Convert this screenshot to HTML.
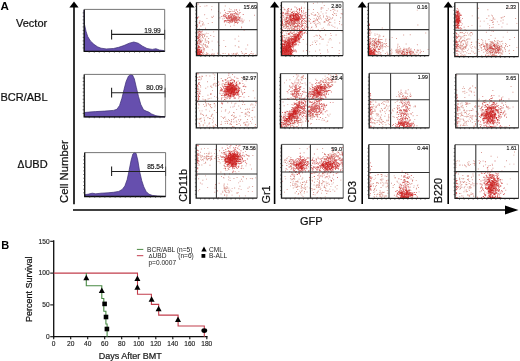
<!DOCTYPE html><html><head><meta charset="utf-8"><style>html,body{margin:0;padding:0;background:#fff;width:520px;height:361px;overflow:hidden;}body{font-family:"Liberation Sans", sans-serif;position:relative;}</style></head><body><svg width="520" height="361" viewBox="0 0 520 361" style="position:absolute;left:0;top:0" font-family="'Liberation Sans', sans-serif"><defs><filter id="bl" x="-5%" y="-5%" width="110%" height="110%"><feGaussianBlur stdDeviation="0.35"/></filter><filter id="gb" x="0" y="0" width="100%" height="100%"><feGaussianBlur stdDeviation="0.3"/></filter></defs><rect width="520" height="361" fill="#fff"/><g filter="url(#gb)"><text x="0.6" y="9.6" font-size="11.6" text-anchor="start" font-weight="bold" fill="#000" >A</text><text x="16" y="26.8" font-size="11" text-anchor="start" font-weight="normal" fill="#111" stroke="#111" stroke-width=".22">Vector</text><text x="0.5" y="101" font-size="11" text-anchor="start" font-weight="normal" fill="#111" stroke="#111" stroke-width=".22">BCR/ABL</text><text x="17.6" y="168" font-size="11" fill="#111" stroke="#111" stroke-width=".22"><tspan font-size="10.2">&#916;</tspan>UBD</text><path d="M84.2 51.4L84.2 10.3L84.5 24.5L85.1 27.1L86 31.2L87.7 36.5L90.4 40.9L93.9 44.3L97.5 46.8L101 48.2L106.3 48.9L113.4 48.5L118.7 47.3L124 45.5L129.3 43.2L133.8 42L138.2 43.2L142.6 46.2L147 48.5L152.3 49.4L155.9 48.7L159.4 50L164.7 50.7L164.7 51.4Z" fill="#6650ae" stroke="#3a2b72" stroke-width=".7"/><path d="M84.2 9.4H164.7V51.4" fill="none" stroke="#666" stroke-width=".9"/><path d="M84.2 9.4V51.4H164.7" fill="none" stroke="#111" stroke-width="1.3"/><path d="M82.7 47.9h1.5M82.7 44.4h1.5M82.7 40.9h1.5M82.7 37.4h1.5M82.7 33.9h1.5M82.7 30.4h1.5M82.7 26.9h1.5M82.7 23.4h1.5M82.7 19.9h1.5M82.7 16.4h1.5M82.7 12.9h1.5M89.2 51.4v1.3M94.3 51.4v1.3M99.3 51.4v1.3M104.3 51.4v1.3M109.4 51.4v1.3M114.4 51.4v1.3M119.4 51.4v1.3M124.5 51.4v1.3M129.5 51.4v1.3M134.5 51.4v1.3M139.6 51.4v1.3M144.6 51.4v1.3M149.6 51.4v1.3M154.7 51.4v1.3M159.7 51.4v1.3" stroke="#222" stroke-width=".6"/><line x1="111.6" y1="34.4" x2="164.7" y2="34.4" stroke="#222" stroke-width="1.1"/><line x1="111.6" y1="29.8" x2="111.6" y2="39.5" stroke="#222" stroke-width="1.1"/><line x1="164.7" y1="29.8" x2="164.7" y2="39.5" stroke="#444" stroke-width="0.9"/><text x="144.2" y="32.5" font-size="7.7" fill="#151515" stroke="#151515" stroke-width=".18" textLength="16.6" lengthAdjust="spacingAndGlyphs">19.99</text><path d="M84.4 116.9L84.4 112.5L88.6 112.1L95.7 111.6L104.5 111.1L113.4 110.4L116.9 109.3L119.6 105.4L121.9 98.3L124 89.5L126.1 81.5L128.4 76.2L130.6 74.4L132.5 75L134.3 78.8L136.4 87.7L138.5 96.5L140.8 104.5L143.5 109.8L146.1 111.1L148.8 112.1L151.5 113.9L155.9 115.7L161.2 116.5L165.1 116.9L165.1 116.9Z" fill="#6650ae" stroke="#3a2b72" stroke-width=".7"/><path d="M84.2 74.4H165.1V116.9" fill="none" stroke="#666" stroke-width=".9"/><path d="M84.2 74.4V116.9H165.1" fill="none" stroke="#111" stroke-width="1.3"/><path d="M82.7 113.4h1.5M82.7 109.8h1.5M82.7 106.3h1.5M82.7 102.7h1.5M82.7 99.2h1.5M82.7 95.7h1.5M82.7 92.1h1.5M82.7 88.6h1.5M82.7 85h1.5M82.7 81.5h1.5M82.7 78h1.5M89.2 116.9v1.3M94.3 116.9v1.3M99.4 116.9v1.3M104.4 116.9v1.3M109.5 116.9v1.3M114.5 116.9v1.3M119.6 116.9v1.3M124.6 116.9v1.3M129.7 116.9v1.3M134.7 116.9v1.3M139.8 116.9v1.3M144.9 116.9v1.3M149.9 116.9v1.3M155 116.9v1.3M160 116.9v1.3" stroke="#222" stroke-width=".6"/><line x1="111.6" y1="92.7" x2="165.1" y2="92.7" stroke="#222" stroke-width="1.1"/><line x1="111.6" y1="87.7" x2="111.6" y2="97.4" stroke="#222" stroke-width="1.1"/><line x1="165.1" y1="87.7" x2="165.1" y2="97.4" stroke="#444" stroke-width="0.9"/><text x="146.2" y="89.6" font-size="7" fill="#151515" stroke="#151515" stroke-width=".18" textLength="16.6" lengthAdjust="spacingAndGlyphs">80.09</text><path d="M84.9 196.5L84.9 194.7L88.6 194.1L92.2 193.2L95.7 193.8L101 193.2L108.1 192.8L113.4 192.3L118.7 191.4L122.2 189.5L124.9 185.9L127.2 179.5L129.3 169.4L131.1 160.3L132.9 153.9L134.3 152.6L136.1 153.3L137.8 160.3L139.6 171.3L141.7 180.4L143.8 186.8L146.1 191.4L148.8 194.1L152.3 195.4L157.6 196.1L165.6 196.5L165.6 196.5Z" fill="#6650ae" stroke="#3a2b72" stroke-width=".7"/><path d="M84.7 152.6H165.6V196.5" fill="none" stroke="#666" stroke-width=".9"/><path d="M84.7 152.6V196.5H165.6" fill="none" stroke="#111" stroke-width="1.3"/><path d="M83.2 192.8h1.5M83.2 189.2h1.5M83.2 185.5h1.5M83.2 181.9h1.5M83.2 178.2h1.5M83.2 174.5h1.5M83.2 170.9h1.5M83.2 167.2h1.5M83.2 163.6h1.5M83.2 159.9h1.5M83.2 156.3h1.5M89.8 196.5v1.3M94.8 196.5v1.3M99.9 196.5v1.3M104.9 196.5v1.3M110 196.5v1.3M115.1 196.5v1.3M120.1 196.5v1.3M125.2 196.5v1.3M130.2 196.5v1.3M135.3 196.5v1.3M140.3 196.5v1.3M145.4 196.5v1.3M150.4 196.5v1.3M155.5 196.5v1.3M160.6 196.5v1.3" stroke="#222" stroke-width=".6"/><line x1="111.6" y1="171.5" x2="165.6" y2="171.5" stroke="#222" stroke-width="1.1"/><line x1="111.6" y1="166.6" x2="111.6" y2="176" stroke="#222" stroke-width="1.1"/><line x1="165.6" y1="166.6" x2="165.6" y2="176" stroke="#444" stroke-width="0.9"/><text x="147.2" y="169.3" font-size="7" fill="#151515" stroke="#151515" stroke-width=".18" textLength="16.5" lengthAdjust="spacingAndGlyphs">85.54</text><line x1="74" y1="6.5" x2="74" y2="204.3" stroke="#000" stroke-width="1.6"/><path d="M69.4 7.5L74 1.5L78.6 7.5Z" fill="#000"/><line x1="190" y1="6.5" x2="190" y2="204" stroke="#000" stroke-width="1.6"/><path d="M185.4 7.5L190 1.5L194.6 7.5Z" fill="#000"/><line x1="274.6" y1="6.5" x2="274.6" y2="204" stroke="#000" stroke-width="1.6"/><path d="M270 7.5L274.6 1.5L279.2 7.5Z" fill="#000"/><line x1="362.2" y1="6.5" x2="362.2" y2="204" stroke="#000" stroke-width="1.6"/><path d="M357.6 7.5L362.2 1.5L366.8 7.5Z" fill="#000"/><line x1="448.2" y1="6.5" x2="448.2" y2="204" stroke="#000" stroke-width="1.6"/><path d="M443.6 7.5L448.2 1.5L452.8 7.5Z" fill="#000"/><line x1="73" y1="210" x2="507" y2="210" stroke="#000" stroke-width="1.6"/><path d="M505 205.6L518.5 210L505 214.4Z" fill="#000"/><text x="300" y="224.6" font-size="11" text-anchor="start" font-weight="normal" fill="#111" stroke="#111" stroke-width=".22">GFP</text><text transform="translate(67.8 203) rotate(-90)" font-size="11.3" fill="#111" stroke="#111" stroke-width=".22">Cell Number</text><text transform="translate(187 201.8) rotate(-90)" font-size="10.8" fill="#111" stroke="#111" stroke-width=".22">CD11b</text><text transform="translate(269.6 203.4) rotate(-90)" font-size="10.8" fill="#111" stroke="#111" stroke-width=".22">Gr1</text><text transform="translate(356.2 202.6) rotate(-90)" font-size="10.8" fill="#111" stroke="#111" stroke-width=".22">CD3</text><text transform="translate(441.6 203.2) rotate(-90)" font-size="10.8" fill="#111" stroke="#111" stroke-width=".22">B220</text><g filter="url(#bl)"><path d="M234.5 22.1h.9v.9h-.9zM234.6 16.5h.9v.9h-.9zM234.7 13.1h.9v.9h-.9zM219.5 17.7h.9v.9h-.9zM225.8 20.7h.9v.9h-.9zM224.8 5.6h.9v.9h-.9zM225 24.5h.9v.9h-.9zM229.3 11.2h.9v.9h-.9zM226.8 19.7h.9v.9h-.9zM235 18.2h.9v.9h-.9zM241.4 20.6h.9v.9h-.9zM231.7 20.1h.9v.9h-.9zM242.6 21.8h.9v.9h-.9zM238.5 12.5h.9v.9h-.9zM230.8 20.7h.9v.9h-.9zM229.9 22.2h.9v.9h-.9zM235.7 21.5h.9v.9h-.9zM230.4 28.9h.9v.9h-.9zM239.9 16.4h.9v.9h-.9zM232.4 29.1h.9v.9h-.9zM229.6 21.3h.9v.9h-.9zM238.2 17.4h.9v.9h-.9zM224.2 18.2h.9v.9h-.9zM234.1 22.5h.9v.9h-.9zM236.9 17.5h.9v.9h-.9zM237.3 19.8h.9v.9h-.9zM233.1 17.6h.9v.9h-.9zM230.2 20.5h.9v.9h-.9zM224.9 14.6h.9v.9h-.9zM231.8 10.8h.9v.9h-.9zM229 8.4h.9v.9h-.9zM227.4 20h.9v.9h-.9zM235.5 17.2h.9v.9h-.9zM230.3 11h.9v.9h-.9zM243.7 19.7h.9v.9h-.9zM238.9 13.4h.9v.9h-.9zM230.6 9.2h.9v.9h-.9zM236.9 21.6h.9v.9h-.9zM219.5 17.2h.9v.9h-.9zM235.9 9.5h.9v.9h-.9zM219.9 12.6h.9v.9h-.9zM227.7 11.1h.9v.9h-.9zM232 18.5h.9v.9h-.9zM235.9 20.6h.9v.9h-.9zM241.6 22.6h.9v.9h-.9zM203 43.3h.9v.9h-.9zM208 42.4h.9v.9h-.9zM197.9 54.4h.9v.9h-.9zM211.8 22.1h.9v.9h-.9zM202.8 43.8h.9v.9h-.9zM206.9 46h.9v.9h-.9zM201.9 30.5h.9v.9h-.9zM203.4 49.3h.9v.9h-.9zM198.6 30.8h.9v.9h-.9zM202.9 22.6h.9v.9h-.9zM202 36.1h.9v.9h-.9zM204.8 33.7h.9v.9h-.9zM199.5 36.5h.9v.9h-.9zM202.8 34h.9v.9h-.9zM203 46.8h.9v.9h-.9zM207.7 54.4h.9v.9h-.9zM199.9 36.2h.9v.9h-.9zM197 54.4h.9v.9h-.9zM200.1 39.7h.9v.9h-.9zM205.1 27.8h.9v.9h-.9zM204.9 39.8h.9v.9h-.9zM197 42.6h.9v.9h-.9zM207.8 23.2h.9v.9h-.9zM206.2 41.9h.9v.9h-.9zM204.9 44h.9v.9h-.9zM208.2 38h.9v.9h-.9zM206.5 36.3h.9v.9h-.9zM205.9 32.7h.9v.9h-.9zM202.6 54.4h.9v.9h-.9zM204.8 38.6h.9v.9h-.9zM198.4 32.9h.9v.9h-.9zM203.8 48.5h.9v.9h-.9zM204.7 44.7h.9v.9h-.9zM202.8 52.2h.9v.9h-.9zM201.4 35.1h.9v.9h-.9zM206.6 40.6h.9v.9h-.9zM201.9 34.8h.9v.9h-.9zM202 45.6h.9v.9h-.9zM204.4 29.1h.9v.9h-.9zM204.7 41.6h.9v.9h-.9zM199 47h.9v.9h-.9zM201.9 37h.9v.9h-.9zM206.2 51.9h.9v.9h-.9zM200.2 43.9h.9v.9h-.9zM199.5 54.4h.9v.9h-.9zM201 50.8h.9v.9h-.9zM200.4 47.3h.9v.9h-.9zM211.9 17.1h.9v.9h-.9zM201.3 44.5h.9v.9h-.9zM202.6 34h.9v.9h-.9zM211.6 40.7h.9v.9h-.9zM197 47.7h.9v.9h-.9zM197 50.4h.9v.9h-.9zM200.7 41.3h.9v.9h-.9zM208 41.1h.9v.9h-.9zM197.4 24.7h.9v.9h-.9zM207.7 46.7h.9v.9h-.9zM199.7 47.7h.9v.9h-.9zM205 45.8h.9v.9h-.9zM197 37.3h.9v.9h-.9zM206.6 46.6h.9v.9h-.9zM206.5 17.9h.9v.9h-.9zM203.7 44.4h.9v.9h-.9zM213.2 31.4h.9v.9h-.9zM201.7 40.3h.9v.9h-.9zM206.5 36h.9v.9h-.9zM207.6 32.9h.9v.9h-.9zM204.1 35.3h.9v.9h-.9zM203.6 33.8h.9v.9h-.9zM197 49.8h.9v.9h-.9zM204.2 35h.9v.9h-.9zM203.8 48.9h.9v.9h-.9zM199.1 39h.9v.9h-.9zM205.2 44.7h.9v.9h-.9zM201.7 21h.9v.9h-.9zM208 43h.9v.9h-.9zM203.1 37.5h.9v.9h-.9zM204.1 36.2h.9v.9h-.9zM198.9 33.3h.9v.9h-.9zM200.6 34.5h.9v.9h-.9zM198.4 45.7h.9v.9h-.9zM197.8 45.9h.9v.9h-.9zM198.9 43.2h.9v.9h-.9zM208.5 41.8h.9v.9h-.9zM200.1 40.4h.9v.9h-.9zM203.6 24.4h.9v.9h-.9zM200.6 41.5h.9v.9h-.9zM201.1 40.7h.9v.9h-.9zM205.9 46.9h.9v.9h-.9zM206.6 45.3h.9v.9h-.9zM201.8 39.8h.9v.9h-.9zM201.9 37.2h.9v.9h-.9zM202.3 24.5h.9v.9h-.9zM201.7 39.8h.9v.9h-.9zM199.1 39.8h.9v.9h-.9zM205.1 38.5h.9v.9h-.9zM211.3 16.5h.9v.9h-.9zM202.2 23.6h.9v.9h-.9zM206.9 54.4h.9v.9h-.9zM197 41.2h.9v.9h-.9zM251.3 52.9h.9v.9h-.9zM244.1 54.4h.9v.9h-.9zM203.7 53.4h.9v.9h-.9zM242.3 52.9h.9v.9h-.9zM250.2 53.2h.9v.9h-.9zM245.7 52.9h.9v.9h-.9zM228.1 54.4h.9v.9h-.9zM211.7 53.2h.9v.9h-.9zM228.3 53.3h.9v.9h-.9zM202.1 53h.9v.9h-.9zM209 54.4h.9v.9h-.9zM238.1 54.4h.9v.9h-.9zM209.4 54.5h.9v.9h-.9zM206.4 53.8h.9v.9h-.9zM235.6 53.4h.9v.9h-.9zM248.9 53.9h.9v.9h-.9zM232.5 54.4h.9v.9h-.9zM205.9 54.4h.9v.9h-.9zM235.3 53.5h.9v.9h-.9zM244.7 53.2h.9v.9h-.9zM255.5 53.9h.9v.9h-.9zM220.2 54.4h.9v.9h-.9zM224.8 52.9h.9v.9h-.9zM241.6 52.6h.9v.9h-.9zM245.9 53.1h.9v.9h-.9zM235.8 54.4h.9v.9h-.9zM232.8 54.2h.9v.9h-.9zM217.5 52.5h.9v.9h-.9zM201.9 52.9h.9v.9h-.9zM234.5 53.6h.9v.9h-.9zM228.7 54.4h.9v.9h-.9zM207.4 53.1h.9v.9h-.9zM236.6 52.6h.9v.9h-.9zM200.1 53.4h.9v.9h-.9zM206 53.4h.9v.9h-.9zM212.6 54h.9v.9h-.9zM233 53h.9v.9h-.9zM234.9 53.7h.9v.9h-.9zM207.5 54.4h.9v.9h-.9zM213.6 52.9h.9v.9h-.9zM205.4 54.1h.9v.9h-.9zM248.8 54.5h.9v.9h-.9zM222.5 53.2h.9v.9h-.9zM200.6 54.1h.9v.9h-.9zM231.5 53.4h.9v.9h-.9zM236.2 53.6h.9v.9h-.9zM252.5 54.3h.9v.9h-.9zM213.9 54.4h.9v.9h-.9zM202.5 53.8h.9v.9h-.9zM222.7 53.1h.9v.9h-.9zM203.3 54.4h.9v.9h-.9zM200.7 53.9h.9v.9h-.9zM252.7 52.9h.9v.9h-.9zM211.2 54h.9v.9h-.9zM228.4 54.1h.9v.9h-.9zM245.5 52.9h.9v.9h-.9zM217.3 53.3h.9v.9h-.9zM202.7 54.4h.9v.9h-.9zM243.8 54.3h.9v.9h-.9zM200.4 54.4h.9v.9h-.9zM241.2 27.3h.9v.9h-.9zM241 26.6h.9v.9h-.9zM211.1 9.3h.9v.9h-.9zM211.5 5.9h.9v.9h-.9zM217.5 41.5h.9v.9h-.9zM238.3 46.3h.9v.9h-.9zM239.3 17.3h.9v.9h-.9zM230.1 25.8h.9v.9h-.9zM243.7 30.2h.9v.9h-.9zM213.4 36.1h.9v.9h-.9zM254 14.8h.9v.9h-.9zM249 4.8h.9v.9h-.9zM213.1 15.8h.9v.9h-.9zM241.1 51.2h.9v.9h-.9zM241.3 20.3h.9v.9h-.9zM249 20.4h.9v.9h-.9zM211.9 49.4h.9v.9h-.9zM234.6 38.6h.9v.9h-.9zM236.6 53h.9v.9h-.9zM225.2 46h.9v.9h-.9zM238.5 46.9h.9v.9h-.9zM223.4 40.2h.9v.9h-.9zM231.1 19.4h.9v.9h-.9zM210.3 35.1h.9v.9h-.9zM202.5 49.5h.9v.9h-.9zM206.4 5.3h.9v.9h-.9zM204.2 50.4h.9v.9h-.9zM218 11.1h.9v.9h-.9zM199.7 6.1h.9v.9h-.9zM238.2 35.7h.9v.9h-.9zM238.4 40.8h.9v.9h-.9zM201.8 33.5h.9v.9h-.9zM219.1 44.9h.9v.9h-.9zM245.5 48.6h.9v.9h-.9zM201.8 47.4h.9v.9h-.9zM251 51.2h.9v.9h-.9zM204.2 14.3h.9v.9h-.9zM204.5 5.7h.9v.9h-.9zM247.2 44.6h.9v.9h-.9zM234.8 45.3h.9v.9h-.9z" fill="#b8382a" fill-opacity=".55"/><path d="M230.8 18.9h.9v.9h-.9zM230.9 16.5h.9v.9h-.9zM228.1 16.8h.9v.9h-.9zM236.2 18.7h.9v.9h-.9zM235.9 18.1h.9v.9h-.9zM233.4 18h.9v.9h-.9zM225.1 20h.9v.9h-.9zM233.8 18.9h.9v.9h-.9zM225 12.2h.9v.9h-.9zM228.2 16h.9v.9h-.9zM233 17.3h.9v.9h-.9zM233.9 15.5h.9v.9h-.9zM233 18.6h.9v.9h-.9zM229.2 22.6h.9v.9h-.9zM234 21h.9v.9h-.9zM229.3 15.2h.9v.9h-.9zM230.4 17.1h.9v.9h-.9zM234.3 18.1h.9v.9h-.9zM230 14.5h.9v.9h-.9zM229.7 21.1h.9v.9h-.9zM228.6 18.1h.9v.9h-.9zM233.5 12.9h.9v.9h-.9zM232 21.3h.9v.9h-.9zM223.7 16.4h.9v.9h-.9zM231.4 14.9h.9v.9h-.9zM233.8 17.2h.9v.9h-.9zM225.9 19.9h.9v.9h-.9zM234.5 20.2h.9v.9h-.9zM237.6 18.5h.9v.9h-.9zM232.3 13.5h.9v.9h-.9zM234.3 15.6h.9v.9h-.9zM230 13.6h.9v.9h-.9zM227.9 15.8h.9v.9h-.9zM237 11.3h.9v.9h-.9zM226 18.1h.9v.9h-.9zM237.6 19.1h.9v.9h-.9zM224.2 9.8h.9v.9h-.9zM233.2 15.2h.9v.9h-.9zM227.3 20.3h.9v.9h-.9zM236.2 17.9h.9v.9h-.9zM232.8 18.7h.9v.9h-.9zM238.2 19.3h.9v.9h-.9zM233.9 19h.9v.9h-.9zM225.5 21.2h.9v.9h-.9zM235.6 19h.9v.9h-.9zM223.9 15.5h.9v.9h-.9zM235.2 12h.9v.9h-.9zM231.1 20.5h.9v.9h-.9zM226.6 22.2h.9v.9h-.9zM234 16.9h.9v.9h-.9zM233.1 19.3h.9v.9h-.9zM232.3 20.8h.9v.9h-.9zM229.2 16.2h.9v.9h-.9zM236 17.5h.9v.9h-.9zM228.3 20.2h.9v.9h-.9zM237.7 16.1h.9v.9h-.9zM226.3 17h.9v.9h-.9zM231.2 16.5h.9v.9h-.9zM237.4 14.3h.9v.9h-.9zM236.8 13.6h.9v.9h-.9zM228.7 19.3h.9v.9h-.9zM236.3 20h.9v.9h-.9zM233.2 17.8h.9v.9h-.9zM232.4 19.1h.9v.9h-.9zM231.1 18.2h.9v.9h-.9zM234.1 17.4h.9v.9h-.9zM234.9 19.1h.9v.9h-.9zM239.8 18.4h.9v.9h-.9zM230.1 16.3h.9v.9h-.9zM231.7 20.2h.9v.9h-.9zM230.5 18.6h.9v.9h-.9zM239.1 9.7h.9v.9h-.9zM227.3 18.1h.9v.9h-.9zM233.4 18.1h.9v.9h-.9zM230.1 19.4h.9v.9h-.9zM232.9 15.8h.9v.9h-.9zM241.5 18.5h.9v.9h-.9zM229.6 17.1h.9v.9h-.9zM230.9 17.2h.9v.9h-.9zM220.9 15.9h.9v.9h-.9zM235.8 13.9h.9v.9h-.9zM231.5 20.3h.9v.9h-.9zM235.2 21.9h.9v.9h-.9zM225 16.3h.9v.9h-.9zM230.4 19.3h.9v.9h-.9zM236.2 9.4h.9v.9h-.9zM236.2 13.1h.9v.9h-.9zM234.5 12.9h.9v.9h-.9zM232.5 21h.9v.9h-.9zM231.2 18h.9v.9h-.9zM235 17.8h.9v.9h-.9zM231.4 22h.9v.9h-.9zM236 16.5h.9v.9h-.9zM242.8 14h.9v.9h-.9zM235.5 16.6h.9v.9h-.9zM232.3 19.5h.9v.9h-.9zM232.7 19.3h.9v.9h-.9zM225.7 12.9h.9v.9h-.9zM234.3 14.5h.9v.9h-.9zM227.7 13h.9v.9h-.9zM236.9 19.6h.9v.9h-.9zM237.7 14.6h.9v.9h-.9zM231.8 14h.9v.9h-.9zM234.9 22.2h.9v.9h-.9zM228.2 22.1h.9v.9h-.9zM235.8 16.9h.9v.9h-.9zM223.9 21.6h.9v.9h-.9zM231.4 15.6h.9v.9h-.9zM233.4 18.6h.9v.9h-.9zM237.8 14.3h.9v.9h-.9zM236.3 21.9h.9v.9h-.9zM237.6 16.9h.9v.9h-.9zM228.8 20.5h.9v.9h-.9zM232.3 17.8h.9v.9h-.9zM237.5 16.6h.9v.9h-.9zM222.6 16.2h.9v.9h-.9zM224.4 19.9h.9v.9h-.9zM233.1 15.6h.9v.9h-.9zM231.8 19.9h.9v.9h-.9zM232.1 21.4h.9v.9h-.9zM231.6 20.5h.9v.9h-.9zM237.8 22.2h.9v.9h-.9zM229.1 20h.9v.9h-.9zM224.3 14.1h.9v.9h-.9zM223.9 20.6h.9v.9h-.9zM226.9 17.4h.9v.9h-.9zM231 17.3h.9v.9h-.9zM229.4 18.1h.9v.9h-.9zM239 17.5h.9v.9h-.9zM233.9 20.4h.9v.9h-.9zM231 13.6h.9v.9h-.9zM229.6 20.6h.9v.9h-.9zM225.2 15.6h.9v.9h-.9zM235.8 19.8h.9v.9h-.9zM231.8 19.8h.9v.9h-.9zM232.5 13.9h.9v.9h-.9zM225.5 15.5h.9v.9h-.9zM235.5 15.7h.9v.9h-.9zM228.2 15.1h.9v.9h-.9zM225.7 17h.9v.9h-.9zM227.1 18.5h.9v.9h-.9zM222.4 18.4h.9v.9h-.9zM229.2 11.6h.9v.9h-.9zM234.7 16.6h.9v.9h-.9zM222.9 14.8h.9v.9h-.9zM233 16h.9v.9h-.9zM234.9 19.6h.9v.9h-.9zM234.5 18.4h.9v.9h-.9zM237.1 19.4h.9v.9h-.9zM233.6 11.1h.9v.9h-.9zM235.4 21.3h.9v.9h-.9zM230.6 16h.9v.9h-.9zM239.6 12.1h.9v.9h-.9zM233.7 24.7h.9v.9h-.9zM228.1 19.5h.9v.9h-.9zM239.3 17h.9v.9h-.9zM234 20.1h.9v.9h-.9zM228.2 17.1h.9v.9h-.9zM233 19.9h.9v.9h-.9zM231.7 16.8h.9v.9h-.9zM227.7 16.3h.9v.9h-.9zM235.4 17.7h.9v.9h-.9zM228.4 14.9h.9v.9h-.9zM242.5 20.8h.9v.9h-.9zM234.3 9.6h.9v.9h-.9zM234.3 18.8h.9v.9h-.9zM238.5 18.7h.9v.9h-.9zM231.5 19h.9v.9h-.9zM224 20.5h.9v.9h-.9zM233.1 15.3h.9v.9h-.9zM237.1 22.8h.9v.9h-.9zM226.2 15.4h.9v.9h-.9zM233 18h.9v.9h-.9zM230.2 14.5h.9v.9h-.9zM240.3 20.5h.9v.9h-.9zM227 13.4h.9v.9h-.9zM238.6 20.4h.9v.9h-.9zM239.1 19.8h.9v.9h-.9zM228.3 18.2h.9v.9h-.9zM223.2 15.2h.9v.9h-.9zM231.6 19h.9v.9h-.9zM228.9 17h.9v.9h-.9zM233.6 18.5h.9v.9h-.9zM234.4 18h.9v.9h-.9zM230.5 19.8h.9v.9h-.9zM232 14.9h.9v.9h-.9zM229.3 17.4h.9v.9h-.9zM231.4 17.9h.9v.9h-.9zM231.8 17.9h.9v.9h-.9zM231.3 13.6h.9v.9h-.9zM198.8 32.7h.9v.9h-.9zM198.1 45.5h.9v.9h-.9zM197.1 44.4h.9v.9h-.9zM200.6 32.5h.9v.9h-.9zM198.4 36.5h.9v.9h-.9zM200.2 41.2h.9v.9h-.9zM199.4 31.1h.9v.9h-.9zM198.2 37.9h.9v.9h-.9zM197 52.4h.9v.9h-.9zM199.4 20.5h.9v.9h-.9zM199.2 36.7h.9v.9h-.9zM198.8 41.7h.9v.9h-.9zM197 35.9h.9v.9h-.9zM200.1 32.3h.9v.9h-.9zM197 24.4h.9v.9h-.9zM197 41.4h.9v.9h-.9zM200.4 42.3h.9v.9h-.9zM198.5 54.4h.9v.9h-.9zM197.5 31.3h.9v.9h-.9zM198.9 43.5h.9v.9h-.9zM197 26.3h.9v.9h-.9zM198.6 40.5h.9v.9h-.9zM197 36h.9v.9h-.9zM197.5 42.6h.9v.9h-.9zM198 37.1h.9v.9h-.9zM197.7 48.5h.9v.9h-.9zM200 34.3h.9v.9h-.9zM199.3 30.4h.9v.9h-.9zM198.3 45.5h.9v.9h-.9zM200.2 34.2h.9v.9h-.9zM198.1 40h.9v.9h-.9zM197 38.2h.9v.9h-.9zM197.3 41.7h.9v.9h-.9zM197 18.2h.9v.9h-.9zM198.2 40.6h.9v.9h-.9zM197.5 46.9h.9v.9h-.9zM197.8 31.9h.9v.9h-.9zM198.8 22.3h.9v.9h-.9zM197.3 37.8h.9v.9h-.9zM199.3 36.4h.9v.9h-.9zM198.6 31.4h.9v.9h-.9zM198.6 54.4h.9v.9h-.9zM197.3 54.4h.9v.9h-.9zM197.4 38.2h.9v.9h-.9zM198.4 48.2h.9v.9h-.9zM197 17h.9v.9h-.9zM199 46h.9v.9h-.9zM199 54.4h.9v.9h-.9zM198.5 40.5h.9v.9h-.9zM199.4 41.7h.9v.9h-.9zM200.4 25.6h.9v.9h-.9zM197.7 3.6h.9v.9h-.9zM199.3 34.3h.9v.9h-.9zM199.4 54.4h.9v.9h-.9zM198.2 35.5h.9v.9h-.9zM197.6 29.6h.9v.9h-.9zM197.4 44.4h.9v.9h-.9zM198.2 38.7h.9v.9h-.9zM198 47.1h.9v.9h-.9zM198.8 36.6h.9v.9h-.9zM199.1 36.5h.9v.9h-.9zM197 52.6h.9v.9h-.9zM198.8 28.4h.9v.9h-.9zM199.6 41.4h.9v.9h-.9zM197 54.1h.9v.9h-.9zM198.6 46.9h.9v.9h-.9zM198.5 36.5h.9v.9h-.9zM197 47.7h.9v.9h-.9zM198.2 35.1h.9v.9h-.9zM198.7 38.8h.9v.9h-.9zM199.1 34.3h.9v.9h-.9zM198.2 16.6h.9v.9h-.9zM197.6 44.8h.9v.9h-.9zM199.9 34.4h.9v.9h-.9zM198 53.8h.9v.9h-.9zM197.8 45.3h.9v.9h-.9zM200.4 38.4h.9v.9h-.9zM199.8 30.9h.9v.9h-.9zM198.5 37.2h.9v.9h-.9zM198.3 49.3h.9v.9h-.9zM201.3 31.3h.9v.9h-.9zM197.5 43h.9v.9h-.9zM197 43h.9v.9h-.9zM198.9 35.2h.9v.9h-.9zM198.9 22.5h.9v.9h-.9zM199.2 22.6h.9v.9h-.9zM197.3 32.4h.9v.9h-.9zM197.7 46.6h.9v.9h-.9zM198.3 34h.9v.9h-.9zM198.9 53.8h.9v.9h-.9z" fill="#c21e1e" fill-opacity=".7"/><path d="M197 51h.9v.9h-.9zM197 49.8h.9v.9h-.9zM198.4 52h.9v.9h-.9zM199.4 48.8h.9v.9h-.9zM197 52h.9v.9h-.9zM198.1 51.4h.9v.9h-.9zM198.4 50.5h.9v.9h-.9zM199.8 52.7h.9v.9h-.9zM198.3 50.7h.9v.9h-.9zM198.2 46.6h.9v.9h-.9zM197 52.1h.9v.9h-.9zM197 52.4h.9v.9h-.9zM198.8 49.2h.9v.9h-.9zM198 51.4h.9v.9h-.9zM199.3 53.2h.9v.9h-.9zM198.4 50.3h.9v.9h-.9zM198.2 51.9h.9v.9h-.9zM199.8 52.6h.9v.9h-.9zM197.2 49.3h.9v.9h-.9zM197.8 50.5h.9v.9h-.9zM197 51.8h.9v.9h-.9zM197.6 52.2h.9v.9h-.9zM199.4 51.2h.9v.9h-.9zM202.7 51.4h.9v.9h-.9zM200.5 52.2h.9v.9h-.9zM200.5 47.2h.9v.9h-.9zM197.1 52.5h.9v.9h-.9zM199.6 54.4h.9v.9h-.9zM199.1 54.4h.9v.9h-.9zM199.9 53.9h.9v.9h-.9zM199.4 51.7h.9v.9h-.9zM199.4 49.8h.9v.9h-.9zM200.6 50h.9v.9h-.9zM198.9 54.4h.9v.9h-.9zM198.1 52h.9v.9h-.9zM200.6 52.1h.9v.9h-.9zM197 52.5h.9v.9h-.9zM199.5 53.4h.9v.9h-.9zM197.1 54.4h.9v.9h-.9zM201.5 52h.9v.9h-.9zM199 51.1h.9v.9h-.9zM201 50.6h.9v.9h-.9zM199.7 51h.9v.9h-.9zM197.3 53.4h.9v.9h-.9zM200.9 52h.9v.9h-.9zM197.3 53.6h.9v.9h-.9zM198.4 52.6h.9v.9h-.9zM201.2 54.3h.9v.9h-.9zM197.6 54.4h.9v.9h-.9zM198.5 53.6h.9v.9h-.9zM197.3 51.9h.9v.9h-.9zM197 54.4h.9v.9h-.9zM201 49.6h.9v.9h-.9zM197 48.8h.9v.9h-.9zM200.6 51.1h.9v.9h-.9zM198.4 51.4h.9v.9h-.9zM198.3 49.8h.9v.9h-.9zM198.5 49.1h.9v.9h-.9zM198.4 52.6h.9v.9h-.9zM199.3 51.5h.9v.9h-.9zM197 52.3h.9v.9h-.9zM197.6 54.4h.9v.9h-.9zM199.9 51.8h.9v.9h-.9zM197.7 50.6h.9v.9h-.9zM197 51.3h.9v.9h-.9zM199 53h.9v.9h-.9zM199.5 54.4h.9v.9h-.9zM197.2 52h.9v.9h-.9zM203.5 48.3h.9v.9h-.9zM197.6 52.3h.9v.9h-.9zM198.8 52.8h.9v.9h-.9zM198.1 52.7h.9v.9h-.9zM198.6 53.5h.9v.9h-.9zM197 50.2h.9v.9h-.9zM198.5 49.9h.9v.9h-.9zM197 53.3h.9v.9h-.9zM197.3 53.3h.9v.9h-.9zM199.8 52.6h.9v.9h-.9zM199.4 51.8h.9v.9h-.9zM197 51.9h.9v.9h-.9z" fill="#c81212" fill-opacity=".8"/></g><path d="M196.5 2.6H257.2V55.7" fill="none" stroke="#5a5a5a" stroke-width="1"/><path d="M196.5 2.6V55.7H257.2" fill="none" stroke="#1a1a1a" stroke-width="1.3"/><path d="M195.2 51.9h1.3M200.8 55.7v1.3M195.2 48.1h1.3M205.2 55.7v1.3M195.2 44.3h1.3M209.5 55.7v1.3M195.2 40.5h1.3M213.8 55.7v1.3M195.2 36.7h1.3M218.2 55.7v1.3M195.2 32.9h1.3M222.5 55.7v1.3M195.2 29.2h1.3M226.8 55.7v1.3M195.2 25.4h1.3M231.2 55.7v1.3M195.2 21.6h1.3M235.5 55.7v1.3M195.2 17.8h1.3M239.9 55.7v1.3M195.2 14h1.3M244.2 55.7v1.3M195.2 10.2h1.3M248.5 55.7v1.3M195.2 6.4h1.3M252.9 55.7v1.3" stroke="#222" stroke-width=".6"/><line x1="218.8" y1="2.6" x2="218.8" y2="55.7" stroke="#303030" stroke-width="1.05"/><line x1="196.5" y1="29.6" x2="257.2" y2="29.6" stroke="#303030" stroke-width="1.05"/><text x="243.4" y="8.8" font-size="6.1" fill="#151515" stroke="#151515" stroke-width=".15" textLength="13.5" lengthAdjust="spacingAndGlyphs">15.69</text><g filter="url(#bl)"><path d="M296.4 19.9h.9v.9h-.9zM284.1 21.8h.9v.9h-.9zM294.9 29.3h.9v.9h-.9zM284.7 25.1h.9v.9h-.9zM286.9 21.4h.9v.9h-.9zM290.3 26.4h.9v.9h-.9zM293.3 28.1h.9v.9h-.9zM286.1 27.1h.9v.9h-.9zM297.6 24.2h.9v.9h-.9zM294.9 22h.9v.9h-.9zM285.5 22.6h.9v.9h-.9zM288.1 34.1h.9v.9h-.9zM289.1 29.8h.9v.9h-.9zM293.2 25.1h.9v.9h-.9zM296.5 21.3h.9v.9h-.9zM297.5 25.3h.9v.9h-.9zM282.9 26.1h.9v.9h-.9zM295.3 25.6h.9v.9h-.9zM301.5 22.5h.9v.9h-.9zM295.1 26.6h.9v.9h-.9zM286.6 28.2h.9v.9h-.9zM283.3 19.4h.9v.9h-.9zM295.1 20.2h.9v.9h-.9zM291.3 18.2h.9v.9h-.9zM292.4 20h.9v.9h-.9zM294.1 18.6h.9v.9h-.9zM294.7 23.1h.9v.9h-.9zM292.4 23.8h.9v.9h-.9zM292.8 19.4h.9v.9h-.9zM281.9 24.1h.9v.9h-.9zM286.4 22.4h.9v.9h-.9zM294.6 17.1h.9v.9h-.9zM287.4 21.9h.9v.9h-.9zM285.7 25.1h.9v.9h-.9zM291.2 21.1h.9v.9h-.9zM286.1 26.8h.9v.9h-.9zM288 26h.9v.9h-.9zM294.7 17.4h.9v.9h-.9zM285.5 24h.9v.9h-.9zM294.1 26.7h.9v.9h-.9zM296.8 27.6h.9v.9h-.9zM289.8 23.3h.9v.9h-.9zM296.7 22.5h.9v.9h-.9zM298.3 18.4h.9v.9h-.9zM295.9 23.4h.9v.9h-.9zM281.9 27.4h.9v.9h-.9zM293.9 24.1h.9v.9h-.9zM285.5 22.4h.9v.9h-.9zM301.1 21.1h.9v.9h-.9zM281.9 21h.9v.9h-.9zM284.8 23.5h.9v.9h-.9zM289.6 20.8h.9v.9h-.9zM286.9 27.7h.9v.9h-.9zM283.3 30.8h.9v.9h-.9zM288.7 20.2h.9v.9h-.9zM296.7 26h.9v.9h-.9zM285.7 26.6h.9v.9h-.9zM281.9 20.8h.9v.9h-.9zM298.8 23.1h.9v.9h-.9zM284.2 25.8h.9v.9h-.9zM297.5 23.9h.9v.9h-.9zM281.9 22.8h.9v.9h-.9zM294.5 26.7h.9v.9h-.9zM303.1 23.1h.9v.9h-.9zM289.1 23.9h.9v.9h-.9zM299.2 20.7h.9v.9h-.9zM299.8 14.4h.9v.9h-.9zM296.8 21.6h.9v.9h-.9zM294.8 26.4h.9v.9h-.9zM284.9 23.7h.9v.9h-.9zM293.4 26.1h.9v.9h-.9zM286.4 20.5h.9v.9h-.9zM281.9 32.9h.9v.9h-.9zM290.8 23.2h.9v.9h-.9zM283 27.3h.9v.9h-.9zM288.8 29h.9v.9h-.9zM297.1 24.1h.9v.9h-.9zM296.4 20.1h.9v.9h-.9zM290 22h.9v.9h-.9zM284.4 24.1h.9v.9h-.9zM291.1 29h.9v.9h-.9zM281.9 21.6h.9v.9h-.9zM286.5 22.4h.9v.9h-.9zM294.5 25.4h.9v.9h-.9zM292.2 22.3h.9v.9h-.9zM295 25.3h.9v.9h-.9zM281.9 23.1h.9v.9h-.9zM283.8 19.9h.9v.9h-.9zM292.9 24.2h.9v.9h-.9zM292.7 20.9h.9v.9h-.9zM290.8 20.8h.9v.9h-.9zM294.3 26.4h.9v.9h-.9zM302.5 28.4h.9v.9h-.9zM287.2 22.4h.9v.9h-.9zM286.4 25.1h.9v.9h-.9zM303.9 26.5h.9v.9h-.9zM281.9 19.6h.9v.9h-.9zM284.2 25.8h.9v.9h-.9zM292 25h.9v.9h-.9zM302.7 21.1h.9v.9h-.9zM286.9 30.9h.9v.9h-.9zM294.1 21.3h.9v.9h-.9zM281.9 18.7h.9v.9h-.9zM281.9 24.2h.9v.9h-.9zM292.3 27.5h.9v.9h-.9zM291.2 21.6h.9v.9h-.9zM287.6 30.7h.9v.9h-.9zM281.9 24.6h.9v.9h-.9zM292.2 26.2h.9v.9h-.9zM289.6 25.7h.9v.9h-.9zM289.4 19.1h.9v.9h-.9zM285.6 18.9h.9v.9h-.9zM284.1 18.8h.9v.9h-.9zM286.1 21.3h.9v.9h-.9zM291 27.8h.9v.9h-.9zM285.7 23.6h.9v.9h-.9zM287.9 24.6h.9v.9h-.9zM287.1 21.6h.9v.9h-.9zM285.6 15.3h.9v.9h-.9zM289.6 27.8h.9v.9h-.9zM289 22.6h.9v.9h-.9zM287.8 17.3h.9v.9h-.9zM281.9 24h.9v.9h-.9zM287.6 16.7h.9v.9h-.9zM284.1 27.7h.9v.9h-.9zM281.9 30.6h.9v.9h-.9zM288.9 34.2h.9v.9h-.9zM284.8 19.9h.9v.9h-.9zM285.5 20.9h.9v.9h-.9zM286.4 15.5h.9v.9h-.9zM290.2 15.3h.9v.9h-.9zM285.5 23.3h.9v.9h-.9zM285.4 17.4h.9v.9h-.9zM288.1 17.8h.9v.9h-.9zM283.3 19.4h.9v.9h-.9zM286.3 30.2h.9v.9h-.9zM283.7 25.8h.9v.9h-.9zM284.6 17.9h.9v.9h-.9zM286 21.6h.9v.9h-.9zM289.6 30.5h.9v.9h-.9zM285.1 28h.9v.9h-.9zM290 24.9h.9v.9h-.9zM284.7 25.4h.9v.9h-.9zM286.7 22.1h.9v.9h-.9zM286.2 24h.9v.9h-.9zM290.3 26.8h.9v.9h-.9zM286.4 26h.9v.9h-.9zM291.4 14.4h.9v.9h-.9zM291.4 12h.9v.9h-.9zM288.6 23.6h.9v.9h-.9zM291.4 21.7h.9v.9h-.9zM285.6 15.2h.9v.9h-.9zM283.2 24.6h.9v.9h-.9zM286.3 15.7h.9v.9h-.9zM288.6 15.4h.9v.9h-.9zM285.7 17.2h.9v.9h-.9zM292 28.8h.9v.9h-.9zM286.5 10.6h.9v.9h-.9zM287.8 20.4h.9v.9h-.9zM288 23.4h.9v.9h-.9zM286 25.6h.9v.9h-.9zM289.5 21.3h.9v.9h-.9zM285.8 17.1h.9v.9h-.9zM289.1 13.4h.9v.9h-.9zM286.5 15.5h.9v.9h-.9zM282.8 23.6h.9v.9h-.9zM286.9 20.2h.9v.9h-.9zM289.6 11h.9v.9h-.9zM286.8 21.7h.9v.9h-.9zM289.5 13.5h.9v.9h-.9zM288.3 45h.9v.9h-.9zM292.1 24.5h.9v.9h-.9zM287.1 29.4h.9v.9h-.9zM289.2 33.2h.9v.9h-.9zM285.8 32.7h.9v.9h-.9zM289.1 34.2h.9v.9h-.9zM284.5 35.1h.9v.9h-.9zM289.6 32.7h.9v.9h-.9zM292.3 29.5h.9v.9h-.9zM289.6 34.5h.9v.9h-.9zM294.1 33.5h.9v.9h-.9zM285.4 30.8h.9v.9h-.9zM295.7 38.4h.9v.9h-.9zM283.8 34.7h.9v.9h-.9zM284.3 41.9h.9v.9h-.9zM289.6 28.1h.9v.9h-.9zM288.8 39.6h.9v.9h-.9zM288 37.8h.9v.9h-.9zM287.6 36.8h.9v.9h-.9zM288.8 33.3h.9v.9h-.9zM289.4 36.6h.9v.9h-.9zM287.9 33.3h.9v.9h-.9zM284.1 37h.9v.9h-.9zM291.2 26.6h.9v.9h-.9zM285.9 41.3h.9v.9h-.9zM291.6 33.2h.9v.9h-.9zM293.3 32.2h.9v.9h-.9zM284.9 43.5h.9v.9h-.9zM286.3 35.2h.9v.9h-.9zM281.9 32.1h.9v.9h-.9zM283.4 35.5h.9v.9h-.9zM281.9 40.1h.9v.9h-.9zM286.6 33.6h.9v.9h-.9zM285.5 38.9h.9v.9h-.9zM294 34.4h.9v.9h-.9zM294.3 42.3h.9v.9h-.9zM293.2 37.2h.9v.9h-.9zM282.2 38.6h.9v.9h-.9zM286.4 36.8h.9v.9h-.9zM281.9 34.9h.9v.9h-.9zM288.9 32.4h.9v.9h-.9zM289.1 42.5h.9v.9h-.9zM288.9 33.3h.9v.9h-.9zM297.3 27.6h.9v.9h-.9zM284.4 37.6h.9v.9h-.9zM285.7 27.1h.9v.9h-.9zM289 39.2h.9v.9h-.9zM284.9 41.7h.9v.9h-.9zM289.9 40.6h.9v.9h-.9zM282.1 36h.9v.9h-.9zM294.2 43.9h.9v.9h-.9zM293.1 36h.9v.9h-.9zM288.7 33.6h.9v.9h-.9zM292.3 33.3h.9v.9h-.9zM288.5 28h.9v.9h-.9zM282.1 42.9h.9v.9h-.9zM288.2 36.8h.9v.9h-.9zM281.9 35.9h.9v.9h-.9zM296.1 30.2h.9v.9h-.9zM281.9 35.4h.9v.9h-.9zM319.3 15.8h.9v.9h-.9zM313 9.1h.9v.9h-.9zM313.2 20.8h.9v.9h-.9zM323.6 21.8h.9v.9h-.9zM314.5 20.5h.9v.9h-.9zM320.1 17.5h.9v.9h-.9zM332.2 17.2h.9v.9h-.9zM320.9 7.2h.9v.9h-.9zM324.6 21.6h.9v.9h-.9zM318.4 16.6h.9v.9h-.9zM308.4 9.2h.9v.9h-.9zM327.5 24.6h.9v.9h-.9zM321.3 7.2h.9v.9h-.9zM320.7 7.8h.9v.9h-.9zM321.6 28.3h.9v.9h-.9zM326.6 16.1h.9v.9h-.9zM333.1 14.8h.9v.9h-.9zM326.9 18.2h.9v.9h-.9zM327.9 8.4h.9v.9h-.9zM330.3 22.2h.9v.9h-.9zM303.9 2.4h.9v.9h-.9zM316.1 25.8h.9v.9h-.9zM324.2 21h.9v.9h-.9zM328.9 22.2h.9v.9h-.9zM318.4 13.6h.9v.9h-.9zM327.3 20.6h.9v.9h-.9zM329.1 19h.9v.9h-.9zM319.7 23.5h.9v.9h-.9zM328.2 23.3h.9v.9h-.9zM301.5 23h.9v.9h-.9zM302.4 18.2h.9v.9h-.9zM318.1 17.7h.9v.9h-.9zM319.8 15.2h.9v.9h-.9zM325.7 19h.9v.9h-.9zM316.9 2.4h.9v.9h-.9zM317.1 20.2h.9v.9h-.9zM316.5 19.5h.9v.9h-.9zM320.7 11.4h.9v.9h-.9zM334.4 26.8h.9v.9h-.9zM323.1 16.7h.9v.9h-.9zM332.5 9.1h.9v.9h-.9zM316.3 23.7h.9v.9h-.9zM332 14.1h.9v.9h-.9zM317.1 19.1h.9v.9h-.9zM311.5 14h.9v.9h-.9zM321.9 2.4h.9v.9h-.9zM329.3 21.5h.9v.9h-.9zM333.5 8.5h.9v.9h-.9zM312.6 12.2h.9v.9h-.9zM312.4 29.2h.9v.9h-.9zM315.3 15.1h.9v.9h-.9zM325.8 19.7h.9v.9h-.9zM336.9 10.5h.9v.9h-.9zM331.8 17.9h.9v.9h-.9zM313.6 17.9h.9v.9h-.9zM311.5 26.6h.9v.9h-.9zM317.5 23h.9v.9h-.9zM335.6 13.3h.9v.9h-.9zM316 17.8h.9v.9h-.9zM314.6 22.4h.9v.9h-.9zM325.6 12.5h.9v.9h-.9zM317.9 21.3h.9v.9h-.9zM311 27.1h.9v.9h-.9zM317 15.8h.9v.9h-.9zM315.7 26.7h.9v.9h-.9zM331.4 24.8h.9v.9h-.9zM329.8 17.5h.9v.9h-.9zM339.2 21h.9v.9h-.9zM327.9 20.4h.9v.9h-.9zM330.6 18.7h.9v.9h-.9zM322.5 7.5h.9v.9h-.9zM341.7 9.2h.9v.9h-.9zM304.7 12.7h.9v.9h-.9zM341.3 24.3h.9v.9h-.9zM318.6 18.6h.9v.9h-.9zM323.8 5.1h.9v.9h-.9zM321 18.7h.9v.9h-.9zM334.5 9.8h.9v.9h-.9zM303.8 7.6h.9v.9h-.9zM327 17.5h.9v.9h-.9zM325.3 17.9h.9v.9h-.9zM320.7 8.8h.9v.9h-.9zM328.1 19.3h.9v.9h-.9zM329.2 24.5h.9v.9h-.9zM312.9 3h.9v.9h-.9zM308 29.8h.9v.9h-.9zM315.8 19.4h.9v.9h-.9zM323.9 21.4h.9v.9h-.9zM341.7 13.9h.9v.9h-.9zM322.5 13.4h.9v.9h-.9zM326.2 20.1h.9v.9h-.9zM315.3 24.9h.9v.9h-.9zM334.3 19.7h.9v.9h-.9zM323 15.6h.9v.9h-.9zM309.2 20.9h.9v.9h-.9zM315.2 14h.9v.9h-.9zM333 11.5h.9v.9h-.9zM319.3 22.1h.9v.9h-.9zM340.7 12.9h.9v.9h-.9zM333.9 13.1h.9v.9h-.9zM327.5 19.9h.9v.9h-.9zM313.8 23.2h.9v.9h-.9zM340.2 17.3h.9v.9h-.9zM326.4 10h.9v.9h-.9zM340.1 17.4h.9v.9h-.9zM312.5 21.6h.9v.9h-.9zM310.8 12.9h.9v.9h-.9zM304.8 25.3h.9v.9h-.9zM341.7 13.2h.9v.9h-.9zM318.1 13.5h.9v.9h-.9zM316 43.9h.9v.9h-.9zM330.2 32.9h.9v.9h-.9zM323.1 27.4h.9v.9h-.9zM330.7 39.4h.9v.9h-.9zM315.1 50.7h.9v.9h-.9zM319.3 49.6h.9v.9h-.9zM327.5 51.6h.9v.9h-.9zM314.4 40.4h.9v.9h-.9zM322.6 38.6h.9v.9h-.9zM330.7 35h.9v.9h-.9zM327 49.5h.9v.9h-.9zM306.3 33.2h.9v.9h-.9zM313.7 36.2h.9v.9h-.9zM322.7 38.8h.9v.9h-.9zM320.6 36.8h.9v.9h-.9zM319.4 43.4h.9v.9h-.9zM325.2 34.5h.9v.9h-.9zM319.2 34.7h.9v.9h-.9zM318.8 30h.9v.9h-.9zM326.7 44.7h.9v.9h-.9zM319.1 35.2h.9v.9h-.9zM316.8 35.3h.9v.9h-.9zM309.2 51.4h.9v.9h-.9zM341.7 31.4h.9v.9h-.9zM311.8 44h.9v.9h-.9zM324.2 29h.9v.9h-.9zM306.6 43.8h.9v.9h-.9zM306.1 50h.9v.9h-.9zM316.5 40.6h.9v.9h-.9zM320 36.1h.9v.9h-.9zM319 37.9h.9v.9h-.9zM328.7 39.4h.9v.9h-.9zM319.8 36.3h.9v.9h-.9zM315.6 34.8h.9v.9h-.9zM320.1 52.9h.9v.9h-.9zM327.8 41.7h.9v.9h-.9zM331.7 47.1h.9v.9h-.9zM321.5 38.8h.9v.9h-.9zM312.3 41.7h.9v.9h-.9zM317.8 28.9h.9v.9h-.9zM302.9 50.6h.9v.9h-.9zM293.7 10.8h.9v.9h-.9zM330.3 10h.9v.9h-.9zM293.8 29h.9v.9h-.9zM302.5 12.2h.9v.9h-.9zM336.9 27.7h.9v.9h-.9zM328.6 16.5h.9v.9h-.9zM335.9 15.1h.9v.9h-.9zM335.6 34.6h.9v.9h-.9zM339.3 42.6h.9v.9h-.9zM319.6 30.6h.9v.9h-.9zM332.6 26.2h.9v.9h-.9zM288.7 49.7h.9v.9h-.9zM329.7 38.1h.9v.9h-.9zM326.2 15.6h.9v.9h-.9zM309.9 45.1h.9v.9h-.9zM338.8 50.2h.9v.9h-.9zM292.3 38.2h.9v.9h-.9zM315.1 24.3h.9v.9h-.9zM292.7 10.9h.9v.9h-.9zM310.3 28.7h.9v.9h-.9zM298.5 22.4h.9v.9h-.9zM315.1 42.1h.9v.9h-.9zM317.2 12.1h.9v.9h-.9zM334.4 22.4h.9v.9h-.9zM338.7 53.1h.9v.9h-.9zM291.1 33.1h.9v.9h-.9zM339.1 23.3h.9v.9h-.9zM314.8 19.7h.9v.9h-.9zM284.7 14.2h.9v.9h-.9z" fill="#b8382a" fill-opacity=".55"/><path d="M307.5 27.6h.9v.9h-.9zM292.6 19.3h.9v.9h-.9zM293 22.8h.9v.9h-.9zM300.7 18.4h.9v.9h-.9zM285.2 21.6h.9v.9h-.9zM290.9 21h.9v.9h-.9zM295.7 25.8h.9v.9h-.9zM301.4 15.8h.9v.9h-.9zM296.3 26.5h.9v.9h-.9zM290.5 20.1h.9v.9h-.9zM301.7 24h.9v.9h-.9zM297.4 11.7h.9v.9h-.9zM285.8 19.2h.9v.9h-.9zM296.5 30.2h.9v.9h-.9zM288.4 23.5h.9v.9h-.9zM299 10h.9v.9h-.9zM288.7 18.8h.9v.9h-.9zM290.8 17.3h.9v.9h-.9zM297.1 14.1h.9v.9h-.9zM297 14.9h.9v.9h-.9zM290.5 20.6h.9v.9h-.9zM290.3 19.4h.9v.9h-.9zM304.4 18.1h.9v.9h-.9zM293.1 21.5h.9v.9h-.9zM291.6 23.2h.9v.9h-.9zM285.7 21h.9v.9h-.9zM290.7 14.2h.9v.9h-.9zM305.5 13.9h.9v.9h-.9zM305.4 21.2h.9v.9h-.9zM303.4 13.3h.9v.9h-.9zM301.8 25h.9v.9h-.9zM293.2 17.4h.9v.9h-.9zM310 18.9h.9v.9h-.9zM291.3 15h.9v.9h-.9zM296.9 19.6h.9v.9h-.9zM295.2 26.3h.9v.9h-.9zM291.9 20.3h.9v.9h-.9zM303.5 13.2h.9v.9h-.9zM300.8 26.8h.9v.9h-.9zM285.2 12.7h.9v.9h-.9zM287.3 9.1h.9v.9h-.9zM296.9 9.1h.9v.9h-.9zM297.2 25h.9v.9h-.9zM283.5 16.5h.9v.9h-.9zM281.9 21.7h.9v.9h-.9zM289.2 16.7h.9v.9h-.9zM294.4 20.6h.9v.9h-.9zM291.7 18.1h.9v.9h-.9zM290.4 18.6h.9v.9h-.9zM286.4 18.3h.9v.9h-.9zM281.9 15.6h.9v.9h-.9zM306.4 18.4h.9v.9h-.9zM285.8 19.2h.9v.9h-.9zM287.7 10.1h.9v.9h-.9zM289.2 21.5h.9v.9h-.9zM296.5 17.5h.9v.9h-.9zM288 12.8h.9v.9h-.9zM302.8 19.2h.9v.9h-.9zM287.8 7.9h.9v.9h-.9zM285.1 29.9h.9v.9h-.9zM286.5 17.6h.9v.9h-.9zM295.4 17.2h.9v.9h-.9zM292.2 11.4h.9v.9h-.9zM287.2 26.1h.9v.9h-.9zM289.1 22.1h.9v.9h-.9zM283 16.7h.9v.9h-.9zM295.7 23h.9v.9h-.9zM286.7 20.9h.9v.9h-.9zM296.5 14.5h.9v.9h-.9zM297.1 13.7h.9v.9h-.9zM288.8 17.9h.9v.9h-.9zM281.9 17.5h.9v.9h-.9zM287.5 11h.9v.9h-.9zM291.2 21.7h.9v.9h-.9zM291.4 24.1h.9v.9h-.9zM286.5 11.7h.9v.9h-.9zM304.1 19.9h.9v.9h-.9zM300.1 14h.9v.9h-.9zM299.2 19.2h.9v.9h-.9zM298.2 18.1h.9v.9h-.9zM301.8 14.9h.9v.9h-.9zM287.7 10.9h.9v.9h-.9zM301.5 14.5h.9v.9h-.9zM287.2 13.5h.9v.9h-.9zM291.1 11.9h.9v.9h-.9zM292.1 15h.9v.9h-.9zM290.4 13.4h.9v.9h-.9zM294.2 15.8h.9v.9h-.9zM294.7 19.2h.9v.9h-.9zM296.2 7.5h.9v.9h-.9zM290.5 14.2h.9v.9h-.9zM299 10.4h.9v.9h-.9zM289.4 16.6h.9v.9h-.9zM291.8 22.8h.9v.9h-.9zM291.1 22.6h.9v.9h-.9zM284.5 9.3h.9v.9h-.9zM301.9 20.1h.9v.9h-.9zM297.2 18.6h.9v.9h-.9zM297.1 12.2h.9v.9h-.9zM300.2 15.4h.9v.9h-.9zM300.4 18.4h.9v.9h-.9zM281.9 11.8h.9v.9h-.9zM301.3 17.3h.9v.9h-.9zM291.4 19.2h.9v.9h-.9zM291.2 15.4h.9v.9h-.9zM294.7 18.7h.9v.9h-.9zM303.9 18.2h.9v.9h-.9zM306.2 26.7h.9v.9h-.9zM305.2 23.1h.9v.9h-.9zM294.8 18.7h.9v.9h-.9zM293.1 14.5h.9v.9h-.9zM293.6 14.9h.9v.9h-.9zM304.7 20.6h.9v.9h-.9zM291.1 8.8h.9v.9h-.9zM293.7 16h.9v.9h-.9zM286.9 12.5h.9v.9h-.9zM281.9 20.7h.9v.9h-.9zM293.6 30.4h.9v.9h-.9zM293.8 17.3h.9v.9h-.9zM303.4 18.6h.9v.9h-.9zM295.1 16.2h.9v.9h-.9zM290.1 25.2h.9v.9h-.9zM300.5 26.2h.9v.9h-.9zM291.7 18.1h.9v.9h-.9zM288.3 22.6h.9v.9h-.9zM284.9 20.7h.9v.9h-.9zM301.1 24.8h.9v.9h-.9zM287.9 23.2h.9v.9h-.9zM289.4 14.4h.9v.9h-.9zM285.4 23.5h.9v.9h-.9zM304.7 15.1h.9v.9h-.9zM289.1 16.4h.9v.9h-.9zM310.3 22.8h.9v.9h-.9zM290.5 9.4h.9v.9h-.9zM289.6 23.7h.9v.9h-.9zM306.1 16.7h.9v.9h-.9zM289.5 15.6h.9v.9h-.9zM281.9 22.4h.9v.9h-.9zM286.9 23.1h.9v.9h-.9zM282.9 11.9h.9v.9h-.9zM295.9 14.3h.9v.9h-.9zM299.1 18h.9v.9h-.9zM286.4 21h.9v.9h-.9zM299.5 8.8h.9v.9h-.9zM305.9 20.4h.9v.9h-.9zM298.9 9.1h.9v.9h-.9zM289.3 16.3h.9v.9h-.9zM301 11h.9v.9h-.9zM288.3 8.3h.9v.9h-.9zM292.4 19.7h.9v.9h-.9zM283 15.2h.9v.9h-.9zM297.3 25.6h.9v.9h-.9zM298.3 16.5h.9v.9h-.9zM286.3 13.5h.9v.9h-.9zM289.7 18.7h.9v.9h-.9zM293.7 26h.9v.9h-.9zM295.9 12.9h.9v.9h-.9zM304 22.6h.9v.9h-.9zM294.7 14.5h.9v.9h-.9zM281.8 13.1h.9v.9h-.9zM299.9 14.1h.9v.9h-.9zM285.4 18.9h.9v.9h-.9zM295.6 20.9h.9v.9h-.9zM298.3 24.8h.9v.9h-.9zM288.5 22.7h.9v.9h-.9zM287.6 21.3h.9v.9h-.9zM295.2 19.2h.9v.9h-.9zM300.3 17.9h.9v.9h-.9zM301.2 22.2h.9v.9h-.9zM294.9 15.3h.9v.9h-.9zM289.1 15.5h.9v.9h-.9zM292.7 17.9h.9v.9h-.9zM313.4 21.1h.9v.9h-.9zM299 13.9h.9v.9h-.9zM289.4 16.5h.9v.9h-.9zM295.2 13h.9v.9h-.9zM304.5 15.3h.9v.9h-.9zM301 6.8h.9v.9h-.9zM294 19.3h.9v.9h-.9zM295.2 20.9h.9v.9h-.9zM295.8 18.8h.9v.9h-.9zM281.9 14.6h.9v.9h-.9zM281.9 21h.9v.9h-.9zM296 17.1h.9v.9h-.9zM288.7 15.2h.9v.9h-.9zM306 26.3h.9v.9h-.9zM293.6 24.2h.9v.9h-.9zM283.7 8.7h.9v.9h-.9zM290.9 13.8h.9v.9h-.9zM290.4 18.9h.9v.9h-.9zM313.7 14.8h.9v.9h-.9zM294.3 19.3h.9v.9h-.9zM293.8 22.5h.9v.9h-.9zM305.5 12h.9v.9h-.9zM295.1 16.7h.9v.9h-.9zM296.3 10.6h.9v.9h-.9zM282.6 6.9h.9v.9h-.9zM297.4 18.9h.9v.9h-.9zM294.5 6.6h.9v.9h-.9zM291.6 14.4h.9v.9h-.9zM284.8 13.6h.9v.9h-.9zM298.5 20.6h.9v.9h-.9zM293.9 20.5h.9v.9h-.9zM290.1 18.3h.9v.9h-.9zM294.3 20.7h.9v.9h-.9zM293.5 17.3h.9v.9h-.9zM293.1 14.9h.9v.9h-.9zM308.5 20.5h.9v.9h-.9zM296.8 29h.9v.9h-.9zM303.1 10.5h.9v.9h-.9zM298.5 22h.9v.9h-.9zM306.3 24.3h.9v.9h-.9zM299 12.3h.9v.9h-.9zM288.3 19.3h.9v.9h-.9zM297.3 13.1h.9v.9h-.9zM291.5 16.1h.9v.9h-.9zM294.4 19.6h.9v.9h-.9zM292.1 12.1h.9v.9h-.9zM302.1 25.7h.9v.9h-.9zM293.3 22.9h.9v.9h-.9zM296.9 21.2h.9v.9h-.9zM297.1 14.3h.9v.9h-.9zM297.7 22.9h.9v.9h-.9zM288.2 27.4h.9v.9h-.9zM307.6 26.8h.9v.9h-.9zM306.9 21.6h.9v.9h-.9zM291.8 15.1h.9v.9h-.9zM288.7 18.6h.9v.9h-.9zM293.8 21.2h.9v.9h-.9zM281.9 29.1h.9v.9h-.9zM308.8 17.9h.9v.9h-.9zM298.4 20.3h.9v.9h-.9zM295.8 17h.9v.9h-.9zM293.2 14h.9v.9h-.9zM295.2 17.9h.9v.9h-.9zM296.1 13.9h.9v.9h-.9zM294.3 18.2h.9v.9h-.9zM297.9 12.9h.9v.9h-.9zM296.7 22.7h.9v.9h-.9zM297.9 16.2h.9v.9h-.9zM290.8 16.9h.9v.9h-.9zM298.7 25.5h.9v.9h-.9zM293 14.9h.9v.9h-.9zM296.4 19h.9v.9h-.9zM288.1 14.5h.9v.9h-.9zM293.3 21.2h.9v.9h-.9zM286.2 13.1h.9v.9h-.9zM297.2 12.1h.9v.9h-.9zM294.7 19.7h.9v.9h-.9zM293.3 13.1h.9v.9h-.9zM293.6 16.4h.9v.9h-.9zM296.2 14h.9v.9h-.9zM301.1 10h.9v.9h-.9zM292.9 18h.9v.9h-.9zM300.3 15.1h.9v.9h-.9zM297.5 15.3h.9v.9h-.9zM298.8 26.3h.9v.9h-.9zM291.4 20.1h.9v.9h-.9zM288 22.7h.9v.9h-.9zM301.9 18.2h.9v.9h-.9zM286.6 19.9h.9v.9h-.9zM301.5 23.2h.9v.9h-.9zM299.3 9.2h.9v.9h-.9zM289.6 24.8h.9v.9h-.9zM286 23.4h.9v.9h-.9zM306.2 21.7h.9v.9h-.9zM301.3 16.4h.9v.9h-.9zM286 17.5h.9v.9h-.9zM292.7 17.8h.9v.9h-.9zM298.5 17.3h.9v.9h-.9zM295.2 20h.9v.9h-.9zM294 26.8h.9v.9h-.9zM296.9 18.4h.9v.9h-.9zM292.7 15h.9v.9h-.9zM302.7 18.7h.9v.9h-.9zM287 15.3h.9v.9h-.9zM293.1 15.9h.9v.9h-.9zM301 12.4h.9v.9h-.9zM297.2 18.7h.9v.9h-.9zM286.3 18.2h.9v.9h-.9zM293.4 20.4h.9v.9h-.9zM291.1 19.5h.9v.9h-.9zM283.2 12.8h.9v.9h-.9zM299.1 23h.9v.9h-.9zM293.9 15.1h.9v.9h-.9zM301 8h.9v.9h-.9zM288.8 21.2h.9v.9h-.9zM298.2 13h.9v.9h-.9zM281.9 25h.9v.9h-.9zM295 13.7h.9v.9h-.9zM294.4 22.3h.9v.9h-.9zM281.9 23.3h.9v.9h-.9zM298.8 8h.9v.9h-.9zM299 9.5h.9v.9h-.9zM301.4 19.9h.9v.9h-.9zM308.6 15.1h.9v.9h-.9zM294 23h.9v.9h-.9zM289.8 14.6h.9v.9h-.9zM291.6 17.7h.9v.9h-.9zM287 20.3h.9v.9h-.9zM297.5 18.3h.9v.9h-.9zM305.1 16.4h.9v.9h-.9zM302.5 15.4h.9v.9h-.9zM298.9 8.7h.9v.9h-.9zM295.3 17.2h.9v.9h-.9zM290.8 15.1h.9v.9h-.9zM291.7 14.5h.9v.9h-.9zM281.9 15.1h.9v.9h-.9zM290.4 15.5h.9v.9h-.9zM287.1 17.3h.9v.9h-.9zM299.1 16.8h.9v.9h-.9zM290.8 24.5h.9v.9h-.9zM300.4 22.4h.9v.9h-.9zM301.5 16.4h.9v.9h-.9zM293.2 23.3h.9v.9h-.9zM290.4 17.4h.9v.9h-.9zM296.5 19.8h.9v.9h-.9zM292.2 22.7h.9v.9h-.9zM292.8 21.5h.9v.9h-.9zM301 21.2h.9v.9h-.9zM292.5 51.4h.9v.9h-.9zM284.9 49.4h.9v.9h-.9zM293.1 45.4h.9v.9h-.9zM286.4 44.3h.9v.9h-.9zM291.5 36.6h.9v.9h-.9zM292.6 42.3h.9v.9h-.9zM290.5 39.2h.9v.9h-.9zM282.4 44.1h.9v.9h-.9zM290.1 39.2h.9v.9h-.9zM289.1 43.9h.9v.9h-.9zM291.9 45.5h.9v.9h-.9zM288.6 46.2h.9v.9h-.9zM294.3 45.3h.9v.9h-.9zM286.4 54.4h.9v.9h-.9zM286.8 50.3h.9v.9h-.9zM283.3 48h.9v.9h-.9zM281.9 47.5h.9v.9h-.9zM283.7 39.8h.9v.9h-.9zM281.9 52.5h.9v.9h-.9zM288.3 39.7h.9v.9h-.9zM294.4 43.7h.9v.9h-.9zM284.9 48.2h.9v.9h-.9zM281.9 39.2h.9v.9h-.9zM283.3 52.7h.9v.9h-.9zM290.6 39.4h.9v.9h-.9zM291.7 47.2h.9v.9h-.9zM288.7 47.2h.9v.9h-.9zM288.3 42.2h.9v.9h-.9zM282.6 43.6h.9v.9h-.9zM284.9 50h.9v.9h-.9zM281.9 54.4h.9v.9h-.9zM283.8 44.2h.9v.9h-.9zM289.5 49.1h.9v.9h-.9zM285 41.9h.9v.9h-.9zM282.2 39.3h.9v.9h-.9zM291.5 52.2h.9v.9h-.9zM294.6 49.4h.9v.9h-.9zM287.9 50.6h.9v.9h-.9zM290.6 45.8h.9v.9h-.9zM288 54.4h.9v.9h-.9zM281.9 40.2h.9v.9h-.9zM282.3 50.6h.9v.9h-.9zM291.6 45.4h.9v.9h-.9zM289.4 46.8h.9v.9h-.9zM287.8 44.4h.9v.9h-.9zM286.4 47h.9v.9h-.9zM291.4 54.4h.9v.9h-.9zM281.9 49.6h.9v.9h-.9zM286.5 51.7h.9v.9h-.9zM291.1 50.8h.9v.9h-.9zM290 42.4h.9v.9h-.9zM281.9 54.4h.9v.9h-.9zM291.7 42.4h.9v.9h-.9zM292.1 50.2h.9v.9h-.9zM281.9 51.3h.9v.9h-.9zM282.2 52.6h.9v.9h-.9zM283.5 43.4h.9v.9h-.9zM281.9 46h.9v.9h-.9zM290.9 43.8h.9v.9h-.9zM281.9 54.4h.9v.9h-.9zM294.5 50.3h.9v.9h-.9zM284.2 41.2h.9v.9h-.9zM281.9 49.7h.9v.9h-.9zM292.1 41.9h.9v.9h-.9zM286.5 45.7h.9v.9h-.9zM285.4 49.4h.9v.9h-.9zM295.6 43.9h.9v.9h-.9zM290.2 52.2h.9v.9h-.9zM285.3 46.3h.9v.9h-.9zM281.9 52.2h.9v.9h-.9zM284.2 43.8h.9v.9h-.9zM286.8 42.9h.9v.9h-.9zM282 45.6h.9v.9h-.9zM292.9 46h.9v.9h-.9zM288.8 39.9h.9v.9h-.9zM281.9 54.4h.9v.9h-.9zM284.8 39.6h.9v.9h-.9zM286 49.9h.9v.9h-.9zM281.9 42.7h.9v.9h-.9zM287.6 42.6h.9v.9h-.9zM290 51.6h.9v.9h-.9zM288.4 44.9h.9v.9h-.9zM286.3 43.9h.9v.9h-.9zM285.9 48.5h.9v.9h-.9zM285.2 51.7h.9v.9h-.9zM297.8 44.4h.9v.9h-.9zM288 51h.9v.9h-.9zM289.3 45.9h.9v.9h-.9zM284.4 51.8h.9v.9h-.9zM289.2 49.4h.9v.9h-.9zM283 50h.9v.9h-.9zM290 46.1h.9v.9h-.9zM289.3 54.4h.9v.9h-.9zM281.9 49.9h.9v.9h-.9zM281.9 40.4h.9v.9h-.9zM285.5 49.6h.9v.9h-.9zM286.7 41.4h.9v.9h-.9zM281.9 44.3h.9v.9h-.9zM286.6 43h.9v.9h-.9zM281.9 54.4h.9v.9h-.9zM282.9 46.2h.9v.9h-.9zM284.1 44.2h.9v.9h-.9zM286.7 45.6h.9v.9h-.9zM289.2 41.3h.9v.9h-.9zM281.9 54.4h.9v.9h-.9zM286.2 50.7h.9v.9h-.9zM291.6 49.7h.9v.9h-.9zM286.7 39.5h.9v.9h-.9zM281.9 51.7h.9v.9h-.9zM289.4 49.8h.9v.9h-.9zM281.9 36.7h.9v.9h-.9zM281.9 41.3h.9v.9h-.9zM287.2 42.1h.9v.9h-.9zM293.4 44h.9v.9h-.9zM284.1 51.2h.9v.9h-.9zM287.9 42.6h.9v.9h-.9zM290.1 54.4h.9v.9h-.9zM281.9 45.8h.9v.9h-.9zM281.8 37.6h.9v.9h-.9zM289.2 50.4h.9v.9h-.9zM290.8 49.1h.9v.9h-.9zM281.9 46.9h.9v.9h-.9zM283.6 41.3h.9v.9h-.9zM281.9 50.7h.9v.9h-.9zM285.2 54.4h.9v.9h-.9zM288.6 37.7h.9v.9h-.9zM290.4 53.1h.9v.9h-.9zM286.6 41.1h.9v.9h-.9zM294.2 40.6h.9v.9h-.9zM286.1 37.7h.9v.9h-.9zM281.9 38.7h.9v.9h-.9zM291.3 52.7h.9v.9h-.9zM284.7 40.4h.9v.9h-.9zM286.2 48.8h.9v.9h-.9zM281.9 41.4h.9v.9h-.9zM286.1 50.4h.9v.9h-.9zM286.8 49.2h.9v.9h-.9zM281.9 34.9h.9v.9h-.9zM287.9 42.5h.9v.9h-.9zM286 45.2h.9v.9h-.9zM288.6 43.2h.9v.9h-.9zM292.8 47.2h.9v.9h-.9zM288.8 50.1h.9v.9h-.9zM291.1 49h.9v.9h-.9zM281.9 43.9h.9v.9h-.9zM294.7 49.3h.9v.9h-.9zM289 49.3h.9v.9h-.9zM283.7 43.7h.9v.9h-.9zM283.7 52.7h.9v.9h-.9zM288.1 54.4h.9v.9h-.9zM301.1 25.9h.9v.9h-.9zM288.1 46.9h.9v.9h-.9zM293.5 29.2h.9v.9h-.9zM285.8 41h.9v.9h-.9zM296.2 36.7h.9v.9h-.9zM285.3 40.9h.9v.9h-.9zM290 30.3h.9v.9h-.9zM294.9 34.8h.9v.9h-.9zM304.4 29.6h.9v.9h-.9zM288.3 41.9h.9v.9h-.9zM288.7 39.1h.9v.9h-.9zM295 40.6h.9v.9h-.9zM283.7 47.6h.9v.9h-.9zM301.5 31.6h.9v.9h-.9zM285.7 42.1h.9v.9h-.9zM283.4 40.6h.9v.9h-.9zM298 32.2h.9v.9h-.9zM284.7 40h.9v.9h-.9zM288.7 40.2h.9v.9h-.9zM299.5 27.6h.9v.9h-.9zM295.4 40.7h.9v.9h-.9zM294.9 34.6h.9v.9h-.9zM284.7 54.4h.9v.9h-.9zM293.9 34.4h.9v.9h-.9zM289 37.4h.9v.9h-.9zM283.5 41.1h.9v.9h-.9zM295.9 37.1h.9v.9h-.9zM294.9 39.7h.9v.9h-.9zM295 36h.9v.9h-.9zM289.1 45.6h.9v.9h-.9zM299.7 33.2h.9v.9h-.9zM297.1 30.4h.9v.9h-.9zM290.3 47.7h.9v.9h-.9zM289.7 43.1h.9v.9h-.9zM291.1 40.2h.9v.9h-.9zM289.2 39.4h.9v.9h-.9zM288 53.9h.9v.9h-.9zM288 33.5h.9v.9h-.9zM284.5 42h.9v.9h-.9zM281.9 37.8h.9v.9h-.9zM299.2 39.2h.9v.9h-.9zM292.7 42.1h.9v.9h-.9zM291.8 32.6h.9v.9h-.9zM293.7 28h.9v.9h-.9zM288.2 41.7h.9v.9h-.9zM298.6 31.7h.9v.9h-.9zM289.3 38h.9v.9h-.9zM292.6 38.6h.9v.9h-.9zM299.3 37.7h.9v.9h-.9zM295.8 34.6h.9v.9h-.9zM295.4 43.4h.9v.9h-.9zM293 37.8h.9v.9h-.9zM305.2 31.7h.9v.9h-.9zM294.6 35.3h.9v.9h-.9zM291.6 45.2h.9v.9h-.9zM292.2 43.8h.9v.9h-.9zM288.3 43.9h.9v.9h-.9zM294.4 36.9h.9v.9h-.9zM294.2 38.4h.9v.9h-.9zM283.4 43.3h.9v.9h-.9zM296 43.9h.9v.9h-.9zM288.9 37.7h.9v.9h-.9zM288.8 43h.9v.9h-.9zM296.5 30.7h.9v.9h-.9zM295.3 36.1h.9v.9h-.9zM287.7 39.1h.9v.9h-.9zM289.3 38.3h.9v.9h-.9zM290.1 31.9h.9v.9h-.9zM299.7 33.9h.9v.9h-.9zM298.8 38.8h.9v.9h-.9zM290.6 31.6h.9v.9h-.9zM293.4 39.7h.9v.9h-.9zM285.6 40.6h.9v.9h-.9zM295.5 37.5h.9v.9h-.9zM289.2 41h.9v.9h-.9zM288 40.8h.9v.9h-.9zM294.5 41.7h.9v.9h-.9zM283 47.9h.9v.9h-.9zM300.9 30h.9v.9h-.9zM295 39.9h.9v.9h-.9zM283.8 42.3h.9v.9h-.9zM281.9 45.7h.9v.9h-.9zM295.5 39.4h.9v.9h-.9zM288.1 40h.9v.9h-.9zM295.6 37.9h.9v.9h-.9zM288.3 33.3h.9v.9h-.9zM282.7 36.7h.9v.9h-.9zM291 35.7h.9v.9h-.9zM292.6 46.2h.9v.9h-.9zM299.9 32.2h.9v.9h-.9zM293.8 37.7h.9v.9h-.9zM288.9 42.4h.9v.9h-.9zM299.3 25.7h.9v.9h-.9zM289.1 43.3h.9v.9h-.9zM298.6 35.5h.9v.9h-.9zM286.8 44.5h.9v.9h-.9zM287.5 37.9h.9v.9h-.9zM291.1 37.5h.9v.9h-.9zM297.7 34.5h.9v.9h-.9zM288.3 43.8h.9v.9h-.9zM288.6 39.7h.9v.9h-.9zM292.3 44.2h.9v.9h-.9zM285.5 37.7h.9v.9h-.9zM290.2 45.4h.9v.9h-.9zM300 23.9h.9v.9h-.9zM289.4 40.4h.9v.9h-.9zM286 48.3h.9v.9h-.9zM292.5 39.9h.9v.9h-.9zM302.5 25.1h.9v.9h-.9zM298.1 36.1h.9v.9h-.9zM287.3 41.5h.9v.9h-.9zM301.7 31.3h.9v.9h-.9zM289.9 35.8h.9v.9h-.9zM297.8 34.9h.9v.9h-.9zM306.8 29.1h.9v.9h-.9zM296.7 34.8h.9v.9h-.9zM290.9 37.4h.9v.9h-.9zM294.2 37.7h.9v.9h-.9zM298.1 37.5h.9v.9h-.9zM292.1 36h.9v.9h-.9zM300.1 37.6h.9v.9h-.9zM288.9 44.9h.9v.9h-.9zM296.1 36.9h.9v.9h-.9zM294.3 35.8h.9v.9h-.9zM295.9 43.3h.9v.9h-.9zM297 25.6h.9v.9h-.9zM281.9 54.4h.9v.9h-.9zM287.3 41.9h.9v.9h-.9zM285 49.3h.9v.9h-.9zM290.3 38.1h.9v.9h-.9zM302.8 39h.9v.9h-.9zM302.4 32.8h.9v.9h-.9zM291.7 42.9h.9v.9h-.9zM294.8 41.8h.9v.9h-.9zM294.8 35.5h.9v.9h-.9zM292.9 34.1h.9v.9h-.9zM299.9 37.6h.9v.9h-.9zM291.6 42.4h.9v.9h-.9zM286.1 51h.9v.9h-.9zM293.7 31.5h.9v.9h-.9zM301 28.9h.9v.9h-.9zM281.9 46.3h.9v.9h-.9zM295.7 33.2h.9v.9h-.9zM293.5 29h.9v.9h-.9zM294.1 41.7h.9v.9h-.9zM290.4 44.5h.9v.9h-.9zM291.1 41.9h.9v.9h-.9zM299.4 42h.9v.9h-.9zM287.8 48.1h.9v.9h-.9zM295.6 28.7h.9v.9h-.9z" fill="#c21e1e" fill-opacity=".7"/><path d="M293.2 15.7h.9v.9h-.9zM296.2 17.6h.9v.9h-.9zM295.1 15.5h.9v.9h-.9zM293.6 19.1h.9v.9h-.9zM297.4 17.2h.9v.9h-.9zM294 20.4h.9v.9h-.9zM293.1 18.4h.9v.9h-.9zM298.7 16.4h.9v.9h-.9zM297.6 14.5h.9v.9h-.9zM298.2 17.4h.9v.9h-.9zM289.9 18.5h.9v.9h-.9zM292.1 19.8h.9v.9h-.9zM292.8 16.6h.9v.9h-.9zM295.9 16.3h.9v.9h-.9zM295.8 15.8h.9v.9h-.9zM297.1 17h.9v.9h-.9zM295.7 10.9h.9v.9h-.9zM298.7 17.1h.9v.9h-.9zM289.3 17.2h.9v.9h-.9zM296.5 19.4h.9v.9h-.9zM291.5 20.4h.9v.9h-.9zM294.5 22.3h.9v.9h-.9zM294.5 18.5h.9v.9h-.9zM293.8 14.5h.9v.9h-.9zM298.5 19h.9v.9h-.9zM299.9 18.9h.9v.9h-.9zM293.2 13.3h.9v.9h-.9zM292.9 15.5h.9v.9h-.9zM292.4 18.3h.9v.9h-.9zM296 16.4h.9v.9h-.9zM295.6 16.7h.9v.9h-.9zM295.7 18.7h.9v.9h-.9zM298.1 15.5h.9v.9h-.9zM290.2 20.1h.9v.9h-.9zM295.4 19.4h.9v.9h-.9zM289.7 16.3h.9v.9h-.9zM295.1 13.8h.9v.9h-.9zM293.3 18.6h.9v.9h-.9zM298.5 20.5h.9v.9h-.9zM292.2 13.9h.9v.9h-.9zM296.7 19.1h.9v.9h-.9zM295.6 14.1h.9v.9h-.9zM297.5 18.7h.9v.9h-.9zM296.8 15.9h.9v.9h-.9zM296 18.7h.9v.9h-.9zM293.2 12.9h.9v.9h-.9zM296.1 18.1h.9v.9h-.9zM295 19h.9v.9h-.9zM293.1 16.8h.9v.9h-.9zM294 18.3h.9v.9h-.9zM300.1 16.4h.9v.9h-.9zM301.6 20.4h.9v.9h-.9zM297.5 18.3h.9v.9h-.9zM300.7 16.6h.9v.9h-.9zM294.6 14.7h.9v.9h-.9zM296.5 20h.9v.9h-.9zM296.7 17.9h.9v.9h-.9zM294.4 17.4h.9v.9h-.9zM290.4 19.3h.9v.9h-.9zM293.7 14.6h.9v.9h-.9zM292.6 15.2h.9v.9h-.9zM297.7 19.3h.9v.9h-.9zM290.7 19h.9v.9h-.9zM297.8 15.7h.9v.9h-.9zM290.2 15.4h.9v.9h-.9zM293 17.8h.9v.9h-.9zM293.9 12.5h.9v.9h-.9zM295.7 13.6h.9v.9h-.9zM297.9 14.3h.9v.9h-.9zM292.8 15.1h.9v.9h-.9zM293.3 19.9h.9v.9h-.9zM297.7 18.3h.9v.9h-.9zM296 13.6h.9v.9h-.9zM293.3 15.8h.9v.9h-.9zM291.9 18.1h.9v.9h-.9zM292.6 15.4h.9v.9h-.9zM291.7 12.5h.9v.9h-.9zM296.9 19.9h.9v.9h-.9zM295.6 14.9h.9v.9h-.9zM286.3 17.4h.9v.9h-.9zM298.9 17.7h.9v.9h-.9zM298 20.3h.9v.9h-.9zM298.6 16h.9v.9h-.9zM298.4 18.7h.9v.9h-.9zM290.1 16.1h.9v.9h-.9zM290.4 16.8h.9v.9h-.9zM296.9 14.7h.9v.9h-.9zM288.4 19.9h.9v.9h-.9zM296.2 20.2h.9v.9h-.9zM290.8 19.3h.9v.9h-.9zM288.3 50.8h.9v.9h-.9zM290.3 54.1h.9v.9h-.9zM287.8 54.4h.9v.9h-.9zM286 48.5h.9v.9h-.9zM284.9 46.6h.9v.9h-.9zM285.9 43.2h.9v.9h-.9zM285.7 51.5h.9v.9h-.9zM289.2 48.7h.9v.9h-.9zM290.4 47.7h.9v.9h-.9zM285.6 43.2h.9v.9h-.9zM283.6 47.2h.9v.9h-.9zM290.7 51.9h.9v.9h-.9zM282.5 51.9h.9v.9h-.9zM287.5 49.2h.9v.9h-.9zM286.1 48.9h.9v.9h-.9zM284.3 43.8h.9v.9h-.9zM285.7 54.4h.9v.9h-.9zM290.5 49h.9v.9h-.9zM283.7 49.3h.9v.9h-.9zM288.8 51.2h.9v.9h-.9zM284.2 51.3h.9v.9h-.9zM285.4 51.8h.9v.9h-.9zM284.7 44.8h.9v.9h-.9zM286.2 52.7h.9v.9h-.9zM282.5 49.6h.9v.9h-.9zM288.7 48.7h.9v.9h-.9zM284 54.4h.9v.9h-.9zM288.6 53.6h.9v.9h-.9zM283.1 54.4h.9v.9h-.9zM281.9 48.2h.9v.9h-.9zM288.3 54.4h.9v.9h-.9zM283.1 47.7h.9v.9h-.9zM286.6 43.2h.9v.9h-.9zM288 52h.9v.9h-.9zM284.6 51.9h.9v.9h-.9zM288.4 51.1h.9v.9h-.9zM287.6 54.4h.9v.9h-.9zM284.5 50.6h.9v.9h-.9zM284.4 53.6h.9v.9h-.9zM284.7 51.7h.9v.9h-.9zM286.4 50.2h.9v.9h-.9zM291.3 49.7h.9v.9h-.9zM290.4 52.9h.9v.9h-.9zM290.1 49.4h.9v.9h-.9zM288.9 52.6h.9v.9h-.9zM284.1 50.9h.9v.9h-.9zM285.6 49.9h.9v.9h-.9zM290 47.5h.9v.9h-.9zM281.9 43.9h.9v.9h-.9zM284.6 47.8h.9v.9h-.9zM286 52h.9v.9h-.9zM291.4 51.1h.9v.9h-.9zM287.4 47.4h.9v.9h-.9zM287.8 54.4h.9v.9h-.9zM290.1 43.2h.9v.9h-.9zM288.7 54.4h.9v.9h-.9zM288.6 44.8h.9v.9h-.9zM285.1 52h.9v.9h-.9zM287.3 47.2h.9v.9h-.9zM283.3 53.4h.9v.9h-.9zM281.9 54.4h.9v.9h-.9zM286.1 51h.9v.9h-.9zM281.9 47.9h.9v.9h-.9zM288.1 44.9h.9v.9h-.9zM292.4 45.1h.9v.9h-.9zM282.2 50.1h.9v.9h-.9zM287.5 52.5h.9v.9h-.9zM284.9 49.3h.9v.9h-.9zM285.3 48h.9v.9h-.9zM281.9 53.3h.9v.9h-.9zM286.8 50.5h.9v.9h-.9zM284.1 50.9h.9v.9h-.9zM286 49.7h.9v.9h-.9zM289.4 44h.9v.9h-.9zM286.8 46.3h.9v.9h-.9zM285 54.4h.9v.9h-.9zM282.7 49.7h.9v.9h-.9zM284.2 53.3h.9v.9h-.9zM283 44.2h.9v.9h-.9zM287.6 48.8h.9v.9h-.9zM285 53.7h.9v.9h-.9zM283.3 48.7h.9v.9h-.9zM286.5 51.4h.9v.9h-.9zM284.4 53.6h.9v.9h-.9zM292.9 48.6h.9v.9h-.9zM291.7 42.7h.9v.9h-.9zM290.3 48.8h.9v.9h-.9zM286.4 48.8h.9v.9h-.9zM284 45.6h.9v.9h-.9zM284.8 54.5h.9v.9h-.9zM289.5 48.8h.9v.9h-.9zM284.4 47.6h.9v.9h-.9zM282.3 54.4h.9v.9h-.9zM288 50.4h.9v.9h-.9zM284.5 46.5h.9v.9h-.9zM290 52.7h.9v.9h-.9zM283.1 53.4h.9v.9h-.9zM282.6 52.2h.9v.9h-.9zM283 48.6h.9v.9h-.9zM287.5 51.5h.9v.9h-.9zM289.1 47.1h.9v.9h-.9zM290.9 54.4h.9v.9h-.9zM286 51.6h.9v.9h-.9zM283.6 49.5h.9v.9h-.9zM281.9 50.3h.9v.9h-.9zM286.6 54.4h.9v.9h-.9zM288.9 52.8h.9v.9h-.9zM284.9 49.2h.9v.9h-.9zM285 50.8h.9v.9h-.9zM281.9 52.7h.9v.9h-.9zM281.9 48.2h.9v.9h-.9zM286.1 48.2h.9v.9h-.9zM291.1 49.7h.9v.9h-.9zM290.8 54.1h.9v.9h-.9zM284.5 51.4h.9v.9h-.9zM290 48.8h.9v.9h-.9zM286.3 48.1h.9v.9h-.9zM286.2 48.8h.9v.9h-.9zM286.3 53.5h.9v.9h-.9zM290.3 50.5h.9v.9h-.9zM286.6 53h.9v.9h-.9zM285.1 46.3h.9v.9h-.9zM289.4 46.8h.9v.9h-.9zM288.9 46.7h.9v.9h-.9zM291.6 46.4h.9v.9h-.9zM288.6 54.4h.9v.9h-.9zM283 54.4h.9v.9h-.9zM283.5 43.9h.9v.9h-.9zM288.2 52.4h.9v.9h-.9zM285.4 41.3h.9v.9h-.9zM285.8 48.9h.9v.9h-.9zM284.8 49h.9v.9h-.9zM281.9 48h.9v.9h-.9zM291.5 54.4h.9v.9h-.9zM284.9 47.5h.9v.9h-.9zM287.2 53.7h.9v.9h-.9zM288.2 46h.9v.9h-.9zM286.5 50.5h.9v.9h-.9zM290.4 54.1h.9v.9h-.9zM287.6 54.2h.9v.9h-.9zM284.8 54.4h.9v.9h-.9zM284.7 51.4h.9v.9h-.9zM288.8 46.8h.9v.9h-.9zM283.8 43.9h.9v.9h-.9zM286.5 49.8h.9v.9h-.9zM285 51.7h.9v.9h-.9zM281.9 49.9h.9v.9h-.9zM286.3 49.1h.9v.9h-.9zM288.4 54.4h.9v.9h-.9zM284.6 46.8h.9v.9h-.9zM284.1 50.3h.9v.9h-.9zM287.8 47h.9v.9h-.9zM289.1 46.5h.9v.9h-.9zM288.5 51.5h.9v.9h-.9zM287.4 54.4h.9v.9h-.9zM285.2 49.4h.9v.9h-.9zM287.5 53h.9v.9h-.9zM281.9 51h.9v.9h-.9zM283.7 52.2h.9v.9h-.9zM290.2 50.2h.9v.9h-.9zM285.7 50.6h.9v.9h-.9zM281.9 52.7h.9v.9h-.9zM287.7 50.6h.9v.9h-.9zM284.8 47.5h.9v.9h-.9zM285.4 54.2h.9v.9h-.9zM285.7 54.4h.9v.9h-.9zM281.9 48.4h.9v.9h-.9zM286.8 50h.9v.9h-.9zM281.9 47.7h.9v.9h-.9zM289.8 45.5h.9v.9h-.9zM283 46.2h.9v.9h-.9zM284.3 52.2h.9v.9h-.9zM287.8 43h.9v.9h-.9zM290.5 48h.9v.9h-.9zM284.2 54.4h.9v.9h-.9zM285.7 45.7h.9v.9h-.9zM284 47.5h.9v.9h-.9zM282.9 48.8h.9v.9h-.9zM288.7 51.2h.9v.9h-.9zM281.9 54.4h.9v.9h-.9zM283 50.4h.9v.9h-.9zM286.1 52.6h.9v.9h-.9zM285 51.6h.9v.9h-.9zM292.5 50.3h.9v.9h-.9zM282.7 51.1h.9v.9h-.9zM283.5 48.7h.9v.9h-.9zM286.6 51.2h.9v.9h-.9zM285.1 52.9h.9v.9h-.9zM285.4 45.5h.9v.9h-.9zM288.7 48.7h.9v.9h-.9zM289.7 47.7h.9v.9h-.9zM287.8 51.1h.9v.9h-.9zM281.9 44.8h.9v.9h-.9zM282.6 54.4h.9v.9h-.9zM281.9 53.2h.9v.9h-.9zM289.4 51.7h.9v.9h-.9zM288.1 48.3h.9v.9h-.9zM286 50.8h.9v.9h-.9zM287.3 52.4h.9v.9h-.9zM285.4 47.6h.9v.9h-.9zM284.3 51.4h.9v.9h-.9zM281.9 45.7h.9v.9h-.9zM284.7 48.1h.9v.9h-.9zM285.2 40.8h.9v.9h-.9zM285 49.1h.9v.9h-.9zM288.4 43.2h.9v.9h-.9zM285.1 51.6h.9v.9h-.9zM287.5 54.1h.9v.9h-.9zM289.2 46.4h.9v.9h-.9zM288 48.8h.9v.9h-.9zM283.5 54.4h.9v.9h-.9zM284.1 47h.9v.9h-.9zM284.7 47.1h.9v.9h-.9zM289.1 51.3h.9v.9h-.9zM290.3 51.4h.9v.9h-.9zM284.1 53.6h.9v.9h-.9zM284 48.4h.9v.9h-.9zM285.5 50.1h.9v.9h-.9zM289.7 47.9h.9v.9h-.9zM287.1 49.9h.9v.9h-.9zM282.1 46.2h.9v.9h-.9zM285.3 51.4h.9v.9h-.9zM287 51.7h.9v.9h-.9zM286.1 48.4h.9v.9h-.9zM287.3 46.5h.9v.9h-.9zM281.9 48.8h.9v.9h-.9zM281.9 48.2h.9v.9h-.9zM283.7 48.1h.9v.9h-.9zM285.9 47.2h.9v.9h-.9zM284.7 44.1h.9v.9h-.9zM286.4 46.9h.9v.9h-.9zM287.2 40.2h.9v.9h-.9zM283.5 50.8h.9v.9h-.9zM281.9 48.7h.9v.9h-.9zM286.3 50.4h.9v.9h-.9zM281.9 50.8h.9v.9h-.9zM286.5 46.6h.9v.9h-.9zM288.3 49.8h.9v.9h-.9zM286.1 48.4h.9v.9h-.9zM287.7 50.3h.9v.9h-.9zM289.5 51.6h.9v.9h-.9zM284.1 49.2h.9v.9h-.9zM288.8 48.7h.9v.9h-.9zM287.2 51.8h.9v.9h-.9zM285.4 41.9h.9v.9h-.9zM286.4 50.7h.9v.9h-.9zM286.4 47.4h.9v.9h-.9zM289.7 49.5h.9v.9h-.9zM284.1 47.5h.9v.9h-.9zM287.1 46.2h.9v.9h-.9zM282.9 54.4h.9v.9h-.9zM290.1 53.7h.9v.9h-.9zM290.2 52.1h.9v.9h-.9zM281.9 54.2h.9v.9h-.9zM289.8 51.7h.9v.9h-.9zM281.9 54.3h.9v.9h-.9zM290.2 48.3h.9v.9h-.9zM286.4 52.7h.9v.9h-.9zM285.7 53.8h.9v.9h-.9zM286.3 52.4h.9v.9h-.9zM286.3 44.8h.9v.9h-.9zM282.9 54.4h.9v.9h-.9zM286.9 54.4h.9v.9h-.9zM289.5 54.4h.9v.9h-.9zM287.7 47.9h.9v.9h-.9zM286.1 43.3h.9v.9h-.9zM285.4 53.2h.9v.9h-.9zM281.9 50.7h.9v.9h-.9zM288.6 54.4h.9v.9h-.9zM283.1 47.7h.9v.9h-.9zM281.9 46.4h.9v.9h-.9zM287.7 54.4h.9v.9h-.9zM282.4 54.4h.9v.9h-.9zM287.3 48.3h.9v.9h-.9zM292.8 41.2h.9v.9h-.9zM285.8 50.8h.9v.9h-.9zM292.6 54.4h.9v.9h-.9zM293 50.5h.9v.9h-.9zM289 54.4h.9v.9h-.9zM287.6 51.3h.9v.9h-.9zM285.4 48.6h.9v.9h-.9zM282.2 54.4h.9v.9h-.9zM284.6 42.7h.9v.9h-.9zM286.8 49.9h.9v.9h-.9zM286.5 54.4h.9v.9h-.9zM285.7 49.1h.9v.9h-.9zM283.7 49.9h.9v.9h-.9zM284.6 50.7h.9v.9h-.9zM295.7 51.4h.9v.9h-.9zM283.3 54.4h.9v.9h-.9zM288.7 52.9h.9v.9h-.9zM288.2 52.9h.9v.9h-.9zM288.1 54.4h.9v.9h-.9zM289.1 54.4h.9v.9h-.9zM284.4 50h.9v.9h-.9zM283.7 53.4h.9v.9h-.9zM288.6 48.4h.9v.9h-.9zM287.8 54.4h.9v.9h-.9zM289.9 46.1h.9v.9h-.9zM285.7 52.2h.9v.9h-.9zM285.9 51.4h.9v.9h-.9zM289.7 51.2h.9v.9h-.9zM282.6 52.5h.9v.9h-.9zM285.7 50.4h.9v.9h-.9zM284.2 45.2h.9v.9h-.9zM282.1 48.8h.9v.9h-.9zM282.7 40.5h.9v.9h-.9zM289.6 45.9h.9v.9h-.9zM283.7 51.9h.9v.9h-.9zM281.9 54.4h.9v.9h-.9zM283.6 52.3h.9v.9h-.9zM284.5 51.1h.9v.9h-.9zM286.3 50h.9v.9h-.9zM281.9 44.8h.9v.9h-.9zM285.9 54.4h.9v.9h-.9zM284.3 51.9h.9v.9h-.9zM286.5 51.7h.9v.9h-.9zM289.1 44.7h.9v.9h-.9zM286.9 49.4h.9v.9h-.9zM285 47h.9v.9h-.9zM283.5 46.4h.9v.9h-.9zM282.6 54.4h.9v.9h-.9zM291.3 50h.9v.9h-.9zM288.3 46.6h.9v.9h-.9zM281.9 43.6h.9v.9h-.9zM286.4 54.4h.9v.9h-.9zM285.9 46.5h.9v.9h-.9zM285.2 46.5h.9v.9h-.9zM281.9 49.2h.9v.9h-.9zM284.8 47.2h.9v.9h-.9zM283.2 46.7h.9v.9h-.9zM286.7 54.4h.9v.9h-.9zM285.3 54.4h.9v.9h-.9zM281.9 51h.9v.9h-.9zM282.4 49.4h.9v.9h-.9zM286.3 52h.9v.9h-.9zM289.5 48.1h.9v.9h-.9zM282.1 49.3h.9v.9h-.9zM286.9 47.5h.9v.9h-.9zM288.8 54.4h.9v.9h-.9zM281.9 51.3h.9v.9h-.9zM289.2 43.3h.9v.9h-.9zM286.6 49.2h.9v.9h-.9zM281.9 54.4h.9v.9h-.9zM286.7 48.3h.9v.9h-.9zM287.4 52.3h.9v.9h-.9zM288.4 52h.9v.9h-.9zM287.3 45.9h.9v.9h-.9zM284.7 50.5h.9v.9h-.9zM281.9 54.4h.9v.9h-.9zM284.8 46.3h.9v.9h-.9zM281.9 50.9h.9v.9h-.9zM286.1 48h.9v.9h-.9zM284.7 46.9h.9v.9h-.9zM283.7 49.7h.9v.9h-.9zM284 52.4h.9v.9h-.9zM285.6 50.5h.9v.9h-.9zM287.3 54.5h.9v.9h-.9zM287.9 50.8h.9v.9h-.9zM285.5 47.2h.9v.9h-.9zM284.9 52.4h.9v.9h-.9zM286.7 48.6h.9v.9h-.9zM281.8 44.6h.9v.9h-.9zM287 53.6h.9v.9h-.9zM287.2 45.2h.9v.9h-.9zM285.3 50.8h.9v.9h-.9zM283.1 51.2h.9v.9h-.9zM285.4 47.1h.9v.9h-.9zM282.1 52.8h.9v.9h-.9zM287.1 46.9h.9v.9h-.9zM282.8 53.1h.9v.9h-.9zM287.9 48.9h.9v.9h-.9zM291 49h.9v.9h-.9zM282.7 53.8h.9v.9h-.9zM285.4 51.2h.9v.9h-.9zM286.1 46.5h.9v.9h-.9zM282.3 49.3h.9v.9h-.9zM290.4 46.5h.9v.9h-.9zM290.2 50.8h.9v.9h-.9zM282.5 50.9h.9v.9h-.9zM287.8 46.8h.9v.9h-.9zM281.9 51.2h.9v.9h-.9zM282.5 51.5h.9v.9h-.9zM281.9 49.5h.9v.9h-.9zM283.5 44.8h.9v.9h-.9zM285.2 50.6h.9v.9h-.9zM284.3 45.9h.9v.9h-.9zM286.7 43.9h.9v.9h-.9zM287.7 51.7h.9v.9h-.9zM291.2 53.1h.9v.9h-.9zM287.1 50.9h.9v.9h-.9zM286.1 45.4h.9v.9h-.9zM290.6 51.8h.9v.9h-.9zM285.1 46h.9v.9h-.9zM290.6 51.9h.9v.9h-.9zM282.3 52.4h.9v.9h-.9zM291.9 49.9h.9v.9h-.9zM287.2 48.5h.9v.9h-.9zM284 53.8h.9v.9h-.9zM295.6 50.4h.9v.9h-.9zM285.6 52.8h.9v.9h-.9zM285.1 52.5h.9v.9h-.9zM288.6 46.4h.9v.9h-.9zM282.7 49.7h.9v.9h-.9zM288.6 51h.9v.9h-.9zM289.9 45.2h.9v.9h-.9zM287.5 47.8h.9v.9h-.9zM286.3 51.1h.9v.9h-.9zM283 49.2h.9v.9h-.9zM282.4 50.9h.9v.9h-.9zM283.4 48.3h.9v.9h-.9zM286.7 47.7h.9v.9h-.9zM289.6 47.8h.9v.9h-.9zM288.6 51h.9v.9h-.9zM282.8 49.2h.9v.9h-.9zM283.4 48.7h.9v.9h-.9zM285.2 54.4h.9v.9h-.9zM284.7 54.4h.9v.9h-.9zM287.4 45.4h.9v.9h-.9zM281.9 52.4h.9v.9h-.9zM281.9 52.5h.9v.9h-.9zM289.2 51.4h.9v.9h-.9zM285.4 49.1h.9v.9h-.9zM286.8 48.9h.9v.9h-.9zM284.3 48.7h.9v.9h-.9zM289.6 47.8h.9v.9h-.9zM287.2 46h.9v.9h-.9zM283.8 45.2h.9v.9h-.9zM285.4 52.4h.9v.9h-.9zM286.9 48.3h.9v.9h-.9zM287.9 48.8h.9v.9h-.9zM287.2 51h.9v.9h-.9zM287.7 41.4h.9v.9h-.9zM282 52.7h.9v.9h-.9zM285.7 54.4h.9v.9h-.9zM285.3 48.1h.9v.9h-.9zM290.6 51.9h.9v.9h-.9zM291.9 51.8h.9v.9h-.9zM285.4 52.5h.9v.9h-.9zM283.6 48.4h.9v.9h-.9zM284.3 49.2h.9v.9h-.9zM288.4 48.3h.9v.9h-.9zM287 48.3h.9v.9h-.9zM288.7 40.4h.9v.9h-.9zM285.4 50.6h.9v.9h-.9zM282.7 53.5h.9v.9h-.9zM286.7 54.5h.9v.9h-.9zM289 52.2h.9v.9h-.9zM285.5 46.2h.9v.9h-.9zM285.3 48.4h.9v.9h-.9zM286.8 48.4h.9v.9h-.9zM295.5 44.4h.9v.9h-.9zM289.6 48.4h.9v.9h-.9zM285.3 53.2h.9v.9h-.9zM286 45.8h.9v.9h-.9zM287.3 49.3h.9v.9h-.9zM281.9 50.7h.9v.9h-.9zM282.7 47.4h.9v.9h-.9zM287.5 51h.9v.9h-.9zM285.1 54.4h.9v.9h-.9zM287.3 47.9h.9v.9h-.9zM286.7 49.6h.9v.9h-.9zM281.9 44.5h.9v.9h-.9zM281.9 54.4h.9v.9h-.9zM285.4 49h.9v.9h-.9zM284.3 53.4h.9v.9h-.9zM286.1 54.4h.9v.9h-.9zM288.4 54.4h.9v.9h-.9zM285.6 51.3h.9v.9h-.9zM284.7 49.4h.9v.9h-.9zM281.9 48h.9v.9h-.9zM283.1 47.7h.9v.9h-.9zM289.8 50.9h.9v.9h-.9zM289.8 53h.9v.9h-.9zM288.8 53.5h.9v.9h-.9zM284.1 52.8h.9v.9h-.9zM285 48.2h.9v.9h-.9zM289.7 54.4h.9v.9h-.9zM283 54.4h.9v.9h-.9zM288.6 47.1h.9v.9h-.9zM286.8 51.3h.9v.9h-.9zM287.2 48.8h.9v.9h-.9zM282 50.1h.9v.9h-.9zM288.7 52.7h.9v.9h-.9zM288 53.8h.9v.9h-.9zM282.9 49.9h.9v.9h-.9zM287 53.5h.9v.9h-.9zM286.5 51.8h.9v.9h-.9zM286.4 54.4h.9v.9h-.9zM281.9 49.9h.9v.9h-.9zM293.6 50.8h.9v.9h-.9zM281.9 50.5h.9v.9h-.9zM281.9 47.6h.9v.9h-.9zM286.7 54.4h.9v.9h-.9zM287.4 52.3h.9v.9h-.9zM289.1 50.7h.9v.9h-.9zM283.4 49.7h.9v.9h-.9zM287 49h.9v.9h-.9zM283.9 48.8h.9v.9h-.9zM281.9 46.4h.9v.9h-.9zM285.7 48.7h.9v.9h-.9zM286.1 54.4h.9v.9h-.9zM286.9 49.9h.9v.9h-.9zM282.4 46.3h.9v.9h-.9zM287.2 47h.9v.9h-.9zM287.3 46.3h.9v.9h-.9zM286.4 49.7h.9v.9h-.9zM289.1 48.6h.9v.9h-.9zM284.9 50.9h.9v.9h-.9zM286.2 54.4h.9v.9h-.9zM285.2 48.1h.9v.9h-.9zM285 51.6h.9v.9h-.9zM286.7 52.4h.9v.9h-.9zM281.9 54.4h.9v.9h-.9zM291.7 49.9h.9v.9h-.9zM282.3 50.5h.9v.9h-.9zM287.3 42.3h.9v.9h-.9zM286 44.9h.9v.9h-.9zM287.4 54.4h.9v.9h-.9zM289.2 44.8h.9v.9h-.9zM298.4 39.1h.9v.9h-.9zM294.4 36h.9v.9h-.9zM301.5 31.4h.9v.9h-.9zM299.1 33.9h.9v.9h-.9zM292.9 41.3h.9v.9h-.9zM287.9 43.7h.9v.9h-.9zM289.7 43.3h.9v.9h-.9zM288.3 46h.9v.9h-.9zM297.8 40.2h.9v.9h-.9zM301.5 30.5h.9v.9h-.9zM297.3 34.9h.9v.9h-.9zM295.6 37.6h.9v.9h-.9zM291.9 42.2h.9v.9h-.9zM288.5 47.2h.9v.9h-.9zM291.4 39.8h.9v.9h-.9zM293.2 41.9h.9v.9h-.9zM291.8 43.3h.9v.9h-.9zM298.3 38.4h.9v.9h-.9zM289.4 44.7h.9v.9h-.9zM298 38.6h.9v.9h-.9zM296 39h.9v.9h-.9zM287.2 46.1h.9v.9h-.9zM300.5 31h.9v.9h-.9zM302 28.1h.9v.9h-.9zM290.8 39.1h.9v.9h-.9zM297 36.7h.9v.9h-.9zM302.5 29.8h.9v.9h-.9zM291.2 39.2h.9v.9h-.9zM294.9 40.9h.9v.9h-.9zM298.6 37.2h.9v.9h-.9zM297.5 35.2h.9v.9h-.9zM296.7 36.7h.9v.9h-.9zM290.7 47.9h.9v.9h-.9zM294.2 36.5h.9v.9h-.9zM296 37.9h.9v.9h-.9zM300 36.2h.9v.9h-.9zM282.2 54.4h.9v.9h-.9zM299.1 30.9h.9v.9h-.9zM286.7 48.9h.9v.9h-.9zM295.8 38.2h.9v.9h-.9zM288.8 44.5h.9v.9h-.9zM295.8 39.3h.9v.9h-.9zM303.4 29h.9v.9h-.9zM288.5 39.9h.9v.9h-.9zM298.3 34.1h.9v.9h-.9zM292.3 39h.9v.9h-.9zM294.7 33.9h.9v.9h-.9zM294.6 39.1h.9v.9h-.9zM296.9 39.4h.9v.9h-.9zM293.7 40.1h.9v.9h-.9zM295.5 33.6h.9v.9h-.9zM292.9 41h.9v.9h-.9zM296.9 33.9h.9v.9h-.9zM297.8 35.9h.9v.9h-.9zM285.9 45.2h.9v.9h-.9zM288.2 46.7h.9v.9h-.9zM295.8 39.3h.9v.9h-.9zM296.7 34.8h.9v.9h-.9zM299.5 35.1h.9v.9h-.9zM296.6 37.7h.9v.9h-.9zM289.1 46.3h.9v.9h-.9zM288.2 43.3h.9v.9h-.9zM292.7 41.4h.9v.9h-.9zM293.4 39.4h.9v.9h-.9zM290.1 44.7h.9v.9h-.9zM289.1 41.6h.9v.9h-.9zM296.3 40.6h.9v.9h-.9zM290.9 40.4h.9v.9h-.9zM302 34.5h.9v.9h-.9zM292.5 40.7h.9v.9h-.9zM298.7 41.7h.9v.9h-.9zM295.8 39.9h.9v.9h-.9zM293.5 35.3h.9v.9h-.9zM287.8 43.6h.9v.9h-.9zM295.9 37.5h.9v.9h-.9zM301.1 30.3h.9v.9h-.9zM295.4 38.1h.9v.9h-.9zM297.6 41.3h.9v.9h-.9zM297.1 39.7h.9v.9h-.9zM298.6 32.4h.9v.9h-.9zM296.4 35.7h.9v.9h-.9zM294.7 39.1h.9v.9h-.9zM293.5 38.9h.9v.9h-.9zM300.1 31.5h.9v.9h-.9zM299.1 37.8h.9v.9h-.9zM297.9 37.5h.9v.9h-.9zM301.2 33.8h.9v.9h-.9zM299.3 29.4h.9v.9h-.9zM302.2 29.8h.9v.9h-.9zM285.9 47.5h.9v.9h-.9zM288.2 46.4h.9v.9h-.9zM286.5 45.8h.9v.9h-.9zM295.4 38.2h.9v.9h-.9zM290.4 43.2h.9v.9h-.9zM293.7 40.1h.9v.9h-.9zM293.7 39.3h.9v.9h-.9zM295.6 33.4h.9v.9h-.9zM292.1 42.1h.9v.9h-.9zM291.6 40.9h.9v.9h-.9zM292.4 41.9h.9v.9h-.9zM299 33.1h.9v.9h-.9zM293.3 41.2h.9v.9h-.9zM290.5 38.6h.9v.9h-.9zM294.6 37.8h.9v.9h-.9zM292.4 43h.9v.9h-.9zM293.4 38.7h.9v.9h-.9zM282.7 48.5h.9v.9h-.9zM293.9 39.3h.9v.9h-.9zM296.1 37.6h.9v.9h-.9zM290.4 40.5h.9v.9h-.9zM289.2 44.8h.9v.9h-.9zM290.2 46h.9v.9h-.9zM286.1 44.1h.9v.9h-.9zM290.9 38.5h.9v.9h-.9zM299.5 30.3h.9v.9h-.9zM293.5 39.5h.9v.9h-.9zM288.3 41.7h.9v.9h-.9zM287.4 49.7h.9v.9h-.9zM301.1 36.8h.9v.9h-.9zM288.6 47.4h.9v.9h-.9zM295 40.5h.9v.9h-.9zM292.8 42.8h.9v.9h-.9zM298.5 35.7h.9v.9h-.9zM299.8 32.1h.9v.9h-.9zM299.5 31h.9v.9h-.9zM297.4 28.2h.9v.9h-.9zM293 38.6h.9v.9h-.9zM295.3 40.6h.9v.9h-.9zM297.1 36h.9v.9h-.9zM299.2 29.4h.9v.9h-.9zM292.6 45.2h.9v.9h-.9zM292.7 35.6h.9v.9h-.9zM293.9 36.5h.9v.9h-.9zM301.7 33.4h.9v.9h-.9zM293.4 43.6h.9v.9h-.9zM291.7 44.7h.9v.9h-.9zM296.3 36.5h.9v.9h-.9zM287.7 46.3h.9v.9h-.9zM283.7 50.3h.9v.9h-.9zM287.9 50h.9v.9h-.9zM286.8 41.7h.9v.9h-.9zM296.9 37h.9v.9h-.9zM294.6 44.3h.9v.9h-.9zM297.3 35.7h.9v.9h-.9zM287.5 39.5h.9v.9h-.9zM297.3 38.2h.9v.9h-.9zM289.7 40.9h.9v.9h-.9zM291.6 37.9h.9v.9h-.9zM295 40.3h.9v.9h-.9zM300.7 32.3h.9v.9h-.9zM295.8 39.3h.9v.9h-.9zM299.4 32.2h.9v.9h-.9zM287.8 44.7h.9v.9h-.9zM287.6 44.8h.9v.9h-.9zM293.9 40.5h.9v.9h-.9zM294.7 38.8h.9v.9h-.9zM293.1 41.7h.9v.9h-.9zM298.7 35.9h.9v.9h-.9zM299.9 31.7h.9v.9h-.9zM295.2 42.6h.9v.9h-.9zM295.4 39h.9v.9h-.9zM293.9 42.2h.9v.9h-.9zM291 40.4h.9v.9h-.9zM293.2 39.3h.9v.9h-.9zM297 34.9h.9v.9h-.9zM294.2 38.6h.9v.9h-.9zM294.6 37.1h.9v.9h-.9zM296.8 32.4h.9v.9h-.9zM291.5 40.6h.9v.9h-.9zM296.8 36.3h.9v.9h-.9zM295.6 36.7h.9v.9h-.9zM289.5 41.9h.9v.9h-.9zM291.9 40.6h.9v.9h-.9zM295.6 38.5h.9v.9h-.9zM297.9 34.5h.9v.9h-.9zM289.5 42.1h.9v.9h-.9zM294.7 39.6h.9v.9h-.9zM302.4 30h.9v.9h-.9zM303.8 32.8h.9v.9h-.9zM291.2 46h.9v.9h-.9zM300.5 35.3h.9v.9h-.9zM295.2 40.6h.9v.9h-.9zM291.9 41.8h.9v.9h-.9zM296.4 41.4h.9v.9h-.9zM294.3 41.6h.9v.9h-.9zM293.4 38.4h.9v.9h-.9zM295.9 39h.9v.9h-.9zM291.9 43.7h.9v.9h-.9zM289.9 42.1h.9v.9h-.9zM294.6 38.1h.9v.9h-.9zM287.8 42.6h.9v.9h-.9zM294.4 39.6h.9v.9h-.9zM292.3 42h.9v.9h-.9zM288.1 47.5h.9v.9h-.9zM296.1 37.7h.9v.9h-.9zM291.5 42.6h.9v.9h-.9zM295.9 40h.9v.9h-.9zM295.5 38.4h.9v.9h-.9zM292.1 44h.9v.9h-.9zM298.3 33.1h.9v.9h-.9zM297.1 36.7h.9v.9h-.9zM292.1 38.3h.9v.9h-.9zM298.9 28.7h.9v.9h-.9zM294.8 37.6h.9v.9h-.9zM298.2 33.3h.9v.9h-.9zM295 40h.9v.9h-.9zM295.2 36.7h.9v.9h-.9zM297.4 36.5h.9v.9h-.9zM297.5 34h.9v.9h-.9zM293.3 39.3h.9v.9h-.9zM290.8 43.9h.9v.9h-.9zM297.6 39h.9v.9h-.9zM293.1 41.5h.9v.9h-.9zM298.6 33.7h.9v.9h-.9zM294.4 39.3h.9v.9h-.9zM289.8 41.9h.9v.9h-.9zM298.9 34.1h.9v.9h-.9zM292.1 38.5h.9v.9h-.9zM296 40.2h.9v.9h-.9zM288 44.2h.9v.9h-.9zM300.5 35.6h.9v.9h-.9zM299.7 31.2h.9v.9h-.9zM295.5 35.7h.9v.9h-.9zM295.7 36.5h.9v.9h-.9zM296.6 40h.9v.9h-.9zM295.1 37.6h.9v.9h-.9zM294.6 39.5h.9v.9h-.9zM292.1 42.3h.9v.9h-.9zM298.5 38.2h.9v.9h-.9zM283.9 48.4h.9v.9h-.9zM290 46.6h.9v.9h-.9zM304.4 27.6h.9v.9h-.9zM296 40.1h.9v.9h-.9zM283.6 51.4h.9v.9h-.9zM281.9 54.4h.9v.9h-.9zM291.3 41.5h.9v.9h-.9zM294.7 37.2h.9v.9h-.9zM298.6 34h.9v.9h-.9zM298.9 40.4h.9v.9h-.9zM293.3 42.7h.9v.9h-.9zM292.2 44.9h.9v.9h-.9zM298.2 34.9h.9v.9h-.9zM300.2 36.3h.9v.9h-.9zM299.7 32.7h.9v.9h-.9zM295.2 41h.9v.9h-.9zM287.1 46.1h.9v.9h-.9zM296.7 37.7h.9v.9h-.9zM304 32.2h.9v.9h-.9zM295.9 38.4h.9v.9h-.9zM288.3 45.8h.9v.9h-.9zM294.8 38h.9v.9h-.9zM295 39.9h.9v.9h-.9zM289.3 43.6h.9v.9h-.9zM288.1 49.5h.9v.9h-.9zM287.4 42.9h.9v.9h-.9zM296.9 35.5h.9v.9h-.9zM297.5 34.3h.9v.9h-.9zM303.7 29.8h.9v.9h-.9zM294.8 38.9h.9v.9h-.9zM294.2 41.4h.9v.9h-.9z" fill="#c81212" fill-opacity=".8"/></g><path d="M281.4 1.9H343V55.7" fill="none" stroke="#5a5a5a" stroke-width="1"/><path d="M281.4 1.9V55.7H343" fill="none" stroke="#1a1a1a" stroke-width="1.3"/><path d="M280.1 51.9h1.3M285.8 55.7v1.3M280.1 48h1.3M290.2 55.7v1.3M280.1 44.2h1.3M294.6 55.7v1.3M280.1 40.3h1.3M299 55.7v1.3M280.1 36.5h1.3M303.4 55.7v1.3M280.1 32.6h1.3M307.8 55.7v1.3M280.1 28.8h1.3M312.2 55.7v1.3M280.1 25h1.3M316.6 55.7v1.3M280.1 21.1h1.3M321 55.7v1.3M280.1 17.3h1.3M325.4 55.7v1.3M280.1 13.4h1.3M329.8 55.7v1.3M280.1 9.6h1.3M334.2 55.7v1.3M280.1 5.7h1.3M338.6 55.7v1.3" stroke="#222" stroke-width=".6"/><line x1="307.6" y1="1.9" x2="307.6" y2="55.7" stroke="#303030" stroke-width="1.05"/><line x1="281.4" y1="30.4" x2="343" y2="30.4" stroke="#303030" stroke-width="1.05"/><text x="331.2" y="8.2" font-size="6.1" fill="#151515" stroke="#151515" stroke-width=".15" textLength="10.3" lengthAdjust="spacingAndGlyphs">2.80</text><g filter="url(#bl)"><path d="M379 51.3h.9v.9h-.9zM372.5 45.5h.9v.9h-.9zM372.8 49.7h.9v.9h-.9zM374 42.9h.9v.9h-.9zM376 51.4h.9v.9h-.9zM371.8 44.9h.9v.9h-.9zM375.4 42h.9v.9h-.9zM373.1 44.1h.9v.9h-.9zM378 36.5h.9v.9h-.9zM378.2 38.5h.9v.9h-.9zM377.1 54.4h.9v.9h-.9zM372.2 44.6h.9v.9h-.9zM375.7 50.4h.9v.9h-.9zM374.6 35.2h.9v.9h-.9zM368.9 46h.9v.9h-.9zM378.3 50.9h.9v.9h-.9zM374.3 48.7h.9v.9h-.9zM371.7 52.1h.9v.9h-.9zM376.6 41.3h.9v.9h-.9zM377.9 54.4h.9v.9h-.9zM372.8 38.2h.9v.9h-.9zM371.9 38.6h.9v.9h-.9zM376.7 46.9h.9v.9h-.9zM376.2 46.1h.9v.9h-.9zM382.9 43.4h.9v.9h-.9zM370.7 32.4h.9v.9h-.9zM378.2 41.3h.9v.9h-.9zM375.8 47.3h.9v.9h-.9zM379.3 36.4h.9v.9h-.9zM372.2 45.4h.9v.9h-.9zM376.3 51.3h.9v.9h-.9zM374.5 33.6h.9v.9h-.9zM382.9 36h.9v.9h-.9zM372.1 47.1h.9v.9h-.9zM371.7 54.4h.9v.9h-.9zM378.2 47.9h.9v.9h-.9zM374.8 54.4h.9v.9h-.9zM379.7 41.1h.9v.9h-.9zM383.3 35.7h.9v.9h-.9zM374.1 46.6h.9v.9h-.9zM377.7 39.7h.9v.9h-.9zM384.9 53.1h.9v.9h-.9zM372.3 47.1h.9v.9h-.9zM373.8 42.6h.9v.9h-.9zM381.9 45.7h.9v.9h-.9zM376.5 45.6h.9v.9h-.9zM371.1 51.7h.9v.9h-.9zM373.2 52.2h.9v.9h-.9zM374.7 42.5h.9v.9h-.9zM384.4 46.1h.9v.9h-.9zM373.8 42.1h.9v.9h-.9zM380 54.4h.9v.9h-.9zM380.1 42.8h.9v.9h-.9zM371.4 41.3h.9v.9h-.9zM376.4 46.3h.9v.9h-.9zM373.7 52h.9v.9h-.9zM372.2 41.1h.9v.9h-.9zM379.5 47.6h.9v.9h-.9zM375 50.3h.9v.9h-.9zM370 54h.9v.9h-.9zM387.9 54.4h.9v.9h-.9zM377.6 54.4h.9v.9h-.9zM377.3 52.3h.9v.9h-.9zM376 46.1h.9v.9h-.9zM379.6 35.4h.9v.9h-.9zM376 54.4h.9v.9h-.9zM368.9 47.1h.9v.9h-.9zM381.6 46.8h.9v.9h-.9zM378 52.6h.9v.9h-.9zM378.7 34.6h.9v.9h-.9zM372.3 43.4h.9v.9h-.9zM377.7 42.5h.9v.9h-.9zM376.5 54.2h.9v.9h-.9zM368.9 51.3h.9v.9h-.9zM381.7 48.3h.9v.9h-.9zM377.1 45.4h.9v.9h-.9zM378.8 46.3h.9v.9h-.9zM373.4 49.3h.9v.9h-.9zM372.9 44.8h.9v.9h-.9zM375.2 38.7h.9v.9h-.9zM380 44.6h.9v.9h-.9zM371.2 44.6h.9v.9h-.9zM370.1 52.9h.9v.9h-.9zM379.6 54.4h.9v.9h-.9zM374.2 48.9h.9v.9h-.9zM372.2 40.3h.9v.9h-.9zM376.6 47.3h.9v.9h-.9zM381.6 43.5h.9v.9h-.9zM382.5 50.3h.9v.9h-.9zM372.6 44h.9v.9h-.9zM372.4 54.4h.9v.9h-.9zM374.3 49.9h.9v.9h-.9zM381.6 43.6h.9v.9h-.9zM374.6 46.9h.9v.9h-.9zM373.1 38.1h.9v.9h-.9zM372.2 46.9h.9v.9h-.9zM378 54.4h.9v.9h-.9zM368.9 47.8h.9v.9h-.9zM371.3 51.3h.9v.9h-.9zM380.5 45.7h.9v.9h-.9zM384.3 43h.9v.9h-.9zM374.4 39.2h.9v.9h-.9zM373.7 45.6h.9v.9h-.9zM380.3 52h.9v.9h-.9zM375.7 41h.9v.9h-.9zM375.3 42.7h.9v.9h-.9zM374.7 42.8h.9v.9h-.9zM372.7 44.7h.9v.9h-.9zM374.5 44.1h.9v.9h-.9zM370.1 45.8h.9v.9h-.9zM379.8 48.5h.9v.9h-.9zM374.3 38.8h.9v.9h-.9zM370.5 38.6h.9v.9h-.9zM373.8 43.3h.9v.9h-.9zM368.9 48.7h.9v.9h-.9zM369.4 41.3h.9v.9h-.9zM373.4 49.5h.9v.9h-.9zM386.1 43.1h.9v.9h-.9zM375.6 42.9h.9v.9h-.9zM376 44.1h.9v.9h-.9zM389.2 39.1h.9v.9h-.9zM376.5 40.7h.9v.9h-.9zM378.8 42.2h.9v.9h-.9zM379.9 39.1h.9v.9h-.9zM387.5 46.1h.9v.9h-.9zM368.9 48.8h.9v.9h-.9zM374.7 38.7h.9v.9h-.9zM379.2 42.2h.9v.9h-.9zM380.7 42h.9v.9h-.9zM381.5 45.8h.9v.9h-.9zM378.8 45.9h.9v.9h-.9zM375.2 43h.9v.9h-.9zM379.2 48.9h.9v.9h-.9zM375 54.4h.9v.9h-.9zM385.4 38.8h.9v.9h-.9zM382.4 44.6h.9v.9h-.9zM378.2 40.7h.9v.9h-.9zM385.2 40.5h.9v.9h-.9zM376.6 41.1h.9v.9h-.9zM386.6 51.8h.9v.9h-.9zM370.5 42.6h.9v.9h-.9zM378.8 42.7h.9v.9h-.9zM375.3 39.2h.9v.9h-.9zM378.2 39.1h.9v.9h-.9zM381.1 54.4h.9v.9h-.9zM375.4 53.9h.9v.9h-.9zM378.8 41.4h.9v.9h-.9zM375.3 39.8h.9v.9h-.9zM377.6 48.8h.9v.9h-.9zM381.6 43.5h.9v.9h-.9zM371.1 44.6h.9v.9h-.9zM385.3 46.5h.9v.9h-.9zM376.7 33.8h.9v.9h-.9zM374.9 48h.9v.9h-.9zM372.3 52.3h.9v.9h-.9zM374.2 40.3h.9v.9h-.9zM374.1 44.5h.9v.9h-.9zM381.9 42h.9v.9h-.9zM368.9 44.6h.9v.9h-.9zM379.6 53.3h.9v.9h-.9zM371.5 53h.9v.9h-.9zM380.3 47.5h.9v.9h-.9zM373.2 40.2h.9v.9h-.9zM372.3 50.1h.9v.9h-.9zM378.1 50.8h.9v.9h-.9zM386 45.1h.9v.9h-.9zM376.8 54.4h.9v.9h-.9zM370.6 42.6h.9v.9h-.9zM375.2 43h.9v.9h-.9zM377.7 40.5h.9v.9h-.9zM419.8 49.6h.9v.9h-.9zM404.8 54.4h.9v.9h-.9zM402.2 51.8h.9v.9h-.9zM387.3 53.3h.9v.9h-.9zM400.5 54.4h.9v.9h-.9zM403.3 50.7h.9v.9h-.9zM407.4 51h.9v.9h-.9zM400 54.4h.9v.9h-.9zM411.7 51.8h.9v.9h-.9zM410.3 53.4h.9v.9h-.9zM408.6 51.6h.9v.9h-.9zM404.6 52.5h.9v.9h-.9zM408.4 52.4h.9v.9h-.9zM399.7 51.4h.9v.9h-.9zM407.6 49.3h.9v.9h-.9zM403.9 53.3h.9v.9h-.9zM405.3 50.9h.9v.9h-.9zM403.8 50.4h.9v.9h-.9zM411.7 50.7h.9v.9h-.9zM391 48.7h.9v.9h-.9zM406.3 52h.9v.9h-.9zM400.3 48.5h.9v.9h-.9zM402.8 49.6h.9v.9h-.9zM398.9 51.5h.9v.9h-.9zM398 52.3h.9v.9h-.9zM398.2 50.5h.9v.9h-.9zM402.2 54.4h.9v.9h-.9zM416.4 53.7h.9v.9h-.9zM398.2 51.5h.9v.9h-.9zM411.2 53.4h.9v.9h-.9zM391.2 51.4h.9v.9h-.9zM398.2 53.3h.9v.9h-.9zM409 50.3h.9v.9h-.9zM420.8 50.9h.9v.9h-.9zM423.1 51.1h.9v.9h-.9zM403.3 54.4h.9v.9h-.9zM399.9 50.5h.9v.9h-.9zM415.6 51.4h.9v.9h-.9zM407.7 48.6h.9v.9h-.9zM418 53.8h.9v.9h-.9zM406.8 53.2h.9v.9h-.9zM400.1 50.4h.9v.9h-.9zM391.7 52.4h.9v.9h-.9zM413.7 53.5h.9v.9h-.9zM411.2 53.2h.9v.9h-.9zM396.8 48.5h.9v.9h-.9zM409 51.9h.9v.9h-.9zM411.7 50.9h.9v.9h-.9zM397.1 52.6h.9v.9h-.9zM399.6 47.8h.9v.9h-.9zM399.2 49.5h.9v.9h-.9zM395.3 50.3h.9v.9h-.9zM411.4 54.4h.9v.9h-.9zM417.5 50.6h.9v.9h-.9zM412.9 51.4h.9v.9h-.9zM407.2 50h.9v.9h-.9zM403.4 47.7h.9v.9h-.9zM418 49.8h.9v.9h-.9zM408.6 50.2h.9v.9h-.9zM406.1 48.8h.9v.9h-.9zM401.1 53.6h.9v.9h-.9zM408.7 47.1h.9v.9h-.9zM410.7 48.5h.9v.9h-.9zM406.2 52.7h.9v.9h-.9zM399 50.8h.9v.9h-.9zM402.1 52.5h.9v.9h-.9zM411.2 54.4h.9v.9h-.9zM406.6 54.4h.9v.9h-.9zM396.6 54.4h.9v.9h-.9zM402 53.3h.9v.9h-.9zM403 51.7h.9v.9h-.9zM396.8 52.4h.9v.9h-.9zM419.9 51.9h.9v.9h-.9zM403.8 51.5h.9v.9h-.9zM409.6 51.1h.9v.9h-.9zM404 52h.9v.9h-.9zM414.2 53.7h.9v.9h-.9zM395.8 50.1h.9v.9h-.9zM404.2 53.5h.9v.9h-.9zM411.6 51.1h.9v.9h-.9zM420.7 51.2h.9v.9h-.9zM415 54.4h.9v.9h-.9zM416.5 52h.9v.9h-.9zM408.5 48.1h.9v.9h-.9zM390.1 50.1h.9v.9h-.9zM409.6 54h.9v.9h-.9zM403.2 53.9h.9v.9h-.9zM408.5 54.4h.9v.9h-.9zM391.5 49.7h.9v.9h-.9zM396.5 49.2h.9v.9h-.9zM416.9 49.4h.9v.9h-.9zM397.5 50.6h.9v.9h-.9zM410.9 50.5h.9v.9h-.9zM409.8 52.8h.9v.9h-.9zM399 46.2h.9v.9h-.9zM396.8 48.7h.9v.9h-.9zM416.8 49.9h.9v.9h-.9zM395.6 52.4h.9v.9h-.9zM404.4 49.4h.9v.9h-.9zM412.6 53.6h.9v.9h-.9zM406.2 49.8h.9v.9h-.9zM397.2 46.9h.9v.9h-.9zM407 52.4h.9v.9h-.9zM396.8 51.6h.9v.9h-.9zM427.7 49h.9v.9h-.9zM390.6 52.9h.9v.9h-.9zM400.7 50.4h.9v.9h-.9zM408.9 51.2h.9v.9h-.9zM411.8 52.7h.9v.9h-.9zM413.1 51.8h.9v.9h-.9zM387.1 54.4h.9v.9h-.9zM390.7 53.9h.9v.9h-.9zM406 48.4h.9v.9h-.9zM404.5 53.5h.9v.9h-.9zM396 51.6h.9v.9h-.9zM398.2 49.2h.9v.9h-.9zM399.2 54.4h.9v.9h-.9zM409.4 51.5h.9v.9h-.9zM403.4 51.8h.9v.9h-.9zM406.2 52h.9v.9h-.9zM390.5 53.6h.9v.9h-.9zM397.3 45.6h.9v.9h-.9zM409.5 48.8h.9v.9h-.9zM402.9 51.3h.9v.9h-.9zM399.4 52.7h.9v.9h-.9zM401.9 50.9h.9v.9h-.9zM396.5 50.9h.9v.9h-.9zM395.9 51.6h.9v.9h-.9zM414.4 53.8h.9v.9h-.9zM407.4 48.4h.9v.9h-.9zM397.5 43.8h.9v.9h-.9zM419.6 52.5h.9v.9h-.9zM391.7 37.2h.9v.9h-.9zM409.2 52.5h.9v.9h-.9zM397 50.3h.9v.9h-.9zM405.7 43.6h.9v.9h-.9zM425.3 32.5h.9v.9h-.9zM403.2 34.6h.9v.9h-.9zM396 38h.9v.9h-.9zM416.9 44.3h.9v.9h-.9zM395.5 49.4h.9v.9h-.9zM409.8 34.3h.9v.9h-.9zM417.4 24.5h.9v.9h-.9zM381.8 27.5h.9v.9h-.9zM416.8 9.7h.9v.9h-.9z" fill="#b8382a" fill-opacity=".55"/><path d="M381.4 39h.9v.9h-.9zM375.6 38h.9v.9h-.9zM373.9 44.7h.9v.9h-.9zM379.9 42.4h.9v.9h-.9zM380.5 44.8h.9v.9h-.9zM376.3 42.9h.9v.9h-.9zM379.1 48.9h.9v.9h-.9zM376.7 44.1h.9v.9h-.9zM379.6 46.6h.9v.9h-.9zM379.3 46.2h.9v.9h-.9zM374.9 42.2h.9v.9h-.9zM372.3 42.9h.9v.9h-.9zM384.9 43.7h.9v.9h-.9zM378.3 43.8h.9v.9h-.9zM378.4 39.1h.9v.9h-.9zM376 42.5h.9v.9h-.9zM378.5 40.5h.9v.9h-.9zM377.7 40.9h.9v.9h-.9zM374.1 41.1h.9v.9h-.9zM375.6 45.5h.9v.9h-.9zM382 44.7h.9v.9h-.9zM377.4 41.4h.9v.9h-.9zM373.4 41.5h.9v.9h-.9zM382.6 46.4h.9v.9h-.9zM378.7 42.3h.9v.9h-.9zM378 44.3h.9v.9h-.9zM378 44.3h.9v.9h-.9zM375.7 43.2h.9v.9h-.9zM377 46.2h.9v.9h-.9zM374.3 46.8h.9v.9h-.9zM369.1 35.2h.9v.9h-.9zM369.2 41.3h.9v.9h-.9zM369.1 44.2h.9v.9h-.9zM368.9 23.5h.9v.9h-.9zM369.6 39.8h.9v.9h-.9zM370.2 43.8h.9v.9h-.9zM368.9 52.2h.9v.9h-.9zM368.9 45.4h.9v.9h-.9zM370.5 50.7h.9v.9h-.9zM368.9 39.2h.9v.9h-.9zM368.9 46.6h.9v.9h-.9zM369.5 30.1h.9v.9h-.9zM369.5 49.2h.9v.9h-.9zM369.7 33.5h.9v.9h-.9zM368.9 29.1h.9v.9h-.9zM368.9 43.1h.9v.9h-.9zM369.2 52.8h.9v.9h-.9zM369.4 36.9h.9v.9h-.9zM368.9 54.4h.9v.9h-.9zM369.3 39.8h.9v.9h-.9zM368.9 29.9h.9v.9h-.9zM369.6 30.6h.9v.9h-.9zM369.5 46.2h.9v.9h-.9zM369 24.3h.9v.9h-.9zM369.4 53.8h.9v.9h-.9zM368.9 27.8h.9v.9h-.9zM369.8 41.5h.9v.9h-.9zM368.8 52h.9v.9h-.9zM369 44.5h.9v.9h-.9zM369 32.8h.9v.9h-.9zM369.3 31.7h.9v.9h-.9zM368.9 34.8h.9v.9h-.9zM369.9 50.8h.9v.9h-.9zM370.5 49.7h.9v.9h-.9zM370.2 42.5h.9v.9h-.9zM368.9 44.6h.9v.9h-.9zM368.9 47.2h.9v.9h-.9zM368.9 42.6h.9v.9h-.9zM368.9 38.8h.9v.9h-.9zM369.8 38h.9v.9h-.9zM368.8 42.8h.9v.9h-.9zM369.7 38.3h.9v.9h-.9zM368.9 25h.9v.9h-.9zM368.9 50.4h.9v.9h-.9zM369.1 44.7h.9v.9h-.9zM369.8 42.9h.9v.9h-.9zM369.5 35.2h.9v.9h-.9zM368.9 46.2h.9v.9h-.9zM369.1 45.7h.9v.9h-.9zM368.9 38.7h.9v.9h-.9zM410 53.8h.9v.9h-.9zM414.1 49.3h.9v.9h-.9zM406.1 52h.9v.9h-.9zM410.3 51h.9v.9h-.9zM404.5 54.4h.9v.9h-.9zM409.9 49.7h.9v.9h-.9zM406.1 54.5h.9v.9h-.9zM403.6 53.4h.9v.9h-.9zM406.4 50.4h.9v.9h-.9zM403.5 54.1h.9v.9h-.9zM410.7 51.7h.9v.9h-.9zM410.4 51.5h.9v.9h-.9zM407 52.5h.9v.9h-.9zM401.1 53h.9v.9h-.9zM404.5 48.6h.9v.9h-.9zM402.7 51.3h.9v.9h-.9zM402.7 51.1h.9v.9h-.9zM403.3 49h.9v.9h-.9zM409.5 52.6h.9v.9h-.9zM407 52.1h.9v.9h-.9zM406.3 52.1h.9v.9h-.9zM401.7 50.3h.9v.9h-.9zM406.3 54h.9v.9h-.9zM406.9 54.4h.9v.9h-.9zM400.6 52.1h.9v.9h-.9zM403.6 54.3h.9v.9h-.9zM412.7 51.8h.9v.9h-.9zM408.9 52.2h.9v.9h-.9zM402.1 52.4h.9v.9h-.9zM401.9 54.4h.9v.9h-.9z" fill="#c21e1e" fill-opacity=".7"/><path d="M372.4 53h.9v.9h-.9zM368.9 49.1h.9v.9h-.9zM374.5 50.2h.9v.9h-.9zM368.9 54.4h.9v.9h-.9zM369 49.1h.9v.9h-.9zM373.3 48.6h.9v.9h-.9zM368.9 54.2h.9v.9h-.9zM369 54.4h.9v.9h-.9zM371.2 54.4h.9v.9h-.9zM371.3 51.6h.9v.9h-.9zM369.5 50.9h.9v.9h-.9zM369.8 51.4h.9v.9h-.9zM372.9 48.2h.9v.9h-.9zM368.9 46.1h.9v.9h-.9zM374.6 51.3h.9v.9h-.9zM371 51.3h.9v.9h-.9zM373.4 52.3h.9v.9h-.9zM373 51.1h.9v.9h-.9zM370.7 51.4h.9v.9h-.9zM368.9 54.3h.9v.9h-.9zM368.9 48.9h.9v.9h-.9zM372.6 51.6h.9v.9h-.9zM373 54.4h.9v.9h-.9zM375.5 54.4h.9v.9h-.9zM370.5 54.4h.9v.9h-.9zM368.9 51.3h.9v.9h-.9zM373.4 50.9h.9v.9h-.9zM370.7 50.6h.9v.9h-.9zM374.3 45.1h.9v.9h-.9zM374.1 54.3h.9v.9h-.9zM370.8 53h.9v.9h-.9zM368.9 54.4h.9v.9h-.9zM378.3 49.1h.9v.9h-.9zM374.4 51.4h.9v.9h-.9zM370.2 50.2h.9v.9h-.9zM370.5 48.2h.9v.9h-.9zM368.9 54.4h.9v.9h-.9zM371 52.9h.9v.9h-.9zM371.7 52.7h.9v.9h-.9zM368.9 49h.9v.9h-.9zM372.5 54.1h.9v.9h-.9zM368.9 50h.9v.9h-.9zM368.9 53.2h.9v.9h-.9zM371.8 51.6h.9v.9h-.9zM369.4 52.4h.9v.9h-.9zM371.1 49.6h.9v.9h-.9zM371.8 49.8h.9v.9h-.9zM373.3 53.1h.9v.9h-.9zM369.3 53h.9v.9h-.9zM371.2 49.7h.9v.9h-.9zM368.8 47.2h.9v.9h-.9zM368.9 52.4h.9v.9h-.9zM373.9 49.9h.9v.9h-.9zM371.4 52.4h.9v.9h-.9zM372.9 52.7h.9v.9h-.9zM373.9 53.5h.9v.9h-.9zM369.2 52.5h.9v.9h-.9zM368.9 51h.9v.9h-.9zM371 53h.9v.9h-.9zM370.3 53.7h.9v.9h-.9zM374.2 49.3h.9v.9h-.9zM369.7 52.2h.9v.9h-.9zM372.2 51.9h.9v.9h-.9zM373 48.4h.9v.9h-.9zM372.9 54.4h.9v.9h-.9zM373.7 52.6h.9v.9h-.9zM370.4 52.5h.9v.9h-.9zM370.8 47.4h.9v.9h-.9zM369.5 51.4h.9v.9h-.9zM369.8 49.1h.9v.9h-.9zM370.4 50.5h.9v.9h-.9zM371.2 51.4h.9v.9h-.9zM371.4 54.1h.9v.9h-.9zM371.3 52.6h.9v.9h-.9zM368.9 43.8h.9v.9h-.9zM370 53.3h.9v.9h-.9zM370.2 49.9h.9v.9h-.9zM368.9 53.8h.9v.9h-.9zM369.7 52.1h.9v.9h-.9zM373.7 52.9h.9v.9h-.9zM376.4 51.2h.9v.9h-.9zM373.3 53.3h.9v.9h-.9zM369.4 51.6h.9v.9h-.9zM369.6 48.8h.9v.9h-.9zM371.7 49.5h.9v.9h-.9zM375 49.6h.9v.9h-.9zM369.7 51.7h.9v.9h-.9zM369.8 51.6h.9v.9h-.9zM369.5 47.8h.9v.9h-.9zM368.9 48.1h.9v.9h-.9zM374.7 52.7h.9v.9h-.9zM371.4 50.3h.9v.9h-.9zM370.7 52.3h.9v.9h-.9zM368.9 49.4h.9v.9h-.9zM368.9 54.4h.9v.9h-.9zM368.9 54.4h.9v.9h-.9zM369.9 54.4h.9v.9h-.9zM370.8 51.6h.9v.9h-.9zM374.2 53.8h.9v.9h-.9zM373.3 48.7h.9v.9h-.9zM373.7 54.4h.9v.9h-.9zM370.8 50.2h.9v.9h-.9zM368.9 54.1h.9v.9h-.9zM371.7 51.5h.9v.9h-.9zM368.9 54.4h.9v.9h-.9zM373.1 51.4h.9v.9h-.9zM374.5 49h.9v.9h-.9zM373.1 48.9h.9v.9h-.9zM374.4 50.8h.9v.9h-.9zM373.9 50.4h.9v.9h-.9z" fill="#c81212" fill-opacity=".8"/></g><path d="M368.4 3H429V55.7" fill="none" stroke="#5a5a5a" stroke-width="1"/><path d="M368.4 3V55.7H429" fill="none" stroke="#1a1a1a" stroke-width="1.3"/><path d="M367.1 51.9h1.3M372.7 55.7v1.3M367.1 48.2h1.3M377.1 55.7v1.3M367.1 44.4h1.3M381.4 55.7v1.3M367.1 40.6h1.3M385.7 55.7v1.3M367.1 36.9h1.3M390 55.7v1.3M367.1 33.1h1.3M394.4 55.7v1.3M367.1 29.4h1.3M398.7 55.7v1.3M367.1 25.6h1.3M403 55.7v1.3M367.1 21.8h1.3M407.4 55.7v1.3M367.1 18.1h1.3M411.7 55.7v1.3M367.1 14.3h1.3M416 55.7v1.3M367.1 10.5h1.3M420.3 55.7v1.3M367.1 6.8h1.3M424.7 55.7v1.3" stroke="#222" stroke-width=".6"/><line x1="389.8" y1="3" x2="389.8" y2="55.7" stroke="#303030" stroke-width="1.05"/><line x1="368.4" y1="29.6" x2="429" y2="29.6" stroke="#303030" stroke-width="1.05"/><text x="417.2" y="9" font-size="6.1" fill="#151515" stroke="#151515" stroke-width=".15" textLength="10.3" lengthAdjust="spacingAndGlyphs">0.16</text><g filter="url(#bl)"><path d="M461.9 32.1h.9v.9h-.9zM460.4 53h.9v.9h-.9zM464.7 51h.9v.9h-.9zM455.9 36.7h.9v.9h-.9zM465.3 48.2h.9v.9h-.9zM467.1 32.5h.9v.9h-.9zM465.5 42.5h.9v.9h-.9zM463.6 46h.9v.9h-.9zM461.6 32.4h.9v.9h-.9zM457.8 33.9h.9v.9h-.9zM456.6 42.2h.9v.9h-.9zM469.4 38.5h.9v.9h-.9zM459.3 35.8h.9v.9h-.9zM455.3 43.4h.9v.9h-.9zM460.6 41.5h.9v.9h-.9zM458.3 46.1h.9v.9h-.9zM457.2 46.4h.9v.9h-.9zM459.8 47.9h.9v.9h-.9zM458.7 45.8h.9v.9h-.9zM465.1 42.5h.9v.9h-.9zM470.9 44.1h.9v.9h-.9zM458.7 47.3h.9v.9h-.9zM459 39.6h.9v.9h-.9zM463.1 44.1h.9v.9h-.9zM471.3 32h.9v.9h-.9zM461.7 50.1h.9v.9h-.9zM462.2 45h.9v.9h-.9zM470.4 35.3h.9v.9h-.9zM463.2 48h.9v.9h-.9zM460.1 32h.9v.9h-.9zM458.1 44.2h.9v.9h-.9zM463.9 54.6h.9v.9h-.9zM469.5 33.3h.9v.9h-.9zM468.1 48.7h.9v.9h-.9zM470.9 42h.9v.9h-.9zM460.3 43.9h.9v.9h-.9zM470.5 46.9h.9v.9h-.9zM471.3 47.9h.9v.9h-.9zM460.1 36.6h.9v.9h-.9zM472 33.5h.9v.9h-.9zM461.3 41h.9v.9h-.9zM458.6 39.4h.9v.9h-.9zM463 55.3h.9v.9h-.9zM462.7 39.7h.9v.9h-.9zM463.6 48.9h.9v.9h-.9zM459 40.5h.9v.9h-.9zM455.3 47.4h.9v.9h-.9zM466.3 52.4h.9v.9h-.9zM457.2 55.3h.9v.9h-.9zM467.3 41.3h.9v.9h-.9zM461.1 41.1h.9v.9h-.9zM457.1 47.8h.9v.9h-.9zM460 38.5h.9v.9h-.9zM465.5 43.7h.9v.9h-.9zM460.2 41.5h.9v.9h-.9zM460.6 51.5h.9v.9h-.9zM467.9 38.4h.9v.9h-.9zM462.8 51.6h.9v.9h-.9zM461.6 54.2h.9v.9h-.9zM465.2 47.2h.9v.9h-.9zM455.3 48.3h.9v.9h-.9zM464.7 46.7h.9v.9h-.9zM465.3 46.3h.9v.9h-.9zM460.5 48.7h.9v.9h-.9zM463.3 36.4h.9v.9h-.9zM458 44h.9v.9h-.9zM464.6 29.1h.9v.9h-.9zM455.3 49.6h.9v.9h-.9zM462.9 55.3h.9v.9h-.9zM455.5 41.4h.9v.9h-.9zM460.1 46.5h.9v.9h-.9zM469.9 53.2h.9v.9h-.9zM458.1 50.8h.9v.9h-.9zM457.1 44.9h.9v.9h-.9zM463.8 46.9h.9v.9h-.9zM459.1 51.4h.9v.9h-.9zM462.7 42.9h.9v.9h-.9zM461.7 36.3h.9v.9h-.9zM466.5 45.1h.9v.9h-.9zM465.2 54.7h.9v.9h-.9zM458.8 41.2h.9v.9h-.9zM463 48.4h.9v.9h-.9zM462.1 48.9h.9v.9h-.9zM465.2 31.9h.9v.9h-.9zM459.7 30.2h.9v.9h-.9zM461.6 40.4h.9v.9h-.9zM465.9 44.1h.9v.9h-.9zM462.7 51h.9v.9h-.9zM465.9 35.2h.9v.9h-.9zM459.6 45.1h.9v.9h-.9zM471.3 41.8h.9v.9h-.9zM462.2 44.7h.9v.9h-.9zM466.8 42.4h.9v.9h-.9zM464.4 40.3h.9v.9h-.9zM460.3 38h.9v.9h-.9zM466.2 39.5h.9v.9h-.9zM465.7 45.6h.9v.9h-.9zM467.8 26.1h.9v.9h-.9zM458.3 35.3h.9v.9h-.9zM462.2 48.1h.9v.9h-.9zM475.4 52.7h.9v.9h-.9zM469.6 45.4h.9v.9h-.9zM461.1 46.4h.9v.9h-.9zM455.3 48.9h.9v.9h-.9zM463 46.9h.9v.9h-.9zM458 36.1h.9v.9h-.9zM459.9 42.7h.9v.9h-.9zM464.7 40.8h.9v.9h-.9zM464.7 47.3h.9v.9h-.9zM457.3 42.4h.9v.9h-.9zM455.4 39.5h.9v.9h-.9zM467.4 38.5h.9v.9h-.9zM472.1 46.2h.9v.9h-.9zM467.3 43.7h.9v.9h-.9zM467.2 49.9h.9v.9h-.9zM463.5 39.7h.9v.9h-.9zM460.3 55.2h.9v.9h-.9zM462.1 40.1h.9v.9h-.9zM459.5 32.4h.9v.9h-.9zM460.6 45.1h.9v.9h-.9zM460.6 38.2h.9v.9h-.9zM465 45.9h.9v.9h-.9zM460.9 44.9h.9v.9h-.9zM458.2 48.4h.9v.9h-.9zM458.2 40.9h.9v.9h-.9zM463.7 40.4h.9v.9h-.9zM457.4 55.3h.9v.9h-.9zM470.4 32h.9v.9h-.9zM463.6 35h.9v.9h-.9zM464.5 34.8h.9v.9h-.9zM465.8 46.4h.9v.9h-.9zM471.3 50.6h.9v.9h-.9zM460.8 49h.9v.9h-.9zM460.8 42.3h.9v.9h-.9zM460.6 31.9h.9v.9h-.9zM465.9 30.1h.9v.9h-.9zM461.8 46.3h.9v.9h-.9zM463.6 33h.9v.9h-.9zM459.8 47.3h.9v.9h-.9zM468.4 53.1h.9v.9h-.9zM455.3 45.9h.9v.9h-.9zM460.6 47.8h.9v.9h-.9zM455.3 42.1h.9v.9h-.9zM466.5 38.9h.9v.9h-.9zM461.2 36.8h.9v.9h-.9zM468.4 34.6h.9v.9h-.9zM458.5 40.9h.9v.9h-.9zM461.5 55.3h.9v.9h-.9zM464.3 37.7h.9v.9h-.9zM465.8 45.2h.9v.9h-.9zM487.3 48.8h.9v.9h-.9zM499.6 49.3h.9v.9h-.9zM489.4 46.1h.9v.9h-.9zM501 40.9h.9v.9h-.9zM499.7 41.4h.9v.9h-.9zM488.5 48.2h.9v.9h-.9zM491.1 55.3h.9v.9h-.9zM495.6 47.8h.9v.9h-.9zM498.6 48.2h.9v.9h-.9zM487.4 52.9h.9v.9h-.9zM502 53.6h.9v.9h-.9zM485 55.3h.9v.9h-.9zM489.8 51.4h.9v.9h-.9zM500.1 55.3h.9v.9h-.9zM482.2 43.5h.9v.9h-.9zM500 50.2h.9v.9h-.9zM490.5 35.1h.9v.9h-.9zM495.3 47.2h.9v.9h-.9zM475.9 55.3h.9v.9h-.9zM476.6 45.5h.9v.9h-.9zM492.5 49h.9v.9h-.9zM497.3 46.8h.9v.9h-.9zM486.8 46.4h.9v.9h-.9zM479.1 43.1h.9v.9h-.9zM505.1 45h.9v.9h-.9zM492 55.3h.9v.9h-.9zM499.2 48.5h.9v.9h-.9zM497.2 46.8h.9v.9h-.9zM486.7 52.4h.9v.9h-.9zM493.4 55h.9v.9h-.9zM490.8 46.4h.9v.9h-.9zM494.7 47.2h.9v.9h-.9zM490.5 44.1h.9v.9h-.9zM494.1 49.4h.9v.9h-.9zM504.2 47.9h.9v.9h-.9zM481.3 50h.9v.9h-.9zM507.1 46.1h.9v.9h-.9zM487.4 47.3h.9v.9h-.9zM474.3 46.5h.9v.9h-.9zM491.3 41.4h.9v.9h-.9zM496.2 44.1h.9v.9h-.9zM480.7 44.8h.9v.9h-.9zM496.5 55.3h.9v.9h-.9zM500.5 48.9h.9v.9h-.9zM489.2 46.9h.9v.9h-.9zM498.7 45.7h.9v.9h-.9zM495.2 52.3h.9v.9h-.9zM486.7 45.4h.9v.9h-.9zM495.4 48h.9v.9h-.9zM491.7 45.7h.9v.9h-.9zM492.1 55.3h.9v.9h-.9zM501.2 40.9h.9v.9h-.9zM492.8 48.4h.9v.9h-.9zM492.7 41.9h.9v.9h-.9zM491.7 48.7h.9v.9h-.9zM488.2 49.4h.9v.9h-.9zM477 41.4h.9v.9h-.9zM493.1 49.7h.9v.9h-.9zM491.4 46h.9v.9h-.9zM493.7 52.8h.9v.9h-.9zM498.2 47.7h.9v.9h-.9zM489.5 52.7h.9v.9h-.9zM496 51.9h.9v.9h-.9zM490.7 44.2h.9v.9h-.9zM493.7 45.2h.9v.9h-.9zM499.8 51.8h.9v.9h-.9zM478.6 50.9h.9v.9h-.9zM501 52.6h.9v.9h-.9zM489.5 44.2h.9v.9h-.9zM498.7 52.5h.9v.9h-.9zM492.9 42.9h.9v.9h-.9zM482.8 49.2h.9v.9h-.9zM487.2 45h.9v.9h-.9zM495.3 52.6h.9v.9h-.9zM479.3 45h.9v.9h-.9zM500.8 47.8h.9v.9h-.9zM490.3 50.8h.9v.9h-.9zM485.2 42.6h.9v.9h-.9zM492.6 54.9h.9v.9h-.9zM499 48h.9v.9h-.9zM499 46.2h.9v.9h-.9zM485 40.6h.9v.9h-.9zM494.2 52h.9v.9h-.9zM494.9 47.8h.9v.9h-.9zM489.9 52.8h.9v.9h-.9zM492.2 41.7h.9v.9h-.9zM501.2 45.1h.9v.9h-.9zM495 48h.9v.9h-.9zM499.2 49.1h.9v.9h-.9zM500.3 48.9h.9v.9h-.9zM489.6 45.8h.9v.9h-.9zM496.7 44.3h.9v.9h-.9zM498.4 46.9h.9v.9h-.9zM486.6 44.2h.9v.9h-.9zM491.6 55.3h.9v.9h-.9zM497.4 48.1h.9v.9h-.9zM486.7 55.3h.9v.9h-.9zM490.7 48h.9v.9h-.9zM489.8 53.9h.9v.9h-.9zM493.6 46h.9v.9h-.9zM493.7 43.6h.9v.9h-.9zM485.8 47.3h.9v.9h-.9zM474.1 53.2h.9v.9h-.9zM505.2 43.1h.9v.9h-.9zM491.6 41h.9v.9h-.9zM493.6 48.9h.9v.9h-.9zM497.2 42.1h.9v.9h-.9zM488.7 45.1h.9v.9h-.9zM490.9 55.3h.9v.9h-.9zM491.2 47.8h.9v.9h-.9zM489.3 51.5h.9v.9h-.9zM508.9 53.1h.9v.9h-.9zM502.3 43.3h.9v.9h-.9zM499.3 48.1h.9v.9h-.9zM500.5 52.7h.9v.9h-.9zM496.7 40.6h.9v.9h-.9zM493.4 45.8h.9v.9h-.9zM495.4 48.2h.9v.9h-.9zM499.2 40.9h.9v.9h-.9zM487.8 47.7h.9v.9h-.9zM494.5 46.2h.9v.9h-.9zM492.3 48.2h.9v.9h-.9zM499.2 47.5h.9v.9h-.9zM494 40h.9v.9h-.9zM475.8 41.5h.9v.9h-.9zM494.8 37.8h.9v.9h-.9zM495.1 47.6h.9v.9h-.9zM492.5 44.8h.9v.9h-.9zM489.8 51.7h.9v.9h-.9zM494.8 47.9h.9v.9h-.9zM489.4 48.9h.9v.9h-.9zM500.1 47.9h.9v.9h-.9zM490.2 42.8h.9v.9h-.9zM493.1 43.9h.9v.9h-.9zM483.3 51.8h.9v.9h-.9zM488.5 39h.9v.9h-.9zM487.9 55.3h.9v.9h-.9zM491.8 42.1h.9v.9h-.9zM485.5 51.2h.9v.9h-.9zM495.1 48.9h.9v.9h-.9zM491.2 50.1h.9v.9h-.9zM502.3 50.2h.9v.9h-.9zM491.4 41.8h.9v.9h-.9zM495.3 54.9h.9v.9h-.9zM496.6 42.4h.9v.9h-.9zM493.7 53.7h.9v.9h-.9zM488.4 50.2h.9v.9h-.9zM500.2 55.2h.9v.9h-.9zM482.3 40.3h.9v.9h-.9zM494.9 51.1h.9v.9h-.9zM490.2 47.9h.9v.9h-.9zM489.9 53.3h.9v.9h-.9zM478.3 49.1h.9v.9h-.9zM484.3 45h.9v.9h-.9zM482.7 44h.9v.9h-.9zM492.3 48.1h.9v.9h-.9zM503.9 47h.9v.9h-.9zM494.7 49.6h.9v.9h-.9zM494.2 54.5h.9v.9h-.9zM493.4 48.7h.9v.9h-.9zM491.8 48h.9v.9h-.9zM492.1 52.4h.9v.9h-.9zM492.6 48.3h.9v.9h-.9zM492.2 51.4h.9v.9h-.9zM489.5 52.2h.9v.9h-.9zM488.8 51.1h.9v.9h-.9zM504.8 49h.9v.9h-.9zM491.9 42.8h.9v.9h-.9zM497.2 48.1h.9v.9h-.9zM498.3 45.1h.9v.9h-.9zM495.8 55.3h.9v.9h-.9zM495.1 46.6h.9v.9h-.9zM484.2 48h.9v.9h-.9zM496.7 50.7h.9v.9h-.9zM485.3 43.4h.9v.9h-.9zM486.2 43.5h.9v.9h-.9zM490.7 49.2h.9v.9h-.9zM504.8 48.9h.9v.9h-.9zM501.8 40.7h.9v.9h-.9zM502.4 51.5h.9v.9h-.9zM495.3 51.7h.9v.9h-.9zM496.5 55.3h.9v.9h-.9zM497.7 40.3h.9v.9h-.9zM481.3 55.2h.9v.9h-.9zM492 53.9h.9v.9h-.9zM490.3 45.1h.9v.9h-.9zM490.3 49.4h.9v.9h-.9zM493.7 45.3h.9v.9h-.9zM495.9 50.7h.9v.9h-.9zM486.6 43.1h.9v.9h-.9zM479.9 46.6h.9v.9h-.9zM492.6 44.9h.9v.9h-.9zM488.6 47.4h.9v.9h-.9zM492.7 50.5h.9v.9h-.9zM497.8 49.9h.9v.9h-.9zM499.7 43.7h.9v.9h-.9zM496.4 49.7h.9v.9h-.9zM485.8 45h.9v.9h-.9zM495.3 48.3h.9v.9h-.9zM484.4 45.5h.9v.9h-.9zM502.3 51.7h.9v.9h-.9zM493 54h.9v.9h-.9zM486.7 47.2h.9v.9h-.9zM498.7 46.5h.9v.9h-.9zM485.3 50.6h.9v.9h-.9zM502.8 36.7h.9v.9h-.9zM493.5 42.4h.9v.9h-.9zM490.6 41.7h.9v.9h-.9zM509.2 45h.9v.9h-.9zM492.8 44.9h.9v.9h-.9zM486.1 46h.9v.9h-.9zM493.8 55.3h.9v.9h-.9zM494.3 55h.9v.9h-.9zM485.7 48.3h.9v.9h-.9zM489.7 41h.9v.9h-.9zM516.4 46.9h.9v.9h-.9zM494.1 44.6h.9v.9h-.9zM488.8 43.4h.9v.9h-.9zM499.1 46.2h.9v.9h-.9zM491.6 48.8h.9v.9h-.9zM484.6 49h.9v.9h-.9zM491.4 50h.9v.9h-.9zM490 48.2h.9v.9h-.9zM495.8 52.3h.9v.9h-.9zM488.1 52.3h.9v.9h-.9zM486.2 47.2h.9v.9h-.9zM493.3 48.6h.9v.9h-.9zM476.5 43.7h.9v.9h-.9zM491.3 52.1h.9v.9h-.9zM488 54.7h.9v.9h-.9zM480.9 48.3h.9v.9h-.9zM496 48.1h.9v.9h-.9zM494.2 52.2h.9v.9h-.9zM487.3 50.6h.9v.9h-.9zM499.3 47h.9v.9h-.9zM477.6 42.7h.9v.9h-.9zM487 43.3h.9v.9h-.9zM495.3 44.4h.9v.9h-.9zM508.4 50.5h.9v.9h-.9zM484.1 46.7h.9v.9h-.9zM502.3 51h.9v.9h-.9zM486 52.6h.9v.9h-.9zM489.4 55.3h.9v.9h-.9zM489 50.7h.9v.9h-.9zM496.1 46h.9v.9h-.9zM491.5 53.2h.9v.9h-.9zM495.7 47.7h.9v.9h-.9zM495.4 55.3h.9v.9h-.9zM498.5 50.1h.9v.9h-.9zM494.6 41h.9v.9h-.9zM493.4 45.8h.9v.9h-.9zM497.2 45.3h.9v.9h-.9zM495.4 43.3h.9v.9h-.9zM498.3 44.8h.9v.9h-.9zM492.3 50.6h.9v.9h-.9zM490.4 48h.9v.9h-.9zM499.3 55.3h.9v.9h-.9zM480.9 44h.9v.9h-.9zM496.8 52.2h.9v.9h-.9zM489.5 48.4h.9v.9h-.9zM491.3 55.3h.9v.9h-.9zM491.2 42.7h.9v.9h-.9zM482.5 42.3h.9v.9h-.9zM500.9 46.3h.9v.9h-.9zM505 50.8h.9v.9h-.9zM495 50.9h.9v.9h-.9zM497.6 52.1h.9v.9h-.9zM486.2 45.5h.9v.9h-.9zM489 48.5h.9v.9h-.9zM490.9 42.5h.9v.9h-.9zM488 55.3h.9v.9h-.9zM506.1 44.2h.9v.9h-.9zM494.9 47.8h.9v.9h-.9zM487.1 51.2h.9v.9h-.9zM492.1 55.3h.9v.9h-.9zM495.4 46.6h.9v.9h-.9zM475.5 47.5h.9v.9h-.9zM497.9 44.8h.9v.9h-.9zM498.2 51h.9v.9h-.9zM481.2 47.1h.9v.9h-.9zM494.6 51.4h.9v.9h-.9zM493.5 47.9h.9v.9h-.9zM490.3 46.7h.9v.9h-.9zM492.5 43.3h.9v.9h-.9zM496.6 46.6h.9v.9h-.9zM495.9 45.7h.9v.9h-.9zM495.1 48.6h.9v.9h-.9zM498.2 50.1h.9v.9h-.9zM498.5 47.3h.9v.9h-.9zM492.1 46.8h.9v.9h-.9zM484.4 47.4h.9v.9h-.9zM499.5 51.4h.9v.9h-.9zM487 49.3h.9v.9h-.9zM497.3 42h.9v.9h-.9zM494.7 49.5h.9v.9h-.9zM497.3 49.1h.9v.9h-.9zM481.3 39h.9v.9h-.9zM505.2 46.2h.9v.9h-.9zM500.7 53.6h.9v.9h-.9zM493.1 42.9h.9v.9h-.9zM492 22h.9v.9h-.9zM491.9 20.3h.9v.9h-.9zM488.4 15.2h.9v.9h-.9zM503.9 16.1h.9v.9h-.9zM506.6 23.7h.9v.9h-.9zM478.2 17.5h.9v.9h-.9zM491.1 20.1h.9v.9h-.9zM492.8 17.6h.9v.9h-.9zM502.7 19.5h.9v.9h-.9zM500.7 17.3h.9v.9h-.9zM489.2 25.2h.9v.9h-.9zM492.1 15.7h.9v.9h-.9zM492.8 24.1h.9v.9h-.9zM492.9 17.2h.9v.9h-.9zM498.4 23.9h.9v.9h-.9zM492.6 18.8h.9v.9h-.9zM491.5 30.6h.9v.9h-.9zM492.7 26.8h.9v.9h-.9zM493 21.6h.9v.9h-.9zM479.9 20.7h.9v.9h-.9zM494.4 18.8h.9v.9h-.9zM491.2 14.7h.9v.9h-.9zM483.7 20.7h.9v.9h-.9zM489.6 19.7h.9v.9h-.9zM492.8 18h.9v.9h-.9zM489 27.3h.9v.9h-.9zM486.4 18h.9v.9h-.9zM492 15.5h.9v.9h-.9zM487.4 23.4h.9v.9h-.9zM500.5 20.5h.9v.9h-.9zM516.4 23.2h.9v.9h-.9zM502.5 16.8h.9v.9h-.9zM501.5 26.6h.9v.9h-.9zM491.4 27.1h.9v.9h-.9zM488.4 15.6h.9v.9h-.9zM501.2 17.6h.9v.9h-.9zM506.9 31.7h.9v.9h-.9zM502.2 46.8h.9v.9h-.9zM471.5 24.9h.9v.9h-.9zM478.1 7.9h.9v.9h-.9zM509.4 39h.9v.9h-.9zM485.9 31.8h.9v.9h-.9zM509.7 7.6h.9v.9h-.9zM477.8 39h.9v.9h-.9zM488.6 29.4h.9v.9h-.9zM471.8 15.4h.9v.9h-.9zM496.9 21.4h.9v.9h-.9zM513.2 50h.9v.9h-.9zM515.2 18.1h.9v.9h-.9zM487.4 9.3h.9v.9h-.9zM477.9 7.8h.9v.9h-.9zM486.6 52.8h.9v.9h-.9zM502.5 22.6h.9v.9h-.9zM472.8 51.5h.9v.9h-.9zM459.2 47.1h.9v.9h-.9zM508.2 7.5h.9v.9h-.9zM514 37h.9v.9h-.9zM479.7 25.7h.9v.9h-.9zM493.1 30.9h.9v.9h-.9zM508.9 49.7h.9v.9h-.9z" fill="#b8382a" fill-opacity=".55"/><path d="M455.8 20.8h.9v.9h-.9zM460.1 28.5h.9v.9h-.9zM456.8 18.4h.9v.9h-.9zM461 14.8h.9v.9h-.9zM460.4 21.8h.9v.9h-.9zM457.7 26.8h.9v.9h-.9zM458.4 15.6h.9v.9h-.9zM455.3 20.1h.9v.9h-.9zM458.4 27.2h.9v.9h-.9zM455.3 27.1h.9v.9h-.9zM458.6 28h.9v.9h-.9zM459 21.1h.9v.9h-.9zM458.3 22.1h.9v.9h-.9zM456.3 19.4h.9v.9h-.9zM457.7 17.6h.9v.9h-.9zM455.3 12.4h.9v.9h-.9zM458.4 22.8h.9v.9h-.9zM457.7 13.8h.9v.9h-.9zM459.1 17.9h.9v.9h-.9zM455.3 28.3h.9v.9h-.9zM455.3 31.9h.9v.9h-.9zM458.5 17.7h.9v.9h-.9zM455.3 16.3h.9v.9h-.9zM460.2 27.2h.9v.9h-.9zM458 11h.9v.9h-.9zM456.8 18.5h.9v.9h-.9zM458.4 19.3h.9v.9h-.9zM458.1 11.4h.9v.9h-.9zM456.3 27.6h.9v.9h-.9zM455.3 24.9h.9v.9h-.9zM461.8 23.4h.9v.9h-.9zM455.3 26.6h.9v.9h-.9zM455.3 21.8h.9v.9h-.9zM456.7 26.5h.9v.9h-.9zM459.7 21h.9v.9h-.9zM460.8 25.2h.9v.9h-.9zM456.6 14.8h.9v.9h-.9zM462 17.9h.9v.9h-.9zM458.3 19.4h.9v.9h-.9zM456.6 11.5h.9v.9h-.9zM457.2 19.4h.9v.9h-.9zM459.3 17.3h.9v.9h-.9zM455.3 14.3h.9v.9h-.9zM457.4 21.3h.9v.9h-.9zM458.8 18h.9v.9h-.9zM458.5 20.8h.9v.9h-.9zM460.6 19.7h.9v.9h-.9zM457.8 23h.9v.9h-.9zM459.7 15.1h.9v.9h-.9zM456.6 18.5h.9v.9h-.9zM455.3 26.9h.9v.9h-.9zM459.5 20.1h.9v.9h-.9zM463.7 26.7h.9v.9h-.9zM461.2 28.3h.9v.9h-.9zM459.2 12.5h.9v.9h-.9zM460.3 22.2h.9v.9h-.9zM455.3 20.3h.9v.9h-.9zM458.9 25.2h.9v.9h-.9zM457.8 17.2h.9v.9h-.9zM458.9 16h.9v.9h-.9zM457.4 24h.9v.9h-.9zM455.3 22h.9v.9h-.9zM455.3 15.1h.9v.9h-.9zM455.2 19.5h.9v.9h-.9zM458.8 19.7h.9v.9h-.9zM459.2 20.5h.9v.9h-.9zM457.1 22.6h.9v.9h-.9zM457.1 20.7h.9v.9h-.9zM459.4 17h.9v.9h-.9zM459.6 14.1h.9v.9h-.9zM456.2 44.5h.9v.9h-.9zM456.4 35.9h.9v.9h-.9zM455.3 41.7h.9v.9h-.9zM455.3 50.5h.9v.9h-.9zM457.5 54.6h.9v.9h-.9zM456.3 47.6h.9v.9h-.9zM455.5 34.9h.9v.9h-.9zM456.4 33.5h.9v.9h-.9zM456.2 43.9h.9v.9h-.9zM456.6 45.4h.9v.9h-.9zM456.1 40.5h.9v.9h-.9zM455.3 42.3h.9v.9h-.9zM456.5 53.1h.9v.9h-.9zM457.1 37.2h.9v.9h-.9zM455.3 50.5h.9v.9h-.9zM455.6 55.3h.9v.9h-.9zM456.2 33.2h.9v.9h-.9zM455.6 55.3h.9v.9h-.9zM455.3 46.2h.9v.9h-.9zM455.3 55.3h.9v.9h-.9zM455.7 37h.9v.9h-.9zM455.3 39.4h.9v.9h-.9zM455.3 41.3h.9v.9h-.9zM457.7 45.8h.9v.9h-.9zM455.8 36h.9v.9h-.9zM456.3 41.3h.9v.9h-.9zM455.3 55.3h.9v.9h-.9zM456.3 38.1h.9v.9h-.9zM457.2 44.6h.9v.9h-.9zM456.4 46.2h.9v.9h-.9zM456.9 49.8h.9v.9h-.9zM455.7 50.6h.9v.9h-.9zM455.7 46h.9v.9h-.9zM457.3 36.7h.9v.9h-.9zM455.3 41.9h.9v.9h-.9zM455.6 55.1h.9v.9h-.9zM455.3 55.3h.9v.9h-.9zM457.2 41.5h.9v.9h-.9zM456.1 42.2h.9v.9h-.9zM456.5 50.2h.9v.9h-.9zM456.6 51h.9v.9h-.9zM457.5 43.7h.9v.9h-.9zM456.5 43.5h.9v.9h-.9zM456 46.7h.9v.9h-.9zM456 47.7h.9v.9h-.9zM455.3 43.8h.9v.9h-.9zM455.5 35.9h.9v.9h-.9zM455.4 41.1h.9v.9h-.9zM455.9 32.8h.9v.9h-.9zM455.8 36.2h.9v.9h-.9zM498.6 48.4h.9v.9h-.9zM494.8 49.9h.9v.9h-.9zM496.7 51.5h.9v.9h-.9zM486.2 44.3h.9v.9h-.9zM493.1 48.5h.9v.9h-.9zM496 48.1h.9v.9h-.9zM491.7 54.5h.9v.9h-.9zM498.6 51.9h.9v.9h-.9zM497.1 46.2h.9v.9h-.9zM492.1 48.3h.9v.9h-.9zM487.6 45.9h.9v.9h-.9zM493.2 44.9h.9v.9h-.9zM494.9 49.9h.9v.9h-.9zM491.5 47.5h.9v.9h-.9zM495.2 49.9h.9v.9h-.9zM494.1 44.9h.9v.9h-.9zM485.3 54.6h.9v.9h-.9zM489.6 47.4h.9v.9h-.9zM484.4 46.1h.9v.9h-.9zM489.2 50.9h.9v.9h-.9zM480.8 44.4h.9v.9h-.9zM490.7 47h.9v.9h-.9zM489.1 47.2h.9v.9h-.9zM485.5 49.3h.9v.9h-.9zM497.8 49h.9v.9h-.9zM490.1 52.2h.9v.9h-.9zM494.7 45.5h.9v.9h-.9zM490 46.7h.9v.9h-.9zM492.3 52.1h.9v.9h-.9zM489.4 48.1h.9v.9h-.9zM493 45h.9v.9h-.9zM490.4 50.3h.9v.9h-.9zM497.5 43h.9v.9h-.9zM495.6 47.6h.9v.9h-.9zM498.2 50.3h.9v.9h-.9zM501.3 49.4h.9v.9h-.9zM490.7 46h.9v.9h-.9zM486.1 50.1h.9v.9h-.9zM494.8 50.9h.9v.9h-.9zM494.1 44.1h.9v.9h-.9zM490.7 47.8h.9v.9h-.9zM493.2 50.8h.9v.9h-.9zM498.8 49.3h.9v.9h-.9zM483.3 45.5h.9v.9h-.9zM483 46.2h.9v.9h-.9zM487.2 49.2h.9v.9h-.9zM491.5 51.8h.9v.9h-.9zM497.3 47.2h.9v.9h-.9zM496.7 48.5h.9v.9h-.9zM494.5 52.5h.9v.9h-.9zM487.4 48.3h.9v.9h-.9zM499.3 46.3h.9v.9h-.9zM493.5 48.9h.9v.9h-.9zM490.7 44.6h.9v.9h-.9zM489.4 45.6h.9v.9h-.9zM497.3 49.2h.9v.9h-.9zM495.6 45h.9v.9h-.9zM494.7 48.9h.9v.9h-.9zM497.2 46.4h.9v.9h-.9zM496.1 52.5h.9v.9h-.9zM500.5 45.8h.9v.9h-.9zM487.5 44.2h.9v.9h-.9zM496.8 50.3h.9v.9h-.9zM494 46h.9v.9h-.9zM498.1 53.2h.9v.9h-.9zM492.3 48.1h.9v.9h-.9zM497.8 50h.9v.9h-.9zM498.5 47.3h.9v.9h-.9zM494 47.5h.9v.9h-.9zM490 47.6h.9v.9h-.9z" fill="#c21e1e" fill-opacity=".7"/><path d="M459.2 18.6h.9v.9h-.9zM457.2 16.7h.9v.9h-.9zM457.2 10.8h.9v.9h-.9zM455.6 12.2h.9v.9h-.9zM458 18.1h.9v.9h-.9zM458.2 9.7h.9v.9h-.9zM456.4 24.8h.9v.9h-.9zM456.1 10.5h.9v.9h-.9zM456.2 17h.9v.9h-.9zM457 24.1h.9v.9h-.9zM458.4 25.2h.9v.9h-.9zM457.6 16.4h.9v.9h-.9zM456.5 12.1h.9v.9h-.9zM458.4 23.9h.9v.9h-.9zM457.1 14.7h.9v.9h-.9zM457.7 20.6h.9v.9h-.9zM457.2 13.5h.9v.9h-.9zM457.3 16.1h.9v.9h-.9zM457.8 21.1h.9v.9h-.9zM457.5 16.7h.9v.9h-.9zM458.6 21.8h.9v.9h-.9zM458.4 22.1h.9v.9h-.9zM457.7 20.2h.9v.9h-.9zM455.8 10.7h.9v.9h-.9zM456 21.2h.9v.9h-.9zM458 19.3h.9v.9h-.9zM457.1 26.4h.9v.9h-.9zM456.6 10.8h.9v.9h-.9zM455.3 17.1h.9v.9h-.9zM457.8 21.7h.9v.9h-.9zM456.8 22h.9v.9h-.9zM456.9 15.4h.9v.9h-.9zM456.6 21.8h.9v.9h-.9zM458 13.7h.9v.9h-.9zM455.9 19h.9v.9h-.9zM459.3 13.5h.9v.9h-.9zM455.6 20.3h.9v.9h-.9zM457.5 15.9h.9v.9h-.9zM457 20.6h.9v.9h-.9zM455.3 18.4h.9v.9h-.9zM457.6 22.5h.9v.9h-.9zM458.3 18.2h.9v.9h-.9zM455.4 24.3h.9v.9h-.9zM457.8 15.8h.9v.9h-.9zM458.1 23h.9v.9h-.9zM456.8 8.3h.9v.9h-.9zM456.5 15.2h.9v.9h-.9zM456.1 18.2h.9v.9h-.9zM455.8 20.2h.9v.9h-.9zM459 13.4h.9v.9h-.9zM458.1 16.2h.9v.9h-.9zM457.6 18h.9v.9h-.9zM458.4 15.4h.9v.9h-.9zM457.8 15.2h.9v.9h-.9zM457.2 18.4h.9v.9h-.9zM458.2 11.7h.9v.9h-.9zM455.5 24.5h.9v.9h-.9zM457.4 25.8h.9v.9h-.9zM455.9 19.4h.9v.9h-.9zM457.7 26.1h.9v.9h-.9zM456.9 16.6h.9v.9h-.9zM457.8 18.1h.9v.9h-.9zM456.2 21.8h.9v.9h-.9zM455.3 14.1h.9v.9h-.9zM458.5 16.3h.9v.9h-.9zM456.7 20.1h.9v.9h-.9zM458.2 20.8h.9v.9h-.9zM456 16.1h.9v.9h-.9zM458.1 18h.9v.9h-.9zM456.3 22.3h.9v.9h-.9zM458.2 27.9h.9v.9h-.9zM455.8 15.5h.9v.9h-.9zM456.3 20h.9v.9h-.9zM456.5 23.3h.9v.9h-.9zM455.3 22.7h.9v.9h-.9zM456.3 17.3h.9v.9h-.9zM457.6 19.4h.9v.9h-.9zM455.9 25h.9v.9h-.9zM457.6 16.4h.9v.9h-.9zM457.2 13.7h.9v.9h-.9zM455.7 17.2h.9v.9h-.9zM457.4 18.9h.9v.9h-.9zM456.2 12.5h.9v.9h-.9zM455.3 25.4h.9v.9h-.9zM457.4 15h.9v.9h-.9zM458.3 20.8h.9v.9h-.9zM456.6 15.9h.9v.9h-.9zM458.2 19.9h.9v.9h-.9zM458.8 20.1h.9v.9h-.9zM456.4 15.9h.9v.9h-.9zM456.2 19.6h.9v.9h-.9zM457.3 21.1h.9v.9h-.9zM457.5 14h.9v.9h-.9zM456.8 14.4h.9v.9h-.9zM457.5 12.8h.9v.9h-.9zM456.4 14.8h.9v.9h-.9zM456.3 17.4h.9v.9h-.9zM458.6 17.4h.9v.9h-.9zM455.5 17.2h.9v.9h-.9zM457.8 20.9h.9v.9h-.9zM457.3 27.1h.9v.9h-.9zM458.2 18.9h.9v.9h-.9zM458.3 12.7h.9v.9h-.9zM456.8 14.8h.9v.9h-.9zM457.2 25.5h.9v.9h-.9zM456.5 25.4h.9v.9h-.9zM455.9 24.7h.9v.9h-.9zM455.3 14.8h.9v.9h-.9zM458.1 18.1h.9v.9h-.9zM457.2 18.4h.9v.9h-.9zM457.2 17.7h.9v.9h-.9zM456 17.2h.9v.9h-.9zM457.1 14.6h.9v.9h-.9zM457.5 26.1h.9v.9h-.9zM455.2 16.2h.9v.9h-.9zM456.7 18.6h.9v.9h-.9zM457.1 15.4h.9v.9h-.9zM457 18.5h.9v.9h-.9zM456.9 25.2h.9v.9h-.9zM457.1 12.1h.9v.9h-.9zM455.3 21.1h.9v.9h-.9zM456.6 15.8h.9v.9h-.9zM455.6 17.2h.9v.9h-.9zM456.9 15.5h.9v.9h-.9zM456.6 22.3h.9v.9h-.9zM457.8 20.9h.9v.9h-.9zM456.8 12.6h.9v.9h-.9zM457.8 25h.9v.9h-.9zM458.4 23.5h.9v.9h-.9zM457.3 20.1h.9v.9h-.9zM457 23.9h.9v.9h-.9zM456.7 27.8h.9v.9h-.9zM457.8 17.1h.9v.9h-.9zM457 11.6h.9v.9h-.9zM456.2 17.2h.9v.9h-.9zM459.6 15h.9v.9h-.9zM458 18.8h.9v.9h-.9zM456.7 21.2h.9v.9h-.9zM455.3 22.6h.9v.9h-.9zM459.1 19.8h.9v.9h-.9zM456.9 19.2h.9v.9h-.9zM457.7 16.4h.9v.9h-.9zM457.1 20.7h.9v.9h-.9zM456.6 20.2h.9v.9h-.9zM457.4 21.6h.9v.9h-.9zM455.9 16.2h.9v.9h-.9zM456.5 23.7h.9v.9h-.9zM457.3 11.4h.9v.9h-.9zM455.6 26.9h.9v.9h-.9zM457.4 12.9h.9v.9h-.9z" fill="#c81212" fill-opacity=".8"/></g><path d="M454.8 2.6H518.6V56.6" fill="none" stroke="#5a5a5a" stroke-width="1"/><path d="M454.8 2.6V56.6H518.6" fill="none" stroke="#1a1a1a" stroke-width="1.3"/><path d="M453.5 52.7h1.3M459.4 56.6v1.3M453.5 48.9h1.3M463.9 56.6v1.3M453.5 45h1.3M468.5 56.6v1.3M453.5 41.2h1.3M473 56.6v1.3M453.5 37.3h1.3M477.6 56.6v1.3M453.5 33.5h1.3M482.1 56.6v1.3M453.5 29.6h1.3M486.7 56.6v1.3M453.5 25.7h1.3M491.3 56.6v1.3M453.5 21.9h1.3M495.8 56.6v1.3M453.5 18h1.3M500.4 56.6v1.3M453.5 14.2h1.3M504.9 56.6v1.3M453.5 10.3h1.3M509.5 56.6v1.3M453.5 6.5h1.3M514 56.6v1.3" stroke="#222" stroke-width=".6"/><line x1="477.3" y1="2.6" x2="477.3" y2="56.6" stroke="#303030" stroke-width="1.05"/><line x1="454.8" y1="30.2" x2="518.6" y2="30.2" stroke="#303030" stroke-width="1.05"/><text x="505.8" y="9.2" font-size="6.1" fill="#151515" stroke="#151515" stroke-width=".15" textLength="10.2" lengthAdjust="spacingAndGlyphs">2.33</text><g filter="url(#bl)"><path d="M240.9 89.6h.9v.9h-.9zM230.4 89.4h.9v.9h-.9zM237.8 88.9h.9v.9h-.9zM231.9 88.6h.9v.9h-.9zM221 99.3h.9v.9h-.9zM224.6 79.3h.9v.9h-.9zM226.8 89.4h.9v.9h-.9zM237.5 78.1h.9v.9h-.9zM219.7 90.5h.9v.9h-.9zM233.8 80.9h.9v.9h-.9zM220.8 90.5h.9v.9h-.9zM229.3 77h.9v.9h-.9zM223 100.4h.9v.9h-.9zM221.5 97.1h.9v.9h-.9zM217.4 100.4h.9v.9h-.9zM244.2 84.4h.9v.9h-.9zM224.7 93.9h.9v.9h-.9zM219.9 93.4h.9v.9h-.9zM240.9 91.2h.9v.9h-.9zM233.3 88h.9v.9h-.9zM239.1 83h.9v.9h-.9zM244.1 89h.9v.9h-.9zM227.7 76.9h.9v.9h-.9zM226.8 91h.9v.9h-.9zM241.1 77h.9v.9h-.9zM229.4 84h.9v.9h-.9zM220.3 89.2h.9v.9h-.9zM224 95.8h.9v.9h-.9zM207.5 94.8h.9v.9h-.9zM214.3 74.5h.9v.9h-.9zM235 86.6h.9v.9h-.9zM231.6 81.9h.9v.9h-.9zM221.5 83.7h.9v.9h-.9zM230 82.9h.9v.9h-.9zM226.9 82.7h.9v.9h-.9zM232.5 80.6h.9v.9h-.9zM212.7 73.3h.9v.9h-.9zM230.3 89.9h.9v.9h-.9zM238.7 83.6h.9v.9h-.9zM220.8 78h.9v.9h-.9zM237 84.5h.9v.9h-.9zM238.9 88.6h.9v.9h-.9zM228.2 75.2h.9v.9h-.9zM224.7 95.1h.9v.9h-.9zM225.3 94.3h.9v.9h-.9zM216.5 96.8h.9v.9h-.9zM254.3 97.6h.9v.9h-.9zM233.2 79.9h.9v.9h-.9zM226 84.3h.9v.9h-.9zM232.1 74h.9v.9h-.9zM223.1 95.2h.9v.9h-.9zM231.8 94.8h.9v.9h-.9zM237.8 80.6h.9v.9h-.9zM219 92.7h.9v.9h-.9zM230.8 89.8h.9v.9h-.9zM223.6 96.9h.9v.9h-.9zM234.7 97.8h.9v.9h-.9zM227.5 94.4h.9v.9h-.9zM230 82.1h.9v.9h-.9zM229.8 76.7h.9v.9h-.9zM229 90.5h.9v.9h-.9zM236.4 81.3h.9v.9h-.9zM219.2 83.7h.9v.9h-.9zM212.8 84.3h.9v.9h-.9zM252.8 90.3h.9v.9h-.9zM224 84.1h.9v.9h-.9zM245.6 80.4h.9v.9h-.9zM229.5 88.6h.9v.9h-.9zM224.2 83.8h.9v.9h-.9zM216.2 82.9h.9v.9h-.9zM241.6 99.9h.9v.9h-.9zM228.1 94.5h.9v.9h-.9zM234.4 90h.9v.9h-.9zM229.3 98.3h.9v.9h-.9zM235.4 87.5h.9v.9h-.9zM228.5 96.2h.9v.9h-.9zM225.4 83.8h.9v.9h-.9zM228.2 85.5h.9v.9h-.9zM241.3 91.9h.9v.9h-.9zM229.8 85.2h.9v.9h-.9zM242.6 92.5h.9v.9h-.9zM248.3 96h.9v.9h-.9zM228.7 85.1h.9v.9h-.9zM228.1 90.6h.9v.9h-.9zM237.2 92.9h.9v.9h-.9zM243.9 77.8h.9v.9h-.9zM230.7 78.5h.9v.9h-.9zM221.7 84.7h.9v.9h-.9zM225 81.9h.9v.9h-.9zM217.5 97.8h.9v.9h-.9zM211.1 93.5h.9v.9h-.9zM208.8 97.9h.9v.9h-.9zM198.1 83.3h.9v.9h-.9zM200.1 90.9h.9v.9h-.9zM201.2 75.7h.9v.9h-.9zM199.6 79.4h.9v.9h-.9zM207.3 86.4h.9v.9h-.9zM205.8 75.3h.9v.9h-.9zM207 81.3h.9v.9h-.9zM198.7 76.4h.9v.9h-.9zM199.9 85h.9v.9h-.9zM200.2 86.6h.9v.9h-.9zM200.1 93.4h.9v.9h-.9zM213.6 83.1h.9v.9h-.9zM198.4 99.1h.9v.9h-.9zM198.6 91.2h.9v.9h-.9zM211.4 87.1h.9v.9h-.9zM213.9 78.7h.9v.9h-.9zM210.7 97.7h.9v.9h-.9zM214 96.2h.9v.9h-.9zM205.3 87.8h.9v.9h-.9zM213.1 84.5h.9v.9h-.9zM201.8 75.8h.9v.9h-.9zM200.9 78.5h.9v.9h-.9zM214.7 82.7h.9v.9h-.9zM203.7 99.4h.9v.9h-.9zM210.1 85.8h.9v.9h-.9zM199 84.1h.9v.9h-.9zM202.5 98.7h.9v.9h-.9zM205 99.3h.9v.9h-.9zM202.1 76.2h.9v.9h-.9zM214.1 76.9h.9v.9h-.9zM212 89.9h.9v.9h-.9zM202.4 95.9h.9v.9h-.9zM205.2 99.6h.9v.9h-.9zM207.6 98.6h.9v.9h-.9zM214.7 84.4h.9v.9h-.9zM210.1 93.2h.9v.9h-.9zM209.4 75.6h.9v.9h-.9zM210.1 94h.9v.9h-.9zM200.7 77.4h.9v.9h-.9zM198.3 88.6h.9v.9h-.9zM199 96.2h.9v.9h-.9zM204.9 99.9h.9v.9h-.9zM210.9 85.7h.9v.9h-.9zM200.5 112.7h.9v.9h-.9zM208.5 123.5h.9v.9h-.9zM213.9 110.1h.9v.9h-.9zM197.4 118.6h.9v.9h-.9zM210.1 118.2h.9v.9h-.9zM212.3 122.3h.9v.9h-.9zM208.9 122.5h.9v.9h-.9zM199.4 125.7h.9v.9h-.9zM209.7 104.4h.9v.9h-.9zM200.2 118h.9v.9h-.9zM202.8 125.4h.9v.9h-.9zM202.3 114.1h.9v.9h-.9zM206.6 125.5h.9v.9h-.9zM202.8 124.3h.9v.9h-.9zM210.7 116.2h.9v.9h-.9zM215 124.1h.9v.9h-.9zM211.2 115.6h.9v.9h-.9zM197.8 107.5h.9v.9h-.9zM209.4 104.9h.9v.9h-.9zM209.2 110.7h.9v.9h-.9zM204.4 122.6h.9v.9h-.9zM213 120.7h.9v.9h-.9zM205.5 115.4h.9v.9h-.9zM215.7 125.1h.9v.9h-.9zM208.5 104h.9v.9h-.9zM214.1 103.1h.9v.9h-.9zM199.2 118.5h.9v.9h-.9zM200.7 120.8h.9v.9h-.9zM210 106.1h.9v.9h-.9zM214.3 126.5h.9v.9h-.9zM209.5 126.6h.9v.9h-.9zM212.2 113.8h.9v.9h-.9zM212.7 125.5h.9v.9h-.9zM210.2 104.1h.9v.9h-.9zM204.1 119.6h.9v.9h-.9zM204 106.2h.9v.9h-.9zM205.7 105.5h.9v.9h-.9zM206 104.5h.9v.9h-.9zM210.8 107.3h.9v.9h-.9zM214.8 104.7h.9v.9h-.9zM209 118.1h.9v.9h-.9zM200.8 117.7h.9v.9h-.9zM207.4 117.4h.9v.9h-.9zM200.5 113.9h.9v.9h-.9zM212.9 117.5h.9v.9h-.9zM201.6 110.4h.9v.9h-.9zM213.7 103.3h.9v.9h-.9zM206.1 114.8h.9v.9h-.9zM205.2 102.1h.9v.9h-.9zM199 123.1h.9v.9h-.9zM205.6 109.3h.9v.9h-.9zM205.6 103.3h.9v.9h-.9zM198.5 122.7h.9v.9h-.9zM211.4 106.9h.9v.9h-.9zM203 103.9h.9v.9h-.9zM203 115h.9v.9h-.9zM211.3 114.6h.9v.9h-.9zM213.1 126.5h.9v.9h-.9zM207.8 103.1h.9v.9h-.9zM199.6 118.8h.9v.9h-.9zM199.5 124.5h.9v.9h-.9zM198 103.4h.9v.9h-.9zM215.9 112.2h.9v.9h-.9zM207.5 116.9h.9v.9h-.9zM199.3 110.4h.9v.9h-.9zM204 120.4h.9v.9h-.9zM211.9 119.4h.9v.9h-.9zM200.4 113.5h.9v.9h-.9zM214.4 106.4h.9v.9h-.9zM203.6 117.4h.9v.9h-.9zM255.8 102.6h.9v.9h-.9zM244.6 113.5h.9v.9h-.9zM238.6 123h.9v.9h-.9zM222.5 117h.9v.9h-.9zM230.7 120.9h.9v.9h-.9zM245.4 112.4h.9v.9h-.9zM224.6 121.1h.9v.9h-.9zM244.9 116.1h.9v.9h-.9zM246.6 125.7h.9v.9h-.9zM228 119.2h.9v.9h-.9zM248.9 108.6h.9v.9h-.9zM252.4 109.8h.9v.9h-.9zM254.4 116.6h.9v.9h-.9zM255 124.1h.9v.9h-.9zM247.9 111.3h.9v.9h-.9zM236 116.7h.9v.9h-.9zM248.8 112.4h.9v.9h-.9zM252.3 107.4h.9v.9h-.9zM238.3 105.6h.9v.9h-.9zM225.3 109.3h.9v.9h-.9zM220.8 116.2h.9v.9h-.9zM241.9 111.9h.9v.9h-.9zM248.5 115.6h.9v.9h-.9zM244.3 104.1h.9v.9h-.9zM231.2 102.5h.9v.9h-.9zM224.9 123.2h.9v.9h-.9zM224 116.9h.9v.9h-.9zM233 118.8h.9v.9h-.9zM251.2 122.7h.9v.9h-.9zM254.7 126.1h.9v.9h-.9zM233.7 126.5h.9v.9h-.9zM247.2 108.9h.9v.9h-.9zM231.1 115.1h.9v.9h-.9zM250.3 104.5h.9v.9h-.9zM252 118.8h.9v.9h-.9zM240.9 112.2h.9v.9h-.9zM233.1 112.1h.9v.9h-.9zM245.5 113.1h.9v.9h-.9zM245.4 123.9h.9v.9h-.9zM222.2 102.5h.9v.9h-.9zM253.8 106.8h.9v.9h-.9zM249.1 112.1h.9v.9h-.9zM227.3 102.3h.9v.9h-.9zM234.9 117h.9v.9h-.9zM221 102.3h.9v.9h-.9zM229.6 124h.9v.9h-.9zM246.8 108.4h.9v.9h-.9zM233.9 112.4h.9v.9h-.9zM245.2 109.1h.9v.9h-.9zM232.1 114.6h.9v.9h-.9zM227.8 112.7h.9v.9h-.9zM246.7 114.6h.9v.9h-.9zM221.1 110.7h.9v.9h-.9zM240.1 107.8h.9v.9h-.9zM233.3 116h.9v.9h-.9zM232.5 106.6h.9v.9h-.9zM251.4 103.6h.9v.9h-.9zM252.5 104.4h.9v.9h-.9zM239.5 115.6h.9v.9h-.9zM234.2 117.6h.9v.9h-.9zM251.7 110h.9v.9h-.9zM221.2 107h.9v.9h-.9zM251.5 117h.9v.9h-.9zM246.9 111.7h.9v.9h-.9zM231 119.3h.9v.9h-.9zM240 124.8h.9v.9h-.9zM224.9 110.6h.9v.9h-.9zM244.6 124.7h.9v.9h-.9zM236.3 121.7h.9v.9h-.9zM223.1 118h.9v.9h-.9zM231.2 119.3h.9v.9h-.9zM230 106.7h.9v.9h-.9zM229 120.1h.9v.9h-.9zM245.4 124.8h.9v.9h-.9zM234.3 103.6h.9v.9h-.9zM248.9 108.4h.9v.9h-.9zM245.6 114.2h.9v.9h-.9zM235.4 102.8h.9v.9h-.9zM227.4 120.7h.9v.9h-.9zM236 124h.9v.9h-.9zM248.9 115.3h.9v.9h-.9zM255.4 102.1h.9v.9h-.9zM233.8 115.3h.9v.9h-.9zM221 123.8h.9v.9h-.9zM224.5 116.5h.9v.9h-.9zM229 111.5h.9v.9h-.9zM236.2 109.2h.9v.9h-.9zM225.3 118.7h.9v.9h-.9zM242.2 104h.9v.9h-.9zM255 104.7h.9v.9h-.9zM225.9 120.7h.9v.9h-.9zM230.3 122.7h.9v.9h-.9zM247 119h.9v.9h-.9zM236.8 123.9h.9v.9h-.9zM227 121.4h.9v.9h-.9zM232.8 126.4h.9v.9h-.9zM243.1 122.6h.9v.9h-.9zM221.1 121.4h.9v.9h-.9zM244.3 122.1h.9v.9h-.9zM231.1 124.1h.9v.9h-.9zM220.3 124.2h.9v.9h-.9zM240.3 119.1h.9v.9h-.9zM231.9 126.1h.9v.9h-.9zM227.1 123h.9v.9h-.9zM229.7 123.3h.9v.9h-.9zM231.1 121.3h.9v.9h-.9zM247.7 124.6h.9v.9h-.9zM250 121.2h.9v.9h-.9zM233.5 121.5h.9v.9h-.9zM245.9 121.5h.9v.9h-.9zM240.1 119.7h.9v.9h-.9zM235.8 120.6h.9v.9h-.9zM247.3 121.5h.9v.9h-.9zM248.5 123.4h.9v.9h-.9zM229.6 123.2h.9v.9h-.9zM247.9 124.6h.9v.9h-.9zM244.6 123.4h.9v.9h-.9zM238.2 119.3h.9v.9h-.9zM244.8 124.1h.9v.9h-.9zM239.1 120.9h.9v.9h-.9z" fill="#b8382a" fill-opacity=".55"/><path d="M221 95.1h.9v.9h-.9zM225.7 82h.9v.9h-.9zM222.2 85.7h.9v.9h-.9zM242.8 101.7h.9v.9h-.9zM224 85.9h.9v.9h-.9zM231.4 91.2h.9v.9h-.9zM228 81.5h.9v.9h-.9zM228.4 85.9h.9v.9h-.9zM221.1 89.9h.9v.9h-.9zM222.8 80.7h.9v.9h-.9zM238.5 93.8h.9v.9h-.9zM238.2 89.8h.9v.9h-.9zM228.4 88.8h.9v.9h-.9zM223.4 92.8h.9v.9h-.9zM232 87.7h.9v.9h-.9zM220.7 88.7h.9v.9h-.9zM239.1 96.3h.9v.9h-.9zM235.2 87.5h.9v.9h-.9zM231.3 91.9h.9v.9h-.9zM231.6 94.3h.9v.9h-.9zM227.1 77.9h.9v.9h-.9zM217.8 84.8h.9v.9h-.9zM223.3 92.4h.9v.9h-.9zM236.2 89.2h.9v.9h-.9zM233.4 89.6h.9v.9h-.9zM231.5 86.9h.9v.9h-.9zM228.4 95h.9v.9h-.9zM229.1 89h.9v.9h-.9zM236.9 94h.9v.9h-.9zM228.5 90.4h.9v.9h-.9zM225.2 89.8h.9v.9h-.9zM232.2 89.2h.9v.9h-.9zM231.4 91h.9v.9h-.9zM217.2 85.2h.9v.9h-.9zM231 86.8h.9v.9h-.9zM225.5 88h.9v.9h-.9zM239 88.1h.9v.9h-.9zM227.1 86.9h.9v.9h-.9zM224.3 91.6h.9v.9h-.9zM225.4 93.7h.9v.9h-.9zM235.4 92h.9v.9h-.9zM236 88.8h.9v.9h-.9zM221.3 88.9h.9v.9h-.9zM233.9 81.7h.9v.9h-.9zM224.1 94.6h.9v.9h-.9zM232.9 95.8h.9v.9h-.9zM234.1 89.5h.9v.9h-.9zM232.8 93.4h.9v.9h-.9zM230.4 88.2h.9v.9h-.9zM232.2 87.7h.9v.9h-.9zM243.3 85.5h.9v.9h-.9zM222.6 82.9h.9v.9h-.9zM236.1 87.2h.9v.9h-.9zM231.4 88.2h.9v.9h-.9zM232 82.1h.9v.9h-.9zM231 86.4h.9v.9h-.9zM236.3 92.2h.9v.9h-.9zM223.9 84.5h.9v.9h-.9zM233.6 95h.9v.9h-.9zM234.6 88.5h.9v.9h-.9zM236.4 77.7h.9v.9h-.9zM227.7 84.4h.9v.9h-.9zM225.1 92h.9v.9h-.9zM232 90.6h.9v.9h-.9zM229.9 92.2h.9v.9h-.9zM234.7 86.4h.9v.9h-.9zM235.5 84.7h.9v.9h-.9zM239.9 82.8h.9v.9h-.9zM229.1 83.9h.9v.9h-.9zM230.8 95.6h.9v.9h-.9zM226.6 97.9h.9v.9h-.9zM238 91.1h.9v.9h-.9zM227.5 93.6h.9v.9h-.9zM215.4 85.5h.9v.9h-.9zM235.7 89h.9v.9h-.9zM243.7 85.9h.9v.9h-.9zM223.5 88.1h.9v.9h-.9zM233.6 97.5h.9v.9h-.9zM221.2 90h.9v.9h-.9zM237.3 85.9h.9v.9h-.9zM228.2 83.3h.9v.9h-.9zM234.6 93.3h.9v.9h-.9zM233.7 90.4h.9v.9h-.9zM235.8 88.6h.9v.9h-.9zM234.4 93.2h.9v.9h-.9zM237.5 91.7h.9v.9h-.9zM231 92.7h.9v.9h-.9zM222.3 80.6h.9v.9h-.9zM239.2 89.9h.9v.9h-.9zM225 86.4h.9v.9h-.9zM229.8 89.6h.9v.9h-.9zM226.5 94.1h.9v.9h-.9zM221.5 103h.9v.9h-.9zM224.8 97.4h.9v.9h-.9zM234.1 80.9h.9v.9h-.9zM224 89.5h.9v.9h-.9zM232 87.1h.9v.9h-.9zM230.6 90h.9v.9h-.9zM224.5 89.5h.9v.9h-.9zM242.7 86h.9v.9h-.9zM225.2 92.5h.9v.9h-.9zM237.8 94.3h.9v.9h-.9zM227.2 88.8h.9v.9h-.9zM231.7 88.2h.9v.9h-.9zM232.7 94.5h.9v.9h-.9zM233.5 89.1h.9v.9h-.9zM229.5 98h.9v.9h-.9zM224 99.1h.9v.9h-.9zM234.5 89.6h.9v.9h-.9zM226.6 98.2h.9v.9h-.9zM237.1 93.7h.9v.9h-.9zM241.8 80.4h.9v.9h-.9zM231.1 87.7h.9v.9h-.9zM226.7 89.6h.9v.9h-.9zM233.5 91.8h.9v.9h-.9zM229.8 82.7h.9v.9h-.9zM233.6 92.2h.9v.9h-.9zM242 93.8h.9v.9h-.9zM230.7 83.5h.9v.9h-.9zM245.3 85.9h.9v.9h-.9zM231.6 92.9h.9v.9h-.9zM233.3 95.8h.9v.9h-.9zM225 85.8h.9v.9h-.9zM231.5 83.1h.9v.9h-.9zM227.3 96h.9v.9h-.9zM232.2 88.7h.9v.9h-.9zM227.5 89.4h.9v.9h-.9zM230.4 83.9h.9v.9h-.9zM234.8 82.9h.9v.9h-.9zM237.5 87.5h.9v.9h-.9zM218.2 81.5h.9v.9h-.9zM232.1 84.9h.9v.9h-.9zM240.4 96h.9v.9h-.9zM242 93.6h.9v.9h-.9zM237.9 86.2h.9v.9h-.9zM237.6 87h.9v.9h-.9zM230.3 82.5h.9v.9h-.9zM230.9 91.2h.9v.9h-.9zM230.2 83.7h.9v.9h-.9zM235.5 93.7h.9v.9h-.9zM230.1 93.1h.9v.9h-.9zM235.9 84.3h.9v.9h-.9zM230.4 80h.9v.9h-.9zM224.9 91.3h.9v.9h-.9zM225.8 91.1h.9v.9h-.9zM232.5 79h.9v.9h-.9zM227.9 96.7h.9v.9h-.9zM230.6 89.8h.9v.9h-.9zM226.7 81.3h.9v.9h-.9zM221.9 103.5h.9v.9h-.9zM229.6 84.9h.9v.9h-.9zM231.2 79.6h.9v.9h-.9zM238.2 97.7h.9v.9h-.9zM226.5 90.8h.9v.9h-.9zM225.6 93.5h.9v.9h-.9zM226 88.5h.9v.9h-.9zM237.7 91.8h.9v.9h-.9zM228.8 81.7h.9v.9h-.9zM221.9 95.2h.9v.9h-.9zM233.4 89.5h.9v.9h-.9zM237.4 89.9h.9v.9h-.9zM226.6 88.7h.9v.9h-.9zM230 89.1h.9v.9h-.9zM244.2 92.1h.9v.9h-.9zM232.1 88h.9v.9h-.9zM226.8 84.3h.9v.9h-.9zM220.3 86.9h.9v.9h-.9zM222.2 80h.9v.9h-.9zM225.4 79.1h.9v.9h-.9zM238.1 95.4h.9v.9h-.9zM225.3 99.4h.9v.9h-.9zM234.2 76.6h.9v.9h-.9zM230.7 84.2h.9v.9h-.9zM221 87.9h.9v.9h-.9zM236.9 91.4h.9v.9h-.9zM222.5 85.9h.9v.9h-.9zM226.4 94.9h.9v.9h-.9zM230 84.3h.9v.9h-.9zM225.5 79.4h.9v.9h-.9zM225.9 93.7h.9v.9h-.9zM220 90.2h.9v.9h-.9zM229.9 93.3h.9v.9h-.9zM224.3 93.7h.9v.9h-.9zM239.1 100.6h.9v.9h-.9zM221.6 89h.9v.9h-.9zM229.4 89.8h.9v.9h-.9zM225.1 93.5h.9v.9h-.9zM243.5 96.7h.9v.9h-.9zM225.3 86.3h.9v.9h-.9zM234.6 89.9h.9v.9h-.9zM226.3 95.4h.9v.9h-.9zM233.4 94.3h.9v.9h-.9zM229.6 95.6h.9v.9h-.9zM228 83.6h.9v.9h-.9zM230.5 82.2h.9v.9h-.9zM237.5 92.9h.9v.9h-.9zM221.3 90.1h.9v.9h-.9zM235.2 87.4h.9v.9h-.9zM232.8 86.3h.9v.9h-.9zM230.2 88.8h.9v.9h-.9zM233.2 84.4h.9v.9h-.9zM224.3 90.8h.9v.9h-.9zM227.7 91.8h.9v.9h-.9zM227.8 82.6h.9v.9h-.9zM234.6 90.5h.9v.9h-.9zM234.6 87.5h.9v.9h-.9zM228.6 95.5h.9v.9h-.9zM221.2 97.9h.9v.9h-.9zM233.4 88.9h.9v.9h-.9zM231 92.2h.9v.9h-.9zM226.3 90.6h.9v.9h-.9zM225.3 79.9h.9v.9h-.9zM231.6 89.7h.9v.9h-.9zM234.1 92h.9v.9h-.9zM234.4 93.2h.9v.9h-.9zM224.7 95.3h.9v.9h-.9zM245.3 86.4h.9v.9h-.9zM223.6 92.6h.9v.9h-.9zM235.6 94.3h.9v.9h-.9zM239 82.3h.9v.9h-.9zM232.6 91.5h.9v.9h-.9zM237.4 84.7h.9v.9h-.9zM230.7 87.3h.9v.9h-.9zM229.6 88.5h.9v.9h-.9zM229.7 80.3h.9v.9h-.9zM230.3 89.5h.9v.9h-.9zM228.4 73.3h.9v.9h-.9zM226.7 85.9h.9v.9h-.9zM225.7 97.2h.9v.9h-.9zM235.6 88.3h.9v.9h-.9zM233.8 105.7h.9v.9h-.9zM225.2 91.6h.9v.9h-.9zM227.2 96.7h.9v.9h-.9zM236.7 88.6h.9v.9h-.9zM233.9 85.2h.9v.9h-.9zM221.8 93.4h.9v.9h-.9zM239.6 87.7h.9v.9h-.9zM227.6 80.2h.9v.9h-.9zM242.4 83.2h.9v.9h-.9zM225.2 88.2h.9v.9h-.9zM197.7 96.7h.9v.9h-.9zM197.1 73.3h.9v.9h-.9zM197.5 95.9h.9v.9h-.9zM197.6 91.6h.9v.9h-.9zM197.1 100.6h.9v.9h-.9zM198.3 97.5h.9v.9h-.9zM197.8 99.6h.9v.9h-.9zM198.1 83.6h.9v.9h-.9zM197.5 88.5h.9v.9h-.9zM197.3 77.2h.9v.9h-.9zM198.1 94.4h.9v.9h-.9zM197.8 95.6h.9v.9h-.9zM199.3 76.6h.9v.9h-.9zM198.2 79.3h.9v.9h-.9zM197.5 89.6h.9v.9h-.9zM196.8 93.5h.9v.9h-.9zM198.7 92.9h.9v.9h-.9zM198.5 104.4h.9v.9h-.9zM197.7 97.9h.9v.9h-.9zM199.2 92.4h.9v.9h-.9zM196.8 86.6h.9v.9h-.9zM197.8 73.4h.9v.9h-.9zM198 94.8h.9v.9h-.9zM197.8 86.4h.9v.9h-.9zM199.2 82.4h.9v.9h-.9zM197.2 88.3h.9v.9h-.9zM198.9 93.3h.9v.9h-.9zM198.1 83.5h.9v.9h-.9zM199 96h.9v.9h-.9zM196.8 91h.9v.9h-.9zM196.8 101.5h.9v.9h-.9zM198.5 82.3h.9v.9h-.9zM197 85.3h.9v.9h-.9zM196.8 93.1h.9v.9h-.9zM197.6 73.3h.9v.9h-.9zM198 98.7h.9v.9h-.9zM197 84.8h.9v.9h-.9zM199.5 89.7h.9v.9h-.9zM197.6 89.7h.9v.9h-.9zM198.6 78.9h.9v.9h-.9z" fill="#c21e1e" fill-opacity=".7"/><path d="M230.3 89.6h.9v.9h-.9zM231.3 84.9h.9v.9h-.9zM229.8 88.2h.9v.9h-.9zM236.6 92.1h.9v.9h-.9zM228.1 91.8h.9v.9h-.9zM232.6 88.9h.9v.9h-.9zM229.7 88.4h.9v.9h-.9zM225.6 87.4h.9v.9h-.9zM233.5 93.4h.9v.9h-.9zM236.4 88.1h.9v.9h-.9zM232.5 82.2h.9v.9h-.9zM229.7 85.5h.9v.9h-.9zM233.1 84.3h.9v.9h-.9zM227.2 86h.9v.9h-.9zM231.8 91.7h.9v.9h-.9zM227.6 94.5h.9v.9h-.9zM231 86.8h.9v.9h-.9zM231.6 89.2h.9v.9h-.9zM233.1 90.2h.9v.9h-.9zM237.4 92.6h.9v.9h-.9zM228.5 91.5h.9v.9h-.9zM232.9 86.3h.9v.9h-.9zM228.1 86.8h.9v.9h-.9zM222.7 91.1h.9v.9h-.9zM229.8 92.8h.9v.9h-.9zM228.8 89.4h.9v.9h-.9zM232.8 92h.9v.9h-.9zM231.5 86.2h.9v.9h-.9zM237.5 91.7h.9v.9h-.9zM234.8 93.9h.9v.9h-.9zM234.9 90.4h.9v.9h-.9zM232 91.1h.9v.9h-.9zM225.8 91.6h.9v.9h-.9zM227.4 90.4h.9v.9h-.9zM227.3 91.3h.9v.9h-.9zM229 96.5h.9v.9h-.9zM231.1 90.7h.9v.9h-.9zM227.7 88.4h.9v.9h-.9zM230.3 88.4h.9v.9h-.9zM229.1 86.6h.9v.9h-.9zM232.9 88.1h.9v.9h-.9zM227.9 90.3h.9v.9h-.9zM228 88.7h.9v.9h-.9zM228.9 86.5h.9v.9h-.9zM229.8 86.8h.9v.9h-.9zM226.6 90.2h.9v.9h-.9zM229.6 84.9h.9v.9h-.9zM229.3 89.7h.9v.9h-.9zM231.9 90.3h.9v.9h-.9zM231.3 90.9h.9v.9h-.9zM229 86.9h.9v.9h-.9zM232.5 88h.9v.9h-.9zM230.6 91.1h.9v.9h-.9zM233.5 92.8h.9v.9h-.9zM228.4 88.1h.9v.9h-.9zM232.3 85h.9v.9h-.9zM226.6 91h.9v.9h-.9zM228.6 86.5h.9v.9h-.9zM233.1 90.8h.9v.9h-.9zM233.4 88.2h.9v.9h-.9zM229.6 88.2h.9v.9h-.9zM231.5 83.3h.9v.9h-.9zM228.3 91.3h.9v.9h-.9zM228.1 89h.9v.9h-.9zM230.9 90.7h.9v.9h-.9zM229 85.9h.9v.9h-.9zM238.4 87.1h.9v.9h-.9zM235.9 84.1h.9v.9h-.9zM230.9 88.6h.9v.9h-.9zM236.5 95.2h.9v.9h-.9zM233.6 86.2h.9v.9h-.9zM228 87h.9v.9h-.9zM228.9 90h.9v.9h-.9zM228.1 88.5h.9v.9h-.9zM235.2 93.4h.9v.9h-.9zM224.7 86.4h.9v.9h-.9zM229.4 93h.9v.9h-.9zM229.5 94.8h.9v.9h-.9zM231.7 93.4h.9v.9h-.9zM227.8 88.3h.9v.9h-.9zM233.7 90.9h.9v.9h-.9zM224.7 88.4h.9v.9h-.9zM231.1 91h.9v.9h-.9zM228.5 94.3h.9v.9h-.9zM231 93.4h.9v.9h-.9zM231.8 89.4h.9v.9h-.9zM229.5 85.8h.9v.9h-.9zM233.3 91.4h.9v.9h-.9zM233.5 88.1h.9v.9h-.9zM227.4 88.1h.9v.9h-.9zM229.5 89.2h.9v.9h-.9zM233.6 86.5h.9v.9h-.9zM229 91.2h.9v.9h-.9zM233.4 95.6h.9v.9h-.9zM232.2 86.7h.9v.9h-.9zM227.3 86.9h.9v.9h-.9zM230.8 89.9h.9v.9h-.9zM230.3 87.4h.9v.9h-.9zM230 89h.9v.9h-.9zM232.4 89.4h.9v.9h-.9zM228 85.8h.9v.9h-.9zM235.2 89h.9v.9h-.9zM230 89.1h.9v.9h-.9zM234.1 88.3h.9v.9h-.9zM231.1 88.5h.9v.9h-.9zM232.4 86.3h.9v.9h-.9zM231.2 92.2h.9v.9h-.9zM234.3 91h.9v.9h-.9zM231.5 93.8h.9v.9h-.9zM232.8 93.3h.9v.9h-.9zM226.8 86h.9v.9h-.9zM233 88.4h.9v.9h-.9zM229.2 86.4h.9v.9h-.9zM235.2 85.7h.9v.9h-.9zM230.9 85.2h.9v.9h-.9zM230 95.7h.9v.9h-.9zM238.2 87.8h.9v.9h-.9zM227.4 93.9h.9v.9h-.9zM227.9 84h.9v.9h-.9zM231.6 86.1h.9v.9h-.9zM226 92.5h.9v.9h-.9zM228.3 86.1h.9v.9h-.9zM231.1 88.7h.9v.9h-.9zM234.1 89.5h.9v.9h-.9zM235.5 92.5h.9v.9h-.9zM236.1 92.5h.9v.9h-.9zM230.8 90.8h.9v.9h-.9zM230.6 84.7h.9v.9h-.9zM226.9 91.4h.9v.9h-.9zM223.1 86.8h.9v.9h-.9zM226.5 89h.9v.9h-.9zM227.3 89.9h.9v.9h-.9zM229.9 87.8h.9v.9h-.9zM227.9 82.8h.9v.9h-.9zM230.8 85.5h.9v.9h-.9zM229.6 90.3h.9v.9h-.9zM233.8 91.2h.9v.9h-.9zM235.2 85.1h.9v.9h-.9zM232.7 93.8h.9v.9h-.9zM231.8 86h.9v.9h-.9zM231.8 87.7h.9v.9h-.9zM228.5 92.3h.9v.9h-.9zM230 86h.9v.9h-.9zM228.4 94.9h.9v.9h-.9zM227.9 91.2h.9v.9h-.9zM231.1 92.6h.9v.9h-.9zM229.7 86.5h.9v.9h-.9zM228.5 86.2h.9v.9h-.9zM238.7 89.8h.9v.9h-.9zM229.5 92.9h.9v.9h-.9zM232.6 88.7h.9v.9h-.9zM232.5 90h.9v.9h-.9zM234.1 94h.9v.9h-.9zM229.6 89.1h.9v.9h-.9zM230 92.8h.9v.9h-.9zM231.8 91.5h.9v.9h-.9zM233.4 87.4h.9v.9h-.9zM231 93.2h.9v.9h-.9zM233.4 91.6h.9v.9h-.9zM229.7 88.2h.9v.9h-.9zM227.9 88.4h.9v.9h-.9zM230.4 85.1h.9v.9h-.9zM234.2 87h.9v.9h-.9zM231.3 91h.9v.9h-.9zM228.8 84h.9v.9h-.9zM233.6 90.4h.9v.9h-.9zM229.8 92.5h.9v.9h-.9zM233.4 86.4h.9v.9h-.9zM230.3 84.1h.9v.9h-.9zM229.7 93.3h.9v.9h-.9zM227.9 91.6h.9v.9h-.9zM225.8 88.4h.9v.9h-.9zM233.5 94.2h.9v.9h-.9zM232 91.4h.9v.9h-.9zM235.9 82.1h.9v.9h-.9zM225.2 94.7h.9v.9h-.9zM238.3 90.9h.9v.9h-.9zM230.8 90h.9v.9h-.9zM230.6 87.4h.9v.9h-.9zM230.5 88.8h.9v.9h-.9zM232.6 91.2h.9v.9h-.9zM233.6 90.9h.9v.9h-.9zM227.5 93.2h.9v.9h-.9zM222.2 89.5h.9v.9h-.9zM231.6 87.7h.9v.9h-.9zM236.4 86h.9v.9h-.9zM226.9 87.7h.9v.9h-.9zM231.9 91.5h.9v.9h-.9zM230.9 91.1h.9v.9h-.9zM228.4 87.5h.9v.9h-.9zM231 85.3h.9v.9h-.9zM231.1 88.1h.9v.9h-.9zM232.7 86.3h.9v.9h-.9zM228.9 87.6h.9v.9h-.9zM229.4 86.3h.9v.9h-.9zM229.7 85.3h.9v.9h-.9zM232.2 91.2h.9v.9h-.9zM230.5 88.7h.9v.9h-.9zM227.8 86.4h.9v.9h-.9zM229.9 86.6h.9v.9h-.9zM226.9 89.7h.9v.9h-.9zM230.5 88h.9v.9h-.9zM228 89.1h.9v.9h-.9zM228.4 88h.9v.9h-.9zM231.1 91.3h.9v.9h-.9zM232.9 87.4h.9v.9h-.9zM234.3 85.9h.9v.9h-.9zM230 93h.9v.9h-.9zM237.9 89.6h.9v.9h-.9zM229.4 88.1h.9v.9h-.9zM226.8 88.8h.9v.9h-.9zM229.2 87h.9v.9h-.9zM234.3 87h.9v.9h-.9zM235.8 91.6h.9v.9h-.9zM232.5 87.5h.9v.9h-.9zM229 83.4h.9v.9h-.9zM231.4 88.4h.9v.9h-.9zM231.8 87.3h.9v.9h-.9zM232.1 84.9h.9v.9h-.9zM223.8 90.6h.9v.9h-.9zM233.9 80.1h.9v.9h-.9zM234.5 88.2h.9v.9h-.9zM230 84.7h.9v.9h-.9zM227.5 91.3h.9v.9h-.9zM228.3 89.1h.9v.9h-.9zM230.1 95h.9v.9h-.9zM233.3 85.4h.9v.9h-.9zM229.1 85.9h.9v.9h-.9zM226.3 87.2h.9v.9h-.9zM234 89.3h.9v.9h-.9zM232.6 88.8h.9v.9h-.9zM229.2 89.4h.9v.9h-.9zM230.3 94.8h.9v.9h-.9zM236.1 90.3h.9v.9h-.9zM232.4 83.4h.9v.9h-.9zM230.2 96.1h.9v.9h-.9zM228.1 91.6h.9v.9h-.9zM234.3 88.1h.9v.9h-.9zM229.8 87.9h.9v.9h-.9zM233 89.3h.9v.9h-.9zM235.2 92.6h.9v.9h-.9zM230.5 96.7h.9v.9h-.9zM229.6 87.4h.9v.9h-.9zM229.8 86.7h.9v.9h-.9zM229.2 89h.9v.9h-.9zM233.3 84.6h.9v.9h-.9zM226.2 87h.9v.9h-.9zM229.6 90.5h.9v.9h-.9zM228.1 93.6h.9v.9h-.9zM228.9 88.6h.9v.9h-.9zM230.7 92.6h.9v.9h-.9zM231.5 89.3h.9v.9h-.9zM228.9 89.7h.9v.9h-.9zM231.8 88.2h.9v.9h-.9zM230.5 83.9h.9v.9h-.9zM228.9 92.6h.9v.9h-.9zM234.9 89h.9v.9h-.9zM223.9 94.5h.9v.9h-.9zM230 96.7h.9v.9h-.9zM229.3 92.1h.9v.9h-.9zM228.6 93.2h.9v.9h-.9zM234.1 86.1h.9v.9h-.9zM234.5 97.5h.9v.9h-.9zM229.9 85.7h.9v.9h-.9zM231.4 88h.9v.9h-.9zM225.9 86.2h.9v.9h-.9zM231.3 84.8h.9v.9h-.9zM233.9 90.5h.9v.9h-.9zM230 93.3h.9v.9h-.9zM227.7 91.2h.9v.9h-.9zM226.4 88.3h.9v.9h-.9zM232.5 87.6h.9v.9h-.9zM230.2 91.1h.9v.9h-.9zM235.2 93h.9v.9h-.9zM232 88.4h.9v.9h-.9zM226.1 94.2h.9v.9h-.9zM236.3 82.9h.9v.9h-.9zM233.2 89.1h.9v.9h-.9zM232.7 90.1h.9v.9h-.9zM229.9 89.2h.9v.9h-.9zM230.4 92.6h.9v.9h-.9zM229.7 87.6h.9v.9h-.9zM232.5 91.1h.9v.9h-.9zM231.9 90h.9v.9h-.9zM235.1 92.4h.9v.9h-.9zM231.2 88.6h.9v.9h-.9zM232.6 83.8h.9v.9h-.9zM228.9 87.1h.9v.9h-.9zM231.1 88.1h.9v.9h-.9zM238.1 91.4h.9v.9h-.9zM231.8 95.8h.9v.9h-.9zM230.5 88.3h.9v.9h-.9zM234.3 91.6h.9v.9h-.9zM233.4 92.7h.9v.9h-.9zM229.4 87.3h.9v.9h-.9zM228.3 89.5h.9v.9h-.9zM233.6 86.1h.9v.9h-.9zM228.9 85.3h.9v.9h-.9zM236.7 91.5h.9v.9h-.9zM231.2 85.7h.9v.9h-.9zM227.4 87.3h.9v.9h-.9zM230.6 85.5h.9v.9h-.9zM229.8 92.8h.9v.9h-.9zM230.6 89.5h.9v.9h-.9zM224.1 88.4h.9v.9h-.9zM230.1 87.2h.9v.9h-.9zM226.3 89h.9v.9h-.9zM227.4 87.6h.9v.9h-.9zM225.6 88.9h.9v.9h-.9zM233.3 86.7h.9v.9h-.9zM231.5 84.8h.9v.9h-.9zM232.3 90.8h.9v.9h-.9zM229.3 91.8h.9v.9h-.9zM227.8 89.3h.9v.9h-.9zM235.7 89.1h.9v.9h-.9zM227.1 92.6h.9v.9h-.9zM232.2 88.4h.9v.9h-.9zM224.9 83.7h.9v.9h-.9zM225.9 93.5h.9v.9h-.9zM231.4 86.7h.9v.9h-.9zM234.1 93.5h.9v.9h-.9zM227.9 90.6h.9v.9h-.9zM225.5 90.3h.9v.9h-.9zM236.1 85.1h.9v.9h-.9zM230.7 87.3h.9v.9h-.9zM230.2 89.5h.9v.9h-.9zM231.4 91.8h.9v.9h-.9zM232.1 92.3h.9v.9h-.9zM233.6 92.4h.9v.9h-.9zM228.5 90.4h.9v.9h-.9zM229.4 86.7h.9v.9h-.9zM236.5 90.1h.9v.9h-.9zM230.7 83h.9v.9h-.9zM229.8 91.5h.9v.9h-.9zM229.9 87.6h.9v.9h-.9zM235.1 88.3h.9v.9h-.9zM229.5 88.9h.9v.9h-.9zM229.8 92.3h.9v.9h-.9zM232.3 89h.9v.9h-.9zM229.4 88.5h.9v.9h-.9zM235.7 88.3h.9v.9h-.9zM232.5 84.6h.9v.9h-.9zM231.5 91.2h.9v.9h-.9zM234.4 90.1h.9v.9h-.9zM232.3 90.1h.9v.9h-.9zM233.8 95.2h.9v.9h-.9zM231.1 86.8h.9v.9h-.9zM232.4 88.9h.9v.9h-.9zM232.5 91.5h.9v.9h-.9zM231 87.9h.9v.9h-.9zM231.5 85.6h.9v.9h-.9zM231.4 86.6h.9v.9h-.9zM231.9 89.6h.9v.9h-.9zM229.9 85.7h.9v.9h-.9zM230.7 87.2h.9v.9h-.9zM230.1 91.2h.9v.9h-.9zM233.5 85.4h.9v.9h-.9zM233.4 93.2h.9v.9h-.9zM234 90h.9v.9h-.9zM230.3 94.3h.9v.9h-.9zM229.6 84.7h.9v.9h-.9zM230.8 90h.9v.9h-.9zM227.4 85.6h.9v.9h-.9zM236.6 89.5h.9v.9h-.9zM232.9 87.5h.9v.9h-.9zM225.9 88.7h.9v.9h-.9zM234.6 87.2h.9v.9h-.9zM225 88.7h.9v.9h-.9zM229.7 89.2h.9v.9h-.9zM227.3 88.3h.9v.9h-.9zM228.9 91.8h.9v.9h-.9zM231 91.8h.9v.9h-.9zM230.4 83h.9v.9h-.9zM224.5 90.8h.9v.9h-.9zM233.2 91.8h.9v.9h-.9zM230.3 84h.9v.9h-.9zM229 90.4h.9v.9h-.9zM234.8 88.2h.9v.9h-.9zM228.8 86.9h.9v.9h-.9zM233.7 91.7h.9v.9h-.9z" fill="#c81212" fill-opacity=".8"/></g><path d="M196.3 72.8H257.3V127.8" fill="none" stroke="#5a5a5a" stroke-width="1"/><path d="M196.3 72.8V127.8H257.3" fill="none" stroke="#1a1a1a" stroke-width="1.3"/><path d="M195 123.9h1.3M200.7 127.8v1.3M195 119.9h1.3M205 127.8v1.3M195 116h1.3M209.4 127.8v1.3M195 112.1h1.3M213.7 127.8v1.3M195 108.2h1.3M218.1 127.8v1.3M195 104.2h1.3M222.4 127.8v1.3M195 100.3h1.3M226.8 127.8v1.3M195 96.4h1.3M231.2 127.8v1.3M195 92.4h1.3M235.5 127.8v1.3M195 88.5h1.3M239.9 127.8v1.3M195 84.6h1.3M244.2 127.8v1.3M195 80.7h1.3M248.6 127.8v1.3M195 76.7h1.3M252.9 127.8v1.3" stroke="#222" stroke-width=".6"/><line x1="217.5" y1="72.8" x2="217.5" y2="127.8" stroke="#303030" stroke-width="1.05"/><line x1="196.3" y1="101.2" x2="257.3" y2="101.2" stroke="#303030" stroke-width="1.05"/><text x="242.5" y="79.5" font-size="6.1" fill="#151515" stroke="#151515" stroke-width=".15" textLength="13.8" lengthAdjust="spacingAndGlyphs">62.97</text><g filter="url(#bl)"><path d="M321 86.4h.9v.9h-.9zM321.2 80.4h.9v.9h-.9zM332.5 76h.9v.9h-.9zM324.1 86.6h.9v.9h-.9zM335.2 78.6h.9v.9h-.9zM322.5 87.4h.9v.9h-.9zM332.2 80.3h.9v.9h-.9zM328.2 79.4h.9v.9h-.9zM322.3 78.4h.9v.9h-.9zM320.2 82.2h.9v.9h-.9zM329 87.3h.9v.9h-.9zM312.3 87h.9v.9h-.9zM321.2 85.9h.9v.9h-.9zM330.2 76.8h.9v.9h-.9zM324.6 89.2h.9v.9h-.9zM328.9 83.2h.9v.9h-.9zM328.6 78h.9v.9h-.9zM325.8 80.3h.9v.9h-.9zM322.7 85.9h.9v.9h-.9zM325.6 77.8h.9v.9h-.9zM323.4 87.4h.9v.9h-.9zM328.2 84.3h.9v.9h-.9zM322.8 81.8h.9v.9h-.9zM331.1 82h.9v.9h-.9zM313.7 95.3h.9v.9h-.9zM323.6 87.6h.9v.9h-.9zM333.2 76.8h.9v.9h-.9zM321.7 87.1h.9v.9h-.9zM327.6 84.3h.9v.9h-.9zM319.6 88.6h.9v.9h-.9zM331.8 81.9h.9v.9h-.9zM331.5 84.3h.9v.9h-.9zM324.4 89.4h.9v.9h-.9zM325 79.4h.9v.9h-.9zM325.1 84.8h.9v.9h-.9zM330.3 85.7h.9v.9h-.9zM325.9 80.9h.9v.9h-.9zM336.1 74.5h.9v.9h-.9zM323.8 88.5h.9v.9h-.9zM322.4 82.2h.9v.9h-.9zM323.1 90.1h.9v.9h-.9zM321 87h.9v.9h-.9zM323.4 84h.9v.9h-.9zM322.3 86.3h.9v.9h-.9zM331.1 83.9h.9v.9h-.9zM321.9 80.9h.9v.9h-.9zM318.7 88.2h.9v.9h-.9zM316.4 95.4h.9v.9h-.9zM326.4 83.3h.9v.9h-.9zM317.8 86h.9v.9h-.9zM323.7 87.5h.9v.9h-.9zM325.2 86.2h.9v.9h-.9zM324.7 75.7h.9v.9h-.9zM327.4 87.4h.9v.9h-.9zM323.7 85.2h.9v.9h-.9zM322.9 79.9h.9v.9h-.9zM336.5 75.1h.9v.9h-.9zM328.3 79.5h.9v.9h-.9zM335.2 81.5h.9v.9h-.9zM333.8 81.7h.9v.9h-.9zM332.3 84.6h.9v.9h-.9zM328.3 82h.9v.9h-.9zM328.2 77.7h.9v.9h-.9zM315.1 94.1h.9v.9h-.9zM325.3 80.5h.9v.9h-.9zM322.8 81.2h.9v.9h-.9zM322.2 86.5h.9v.9h-.9zM328.3 85h.9v.9h-.9zM326.8 85.2h.9v.9h-.9zM328 78.6h.9v.9h-.9zM316.3 86.9h.9v.9h-.9zM323.7 82.4h.9v.9h-.9zM335.5 74.1h.9v.9h-.9zM326.8 79.2h.9v.9h-.9zM326.9 77h.9v.9h-.9zM331.1 80.3h.9v.9h-.9zM321.6 81h.9v.9h-.9zM333.1 75.6h.9v.9h-.9zM328.3 74.1h.9v.9h-.9zM323.7 92.4h.9v.9h-.9zM334.9 76.9h.9v.9h-.9zM332.2 81.3h.9v.9h-.9zM324.5 84.6h.9v.9h-.9zM317.7 83.1h.9v.9h-.9zM328.1 84.7h.9v.9h-.9zM324.3 79h.9v.9h-.9zM330.4 80.4h.9v.9h-.9zM329.1 79.6h.9v.9h-.9zM326.8 87h.9v.9h-.9zM330.4 74.8h.9v.9h-.9zM302.3 83h.9v.9h-.9zM301.6 79.4h.9v.9h-.9zM298.5 79.5h.9v.9h-.9zM300.3 86.4h.9v.9h-.9zM300.7 77h.9v.9h-.9zM302.8 75.1h.9v.9h-.9zM301.5 75.9h.9v.9h-.9zM296.3 77.8h.9v.9h-.9zM298.3 75.7h.9v.9h-.9zM300.6 78.7h.9v.9h-.9zM302.4 76.5h.9v.9h-.9zM294.5 80.7h.9v.9h-.9zM298.4 81.4h.9v.9h-.9zM293.1 75.9h.9v.9h-.9zM299.2 83.8h.9v.9h-.9zM295.9 74.3h.9v.9h-.9zM297.9 82.5h.9v.9h-.9zM303 75.7h.9v.9h-.9zM297.5 74.5h.9v.9h-.9zM296.9 76.6h.9v.9h-.9zM300.1 81.8h.9v.9h-.9zM305 78.1h.9v.9h-.9zM301.1 79.6h.9v.9h-.9zM299.3 83.8h.9v.9h-.9zM300.8 82.9h.9v.9h-.9zM309 113.2h.9v.9h-.9zM312.1 114.7h.9v.9h-.9zM317.1 111.5h.9v.9h-.9zM309.7 115h.9v.9h-.9zM308.5 112.3h.9v.9h-.9zM316.1 109.1h.9v.9h-.9zM311.2 108.1h.9v.9h-.9zM311.2 107.5h.9v.9h-.9zM305.9 117.8h.9v.9h-.9zM315.4 114.4h.9v.9h-.9zM300.5 117.4h.9v.9h-.9zM310.8 110.3h.9v.9h-.9zM308.8 109.5h.9v.9h-.9zM309.7 113.7h.9v.9h-.9zM310.4 116.7h.9v.9h-.9zM307.7 106.5h.9v.9h-.9zM305.9 109.7h.9v.9h-.9zM308.7 112.5h.9v.9h-.9zM309.8 118.6h.9v.9h-.9zM310.1 110.4h.9v.9h-.9zM308.9 111h.9v.9h-.9zM309.2 116h.9v.9h-.9zM306 116.4h.9v.9h-.9zM316.2 119.1h.9v.9h-.9zM315.7 114.3h.9v.9h-.9zM305.3 120.8h.9v.9h-.9zM309.8 114.8h.9v.9h-.9zM308.8 110.8h.9v.9h-.9zM312.2 109.3h.9v.9h-.9zM305.2 115.9h.9v.9h-.9zM308.7 111.2h.9v.9h-.9zM311.7 118.8h.9v.9h-.9zM309 113.5h.9v.9h-.9zM312 117.2h.9v.9h-.9zM313.6 116.3h.9v.9h-.9zM307.7 115.8h.9v.9h-.9zM310 108.3h.9v.9h-.9zM314.3 115.9h.9v.9h-.9zM314.8 113.8h.9v.9h-.9zM312.5 113.8h.9v.9h-.9zM310.6 117.1h.9v.9h-.9zM310.2 116.1h.9v.9h-.9zM309.9 118.1h.9v.9h-.9zM312.3 108.4h.9v.9h-.9zM315.8 115.5h.9v.9h-.9zM308.2 111.9h.9v.9h-.9zM316.9 114.3h.9v.9h-.9zM311.8 116h.9v.9h-.9zM307.9 119.9h.9v.9h-.9zM317.3 111.4h.9v.9h-.9zM314 108.5h.9v.9h-.9zM308.8 114.2h.9v.9h-.9zM310.2 115.9h.9v.9h-.9zM311.4 115.3h.9v.9h-.9zM309.5 115h.9v.9h-.9zM308.1 120.6h.9v.9h-.9zM310.2 118.2h.9v.9h-.9zM310.4 113.5h.9v.9h-.9zM309.4 109.7h.9v.9h-.9zM317.2 115.4h.9v.9h-.9zM290.9 119.4h.9v.9h-.9zM298.9 119.9h.9v.9h-.9zM286.8 119.2h.9v.9h-.9zM300.7 122h.9v.9h-.9zM289 118.8h.9v.9h-.9zM298.9 122h.9v.9h-.9zM287.7 124h.9v.9h-.9zM296.1 117.7h.9v.9h-.9zM298 124.7h.9v.9h-.9zM288.3 116.5h.9v.9h-.9zM297.6 119.9h.9v.9h-.9zM288.6 120h.9v.9h-.9zM288.1 123.8h.9v.9h-.9zM282.4 122.8h.9v.9h-.9zM298.1 124.5h.9v.9h-.9zM295 121.9h.9v.9h-.9zM288.7 120.6h.9v.9h-.9zM283.9 126.5h.9v.9h-.9zM289.2 117.6h.9v.9h-.9zM295.8 126.1h.9v.9h-.9zM292 119.9h.9v.9h-.9zM282.3 123.2h.9v.9h-.9zM288.4 118.8h.9v.9h-.9zM294.2 116.7h.9v.9h-.9zM295.1 112.9h.9v.9h-.9zM285.8 116.2h.9v.9h-.9zM288.4 123.7h.9v.9h-.9zM281 125.6h.9v.9h-.9zM285.3 119.4h.9v.9h-.9zM296.9 118.6h.9v.9h-.9zM300.1 120.3h.9v.9h-.9zM289.4 117.8h.9v.9h-.9zM298 120.8h.9v.9h-.9zM286.7 117.8h.9v.9h-.9zM285.7 120.7h.9v.9h-.9zM285.1 123.7h.9v.9h-.9zM289.8 118.9h.9v.9h-.9zM293.2 125.8h.9v.9h-.9zM281 122.2h.9v.9h-.9zM297.5 121.5h.9v.9h-.9zM295.7 115.9h.9v.9h-.9zM284.9 124.4h.9v.9h-.9zM289.4 121.2h.9v.9h-.9zM294.4 122.2h.9v.9h-.9zM293.2 119.4h.9v.9h-.9zM288 125.4h.9v.9h-.9zM286.7 116.2h.9v.9h-.9zM287.7 124h.9v.9h-.9zM302.4 121.5h.9v.9h-.9zM285.8 123h.9v.9h-.9zM292.2 124.9h.9v.9h-.9zM293.7 123.5h.9v.9h-.9zM293.6 122.4h.9v.9h-.9zM283.9 120.5h.9v.9h-.9zM301.1 125.4h.9v.9h-.9zM296.7 122.3h.9v.9h-.9zM289.4 122.2h.9v.9h-.9zM287.9 124.6h.9v.9h-.9zM288 118.5h.9v.9h-.9zM281 126.2h.9v.9h-.9zM285 118.2h.9v.9h-.9zM292.9 126.5h.9v.9h-.9zM294.7 119.9h.9v.9h-.9zM294 118.3h.9v.9h-.9zM288.4 121.1h.9v.9h-.9zM290.2 123.6h.9v.9h-.9zM293.8 126.5h.9v.9h-.9zM295.8 120.1h.9v.9h-.9zM291.9 118.2h.9v.9h-.9zM286 119.9h.9v.9h-.9zM297.1 118.7h.9v.9h-.9zM281 117.7h.9v.9h-.9zM282 120.4h.9v.9h-.9zM288.1 117.1h.9v.9h-.9zM284.8 119.6h.9v.9h-.9zM292.9 123h.9v.9h-.9zM299.2 120.2h.9v.9h-.9zM294.5 121.3h.9v.9h-.9zM282.7 118.9h.9v.9h-.9zM305.1 120.5h.9v.9h-.9zM301.4 123.7h.9v.9h-.9zM301.5 120.4h.9v.9h-.9zM296.6 120h.9v.9h-.9zM282.7 117.1h.9v.9h-.9zM293.2 115.7h.9v.9h-.9zM292.7 118.1h.9v.9h-.9zM292.6 116.5h.9v.9h-.9zM296 120.3h.9v.9h-.9zM281 116.3h.9v.9h-.9zM290.7 115.6h.9v.9h-.9zM292.5 122.6h.9v.9h-.9zM285.8 125.6h.9v.9h-.9zM300.1 122h.9v.9h-.9zM293.3 122.6h.9v.9h-.9zM288.5 125.3h.9v.9h-.9zM286.6 112.7h.9v.9h-.9zM290.4 122.5h.9v.9h-.9zM295.9 117.4h.9v.9h-.9zM299.7 118.3h.9v.9h-.9zM294.5 123.4h.9v.9h-.9zM291.5 124.8h.9v.9h-.9zM286.9 126.5h.9v.9h-.9zM293.6 119.6h.9v.9h-.9zM307.9 121h.9v.9h-.9zM281 125.7h.9v.9h-.9zM300.8 119.1h.9v.9h-.9zM283.6 124.7h.9v.9h-.9zM290.7 117.8h.9v.9h-.9zM287 121.2h.9v.9h-.9zM296.9 126.2h.9v.9h-.9zM296.8 110.8h.9v.9h-.9zM302.6 111.3h.9v.9h-.9zM295.7 79.4h.9v.9h-.9zM314 88.1h.9v.9h-.9zM291.8 98.6h.9v.9h-.9zM305.8 120.4h.9v.9h-.9zM315.5 97.2h.9v.9h-.9zM303.2 105.6h.9v.9h-.9zM288.2 90.2h.9v.9h-.9zM311 122.9h.9v.9h-.9zM310.8 85.7h.9v.9h-.9zM328.4 115.6h.9v.9h-.9zM292.7 93.8h.9v.9h-.9zM283.6 113.9h.9v.9h-.9zM292.5 117.2h.9v.9h-.9zM316.5 114.6h.9v.9h-.9zM309.1 87.4h.9v.9h-.9zM283.7 105.3h.9v.9h-.9zM282.6 101.5h.9v.9h-.9zM319.2 82.2h.9v.9h-.9zM303 102.6h.9v.9h-.9zM289.2 85.3h.9v.9h-.9zM311.3 83.8h.9v.9h-.9zM289.3 86.3h.9v.9h-.9zM327 120.8h.9v.9h-.9zM287.3 104.2h.9v.9h-.9zM301.7 76.6h.9v.9h-.9zM294.1 108.2h.9v.9h-.9zM282.9 123.9h.9v.9h-.9zM295.7 92.7h.9v.9h-.9zM327.6 82.1h.9v.9h-.9zM288.3 99.1h.9v.9h-.9zM297 91.3h.9v.9h-.9zM310 123.5h.9v.9h-.9zM301.9 77.2h.9v.9h-.9zM299.9 118.5h.9v.9h-.9zM302.8 78.1h.9v.9h-.9zM294 86.6h.9v.9h-.9zM298.8 91.2h.9v.9h-.9zM314.2 111.7h.9v.9h-.9zM284.1 82.4h.9v.9h-.9zM321.5 119.7h.9v.9h-.9zM319.8 84h.9v.9h-.9zM315.3 78.8h.9v.9h-.9zM314.4 86.3h.9v.9h-.9zM322.3 118h.9v.9h-.9zM304.4 112h.9v.9h-.9zM327.3 120.6h.9v.9h-.9zM313.1 106.4h.9v.9h-.9zM299.1 109.9h.9v.9h-.9zM288.8 98.4h.9v.9h-.9zM286.1 79.7h.9v.9h-.9zM314.1 96.7h.9v.9h-.9zM292 123.4h.9v.9h-.9zM295.9 102.5h.9v.9h-.9zM305.5 84.4h.9v.9h-.9zM329.7 113.7h.9v.9h-.9zM324.8 90.3h.9v.9h-.9zM325.7 121.4h.9v.9h-.9zM327.2 84.1h.9v.9h-.9zM289.5 79.3h.9v.9h-.9zM286.3 110.8h.9v.9h-.9zM284.4 98.7h.9v.9h-.9zM299 112.2h.9v.9h-.9zM284.2 111.8h.9v.9h-.9zM328 90.1h.9v.9h-.9zM301.4 112.8h.9v.9h-.9zM296.7 118.2h.9v.9h-.9zM329.8 86.4h.9v.9h-.9zM304.6 82.5h.9v.9h-.9z" fill="#b8382a" fill-opacity=".55"/><path d="M316.7 86.2h.9v.9h-.9zM316.4 104h.9v.9h-.9zM316.9 84.9h.9v.9h-.9zM320.7 83.5h.9v.9h-.9zM311.1 102h.9v.9h-.9zM323.9 83.7h.9v.9h-.9zM313.3 95.6h.9v.9h-.9zM331 85.9h.9v.9h-.9zM319.9 84.5h.9v.9h-.9zM309.3 97.5h.9v.9h-.9zM324.4 87.7h.9v.9h-.9zM321.1 95h.9v.9h-.9zM315.9 96.8h.9v.9h-.9zM322 85.8h.9v.9h-.9zM319.4 90.5h.9v.9h-.9zM319.9 85.5h.9v.9h-.9zM317.4 91.5h.9v.9h-.9zM318.7 90.5h.9v.9h-.9zM319.5 89.1h.9v.9h-.9zM317.7 95.5h.9v.9h-.9zM314.3 91.5h.9v.9h-.9zM311.5 89.6h.9v.9h-.9zM320.9 88.9h.9v.9h-.9zM318.6 92.4h.9v.9h-.9zM318.8 93.3h.9v.9h-.9zM329.2 85.8h.9v.9h-.9zM320.1 96.7h.9v.9h-.9zM319.3 82.8h.9v.9h-.9zM326.3 86.9h.9v.9h-.9zM321.1 84h.9v.9h-.9zM312.6 91.1h.9v.9h-.9zM319.5 85.1h.9v.9h-.9zM316.3 95.9h.9v.9h-.9zM315.2 92.9h.9v.9h-.9zM310.3 87.9h.9v.9h-.9zM317.8 90.4h.9v.9h-.9zM312.4 98.2h.9v.9h-.9zM324.7 90.7h.9v.9h-.9zM313.5 88.4h.9v.9h-.9zM318.3 91.3h.9v.9h-.9zM316.4 89.2h.9v.9h-.9zM311.6 91.3h.9v.9h-.9zM317.1 89.2h.9v.9h-.9zM327.2 84.3h.9v.9h-.9zM320.1 87.5h.9v.9h-.9zM315.7 87.9h.9v.9h-.9zM313 87.2h.9v.9h-.9zM309.5 101.5h.9v.9h-.9zM313.5 95.3h.9v.9h-.9zM316.7 89.1h.9v.9h-.9zM321.5 86.4h.9v.9h-.9zM320.2 87.9h.9v.9h-.9zM325.6 90.5h.9v.9h-.9zM320.9 93.8h.9v.9h-.9zM324.2 93.9h.9v.9h-.9zM314.9 85.9h.9v.9h-.9zM320.1 90.6h.9v.9h-.9zM316.1 91h.9v.9h-.9zM314.7 87.3h.9v.9h-.9zM326.5 82.5h.9v.9h-.9zM309.6 88.8h.9v.9h-.9zM313.8 93.1h.9v.9h-.9zM327.7 87.7h.9v.9h-.9zM312.2 88.8h.9v.9h-.9zM312.2 93.8h.9v.9h-.9zM322.4 86.2h.9v.9h-.9zM330.9 91.6h.9v.9h-.9zM315.3 83h.9v.9h-.9zM324.3 86.7h.9v.9h-.9zM324 91.6h.9v.9h-.9zM313.1 93.9h.9v.9h-.9zM318.1 87.5h.9v.9h-.9zM322.1 87.9h.9v.9h-.9zM319.8 97.8h.9v.9h-.9zM322.4 95.2h.9v.9h-.9zM319.6 94.3h.9v.9h-.9zM314.6 93.4h.9v.9h-.9zM320.4 80.1h.9v.9h-.9zM320.9 87.9h.9v.9h-.9zM324.8 87.6h.9v.9h-.9zM315.7 86.6h.9v.9h-.9zM333.3 78.8h.9v.9h-.9zM315.4 89.2h.9v.9h-.9zM317.2 92.2h.9v.9h-.9zM313.1 98.2h.9v.9h-.9zM318.2 93.3h.9v.9h-.9zM305.9 95.5h.9v.9h-.9zM316.1 90.2h.9v.9h-.9zM315.4 93.6h.9v.9h-.9zM318.9 86h.9v.9h-.9zM309 99.1h.9v.9h-.9zM318.7 95h.9v.9h-.9zM323.1 87.4h.9v.9h-.9zM309.9 93.9h.9v.9h-.9zM316.8 96.8h.9v.9h-.9zM310.8 98.8h.9v.9h-.9zM308.9 93.6h.9v.9h-.9zM309.4 92.7h.9v.9h-.9zM316.7 93.1h.9v.9h-.9zM316.5 94.6h.9v.9h-.9zM328.4 85.5h.9v.9h-.9zM311.8 93.6h.9v.9h-.9zM317.2 89.7h.9v.9h-.9zM326.9 90.6h.9v.9h-.9zM330.4 85.8h.9v.9h-.9zM303.6 98.5h.9v.9h-.9zM320.6 85.8h.9v.9h-.9zM316.9 95.3h.9v.9h-.9zM317.2 86.4h.9v.9h-.9zM309.5 82.4h.9v.9h-.9zM316.2 86.6h.9v.9h-.9zM316 86.8h.9v.9h-.9zM312.4 91.8h.9v.9h-.9zM331.5 77.9h.9v.9h-.9zM310.9 92.5h.9v.9h-.9zM325.8 89.7h.9v.9h-.9zM321.7 87.3h.9v.9h-.9zM317.7 87.6h.9v.9h-.9zM316 88.5h.9v.9h-.9zM308.6 91.9h.9v.9h-.9zM329.8 85.7h.9v.9h-.9zM314.1 92.5h.9v.9h-.9zM318.2 95.9h.9v.9h-.9zM317.1 88.6h.9v.9h-.9zM322.8 89.4h.9v.9h-.9zM313.3 90.2h.9v.9h-.9zM316.2 84.8h.9v.9h-.9zM315.3 96.7h.9v.9h-.9zM325.3 91.4h.9v.9h-.9zM314.9 90h.9v.9h-.9zM316.1 89.8h.9v.9h-.9zM325.1 85.7h.9v.9h-.9zM324.6 83.9h.9v.9h-.9zM323.5 94.5h.9v.9h-.9zM313.2 90.8h.9v.9h-.9zM312.2 87.2h.9v.9h-.9zM315.6 89.4h.9v.9h-.9zM329.7 82h.9v.9h-.9zM308.5 100.3h.9v.9h-.9zM323.6 87.4h.9v.9h-.9zM321.3 91.9h.9v.9h-.9zM315.4 92.4h.9v.9h-.9zM322.3 95.4h.9v.9h-.9zM326.5 86.6h.9v.9h-.9zM312.7 97.6h.9v.9h-.9zM320.3 94.5h.9v.9h-.9zM319.1 90.9h.9v.9h-.9zM320.7 86.1h.9v.9h-.9zM319.1 100h.9v.9h-.9zM315.4 96.3h.9v.9h-.9zM323.7 91h.9v.9h-.9zM323.4 81.9h.9v.9h-.9zM319.8 80.9h.9v.9h-.9zM319.3 91.4h.9v.9h-.9zM326.1 90.8h.9v.9h-.9zM312.8 92.6h.9v.9h-.9zM316.3 88.8h.9v.9h-.9zM312.7 91h.9v.9h-.9zM327.3 91.3h.9v.9h-.9zM325.7 93.6h.9v.9h-.9zM316.9 86.7h.9v.9h-.9zM315.2 93.3h.9v.9h-.9zM326.3 91.2h.9v.9h-.9zM315.3 96.4h.9v.9h-.9zM316.6 94.1h.9v.9h-.9zM326.2 92.4h.9v.9h-.9zM316 93h.9v.9h-.9zM320 87.8h.9v.9h-.9zM320 92.2h.9v.9h-.9zM308.2 93.7h.9v.9h-.9zM331.9 84.7h.9v.9h-.9zM311.9 86.4h.9v.9h-.9zM314.1 95.2h.9v.9h-.9zM323 89.8h.9v.9h-.9zM320.5 86.7h.9v.9h-.9zM325.1 81.9h.9v.9h-.9zM320.7 88.1h.9v.9h-.9zM310.7 98.9h.9v.9h-.9zM318.2 93.7h.9v.9h-.9zM325.7 87h.9v.9h-.9zM314.4 91.9h.9v.9h-.9zM320.7 95.4h.9v.9h-.9zM326.1 92.9h.9v.9h-.9zM321.2 85.7h.9v.9h-.9zM325.3 90.7h.9v.9h-.9zM318.6 92.4h.9v.9h-.9zM314.3 87.5h.9v.9h-.9zM319.3 93.3h.9v.9h-.9zM312.3 84.4h.9v.9h-.9zM316.1 96.6h.9v.9h-.9zM321.7 93.5h.9v.9h-.9zM313.5 91.6h.9v.9h-.9zM311.5 91.2h.9v.9h-.9zM321.5 89.4h.9v.9h-.9zM316.3 93h.9v.9h-.9zM310.5 93.4h.9v.9h-.9zM307.4 90.4h.9v.9h-.9zM308.9 91.3h.9v.9h-.9zM329.6 90h.9v.9h-.9zM324.2 84.7h.9v.9h-.9zM319.7 84.9h.9v.9h-.9zM315.9 93h.9v.9h-.9zM310 96.2h.9v.9h-.9zM317.9 81.9h.9v.9h-.9zM304.5 97.4h.9v.9h-.9zM318 91.4h.9v.9h-.9zM313.3 96h.9v.9h-.9zM317.7 87.8h.9v.9h-.9zM327.9 86.2h.9v.9h-.9zM325.9 94.2h.9v.9h-.9zM315.3 91.4h.9v.9h-.9zM308.5 95.3h.9v.9h-.9zM325.5 97.3h.9v.9h-.9zM321.9 89.4h.9v.9h-.9zM309.9 91.8h.9v.9h-.9zM305.7 91.9h.9v.9h-.9zM319.6 91.2h.9v.9h-.9zM313 92.7h.9v.9h-.9zM315.2 95.1h.9v.9h-.9zM320.9 86.7h.9v.9h-.9zM313.6 88h.9v.9h-.9zM319.9 99.1h.9v.9h-.9zM319.9 93.4h.9v.9h-.9zM324.3 93.5h.9v.9h-.9zM314.9 88.6h.9v.9h-.9zM325.8 90.3h.9v.9h-.9zM316.8 96.2h.9v.9h-.9zM318.3 90.5h.9v.9h-.9zM329.5 86.5h.9v.9h-.9zM319.5 88.5h.9v.9h-.9zM321.5 93.3h.9v.9h-.9zM319.5 86.7h.9v.9h-.9zM320.6 88.7h.9v.9h-.9zM319.7 88.9h.9v.9h-.9zM303.4 92.2h.9v.9h-.9zM312.2 84.6h.9v.9h-.9zM314 101.9h.9v.9h-.9zM321.3 86.9h.9v.9h-.9zM316 82.2h.9v.9h-.9zM321.6 93h.9v.9h-.9zM317 85.7h.9v.9h-.9zM322.7 85.8h.9v.9h-.9zM315.6 93h.9v.9h-.9zM320.6 98.1h.9v.9h-.9zM321.7 98h.9v.9h-.9zM318.6 85.1h.9v.9h-.9zM318.5 90.7h.9v.9h-.9zM328.7 90.2h.9v.9h-.9zM331.2 80.3h.9v.9h-.9zM320.4 99.5h.9v.9h-.9zM314.2 94.6h.9v.9h-.9zM325.3 82.1h.9v.9h-.9zM315.1 89.2h.9v.9h-.9zM322.1 90.2h.9v.9h-.9zM319.4 92.8h.9v.9h-.9zM313.4 91.8h.9v.9h-.9zM324.8 95.6h.9v.9h-.9zM318.3 90.9h.9v.9h-.9zM325.8 86.6h.9v.9h-.9zM326 87.2h.9v.9h-.9zM325.1 87.5h.9v.9h-.9zM311.7 90.7h.9v.9h-.9zM324.3 95.3h.9v.9h-.9zM328.1 83.6h.9v.9h-.9zM330.1 79h.9v.9h-.9zM315.5 96.3h.9v.9h-.9zM311.7 98.4h.9v.9h-.9zM321.7 91.4h.9v.9h-.9zM312.5 95.6h.9v.9h-.9zM323.5 87.4h.9v.9h-.9zM324.1 87.4h.9v.9h-.9zM319.7 88.4h.9v.9h-.9zM310.6 94.3h.9v.9h-.9zM319.7 86.5h.9v.9h-.9zM304.7 91.7h.9v.9h-.9zM325.2 85.6h.9v.9h-.9zM316.5 97h.9v.9h-.9zM314.6 86.2h.9v.9h-.9zM314.3 89.1h.9v.9h-.9zM315.7 88.1h.9v.9h-.9zM319.6 91.8h.9v.9h-.9zM314.9 91.7h.9v.9h-.9zM319.1 93.8h.9v.9h-.9zM315.9 95.3h.9v.9h-.9zM324.9 85.9h.9v.9h-.9zM312.5 92.6h.9v.9h-.9zM307.6 94.4h.9v.9h-.9zM311.5 93.8h.9v.9h-.9zM317.3 93.4h.9v.9h-.9zM319.9 91.6h.9v.9h-.9zM318.7 91.6h.9v.9h-.9zM313.4 96.3h.9v.9h-.9zM327.7 90h.9v.9h-.9zM311.8 96.2h.9v.9h-.9zM310.9 98.2h.9v.9h-.9zM316.4 89.7h.9v.9h-.9zM313.8 92.2h.9v.9h-.9zM316.6 87.4h.9v.9h-.9zM319.2 91.2h.9v.9h-.9zM321.2 88.7h.9v.9h-.9zM322.8 98.2h.9v.9h-.9zM324.6 88.4h.9v.9h-.9zM311.9 97h.9v.9h-.9zM316.5 80h.9v.9h-.9zM318.2 92.3h.9v.9h-.9zM318.8 90.8h.9v.9h-.9zM320.2 95.6h.9v.9h-.9zM320 88.4h.9v.9h-.9zM321.1 98.1h.9v.9h-.9zM312.6 91.6h.9v.9h-.9zM320.5 90h.9v.9h-.9zM322.7 94h.9v.9h-.9zM325.5 88.3h.9v.9h-.9zM318.5 90.2h.9v.9h-.9zM319.1 94.6h.9v.9h-.9zM309.4 91.2h.9v.9h-.9zM314.1 88.8h.9v.9h-.9zM316.6 96.8h.9v.9h-.9zM307.1 99.6h.9v.9h-.9zM310.7 93.9h.9v.9h-.9zM313.4 89.1h.9v.9h-.9zM310.3 95.5h.9v.9h-.9zM298 93h.9v.9h-.9zM318.3 95.4h.9v.9h-.9zM328.1 83.6h.9v.9h-.9zM313.4 92.2h.9v.9h-.9zM322.8 92.1h.9v.9h-.9zM314 95.2h.9v.9h-.9zM320.4 94.4h.9v.9h-.9zM315.8 91.2h.9v.9h-.9zM292.5 95.5h.9v.9h-.9zM296.6 91.3h.9v.9h-.9zM292.8 95.7h.9v.9h-.9zM296.1 92.1h.9v.9h-.9zM296.7 88.6h.9v.9h-.9zM296.7 91.7h.9v.9h-.9zM297.6 92.8h.9v.9h-.9zM292 87.8h.9v.9h-.9zM294.8 96.4h.9v.9h-.9zM293.8 96.3h.9v.9h-.9zM298.6 95.1h.9v.9h-.9zM301.9 91h.9v.9h-.9zM296.5 96.7h.9v.9h-.9zM296.7 95.6h.9v.9h-.9zM295.2 97.6h.9v.9h-.9zM296.6 82.3h.9v.9h-.9zM298.6 90.2h.9v.9h-.9zM293.1 89.7h.9v.9h-.9zM294.8 96.3h.9v.9h-.9zM296.5 90.7h.9v.9h-.9zM295.6 86.9h.9v.9h-.9zM293.8 88.9h.9v.9h-.9zM295 85.7h.9v.9h-.9zM294.5 95.7h.9v.9h-.9zM296.9 91.1h.9v.9h-.9zM296.6 90h.9v.9h-.9zM292.3 95.1h.9v.9h-.9zM301.9 93.4h.9v.9h-.9zM297.5 102.3h.9v.9h-.9zM292.2 93.5h.9v.9h-.9zM294.6 89.8h.9v.9h-.9zM290.9 90.7h.9v.9h-.9zM296.7 83.7h.9v.9h-.9zM295 88.8h.9v.9h-.9zM292.8 94h.9v.9h-.9zM300.2 93h.9v.9h-.9zM298.5 94.5h.9v.9h-.9zM295.4 93.7h.9v.9h-.9zM299.3 89.1h.9v.9h-.9zM295.2 84.8h.9v.9h-.9zM290.4 87.3h.9v.9h-.9zM298.1 92.7h.9v.9h-.9zM296.3 97.1h.9v.9h-.9zM290.6 97.4h.9v.9h-.9zM295.8 94.6h.9v.9h-.9zM299.5 87.4h.9v.9h-.9zM293.2 92.9h.9v.9h-.9zM295.4 88.4h.9v.9h-.9zM295.2 87.8h.9v.9h-.9zM296 89.3h.9v.9h-.9zM300.4 86.3h.9v.9h-.9zM297.2 91.4h.9v.9h-.9zM300 86.6h.9v.9h-.9zM294.3 99h.9v.9h-.9zM293.8 89.3h.9v.9h-.9zM294.5 86.6h.9v.9h-.9zM299 98h.9v.9h-.9zM295.2 87.6h.9v.9h-.9zM291.8 94.1h.9v.9h-.9zM294.1 93.6h.9v.9h-.9zM288.8 89.1h.9v.9h-.9zM297.4 93h.9v.9h-.9zM287.5 92.4h.9v.9h-.9zM296 91h.9v.9h-.9zM294.6 89h.9v.9h-.9zM296 93.4h.9v.9h-.9zM286.7 91h.9v.9h-.9zM298.2 90.1h.9v.9h-.9zM299 86.8h.9v.9h-.9zM301 95.5h.9v.9h-.9zM294.5 103.6h.9v.9h-.9zM299.7 98.3h.9v.9h-.9zM292.2 90.6h.9v.9h-.9zM296.9 95.9h.9v.9h-.9zM295.8 85.1h.9v.9h-.9zM299 90.3h.9v.9h-.9zM296.8 89.6h.9v.9h-.9zM295.3 84.8h.9v.9h-.9zM297.5 88.2h.9v.9h-.9zM290.6 92.9h.9v.9h-.9zM295.5 95.4h.9v.9h-.9zM297.9 85.5h.9v.9h-.9zM295.1 91.1h.9v.9h-.9zM295.9 86.3h.9v.9h-.9zM295.8 95.5h.9v.9h-.9zM299.1 97.7h.9v.9h-.9zM297.7 79.6h.9v.9h-.9zM294.8 88.6h.9v.9h-.9zM287.4 98.1h.9v.9h-.9zM298.2 91h.9v.9h-.9zM296.6 93.3h.9v.9h-.9zM295 97.3h.9v.9h-.9zM300.7 94.8h.9v.9h-.9zM294 92.2h.9v.9h-.9zM298.3 94.3h.9v.9h-.9zM293.7 95.4h.9v.9h-.9zM297.6 93.7h.9v.9h-.9zM294.4 90.9h.9v.9h-.9zM290.2 90.9h.9v.9h-.9zM294.4 89.7h.9v.9h-.9zM294.8 89.6h.9v.9h-.9zM295.8 91.5h.9v.9h-.9zM293.9 90.5h.9v.9h-.9zM295.3 93.3h.9v.9h-.9zM296.8 89.4h.9v.9h-.9zM293.3 83.6h.9v.9h-.9zM292.1 92.9h.9v.9h-.9zM293 98.4h.9v.9h-.9zM295.2 89.3h.9v.9h-.9zM295.2 88.6h.9v.9h-.9zM293.8 91.3h.9v.9h-.9zM291.5 91.7h.9v.9h-.9zM295.3 86.9h.9v.9h-.9zM298.5 92.7h.9v.9h-.9zM298.6 88h.9v.9h-.9zM292.1 85.7h.9v.9h-.9zM291.2 82.4h.9v.9h-.9zM300 88.9h.9v.9h-.9zM296.1 88.6h.9v.9h-.9zM295.2 98.2h.9v.9h-.9zM290.7 86.6h.9v.9h-.9zM296 86.9h.9v.9h-.9zM297.5 96.9h.9v.9h-.9zM298.1 94.5h.9v.9h-.9zM295.1 95.6h.9v.9h-.9zM293.4 85.6h.9v.9h-.9zM294.9 89.9h.9v.9h-.9zM299 86.6h.9v.9h-.9zM298.8 87.5h.9v.9h-.9zM292 83.3h.9v.9h-.9zM295.5 84.5h.9v.9h-.9zM296.2 91.3h.9v.9h-.9zM294.5 82.3h.9v.9h-.9zM294.1 93.1h.9v.9h-.9zM290.6 94.2h.9v.9h-.9zM295.7 88.6h.9v.9h-.9zM296.2 94h.9v.9h-.9zM295.5 87.5h.9v.9h-.9zM297.8 87.9h.9v.9h-.9zM296.6 95.5h.9v.9h-.9zM297.5 111.2h.9v.9h-.9zM296.7 107.7h.9v.9h-.9zM287.9 116.9h.9v.9h-.9zM292.7 111.2h.9v.9h-.9zM289.6 113.4h.9v.9h-.9zM298.8 104.6h.9v.9h-.9zM292.2 112.5h.9v.9h-.9zM301.2 100.4h.9v.9h-.9zM301.1 99h.9v.9h-.9zM305.2 100.8h.9v.9h-.9zM291.2 116.8h.9v.9h-.9zM299 101h.9v.9h-.9zM292.7 114.4h.9v.9h-.9zM291.5 113.1h.9v.9h-.9zM294.4 112.4h.9v.9h-.9zM302.1 108.6h.9v.9h-.9zM298 120.2h.9v.9h-.9zM295.3 118h.9v.9h-.9zM289.4 110.3h.9v.9h-.9zM289.8 114.8h.9v.9h-.9zM296.2 99.5h.9v.9h-.9zM288.9 116.8h.9v.9h-.9zM298.9 107.5h.9v.9h-.9zM299 104.8h.9v.9h-.9zM294.7 116.2h.9v.9h-.9zM306 98.9h.9v.9h-.9zM292.6 109.1h.9v.9h-.9zM308.6 95.8h.9v.9h-.9zM294.1 104h.9v.9h-.9zM303.1 111.7h.9v.9h-.9zM292 112.9h.9v.9h-.9zM303.5 99.3h.9v.9h-.9zM303.6 108.9h.9v.9h-.9zM283.8 119.8h.9v.9h-.9zM298.4 106.7h.9v.9h-.9zM293.4 111.3h.9v.9h-.9zM295.2 111.6h.9v.9h-.9zM289.7 115.3h.9v.9h-.9zM292.6 108h.9v.9h-.9zM291.5 104.2h.9v.9h-.9zM297.6 106.6h.9v.9h-.9zM288.7 124h.9v.9h-.9zM290.3 125.3h.9v.9h-.9zM291.4 120.1h.9v.9h-.9zM296.8 115.6h.9v.9h-.9zM294.4 115.7h.9v.9h-.9zM287.1 111h.9v.9h-.9zM297.2 109.8h.9v.9h-.9zM300 112h.9v.9h-.9zM285.3 115.2h.9v.9h-.9zM293.7 108.6h.9v.9h-.9zM292.8 112.8h.9v.9h-.9zM290.5 120.6h.9v.9h-.9zM296.8 116.4h.9v.9h-.9zM297.6 112h.9v.9h-.9zM290.1 113h.9v.9h-.9zM288 114.5h.9v.9h-.9zM296.9 108.6h.9v.9h-.9zM282.8 117.7h.9v.9h-.9zM283.6 115.4h.9v.9h-.9zM284.1 116.2h.9v.9h-.9zM295.6 104.1h.9v.9h-.9zM289.3 116.5h.9v.9h-.9zM294.7 112.5h.9v.9h-.9zM300.1 107.1h.9v.9h-.9zM294.1 117.1h.9v.9h-.9zM294.4 107.6h.9v.9h-.9zM300.9 97.7h.9v.9h-.9zM299.6 110.6h.9v.9h-.9zM295.1 111.7h.9v.9h-.9zM295.9 112.3h.9v.9h-.9zM295.1 110.2h.9v.9h-.9zM293.9 102.7h.9v.9h-.9zM294.5 109.4h.9v.9h-.9zM307.3 96.9h.9v.9h-.9zM290.6 118.5h.9v.9h-.9zM288.3 112.8h.9v.9h-.9zM292.8 115.2h.9v.9h-.9zM303.9 104.5h.9v.9h-.9zM294.7 109.8h.9v.9h-.9zM297.6 112.7h.9v.9h-.9zM295.3 115.2h.9v.9h-.9zM288.2 118.3h.9v.9h-.9zM300.3 107.1h.9v.9h-.9zM293.7 109.4h.9v.9h-.9zM281 125.4h.9v.9h-.9zM287 117.9h.9v.9h-.9zM302.4 97.9h.9v.9h-.9zM299.2 105.2h.9v.9h-.9zM286.4 121h.9v.9h-.9zM295.9 103.7h.9v.9h-.9zM284.9 120.5h.9v.9h-.9zM297 105h.9v.9h-.9zM297.4 109.5h.9v.9h-.9zM294.6 112.7h.9v.9h-.9zM301.6 101.5h.9v.9h-.9zM293.3 107.4h.9v.9h-.9zM288.5 117.5h.9v.9h-.9zM297.4 104.2h.9v.9h-.9zM286.4 124.8h.9v.9h-.9zM303.5 88.2h.9v.9h-.9zM286.7 120.6h.9v.9h-.9zM294.6 106.3h.9v.9h-.9zM298.3 111.4h.9v.9h-.9zM293.4 115.5h.9v.9h-.9zM292.3 109.2h.9v.9h-.9zM288.1 115.7h.9v.9h-.9zM305 103.6h.9v.9h-.9zM291.6 107.1h.9v.9h-.9zM289.4 115.1h.9v.9h-.9zM281 126.5h.9v.9h-.9zM292.4 107.2h.9v.9h-.9zM289.7 114.5h.9v.9h-.9zM307.3 98.6h.9v.9h-.9zM298.8 106.1h.9v.9h-.9zM287.1 123.9h.9v.9h-.9zM284.7 113.6h.9v.9h-.9zM297.6 105.6h.9v.9h-.9zM294.7 113h.9v.9h-.9zM292.9 114.6h.9v.9h-.9zM301.3 101.2h.9v.9h-.9zM291.2 114.8h.9v.9h-.9zM296.9 106.1h.9v.9h-.9zM292.5 110h.9v.9h-.9zM294.3 113.6h.9v.9h-.9zM287.7 118.1h.9v.9h-.9zM282.3 122.2h.9v.9h-.9zM295.2 112.4h.9v.9h-.9zM286.5 119.9h.9v.9h-.9zM288.1 119.9h.9v.9h-.9zM296.3 110.8h.9v.9h-.9zM288.9 110.9h.9v.9h-.9zM286.8 113.8h.9v.9h-.9zM288.9 117.2h.9v.9h-.9zM299.2 102.3h.9v.9h-.9zM288.9 118.4h.9v.9h-.9zM284.4 126.5h.9v.9h-.9zM285.7 126h.9v.9h-.9zM302.2 106.1h.9v.9h-.9zM294.5 114.2h.9v.9h-.9zM293.4 116.5h.9v.9h-.9zM287.4 115.5h.9v.9h-.9zM295 108.1h.9v.9h-.9zM296 105.1h.9v.9h-.9zM293.1 108h.9v.9h-.9zM297.7 116.9h.9v.9h-.9zM283.7 118.1h.9v.9h-.9zM282.5 124.1h.9v.9h-.9zM303.2 98.4h.9v.9h-.9zM299.2 104.3h.9v.9h-.9zM293.9 120.8h.9v.9h-.9zM296.5 100h.9v.9h-.9zM288 120.4h.9v.9h-.9zM297.3 106.5h.9v.9h-.9zM296.8 110.5h.9v.9h-.9zM293.5 116.6h.9v.9h-.9zM289.7 120.1h.9v.9h-.9zM300 105.2h.9v.9h-.9zM291.2 114.6h.9v.9h-.9zM281 126.5h.9v.9h-.9zM281 119.3h.9v.9h-.9zM296.5 104.3h.9v.9h-.9zM296 109.3h.9v.9h-.9zM281 124h.9v.9h-.9zM292.8 115h.9v.9h-.9zM291.1 109h.9v.9h-.9zM290.3 116.3h.9v.9h-.9zM284.2 121.1h.9v.9h-.9zM285.1 112.2h.9v.9h-.9zM306.8 100.2h.9v.9h-.9zM292.6 117.4h.9v.9h-.9zM290.1 123h.9v.9h-.9zM291.4 115.2h.9v.9h-.9zM289.9 116.7h.9v.9h-.9zM295.7 109.5h.9v.9h-.9zM289.8 119.9h.9v.9h-.9zM297.2 107.6h.9v.9h-.9zM298.7 102.4h.9v.9h-.9zM301.5 101.7h.9v.9h-.9zM302.4 99.3h.9v.9h-.9zM292.3 114.4h.9v.9h-.9zM303.9 106.2h.9v.9h-.9zM288.9 114.2h.9v.9h-.9zM301.3 108.4h.9v.9h-.9zM297.4 105.9h.9v.9h-.9zM301.8 102h.9v.9h-.9zM296 111.9h.9v.9h-.9zM284.7 112.1h.9v.9h-.9zM296.6 111.6h.9v.9h-.9zM297.6 109.6h.9v.9h-.9zM296.9 112.7h.9v.9h-.9zM297.6 113.9h.9v.9h-.9zM295.6 113.1h.9v.9h-.9zM290.6 116.8h.9v.9h-.9zM296.6 108.9h.9v.9h-.9zM303.7 100h.9v.9h-.9zM301.6 103.9h.9v.9h-.9zM298.6 101.8h.9v.9h-.9zM293.3 116.7h.9v.9h-.9zM289.1 119.1h.9v.9h-.9zM297.7 107.9h.9v.9h-.9zM297.6 109.6h.9v.9h-.9zM292.9 114.6h.9v.9h-.9zM289.1 115.2h.9v.9h-.9zM282.9 124.1h.9v.9h-.9zM282.5 125.3h.9v.9h-.9zM292.4 108.3h.9v.9h-.9zM294.6 112h.9v.9h-.9zM289.2 113h.9v.9h-.9zM293.7 113.6h.9v.9h-.9zM303.9 108.5h.9v.9h-.9zM281.4 126.5h.9v.9h-.9zM294.9 107.4h.9v.9h-.9zM300.4 113.5h.9v.9h-.9zM297.4 113.7h.9v.9h-.9zM299.5 102.9h.9v.9h-.9zM281 126.5h.9v.9h-.9zM299.6 96.7h.9v.9h-.9zM290.6 112.2h.9v.9h-.9zM295 110.5h.9v.9h-.9zM299.6 102h.9v.9h-.9zM302.2 93.7h.9v.9h-.9zM301 115.4h.9v.9h-.9zM294.3 114h.9v.9h-.9zM297.9 121.9h.9v.9h-.9zM298.6 104.4h.9v.9h-.9zM281.5 126.5h.9v.9h-.9zM293.7 102.4h.9v.9h-.9zM291.6 116.9h.9v.9h-.9zM281 126.5h.9v.9h-.9zM281 121.8h.9v.9h-.9zM298.7 111h.9v.9h-.9zM299.6 101.7h.9v.9h-.9zM292.8 104.7h.9v.9h-.9zM285.1 124.5h.9v.9h-.9zM288.6 113.2h.9v.9h-.9zM281 126.1h.9v.9h-.9zM303.5 90.8h.9v.9h-.9zM289.2 122.3h.9v.9h-.9zM281 125.7h.9v.9h-.9zM296.5 113.6h.9v.9h-.9zM297.2 116h.9v.9h-.9zM293.1 112h.9v.9h-.9zM297.2 109.2h.9v.9h-.9zM281.5 121.9h.9v.9h-.9zM292.7 114.5h.9v.9h-.9zM283.9 120.2h.9v.9h-.9zM289.4 118.4h.9v.9h-.9zM292.1 116.5h.9v.9h-.9zM294 107.2h.9v.9h-.9zM288.7 111.9h.9v.9h-.9zM296.1 112.7h.9v.9h-.9zM283 116.3h.9v.9h-.9zM296.2 107.4h.9v.9h-.9zM294.4 113.1h.9v.9h-.9zM298.1 110.8h.9v.9h-.9zM285.5 111.4h.9v.9h-.9zM289.6 115.2h.9v.9h-.9zM291.7 115.9h.9v.9h-.9zM294.8 116.4h.9v.9h-.9zM289.3 116.9h.9v.9h-.9zM296 118.8h.9v.9h-.9zM285 117.5h.9v.9h-.9zM292.8 116.4h.9v.9h-.9zM293.2 111.6h.9v.9h-.9zM281 119.5h.9v.9h-.9zM291.6 113.2h.9v.9h-.9zM305.9 98.9h.9v.9h-.9zM298.5 110.5h.9v.9h-.9zM284.8 116.6h.9v.9h-.9zM294.5 117.7h.9v.9h-.9zM298.7 103.1h.9v.9h-.9zM287.5 123.5h.9v.9h-.9zM298.2 101.3h.9v.9h-.9zM302.3 97.9h.9v.9h-.9zM298 105.7h.9v.9h-.9zM290 113.4h.9v.9h-.9zM299.5 107.7h.9v.9h-.9zM298.2 105.1h.9v.9h-.9zM292.8 122.8h.9v.9h-.9zM304.3 98.2h.9v.9h-.9zM289.4 123.9h.9v.9h-.9zM294.5 111.1h.9v.9h-.9zM299.9 106h.9v.9h-.9zM298.8 114.9h.9v.9h-.9zM282.5 126.5h.9v.9h-.9zM287.2 119.9h.9v.9h-.9zM293 113.8h.9v.9h-.9zM281 126.5h.9v.9h-.9zM307.9 92.9h.9v.9h-.9zM300.9 106.1h.9v.9h-.9zM294.3 108.7h.9v.9h-.9zM298.3 107.5h.9v.9h-.9zM305 102.2h.9v.9h-.9zM282.1 112h.9v.9h-.9zM304.6 101h.9v.9h-.9zM293.3 109.5h.9v.9h-.9zM313.1 94.8h.9v.9h-.9zM293.3 110.5h.9v.9h-.9zM300.4 110.1h.9v.9h-.9zM299.1 109.7h.9v.9h-.9zM296.1 110.6h.9v.9h-.9zM285.4 122.2h.9v.9h-.9zM293.7 111.5h.9v.9h-.9zM292.6 114.5h.9v.9h-.9zM289.2 116.2h.9v.9h-.9zM290.1 126.5h.9v.9h-.9zM284.8 116.7h.9v.9h-.9zM289 115.5h.9v.9h-.9zM281 115.8h.9v.9h-.9zM306.8 100.9h.9v.9h-.9zM292.3 116.1h.9v.9h-.9zM282.4 117.7h.9v.9h-.9zM297 110.5h.9v.9h-.9zM288.9 117.4h.9v.9h-.9zM281 126.5h.9v.9h-.9zM300.9 103.9h.9v.9h-.9zM296 111.7h.9v.9h-.9zM281 126.1h.9v.9h-.9zM285.6 122.6h.9v.9h-.9zM285 113.4h.9v.9h-.9zM299 104.6h.9v.9h-.9zM304.7 107.9h.9v.9h-.9zM281 122.7h.9v.9h-.9zM303.9 106.1h.9v.9h-.9zM297 109.5h.9v.9h-.9zM299.6 107.7h.9v.9h-.9zM286.7 123.6h.9v.9h-.9zM299.2 103.3h.9v.9h-.9zM286.3 118.3h.9v.9h-.9zM290.8 117.7h.9v.9h-.9zM298.7 105.9h.9v.9h-.9zM287.4 111h.9v.9h-.9zM288.4 113.5h.9v.9h-.9zM290.6 117.1h.9v.9h-.9zM302.6 117.4h.9v.9h-.9zM286.4 117.9h.9v.9h-.9zM285.2 120.7h.9v.9h-.9zM293.9 116.2h.9v.9h-.9zM282.5 126.5h.9v.9h-.9zM296.6 105.9h.9v.9h-.9zM289.4 117.9h.9v.9h-.9zM296.6 107.5h.9v.9h-.9zM292.5 113.3h.9v.9h-.9zM286.9 121.2h.9v.9h-.9zM297.5 107.5h.9v.9h-.9zM285.9 121.1h.9v.9h-.9zM293.5 113.5h.9v.9h-.9zM292.6 116.9h.9v.9h-.9zM302.6 104.9h.9v.9h-.9zM297.8 112.5h.9v.9h-.9zM292.8 112h.9v.9h-.9zM283.9 123.5h.9v.9h-.9zM299.5 100.5h.9v.9h-.9zM295.8 103.4h.9v.9h-.9zM299.6 113.1h.9v.9h-.9zM291.1 109.4h.9v.9h-.9zM295.1 109.5h.9v.9h-.9zM297.6 104.7h.9v.9h-.9zM281 125h.9v.9h-.9zM299.2 109.8h.9v.9h-.9zM299 110.8h.9v.9h-.9zM298.3 117.6h.9v.9h-.9zM299.9 114.4h.9v.9h-.9zM293.9 112.9h.9v.9h-.9zM304.3 106h.9v.9h-.9zM296.5 118.8h.9v.9h-.9zM291.7 119.2h.9v.9h-.9zM302 107.1h.9v.9h-.9zM302.5 107.7h.9v.9h-.9zM297.1 115.3h.9v.9h-.9zM297.4 118.2h.9v.9h-.9zM303 108.4h.9v.9h-.9zM301.5 111.6h.9v.9h-.9zM303 103h.9v.9h-.9zM304 109.9h.9v.9h-.9zM296.6 115.8h.9v.9h-.9zM298.4 117.6h.9v.9h-.9zM293.8 121h.9v.9h-.9zM304.6 108h.9v.9h-.9zM295.1 116.1h.9v.9h-.9zM286.8 124.1h.9v.9h-.9zM301.4 107h.9v.9h-.9zM290.2 122.5h.9v.9h-.9zM292 122.7h.9v.9h-.9zM295.5 120h.9v.9h-.9zM295.2 112.9h.9v.9h-.9zM293.5 117.4h.9v.9h-.9zM296.1 120.3h.9v.9h-.9zM294 120h.9v.9h-.9zM296.3 118h.9v.9h-.9zM289.1 119.7h.9v.9h-.9zM302.5 113.3h.9v.9h-.9zM291.2 121.1h.9v.9h-.9zM294.2 115.6h.9v.9h-.9zM302.4 109h.9v.9h-.9zM291.4 121.2h.9v.9h-.9zM302.8 106h.9v.9h-.9zM294.3 115.8h.9v.9h-.9zM297.8 112.5h.9v.9h-.9zM300.6 108.2h.9v.9h-.9zM292.1 122.5h.9v.9h-.9zM282.2 126.5h.9v.9h-.9zM299.6 112.9h.9v.9h-.9zM294.7 116.6h.9v.9h-.9zM306.2 116.3h.9v.9h-.9zM294.1 118.2h.9v.9h-.9zM296.8 117.3h.9v.9h-.9zM298.9 114.8h.9v.9h-.9zM304.8 105h.9v.9h-.9zM297.3 116.2h.9v.9h-.9zM306.8 102.4h.9v.9h-.9zM307.4 106.7h.9v.9h-.9zM284.1 126.5h.9v.9h-.9zM294.2 119.9h.9v.9h-.9zM304 107.1h.9v.9h-.9zM302.1 116.1h.9v.9h-.9zM303 115.1h.9v.9h-.9zM296.6 121.1h.9v.9h-.9zM291.8 113.6h.9v.9h-.9zM293.5 117.9h.9v.9h-.9zM299 115.3h.9v.9h-.9zM301.9 111.1h.9v.9h-.9zM297.4 120.5h.9v.9h-.9zM303.4 107.7h.9v.9h-.9zM295.3 117.1h.9v.9h-.9zM295.9 114.4h.9v.9h-.9zM296.9 113.3h.9v.9h-.9zM299.8 109.8h.9v.9h-.9zM300.7 111.9h.9v.9h-.9zM299.5 113.9h.9v.9h-.9zM297.4 123h.9v.9h-.9zM296 118.8h.9v.9h-.9zM297.4 113.4h.9v.9h-.9zM307.5 106.3h.9v.9h-.9zM297.6 116.3h.9v.9h-.9zM303.5 112.6h.9v.9h-.9zM302.3 108.4h.9v.9h-.9zM295 113.9h.9v.9h-.9zM300.5 113.8h.9v.9h-.9zM297.3 117.1h.9v.9h-.9zM297.8 112.8h.9v.9h-.9zM294.3 122.1h.9v.9h-.9zM310.2 101.3h.9v.9h-.9zM291.5 118.5h.9v.9h-.9zM300.1 113.6h.9v.9h-.9zM301 102.7h.9v.9h-.9zM306.5 104.4h.9v.9h-.9zM299.2 113.9h.9v.9h-.9zM295.9 115.6h.9v.9h-.9zM316.7 98.8h.9v.9h-.9zM316.2 110.3h.9v.9h-.9zM307 113.2h.9v.9h-.9zM323.8 104h.9v.9h-.9zM320.6 108h.9v.9h-.9zM317.4 108.5h.9v.9h-.9zM311 110.2h.9v.9h-.9zM321.8 97.7h.9v.9h-.9zM311.8 104.5h.9v.9h-.9zM311.1 107.4h.9v.9h-.9zM310 113.1h.9v.9h-.9zM312.1 113.1h.9v.9h-.9zM318.5 93.5h.9v.9h-.9zM309.9 101.8h.9v.9h-.9zM315.7 109.7h.9v.9h-.9zM319.3 111.3h.9v.9h-.9zM312.3 101.9h.9v.9h-.9zM320.7 99.8h.9v.9h-.9zM315.8 109.5h.9v.9h-.9zM311.4 111.4h.9v.9h-.9zM319 97.4h.9v.9h-.9zM306.3 112.4h.9v.9h-.9zM311.8 104.5h.9v.9h-.9zM306.3 119h.9v.9h-.9zM314.4 102.4h.9v.9h-.9zM318.2 105.9h.9v.9h-.9zM313.2 103.2h.9v.9h-.9zM315.5 110.4h.9v.9h-.9zM304.5 110.7h.9v.9h-.9zM324.8 111.3h.9v.9h-.9zM318.6 105.6h.9v.9h-.9zM309.2 110.5h.9v.9h-.9zM315.3 110.4h.9v.9h-.9zM319.9 117h.9v.9h-.9zM317 96.3h.9v.9h-.9zM309.7 112.1h.9v.9h-.9zM321.3 106h.9v.9h-.9zM298.2 112.2h.9v.9h-.9zM323.5 105.4h.9v.9h-.9zM329.9 101.9h.9v.9h-.9zM321.3 111.5h.9v.9h-.9zM312.1 107.8h.9v.9h-.9zM311.1 112.4h.9v.9h-.9zM319.8 109.6h.9v.9h-.9zM324.1 105.1h.9v.9h-.9zM321 103h.9v.9h-.9zM312.4 113.8h.9v.9h-.9zM323.6 109h.9v.9h-.9zM313.6 107.1h.9v.9h-.9zM314.5 110.5h.9v.9h-.9zM314.8 107.6h.9v.9h-.9zM316.1 106.2h.9v.9h-.9zM315.8 104.9h.9v.9h-.9zM307.2 112.4h.9v.9h-.9zM323 98.9h.9v.9h-.9zM323.1 109.3h.9v.9h-.9zM313.4 110.8h.9v.9h-.9zM305.6 117.8h.9v.9h-.9zM323.5 103.4h.9v.9h-.9zM304.4 113h.9v.9h-.9zM312.1 111h.9v.9h-.9zM316 105.7h.9v.9h-.9zM312.1 106.4h.9v.9h-.9zM318.8 106.7h.9v.9h-.9zM316.1 105.2h.9v.9h-.9zM317.3 105.4h.9v.9h-.9zM316.6 106.5h.9v.9h-.9zM309.7 106.7h.9v.9h-.9zM303.2 110h.9v.9h-.9zM325.3 117.2h.9v.9h-.9zM305.5 111h.9v.9h-.9zM323.7 119.8h.9v.9h-.9zM311.8 104.9h.9v.9h-.9zM322.4 113.5h.9v.9h-.9zM299 113.8h.9v.9h-.9zM318.9 99.9h.9v.9h-.9zM313.5 106.3h.9v.9h-.9zM315.9 100.6h.9v.9h-.9zM317.5 107.7h.9v.9h-.9zM319.3 107.5h.9v.9h-.9zM312.2 101.6h.9v.9h-.9zM311.7 106h.9v.9h-.9zM317.6 105.4h.9v.9h-.9zM318.8 111.2h.9v.9h-.9zM318.9 114h.9v.9h-.9zM316.2 100.2h.9v.9h-.9zM315.5 114.1h.9v.9h-.9zM315.8 113.7h.9v.9h-.9zM312.5 109.6h.9v.9h-.9zM316.9 99.3h.9v.9h-.9zM314.8 106.3h.9v.9h-.9zM320.3 113.1h.9v.9h-.9zM314.8 101.9h.9v.9h-.9zM319.2 103.2h.9v.9h-.9zM319 111.3h.9v.9h-.9zM316.2 112.3h.9v.9h-.9zM314.3 104.4h.9v.9h-.9zM310.8 104.6h.9v.9h-.9zM321.7 104.5h.9v.9h-.9zM317.7 101h.9v.9h-.9zM316.9 101.1h.9v.9h-.9zM316.9 107h.9v.9h-.9zM313.3 111.1h.9v.9h-.9zM313.7 105h.9v.9h-.9zM308.8 106.2h.9v.9h-.9zM322.6 103.8h.9v.9h-.9zM315.3 111.6h.9v.9h-.9zM308.6 107.1h.9v.9h-.9zM320.9 112.1h.9v.9h-.9zM317.3 107.5h.9v.9h-.9zM320.5 96.9h.9v.9h-.9zM328 93.8h.9v.9h-.9zM312 103.8h.9v.9h-.9zM309 111.4h.9v.9h-.9zM325.3 96.5h.9v.9h-.9zM313.1 111h.9v.9h-.9zM309.9 110.7h.9v.9h-.9zM314.5 97.9h.9v.9h-.9zM313.3 108.1h.9v.9h-.9zM312.7 109.4h.9v.9h-.9zM305.6 112.7h.9v.9h-.9zM310.5 106.4h.9v.9h-.9zM326.4 110.3h.9v.9h-.9zM317.4 102.4h.9v.9h-.9zM323.7 104.8h.9v.9h-.9zM312.9 112.8h.9v.9h-.9zM314 111.9h.9v.9h-.9zM322.7 108.7h.9v.9h-.9zM310 111.2h.9v.9h-.9zM312.7 103.9h.9v.9h-.9zM319.2 108.9h.9v.9h-.9zM307.4 110.9h.9v.9h-.9zM307.1 107.6h.9v.9h-.9zM313.5 116.3h.9v.9h-.9zM311.3 109h.9v.9h-.9zM322.8 108h.9v.9h-.9zM317.6 96.2h.9v.9h-.9zM315.1 99.5h.9v.9h-.9zM311.4 108.8h.9v.9h-.9zM317.3 116.5h.9v.9h-.9zM317.4 112.5h.9v.9h-.9zM314.5 108.4h.9v.9h-.9zM319 107.7h.9v.9h-.9zM313.9 100.5h.9v.9h-.9zM318.7 107.3h.9v.9h-.9zM318.3 105.8h.9v.9h-.9zM314.5 102.2h.9v.9h-.9zM318.2 100h.9v.9h-.9zM324.8 106.6h.9v.9h-.9zM314.5 107.2h.9v.9h-.9zM318.6 104.3h.9v.9h-.9zM310.3 113h.9v.9h-.9zM308.4 110.7h.9v.9h-.9zM326.2 104.5h.9v.9h-.9zM313.1 109.3h.9v.9h-.9zM312.3 110.2h.9v.9h-.9zM310 115.3h.9v.9h-.9zM314.1 105.9h.9v.9h-.9zM318.6 118.9h.9v.9h-.9zM312.2 107.9h.9v.9h-.9zM311.5 108.4h.9v.9h-.9zM323.5 105.8h.9v.9h-.9zM318.4 107.8h.9v.9h-.9zM304.3 103.8h.9v.9h-.9zM324.6 105.2h.9v.9h-.9zM317.2 108.2h.9v.9h-.9zM316.5 107.4h.9v.9h-.9zM309 101.5h.9v.9h-.9zM318.4 106.2h.9v.9h-.9zM321 105.7h.9v.9h-.9zM315.5 111h.9v.9h-.9zM315.4 105.9h.9v.9h-.9zM312.7 107.9h.9v.9h-.9zM313 107.5h.9v.9h-.9zM327.2 114.4h.9v.9h-.9zM317.6 112.1h.9v.9h-.9zM298.2 104h.9v.9h-.9zM312.8 109.1h.9v.9h-.9zM308.7 106h.9v.9h-.9zM310.1 109.2h.9v.9h-.9zM315.5 106.3h.9v.9h-.9zM308.7 110.9h.9v.9h-.9zM320.9 99.8h.9v.9h-.9zM318.2 111.1h.9v.9h-.9zM310.2 108.9h.9v.9h-.9zM332.6 102.2h.9v.9h-.9zM313.3 110.3h.9v.9h-.9zM316.3 108.1h.9v.9h-.9zM317.1 105.4h.9v.9h-.9zM302.3 112.4h.9v.9h-.9zM313 102.9h.9v.9h-.9zM317.4 114.1h.9v.9h-.9zM315.1 105h.9v.9h-.9zM318.6 111h.9v.9h-.9zM304.2 109.7h.9v.9h-.9zM311.2 108.8h.9v.9h-.9zM313.7 106.4h.9v.9h-.9zM316.2 107.9h.9v.9h-.9zM308.3 109.9h.9v.9h-.9zM310.1 113.2h.9v.9h-.9zM318.3 109.3h.9v.9h-.9zM310 109.2h.9v.9h-.9zM304.6 115.7h.9v.9h-.9zM308.4 114.7h.9v.9h-.9zM321.8 105.8h.9v.9h-.9zM319.1 106.6h.9v.9h-.9zM319.5 109.9h.9v.9h-.9zM326.4 110.4h.9v.9h-.9zM316.1 111.7h.9v.9h-.9zM320.8 106.4h.9v.9h-.9zM313.9 102.9h.9v.9h-.9zM318.8 101.3h.9v.9h-.9zM310.3 107.4h.9v.9h-.9zM316 102.8h.9v.9h-.9zM319.1 108.3h.9v.9h-.9zM315.2 106.5h.9v.9h-.9zM321.5 110.3h.9v.9h-.9zM310.8 106.1h.9v.9h-.9zM310.5 107.1h.9v.9h-.9zM314 108.3h.9v.9h-.9zM307.6 120.8h.9v.9h-.9zM310.5 109.4h.9v.9h-.9zM301.3 108.1h.9v.9h-.9zM311.1 112.3h.9v.9h-.9zM315.4 99h.9v.9h-.9zM320.1 112.3h.9v.9h-.9zM316.3 112h.9v.9h-.9zM314.9 103.8h.9v.9h-.9zM318.9 102.6h.9v.9h-.9zM316.3 105.4h.9v.9h-.9zM314.8 109.3h.9v.9h-.9zM318 97.8h.9v.9h-.9zM310.3 112.2h.9v.9h-.9zM319.8 104h.9v.9h-.9zM315.8 110.4h.9v.9h-.9zM321.1 99.6h.9v.9h-.9zM307 112.5h.9v.9h-.9zM316.2 101h.9v.9h-.9zM323.2 107.3h.9v.9h-.9zM317.4 102.5h.9v.9h-.9zM310.7 114.6h.9v.9h-.9zM318.4 109.4h.9v.9h-.9zM302 102.8h.9v.9h-.9zM323.3 107.5h.9v.9h-.9zM314.1 108.9h.9v.9h-.9zM319.5 108.9h.9v.9h-.9zM313.4 106.9h.9v.9h-.9zM313.1 114.8h.9v.9h-.9zM308 96.3h.9v.9h-.9zM315.8 104.9h.9v.9h-.9zM308.1 110.7h.9v.9h-.9zM308.2 110.9h.9v.9h-.9zM314 111.6h.9v.9h-.9zM306.3 105.4h.9v.9h-.9zM309.3 105.5h.9v.9h-.9zM318.6 104.8h.9v.9h-.9zM305.2 110.8h.9v.9h-.9zM315.3 108h.9v.9h-.9zM306.2 113.9h.9v.9h-.9zM319.2 110.3h.9v.9h-.9zM320.6 103.8h.9v.9h-.9zM308.2 111.2h.9v.9h-.9zM316.5 102.7h.9v.9h-.9zM319.4 100.5h.9v.9h-.9zM311.9 114.6h.9v.9h-.9zM315.7 109.4h.9v.9h-.9zM314.1 109.1h.9v.9h-.9zM317.1 116.3h.9v.9h-.9zM318.4 105.3h.9v.9h-.9zM319.8 109.2h.9v.9h-.9zM313.3 110.4h.9v.9h-.9zM315.2 105.4h.9v.9h-.9zM311.2 110h.9v.9h-.9zM313.1 107.7h.9v.9h-.9zM306.1 114.9h.9v.9h-.9zM318.9 106h.9v.9h-.9zM325.9 105h.9v.9h-.9zM312.2 107h.9v.9h-.9zM317.1 105h.9v.9h-.9zM307.8 114h.9v.9h-.9z" fill="#c21e1e" fill-opacity=".7"/><path d="M314.5 90h.9v.9h-.9zM319.4 91.9h.9v.9h-.9zM321.1 89.8h.9v.9h-.9zM315.9 90.1h.9v.9h-.9zM314.3 91.5h.9v.9h-.9zM318.9 90.7h.9v.9h-.9zM312 94.2h.9v.9h-.9zM316.2 89.6h.9v.9h-.9zM318.4 92h.9v.9h-.9zM314 90.2h.9v.9h-.9zM317.4 92h.9v.9h-.9zM318.9 94.1h.9v.9h-.9zM317.3 89.1h.9v.9h-.9zM319.3 88.7h.9v.9h-.9zM319.8 90.2h.9v.9h-.9zM320.1 87.5h.9v.9h-.9zM320.3 90.7h.9v.9h-.9zM316.4 93.6h.9v.9h-.9zM324.1 88.3h.9v.9h-.9zM315.9 91.9h.9v.9h-.9zM321.6 89.5h.9v.9h-.9zM321.1 87.7h.9v.9h-.9zM319.8 86.3h.9v.9h-.9zM317.3 90.8h.9v.9h-.9zM317.9 93.9h.9v.9h-.9zM316.8 92.5h.9v.9h-.9zM323.6 89.7h.9v.9h-.9zM316.2 90.4h.9v.9h-.9zM313.2 94.6h.9v.9h-.9zM321.4 91.6h.9v.9h-.9zM320.8 94.4h.9v.9h-.9zM317.7 85.9h.9v.9h-.9zM316.5 93.7h.9v.9h-.9zM317.8 93.1h.9v.9h-.9zM323.8 85.9h.9v.9h-.9zM323.6 87.6h.9v.9h-.9zM314.3 93.4h.9v.9h-.9zM319.7 88.7h.9v.9h-.9zM321.2 87.2h.9v.9h-.9zM318.4 92.9h.9v.9h-.9zM316.9 90.4h.9v.9h-.9zM318.6 92.2h.9v.9h-.9zM323.8 90.8h.9v.9h-.9zM322.8 88.2h.9v.9h-.9zM313.7 93.4h.9v.9h-.9zM315.9 89.9h.9v.9h-.9zM316.6 91.7h.9v.9h-.9zM319 92.5h.9v.9h-.9zM316.8 94.4h.9v.9h-.9zM318.8 92.2h.9v.9h-.9zM320 87h.9v.9h-.9zM321.4 87.4h.9v.9h-.9zM320.1 92.3h.9v.9h-.9zM318.8 86.9h.9v.9h-.9zM319.5 92.7h.9v.9h-.9zM317.6 91.1h.9v.9h-.9zM319.8 93.7h.9v.9h-.9zM315.6 90.2h.9v.9h-.9zM314.6 91.7h.9v.9h-.9zM317.7 92h.9v.9h-.9zM316.1 88.2h.9v.9h-.9zM314.6 94.5h.9v.9h-.9zM318.5 87.6h.9v.9h-.9zM318 85.4h.9v.9h-.9zM324.6 88.6h.9v.9h-.9zM314.2 94.4h.9v.9h-.9zM317.4 90.3h.9v.9h-.9zM316.8 91.2h.9v.9h-.9zM316.8 89.6h.9v.9h-.9zM317.1 92.8h.9v.9h-.9zM318 87.9h.9v.9h-.9zM318.3 94.5h.9v.9h-.9zM321.5 92.8h.9v.9h-.9zM313.5 91.2h.9v.9h-.9zM310.4 90.9h.9v.9h-.9zM316 89.7h.9v.9h-.9zM314.5 91.4h.9v.9h-.9zM318.3 92.7h.9v.9h-.9zM317.7 87.1h.9v.9h-.9zM321.5 88.2h.9v.9h-.9zM295.6 112h.9v.9h-.9zM293.1 112.3h.9v.9h-.9zM294.3 110.2h.9v.9h-.9zM290.6 115.8h.9v.9h-.9zM295.5 108h.9v.9h-.9zM293 110.5h.9v.9h-.9zM289.4 117.1h.9v.9h-.9zM285.7 118.6h.9v.9h-.9zM286.6 118.3h.9v.9h-.9zM291.7 120.3h.9v.9h-.9zM294.4 110.8h.9v.9h-.9zM283.6 116.9h.9v.9h-.9zM292.8 110.8h.9v.9h-.9zM295.5 108.3h.9v.9h-.9zM286.1 118.8h.9v.9h-.9zM284.2 118.9h.9v.9h-.9zM294 109.7h.9v.9h-.9zM293.9 109.7h.9v.9h-.9zM290.3 114h.9v.9h-.9zM289 115.3h.9v.9h-.9zM297.6 106.6h.9v.9h-.9zM286.8 124.4h.9v.9h-.9zM298.3 109.1h.9v.9h-.9zM291.4 113.8h.9v.9h-.9zM290.3 115.9h.9v.9h-.9zM293.8 111.4h.9v.9h-.9zM287.5 116.2h.9v.9h-.9zM300.6 107.8h.9v.9h-.9zM286.4 118.5h.9v.9h-.9zM292.6 114.4h.9v.9h-.9zM291.9 114.3h.9v.9h-.9zM294.9 113.2h.9v.9h-.9zM288.4 120.7h.9v.9h-.9zM294.4 112.1h.9v.9h-.9zM285.9 120.2h.9v.9h-.9zM291.8 115.5h.9v.9h-.9zM295.5 111.2h.9v.9h-.9zM288.7 120.9h.9v.9h-.9zM293.5 114.3h.9v.9h-.9zM291 112.8h.9v.9h-.9zM302.9 102.3h.9v.9h-.9zM294.3 109.5h.9v.9h-.9zM292.6 115.8h.9v.9h-.9zM296 113.5h.9v.9h-.9zM295.1 106.8h.9v.9h-.9zM287.6 121.9h.9v.9h-.9zM293.9 110.5h.9v.9h-.9zM290.1 114.3h.9v.9h-.9zM298.6 105.2h.9v.9h-.9zM287.9 120.9h.9v.9h-.9zM292.1 114.4h.9v.9h-.9zM290.4 115.3h.9v.9h-.9zM285.4 122.8h.9v.9h-.9zM288.8 116.3h.9v.9h-.9zM294.9 113.6h.9v.9h-.9zM283.5 123.3h.9v.9h-.9zM295.4 112.2h.9v.9h-.9zM288.9 118.1h.9v.9h-.9zM294.7 112.8h.9v.9h-.9zM289.3 116.2h.9v.9h-.9zM291.5 117.2h.9v.9h-.9zM295.5 108.1h.9v.9h-.9zM291.7 114.4h.9v.9h-.9zM288.3 117.6h.9v.9h-.9zM296.3 110.5h.9v.9h-.9zM288.5 116h.9v.9h-.9zM289.6 112.5h.9v.9h-.9zM293.3 112.3h.9v.9h-.9zM286.5 119.4h.9v.9h-.9zM289 116.3h.9v.9h-.9zM290.4 119.1h.9v.9h-.9zM289.2 118.9h.9v.9h-.9zM294.7 114.2h.9v.9h-.9zM291.7 113.9h.9v.9h-.9zM289.7 111.2h.9v.9h-.9zM300.9 102.3h.9v.9h-.9zM289.2 113.8h.9v.9h-.9zM293.5 116h.9v.9h-.9zM289.6 117.5h.9v.9h-.9zM297.2 109.9h.9v.9h-.9zM288.1 113.5h.9v.9h-.9zM294.3 112.4h.9v.9h-.9zM290.1 114.6h.9v.9h-.9zM296.6 103.8h.9v.9h-.9zM289.2 115.3h.9v.9h-.9zM285 120h.9v.9h-.9zM290.5 118.6h.9v.9h-.9zM283.4 120.1h.9v.9h-.9zM290.9 110.7h.9v.9h-.9zM283.4 122.1h.9v.9h-.9zM286 118.1h.9v.9h-.9zM291.9 114.8h.9v.9h-.9zM289.1 116.3h.9v.9h-.9zM294.5 110.2h.9v.9h-.9zM294 109.6h.9v.9h-.9zM295.5 112.8h.9v.9h-.9zM290.6 123.2h.9v.9h-.9zM290.3 114.7h.9v.9h-.9zM291.9 114.8h.9v.9h-.9zM287.3 119.2h.9v.9h-.9zM291.6 117.8h.9v.9h-.9zM286.2 122.2h.9v.9h-.9zM289.8 114.2h.9v.9h-.9zM292.2 112.7h.9v.9h-.9zM292.4 113.7h.9v.9h-.9zM296 107.6h.9v.9h-.9zM294.8 103h.9v.9h-.9zM300.6 106.6h.9v.9h-.9zM298.2 106.7h.9v.9h-.9zM291.7 111.2h.9v.9h-.9zM295.6 106.2h.9v.9h-.9zM288.9 117.2h.9v.9h-.9zM293.3 112.9h.9v.9h-.9zM287 118.6h.9v.9h-.9zM295.4 112.7h.9v.9h-.9zM295.4 110.5h.9v.9h-.9zM290.2 114.2h.9v.9h-.9zM289.8 115.8h.9v.9h-.9zM293.3 110.6h.9v.9h-.9zM298.6 103.1h.9v.9h-.9zM294.8 109.6h.9v.9h-.9zM290.9 113.8h.9v.9h-.9zM297.5 106.2h.9v.9h-.9zM294.2 111.2h.9v.9h-.9zM295.6 110.8h.9v.9h-.9zM297.3 105.2h.9v.9h-.9zM291 119.2h.9v.9h-.9zM296.9 107.8h.9v.9h-.9zM291.2 115.2h.9v.9h-.9zM296 106.8h.9v.9h-.9zM297.5 106.9h.9v.9h-.9zM290 114.8h.9v.9h-.9zM284.3 123.6h.9v.9h-.9zM286.2 119h.9v.9h-.9zM288.8 118h.9v.9h-.9zM294.8 110.3h.9v.9h-.9zM293.2 113.2h.9v.9h-.9zM298.9 106.9h.9v.9h-.9zM297.9 106.3h.9v.9h-.9zM292.5 111.3h.9v.9h-.9z" fill="#c81212" fill-opacity=".8"/></g><path d="M280.5 73.6H342.9V127.8" fill="none" stroke="#5a5a5a" stroke-width="1"/><path d="M280.5 73.6V127.8H342.9" fill="none" stroke="#1a1a1a" stroke-width="1.3"/><path d="M279.2 123.9h1.3M285 127.8v1.3M279.2 120.1h1.3M289.4 127.8v1.3M279.2 116.2h1.3M293.9 127.8v1.3M279.2 112.3h1.3M298.3 127.8v1.3M279.2 108.4h1.3M302.8 127.8v1.3M279.2 104.6h1.3M307.2 127.8v1.3M279.2 100.7h1.3M311.7 127.8v1.3M279.2 96.8h1.3M316.2 127.8v1.3M279.2 93h1.3M320.6 127.8v1.3M279.2 89.1h1.3M325.1 127.8v1.3M279.2 85.2h1.3M329.5 127.8v1.3M279.2 81.3h1.3M334 127.8v1.3M279.2 77.5h1.3M338.4 127.8v1.3" stroke="#222" stroke-width=".6"/><line x1="307.6" y1="73.6" x2="307.6" y2="127.8" stroke="#303030" stroke-width="1.05"/><line x1="280.5" y1="99.2" x2="342.9" y2="99.2" stroke="#303030" stroke-width="1.05"/><text x="331.3" y="79.8" font-size="6.1" fill="#151515" stroke="#151515" stroke-width=".15" textLength="11.3" lengthAdjust="spacingAndGlyphs">23.4</text><g filter="url(#bl)"><path d="M399.9 93.3h.9v.9h-.9zM405.9 97.1h.9v.9h-.9zM410 93.9h.9v.9h-.9zM398 91.5h.9v.9h-.9zM398.9 95.3h.9v.9h-.9zM402.2 93.4h.9v.9h-.9zM399.6 93.4h.9v.9h-.9zM401.8 97.8h.9v.9h-.9zM405.2 98.2h.9v.9h-.9zM405.9 96.8h.9v.9h-.9zM407.1 96.1h.9v.9h-.9zM408.3 97.7h.9v.9h-.9zM409.3 95.5h.9v.9h-.9zM400.4 100.9h.9v.9h-.9zM402.1 96.2h.9v.9h-.9zM401.7 93.4h.9v.9h-.9zM404.5 92.4h.9v.9h-.9zM402.5 98.3h.9v.9h-.9zM403.5 96.9h.9v.9h-.9zM405.2 95.9h.9v.9h-.9zM403.4 96.4h.9v.9h-.9zM399.7 96.4h.9v.9h-.9zM399.3 93.2h.9v.9h-.9zM401 91.9h.9v.9h-.9zM396.2 95.9h.9v.9h-.9zM404.8 96.6h.9v.9h-.9zM410.7 95.4h.9v.9h-.9zM405.6 93.2h.9v.9h-.9zM405.5 92.3h.9v.9h-.9zM409.8 92.7h.9v.9h-.9zM400.2 118.3h.9v.9h-.9zM387.9 123.4h.9v.9h-.9zM396.5 113.7h.9v.9h-.9zM409.8 113.3h.9v.9h-.9zM409.5 107.8h.9v.9h-.9zM407.2 93.6h.9v.9h-.9zM413.5 106.4h.9v.9h-.9zM397.1 112.2h.9v.9h-.9zM414.8 106h.9v.9h-.9zM402.9 109h.9v.9h-.9zM396.6 100.9h.9v.9h-.9zM407.1 118h.9v.9h-.9zM397.9 113.9h.9v.9h-.9zM406.1 115.2h.9v.9h-.9zM401.9 112.4h.9v.9h-.9zM404.9 103h.9v.9h-.9zM402 118.7h.9v.9h-.9zM399.2 123.1h.9v.9h-.9zM401.4 102.7h.9v.9h-.9zM401 100.5h.9v.9h-.9zM407.2 98.5h.9v.9h-.9zM403.1 110h.9v.9h-.9zM400.9 115.6h.9v.9h-.9zM405 107.3h.9v.9h-.9zM408.7 108.2h.9v.9h-.9zM409.2 123.4h.9v.9h-.9zM405.6 119.9h.9v.9h-.9zM393.8 116.8h.9v.9h-.9zM392.7 110.5h.9v.9h-.9zM407.8 89.3h.9v.9h-.9zM397.6 105.5h.9v.9h-.9zM396.5 112.2h.9v.9h-.9zM407.4 102.2h.9v.9h-.9zM398.7 96.3h.9v.9h-.9zM398.2 94.3h.9v.9h-.9zM392.6 116h.9v.9h-.9zM409.1 105.1h.9v.9h-.9zM405.4 105.4h.9v.9h-.9zM410.4 126.5h.9v.9h-.9zM386 104.7h.9v.9h-.9zM398.6 108h.9v.9h-.9zM413.8 125.3h.9v.9h-.9zM402.9 117.4h.9v.9h-.9zM392 109.5h.9v.9h-.9zM401 110.7h.9v.9h-.9zM405.1 98.8h.9v.9h-.9zM395.8 126.5h.9v.9h-.9zM391 112.5h.9v.9h-.9zM408 116.2h.9v.9h-.9zM403.4 98.3h.9v.9h-.9zM399.8 98.8h.9v.9h-.9zM416.6 115.1h.9v.9h-.9zM408 113.7h.9v.9h-.9zM400.3 122h.9v.9h-.9zM409.1 117.4h.9v.9h-.9zM407 118.3h.9v.9h-.9zM401.1 115.7h.9v.9h-.9zM403.6 109.9h.9v.9h-.9zM407.5 126.5h.9v.9h-.9zM389 124.2h.9v.9h-.9zM375.8 113.5h.9v.9h-.9zM380 110.5h.9v.9h-.9zM388.8 110.5h.9v.9h-.9zM385.1 113.2h.9v.9h-.9zM376.6 122h.9v.9h-.9zM387.6 100.4h.9v.9h-.9zM381.4 119.6h.9v.9h-.9zM379.6 110.5h.9v.9h-.9zM383.7 104.1h.9v.9h-.9zM379 105.2h.9v.9h-.9zM386.4 120.4h.9v.9h-.9zM377.5 120.4h.9v.9h-.9zM380.3 117h.9v.9h-.9zM374.5 120.1h.9v.9h-.9zM382.3 125.9h.9v.9h-.9zM375 110.5h.9v.9h-.9zM384.8 106.7h.9v.9h-.9zM384.5 122.1h.9v.9h-.9zM373.2 118.9h.9v.9h-.9zM375.5 107.1h.9v.9h-.9zM376.7 120.2h.9v.9h-.9zM382.1 110h.9v.9h-.9zM383 121.1h.9v.9h-.9zM373.7 122.5h.9v.9h-.9zM379.9 116.5h.9v.9h-.9zM386.3 105.6h.9v.9h-.9zM378.9 118.4h.9v.9h-.9zM370.3 110.2h.9v.9h-.9zM380.3 111.7h.9v.9h-.9zM379.6 121.8h.9v.9h-.9zM372.2 118.7h.9v.9h-.9zM375.4 102.2h.9v.9h-.9zM378.8 103.4h.9v.9h-.9zM378.7 104.4h.9v.9h-.9zM378.4 103.6h.9v.9h-.9zM388.9 105.4h.9v.9h-.9zM378.4 115.7h.9v.9h-.9zM382.8 103.4h.9v.9h-.9zM386.1 109.7h.9v.9h-.9zM371.6 111.2h.9v.9h-.9zM381.8 109.4h.9v.9h-.9zM383.8 108.1h.9v.9h-.9zM385.5 124.3h.9v.9h-.9zM385.5 101.6h.9v.9h-.9zM378 113.8h.9v.9h-.9zM377.3 104.8h.9v.9h-.9zM381.2 103.1h.9v.9h-.9zM373.2 110.9h.9v.9h-.9zM388.9 110h.9v.9h-.9zM388.3 117.5h.9v.9h-.9zM382.3 123.8h.9v.9h-.9zM381.1 119.2h.9v.9h-.9zM379 120.7h.9v.9h-.9zM386.6 100h.9v.9h-.9zM387.8 100.8h.9v.9h-.9zM382.2 101.9h.9v.9h-.9zM384.4 111.3h.9v.9h-.9zM372.6 121.9h.9v.9h-.9zM374.7 123.4h.9v.9h-.9zM377.3 114.5h.9v.9h-.9zM378.5 119.8h.9v.9h-.9zM376.7 113.3h.9v.9h-.9zM374.4 108.8h.9v.9h-.9zM372.1 106.8h.9v.9h-.9zM375.3 117.9h.9v.9h-.9zM372.8 104h.9v.9h-.9zM388.5 116.7h.9v.9h-.9zM371.6 122.5h.9v.9h-.9zM384.4 115.8h.9v.9h-.9zM388.3 113.9h.9v.9h-.9zM372.6 100.3h.9v.9h-.9zM371.7 112.1h.9v.9h-.9zM380.5 121.7h.9v.9h-.9zM371.3 101.8h.9v.9h-.9zM371.8 109.5h.9v.9h-.9zM387.8 120.3h.9v.9h-.9zM370.8 115.4h.9v.9h-.9zM373.4 105.8h.9v.9h-.9zM376.1 106.4h.9v.9h-.9zM375.6 105.8h.9v.9h-.9zM376.5 115.4h.9v.9h-.9zM380.7 119h.9v.9h-.9zM375.3 100.7h.9v.9h-.9zM380.9 108.1h.9v.9h-.9zM374 110.6h.9v.9h-.9zM388 115.6h.9v.9h-.9zM383.6 101.1h.9v.9h-.9zM380.3 118.2h.9v.9h-.9zM386.4 119.8h.9v.9h-.9zM371 125.7h.9v.9h-.9zM370.3 120h.9v.9h-.9zM378.9 124.1h.9v.9h-.9zM388 119.4h.9v.9h-.9zM371.6 116.8h.9v.9h-.9zM372.2 111h.9v.9h-.9zM372.5 107.8h.9v.9h-.9zM371 114h.9v.9h-.9zM371.7 106.3h.9v.9h-.9zM384.8 107.6h.9v.9h-.9zM381 122.5h.9v.9h-.9zM382.1 121.3h.9v.9h-.9zM387.7 106.4h.9v.9h-.9zM373.5 125.9h.9v.9h-.9zM387.4 108.4h.9v.9h-.9zM387.6 102.2h.9v.9h-.9zM374.3 122.5h.9v.9h-.9zM372 122.4h.9v.9h-.9zM374.2 120h.9v.9h-.9zM372.4 113h.9v.9h-.9zM380.9 114.5h.9v.9h-.9zM412.2 112.2h.9v.9h-.9zM416.5 125.3h.9v.9h-.9zM399.1 105.2h.9v.9h-.9zM408.1 100.6h.9v.9h-.9zM394.8 101.9h.9v.9h-.9zM400.3 111.5h.9v.9h-.9zM397.5 117.9h.9v.9h-.9zM413.2 121.6h.9v.9h-.9zM407.3 119.6h.9v.9h-.9zM414.3 118.9h.9v.9h-.9zM400.9 115h.9v.9h-.9zM415.1 106.4h.9v.9h-.9zM402 100.3h.9v.9h-.9zM408.8 103h.9v.9h-.9zM404.5 104.9h.9v.9h-.9zM395.2 123.1h.9v.9h-.9zM401.2 124.9h.9v.9h-.9zM412.7 115.3h.9v.9h-.9zM405.6 116.9h.9v.9h-.9zM414.7 104.9h.9v.9h-.9zM407.1 107h.9v.9h-.9zM397.2 105.7h.9v.9h-.9zM414.1 124.3h.9v.9h-.9zM404.1 104.5h.9v.9h-.9zM397 108h.9v.9h-.9zM402.4 123h.9v.9h-.9zM406.7 112.8h.9v.9h-.9zM409.5 104.6h.9v.9h-.9zM402.4 111.4h.9v.9h-.9zM393.8 108h.9v.9h-.9zM408 115.7h.9v.9h-.9zM399.5 101.9h.9v.9h-.9zM408 104h.9v.9h-.9zM392.1 125.1h.9v.9h-.9zM412.5 124.4h.9v.9h-.9z" fill="#b8382a" fill-opacity=".55"/><path d="M404.4 103.8h.9v.9h-.9zM406.8 111.1h.9v.9h-.9zM400.4 91.7h.9v.9h-.9zM400.2 113.9h.9v.9h-.9zM400.1 118.4h.9v.9h-.9zM410.9 113.5h.9v.9h-.9zM404.3 110.4h.9v.9h-.9zM406.4 111.3h.9v.9h-.9zM407 121.9h.9v.9h-.9zM406.4 103.7h.9v.9h-.9zM405.8 109h.9v.9h-.9zM404.6 118.4h.9v.9h-.9zM401.3 112.6h.9v.9h-.9zM408.5 104.7h.9v.9h-.9zM402.9 116.6h.9v.9h-.9zM402.8 118.8h.9v.9h-.9zM400.2 99.6h.9v.9h-.9zM404.8 110h.9v.9h-.9zM404.6 118.4h.9v.9h-.9zM407.1 108.4h.9v.9h-.9zM402.3 96.2h.9v.9h-.9zM400.3 112.9h.9v.9h-.9zM404.3 99.7h.9v.9h-.9zM406.2 110.7h.9v.9h-.9zM407.3 108.3h.9v.9h-.9zM406.8 102.6h.9v.9h-.9zM397.3 104.9h.9v.9h-.9zM405.9 114.1h.9v.9h-.9zM397.2 112.2h.9v.9h-.9zM405.8 123.8h.9v.9h-.9zM406.2 114.9h.9v.9h-.9zM398.3 113.9h.9v.9h-.9zM397 108.8h.9v.9h-.9zM402.3 103.6h.9v.9h-.9zM400.2 110h.9v.9h-.9zM405.5 106.1h.9v.9h-.9zM404.6 116.4h.9v.9h-.9zM403.5 125.6h.9v.9h-.9zM402.5 105.5h.9v.9h-.9zM397.2 119.2h.9v.9h-.9zM405.8 109.6h.9v.9h-.9zM404.6 110h.9v.9h-.9zM406.5 110.9h.9v.9h-.9zM404.3 110.4h.9v.9h-.9zM400.6 94.2h.9v.9h-.9zM405.4 101.6h.9v.9h-.9zM404.9 115.9h.9v.9h-.9zM409.9 105.4h.9v.9h-.9zM404.1 118.2h.9v.9h-.9zM401.3 106.6h.9v.9h-.9zM405.1 126.5h.9v.9h-.9zM407.2 118.3h.9v.9h-.9zM400.3 116h.9v.9h-.9zM407.4 101.4h.9v.9h-.9zM403.6 109.6h.9v.9h-.9zM405.7 97.8h.9v.9h-.9zM405.9 111h.9v.9h-.9zM402.7 95h.9v.9h-.9zM396.6 106.9h.9v.9h-.9zM405.7 114.2h.9v.9h-.9zM406.1 98.1h.9v.9h-.9zM404.2 121.2h.9v.9h-.9zM398.3 116h.9v.9h-.9zM401.1 115.2h.9v.9h-.9zM403.9 98.7h.9v.9h-.9zM400 120.7h.9v.9h-.9zM403.2 120.4h.9v.9h-.9zM404.7 117.8h.9v.9h-.9zM402.2 112.7h.9v.9h-.9zM402.3 117.9h.9v.9h-.9zM401.6 119.4h.9v.9h-.9zM408.8 101.8h.9v.9h-.9zM403 115.1h.9v.9h-.9zM409.5 119.7h.9v.9h-.9zM403.8 97.9h.9v.9h-.9zM406.4 106.6h.9v.9h-.9zM404.2 114.1h.9v.9h-.9zM398.8 119.1h.9v.9h-.9zM406.6 115.4h.9v.9h-.9zM405.6 113.7h.9v.9h-.9zM398.8 107.2h.9v.9h-.9zM406.3 108.5h.9v.9h-.9zM403.6 113.8h.9v.9h-.9zM403.8 113h.9v.9h-.9zM405.2 111h.9v.9h-.9zM399.8 109h.9v.9h-.9zM406.8 105.9h.9v.9h-.9zM405.1 113.3h.9v.9h-.9zM400.6 89.7h.9v.9h-.9zM403.5 105.2h.9v.9h-.9zM401.4 118.1h.9v.9h-.9zM401 113.7h.9v.9h-.9zM403.9 112.5h.9v.9h-.9zM410.2 96.1h.9v.9h-.9zM406.8 109.9h.9v.9h-.9zM402.6 106h.9v.9h-.9zM403.7 111.4h.9v.9h-.9zM400.5 123.4h.9v.9h-.9zM401.1 110h.9v.9h-.9zM399.3 112.2h.9v.9h-.9zM404.7 119.2h.9v.9h-.9zM406.8 107.2h.9v.9h-.9zM408.9 110.2h.9v.9h-.9zM408.8 124h.9v.9h-.9zM402.2 102.9h.9v.9h-.9zM405.4 121.9h.9v.9h-.9zM404.9 119.3h.9v.9h-.9zM405.5 117.7h.9v.9h-.9zM408 108.8h.9v.9h-.9zM398.8 110.1h.9v.9h-.9zM400.9 102h.9v.9h-.9zM403 116.4h.9v.9h-.9zM397.4 99.6h.9v.9h-.9zM406.2 104.3h.9v.9h-.9zM402.2 121.2h.9v.9h-.9zM407.3 113.7h.9v.9h-.9zM405.4 90.5h.9v.9h-.9zM405.4 113.9h.9v.9h-.9zM398.9 112.4h.9v.9h-.9zM405.1 110.1h.9v.9h-.9zM406.2 117.7h.9v.9h-.9zM403.7 109.1h.9v.9h-.9zM399.6 119.6h.9v.9h-.9zM401.6 113.4h.9v.9h-.9zM408.7 116.9h.9v.9h-.9zM399.3 110.4h.9v.9h-.9zM401.2 98.6h.9v.9h-.9zM400.9 115.4h.9v.9h-.9zM404.7 109.5h.9v.9h-.9zM404.1 102.2h.9v.9h-.9zM401 109.8h.9v.9h-.9zM406.2 108.6h.9v.9h-.9zM403 113.5h.9v.9h-.9zM408.5 101.5h.9v.9h-.9zM405.3 112.4h.9v.9h-.9zM403.3 112.9h.9v.9h-.9zM396.9 111.2h.9v.9h-.9zM402.7 101.7h.9v.9h-.9zM406.4 110.1h.9v.9h-.9zM402.4 116.7h.9v.9h-.9zM370.1 108.2h.9v.9h-.9zM369.6 93h.9v.9h-.9zM369.7 109.1h.9v.9h-.9zM370.2 100.9h.9v.9h-.9zM369.9 125.5h.9v.9h-.9zM370.1 93.3h.9v.9h-.9zM369.9 110.1h.9v.9h-.9zM370.9 111.7h.9v.9h-.9zM371 112.9h.9v.9h-.9zM370.8 121.6h.9v.9h-.9zM371.1 111.7h.9v.9h-.9zM370.4 126.5h.9v.9h-.9zM369.7 111.7h.9v.9h-.9zM370.3 104h.9v.9h-.9zM370.6 108.7h.9v.9h-.9zM370.6 111.7h.9v.9h-.9zM369.7 119h.9v.9h-.9zM371.4 117.9h.9v.9h-.9zM370.2 95.3h.9v.9h-.9zM370.2 109.8h.9v.9h-.9zM369.7 93.7h.9v.9h-.9zM370.3 118.3h.9v.9h-.9zM370.5 126.5h.9v.9h-.9zM369.7 113h.9v.9h-.9zM370 122.2h.9v.9h-.9zM370 101.8h.9v.9h-.9zM370 113.8h.9v.9h-.9zM369.7 103.3h.9v.9h-.9zM370.2 117.5h.9v.9h-.9zM369.8 114.2h.9v.9h-.9zM369.7 107.1h.9v.9h-.9zM370.1 118.3h.9v.9h-.9zM371.1 109h.9v.9h-.9zM370.3 126.5h.9v.9h-.9zM370.6 107h.9v.9h-.9zM370.3 97.9h.9v.9h-.9zM369.7 103.5h.9v.9h-.9zM369.7 98.6h.9v.9h-.9zM370.7 106.2h.9v.9h-.9zM370.1 110.7h.9v.9h-.9z" fill="#c21e1e" fill-opacity=".7"/><path d="M399.8 122.7h.9v.9h-.9zM409.8 122.9h.9v.9h-.9zM410.8 123.3h.9v.9h-.9zM405.3 121.6h.9v.9h-.9zM402.5 122.6h.9v.9h-.9zM398.3 126.5h.9v.9h-.9zM405.9 123.3h.9v.9h-.9zM399.4 123.6h.9v.9h-.9zM399.6 121.5h.9v.9h-.9zM402.9 126.5h.9v.9h-.9zM396.9 124.7h.9v.9h-.9zM401.5 117.4h.9v.9h-.9zM398.2 123.2h.9v.9h-.9zM403.9 121.9h.9v.9h-.9zM410.5 124.6h.9v.9h-.9zM401.2 120.1h.9v.9h-.9zM404.3 122.1h.9v.9h-.9zM407.6 121.3h.9v.9h-.9zM408.3 122.5h.9v.9h-.9zM404.4 122.9h.9v.9h-.9zM406.1 125.9h.9v.9h-.9zM401.5 121.6h.9v.9h-.9zM411 125.5h.9v.9h-.9zM411 125.5h.9v.9h-.9zM404.2 126.5h.9v.9h-.9zM401.1 122.6h.9v.9h-.9zM402.1 124.9h.9v.9h-.9zM400.3 123.1h.9v.9h-.9zM400.4 123h.9v.9h-.9zM408 125.8h.9v.9h-.9zM402.8 126.5h.9v.9h-.9zM400.9 124.5h.9v.9h-.9zM401.8 118.9h.9v.9h-.9zM399 126.1h.9v.9h-.9zM397.2 126.5h.9v.9h-.9zM403.2 124.1h.9v.9h-.9zM408.5 123.6h.9v.9h-.9zM401.2 122.2h.9v.9h-.9zM400 124.7h.9v.9h-.9zM401.8 124.6h.9v.9h-.9zM397.8 122.6h.9v.9h-.9zM411.6 124.3h.9v.9h-.9zM403.2 126h.9v.9h-.9zM404.7 126.5h.9v.9h-.9zM399.1 125.1h.9v.9h-.9zM399.5 124.9h.9v.9h-.9zM413.2 126.5h.9v.9h-.9zM400.3 124.4h.9v.9h-.9zM405.4 122h.9v.9h-.9zM404.6 121.3h.9v.9h-.9zM407.4 125.4h.9v.9h-.9zM403 124.9h.9v.9h-.9zM412.9 123.2h.9v.9h-.9zM396.4 124.2h.9v.9h-.9zM401.9 121.9h.9v.9h-.9zM407.1 125.6h.9v.9h-.9zM405.9 126.5h.9v.9h-.9zM401.2 122.6h.9v.9h-.9zM405.3 117.8h.9v.9h-.9zM393 124.2h.9v.9h-.9zM402.8 123.6h.9v.9h-.9zM399.9 124h.9v.9h-.9zM407.7 122.2h.9v.9h-.9zM405.8 123.2h.9v.9h-.9zM403 123.7h.9v.9h-.9zM409.5 124.6h.9v.9h-.9zM406.3 123.8h.9v.9h-.9zM395.2 125.5h.9v.9h-.9zM403.5 123.7h.9v.9h-.9zM401.6 120.3h.9v.9h-.9zM409.4 126.5h.9v.9h-.9zM409.7 119.6h.9v.9h-.9zM405.7 121h.9v.9h-.9zM402.9 122.4h.9v.9h-.9zM401.2 121.9h.9v.9h-.9zM401.7 125.1h.9v.9h-.9zM409.9 125.5h.9v.9h-.9zM403.5 123.2h.9v.9h-.9zM402.6 123.5h.9v.9h-.9zM401.2 123.1h.9v.9h-.9zM406.9 123h.9v.9h-.9zM400.4 123.2h.9v.9h-.9zM403.9 123.3h.9v.9h-.9zM402.6 125h.9v.9h-.9zM403.4 121.4h.9v.9h-.9zM405.8 122h.9v.9h-.9zM406.6 125.2h.9v.9h-.9zM405.5 124.2h.9v.9h-.9zM398.3 123.1h.9v.9h-.9zM404.1 124.8h.9v.9h-.9zM399.2 123.2h.9v.9h-.9zM397.6 123.9h.9v.9h-.9zM403.9 123.8h.9v.9h-.9zM410 125.1h.9v.9h-.9zM402.8 122.3h.9v.9h-.9zM401.8 125.2h.9v.9h-.9zM407.2 122.4h.9v.9h-.9zM403.1 122.6h.9v.9h-.9zM406.3 123.9h.9v.9h-.9zM400.8 121.6h.9v.9h-.9zM408.7 120.6h.9v.9h-.9zM396.5 117h.9v.9h-.9zM411.5 122.4h.9v.9h-.9zM406.9 124.7h.9v.9h-.9zM406.9 125.9h.9v.9h-.9zM401.7 123.5h.9v.9h-.9zM407.4 124.7h.9v.9h-.9zM400.6 121.9h.9v.9h-.9zM397.9 124.1h.9v.9h-.9zM401.5 120.2h.9v.9h-.9zM401.4 124.2h.9v.9h-.9zM404.3 123h.9v.9h-.9zM404.2 124.9h.9v.9h-.9zM398.9 121.8h.9v.9h-.9zM407.4 125.1h.9v.9h-.9zM398.1 122h.9v.9h-.9zM409.3 125.1h.9v.9h-.9zM403 125.7h.9v.9h-.9zM409 126.5h.9v.9h-.9zM398.1 120.8h.9v.9h-.9zM401.6 123.4h.9v.9h-.9zM402.2 124h.9v.9h-.9zM409.4 125.8h.9v.9h-.9zM407.5 123.5h.9v.9h-.9zM410.1 124.5h.9v.9h-.9zM404.5 123.5h.9v.9h-.9zM396.3 126.5h.9v.9h-.9zM403.5 125.4h.9v.9h-.9zM412.5 123.1h.9v.9h-.9zM399 125.6h.9v.9h-.9z" fill="#c81212" fill-opacity=".8"/></g><path d="M369.2 73.3H429.4V127.8" fill="none" stroke="#5a5a5a" stroke-width="1"/><path d="M369.2 73.3V127.8H429.4" fill="none" stroke="#1a1a1a" stroke-width="1.3"/><path d="M367.9 123.9h1.3M373.5 127.8v1.3M367.9 120h1.3M377.8 127.8v1.3M367.9 116.1h1.3M382.1 127.8v1.3M367.9 112.2h1.3M386.4 127.8v1.3M367.9 108.3h1.3M390.7 127.8v1.3M367.9 104.4h1.3M395 127.8v1.3M367.9 100.5h1.3M399.3 127.8v1.3M367.9 96.7h1.3M403.6 127.8v1.3M367.9 92.8h1.3M407.9 127.8v1.3M367.9 88.9h1.3M412.2 127.8v1.3M367.9 85h1.3M416.5 127.8v1.3M367.9 81.1h1.3M420.8 127.8v1.3M367.9 77.2h1.3M425.1 127.8v1.3" stroke="#222" stroke-width=".6"/><line x1="390.6" y1="73.3" x2="390.6" y2="127.8" stroke="#303030" stroke-width="1.05"/><line x1="369.2" y1="99.8" x2="429.4" y2="99.8" stroke="#303030" stroke-width="1.05"/><text x="417.8" y="79.4" font-size="6.1" fill="#151515" stroke="#151515" stroke-width=".15" textLength="10" lengthAdjust="spacingAndGlyphs">1.99</text><g filter="url(#bl)"><path d="M490.7 95.9h.9v.9h-.9zM502.3 113.8h.9v.9h-.9zM488.9 120.8h.9v.9h-.9zM485.4 99.4h.9v.9h-.9zM500.6 110.1h.9v.9h-.9zM489.7 119.2h.9v.9h-.9zM490.6 115.7h.9v.9h-.9zM494 120.3h.9v.9h-.9zM497.2 105.8h.9v.9h-.9zM506.3 106.8h.9v.9h-.9zM508.5 98.6h.9v.9h-.9zM492.4 90h.9v.9h-.9zM496.9 121.9h.9v.9h-.9zM488.1 114.2h.9v.9h-.9zM489.8 122.8h.9v.9h-.9zM495.1 113.1h.9v.9h-.9zM502.4 96.4h.9v.9h-.9zM498.5 111.2h.9v.9h-.9zM504.3 110.2h.9v.9h-.9zM497.7 109.5h.9v.9h-.9zM482.5 105.5h.9v.9h-.9zM490.2 98.1h.9v.9h-.9zM491.5 105.8h.9v.9h-.9zM509.4 107.8h.9v.9h-.9zM493.1 110.8h.9v.9h-.9zM498.6 95.6h.9v.9h-.9zM475.2 124.1h.9v.9h-.9zM483.9 102h.9v.9h-.9zM503.1 112.6h.9v.9h-.9zM484.2 116.6h.9v.9h-.9zM481.1 124.5h.9v.9h-.9zM488.9 113h.9v.9h-.9zM491.9 126.5h.9v.9h-.9zM482.8 109.1h.9v.9h-.9zM512.5 91.8h.9v.9h-.9zM487.3 112.5h.9v.9h-.9zM489.9 114h.9v.9h-.9zM503 99.9h.9v.9h-.9zM485.7 121.7h.9v.9h-.9zM510.6 86.1h.9v.9h-.9zM497.1 118.9h.9v.9h-.9zM485.5 102.2h.9v.9h-.9zM481.1 108.2h.9v.9h-.9zM481 116.3h.9v.9h-.9zM485.4 114.6h.9v.9h-.9zM476.9 117.9h.9v.9h-.9zM498.4 118.4h.9v.9h-.9zM494.6 126.5h.9v.9h-.9zM501.2 110.4h.9v.9h-.9zM507.4 106.8h.9v.9h-.9zM493.5 124.6h.9v.9h-.9zM487.6 110h.9v.9h-.9zM494.4 111.6h.9v.9h-.9zM489.7 119h.9v.9h-.9zM512.6 106.6h.9v.9h-.9zM477.9 105.8h.9v.9h-.9zM478.7 98.7h.9v.9h-.9zM482.1 119.5h.9v.9h-.9zM493.5 116.3h.9v.9h-.9zM490.9 119.1h.9v.9h-.9zM488.1 121.6h.9v.9h-.9zM500.4 112h.9v.9h-.9zM477.9 100.2h.9v.9h-.9zM494.5 100.7h.9v.9h-.9zM490.4 108.6h.9v.9h-.9zM505.2 103.9h.9v.9h-.9zM493.3 105.9h.9v.9h-.9zM484.8 113.9h.9v.9h-.9zM501.3 97.3h.9v.9h-.9zM506.3 126.5h.9v.9h-.9zM493.5 114.6h.9v.9h-.9zM482 106.4h.9v.9h-.9zM495 109.2h.9v.9h-.9zM505.2 102.2h.9v.9h-.9zM489.6 114.7h.9v.9h-.9zM491.3 107.8h.9v.9h-.9zM490.9 113.6h.9v.9h-.9zM473.6 126.5h.9v.9h-.9zM499.2 100.6h.9v.9h-.9zM483.4 99.9h.9v.9h-.9zM471.9 121.9h.9v.9h-.9zM475.3 124.7h.9v.9h-.9zM463.5 124.8h.9v.9h-.9zM461.8 104.7h.9v.9h-.9zM469.4 103.1h.9v.9h-.9zM473.6 125.5h.9v.9h-.9zM472.2 108.2h.9v.9h-.9zM467.1 103.3h.9v.9h-.9zM465.5 121.8h.9v.9h-.9zM460.7 105.8h.9v.9h-.9zM463.7 110.4h.9v.9h-.9zM463.3 109.8h.9v.9h-.9zM458.3 117.4h.9v.9h-.9zM466.3 116.7h.9v.9h-.9zM463.2 123.7h.9v.9h-.9zM471.7 115.3h.9v.9h-.9zM464.3 122.5h.9v.9h-.9zM465.3 112h.9v.9h-.9zM467.8 103.4h.9v.9h-.9zM466.4 104h.9v.9h-.9zM474.5 121h.9v.9h-.9zM459.3 107.1h.9v.9h-.9zM469.6 115h.9v.9h-.9zM464.7 111.8h.9v.9h-.9zM461.3 111.8h.9v.9h-.9zM458 103.6h.9v.9h-.9zM461.5 102.6h.9v.9h-.9zM461.5 106.8h.9v.9h-.9zM463.7 116.2h.9v.9h-.9zM475.8 118.9h.9v.9h-.9zM472.6 115.4h.9v.9h-.9zM471.5 117.2h.9v.9h-.9zM457.2 110.8h.9v.9h-.9zM459.5 118.5h.9v.9h-.9zM463.9 112.4h.9v.9h-.9zM459.9 125.3h.9v.9h-.9zM462.3 105.4h.9v.9h-.9zM464.1 109.6h.9v.9h-.9zM460.6 118.7h.9v.9h-.9zM465.2 102.3h.9v.9h-.9zM475 104.9h.9v.9h-.9zM473.5 125.7h.9v.9h-.9zM467.4 120.4h.9v.9h-.9zM457.1 106.8h.9v.9h-.9zM472.1 118.7h.9v.9h-.9zM459.3 108.4h.9v.9h-.9zM458.4 121h.9v.9h-.9zM469.2 110.4h.9v.9h-.9zM467.8 114h.9v.9h-.9zM462 114.9h.9v.9h-.9zM457.1 119.2h.9v.9h-.9zM475.2 105.9h.9v.9h-.9zM465.3 116.2h.9v.9h-.9zM470 120.5h.9v.9h-.9zM463.3 120h.9v.9h-.9zM463.8 120.7h.9v.9h-.9zM466.6 115.8h.9v.9h-.9zM474 106.2h.9v.9h-.9zM466.5 110.3h.9v.9h-.9zM458.2 120.7h.9v.9h-.9zM460.7 106h.9v.9h-.9zM459.6 120.7h.9v.9h-.9zM470.4 109.9h.9v.9h-.9zM466.3 110.6h.9v.9h-.9zM466.4 102.9h.9v.9h-.9zM462.5 125h.9v.9h-.9zM463.1 118.8h.9v.9h-.9zM468.8 113.2h.9v.9h-.9zM468.8 118.7h.9v.9h-.9zM467.9 120.9h.9v.9h-.9zM462.7 107.5h.9v.9h-.9zM465.7 120.9h.9v.9h-.9zM466.5 102.1h.9v.9h-.9zM465.8 123.5h.9v.9h-.9zM460.2 115.7h.9v.9h-.9zM462.4 115h.9v.9h-.9zM471.5 109.9h.9v.9h-.9zM460.3 112.8h.9v.9h-.9zM475.7 102.6h.9v.9h-.9zM462.8 107.2h.9v.9h-.9zM466 120.9h.9v.9h-.9zM467.7 116.1h.9v.9h-.9zM461.3 114.8h.9v.9h-.9zM471.2 110h.9v.9h-.9zM457.4 125.3h.9v.9h-.9zM466.6 125.2h.9v.9h-.9zM468.6 110.2h.9v.9h-.9zM460.4 124.4h.9v.9h-.9zM471.5 115.8h.9v.9h-.9zM457.3 109.2h.9v.9h-.9zM465 104.2h.9v.9h-.9zM466 113.3h.9v.9h-.9zM460.9 114.6h.9v.9h-.9zM475.1 123h.9v.9h-.9zM472.6 109.3h.9v.9h-.9zM461.4 113.5h.9v.9h-.9zM474.7 107.1h.9v.9h-.9zM458.4 122.4h.9v.9h-.9zM457.2 114.3h.9v.9h-.9zM475.7 115.8h.9v.9h-.9zM457.2 109.3h.9v.9h-.9zM471.3 118.3h.9v.9h-.9zM458.6 113.1h.9v.9h-.9zM466.1 105.9h.9v.9h-.9zM459.5 109.5h.9v.9h-.9zM464.6 124.9h.9v.9h-.9zM463.2 123.4h.9v.9h-.9zM457.4 113.2h.9v.9h-.9zM459.9 103.4h.9v.9h-.9zM462.5 118.7h.9v.9h-.9zM462.6 91.1h.9v.9h-.9zM463.9 88.1h.9v.9h-.9zM470.1 87.4h.9v.9h-.9zM473.7 91.8h.9v.9h-.9zM475.1 87.6h.9v.9h-.9zM464.3 90.8h.9v.9h-.9zM469.2 88.4h.9v.9h-.9zM463.1 86.4h.9v.9h-.9zM466.4 91.9h.9v.9h-.9zM474.8 87h.9v.9h-.9zM471 91.6h.9v.9h-.9zM469.5 87.8h.9v.9h-.9zM456.3 94.7h.9v.9h-.9zM470.7 90.7h.9v.9h-.9zM474.2 94.8h.9v.9h-.9zM462.5 91.4h.9v.9h-.9zM472.2 85.6h.9v.9h-.9zM456.3 95.3h.9v.9h-.9zM468.6 94.7h.9v.9h-.9zM469.5 90.5h.9v.9h-.9zM462.2 87.9h.9v.9h-.9zM468.1 89.4h.9v.9h-.9zM464.4 92.8h.9v.9h-.9zM456.3 93.9h.9v.9h-.9zM464.4 97h.9v.9h-.9z" fill="#b8382a" fill-opacity=".55"/><path d="M492.1 112.4h.9v.9h-.9zM492.2 122.7h.9v.9h-.9zM488.2 113.9h.9v.9h-.9zM486.7 116.7h.9v.9h-.9zM492.6 108.1h.9v.9h-.9zM484.3 104.9h.9v.9h-.9zM489.2 114.1h.9v.9h-.9zM487.7 112.3h.9v.9h-.9zM492 126.5h.9v.9h-.9zM499 126.5h.9v.9h-.9zM492 114.5h.9v.9h-.9zM504.1 115.6h.9v.9h-.9zM495.4 109.6h.9v.9h-.9zM487.4 118.3h.9v.9h-.9zM487 108.6h.9v.9h-.9zM481 115h.9v.9h-.9zM490.4 116.7h.9v.9h-.9zM485.2 104.6h.9v.9h-.9zM498.5 113.2h.9v.9h-.9zM496.3 105.3h.9v.9h-.9zM482.3 95.9h.9v.9h-.9zM493 119.7h.9v.9h-.9zM499.9 125h.9v.9h-.9zM478.8 105.7h.9v.9h-.9zM487.5 107.7h.9v.9h-.9zM489.6 107.6h.9v.9h-.9zM481.2 112.7h.9v.9h-.9zM491.9 107.8h.9v.9h-.9zM491.2 104.2h.9v.9h-.9zM488.8 110.7h.9v.9h-.9zM488 112.5h.9v.9h-.9zM482.5 103.9h.9v.9h-.9zM485.4 118h.9v.9h-.9zM484.6 106.7h.9v.9h-.9zM504.3 111.3h.9v.9h-.9zM488.4 107h.9v.9h-.9zM500.9 116.6h.9v.9h-.9zM492.8 123.8h.9v.9h-.9zM483 101.6h.9v.9h-.9zM498.5 115.9h.9v.9h-.9zM487.6 118.4h.9v.9h-.9zM490.4 126.2h.9v.9h-.9zM482.5 115.4h.9v.9h-.9zM497.6 119h.9v.9h-.9zM488.6 110.3h.9v.9h-.9zM488.1 117.7h.9v.9h-.9zM488.3 112.1h.9v.9h-.9zM497.9 112.3h.9v.9h-.9zM492.7 112.2h.9v.9h-.9zM491.1 98h.9v.9h-.9zM484.7 115.5h.9v.9h-.9zM486.7 108.8h.9v.9h-.9zM491.4 126.5h.9v.9h-.9zM485.9 106.6h.9v.9h-.9zM478.9 116.1h.9v.9h-.9zM490.6 107.3h.9v.9h-.9zM488.2 119.6h.9v.9h-.9zM497.9 115.5h.9v.9h-.9zM498.8 119.9h.9v.9h-.9zM487.9 118.4h.9v.9h-.9zM492.1 118.2h.9v.9h-.9zM492.9 126.5h.9v.9h-.9zM482.6 115.5h.9v.9h-.9zM483.7 126.5h.9v.9h-.9zM487.5 110.5h.9v.9h-.9zM490.9 112.7h.9v.9h-.9zM502.5 112.6h.9v.9h-.9zM492.7 120.2h.9v.9h-.9zM501.2 106.5h.9v.9h-.9zM493 104h.9v.9h-.9zM494.3 122.6h.9v.9h-.9zM487.5 111.1h.9v.9h-.9zM499 116h.9v.9h-.9zM496.4 109.9h.9v.9h-.9zM488.9 110.5h.9v.9h-.9zM501.6 102.9h.9v.9h-.9zM487.5 123.6h.9v.9h-.9zM490.5 105.6h.9v.9h-.9zM492.6 111.5h.9v.9h-.9zM490.2 116.4h.9v.9h-.9zM496.3 102.8h.9v.9h-.9zM492.3 123.2h.9v.9h-.9zM482 112.4h.9v.9h-.9zM483.2 117.5h.9v.9h-.9zM485.3 110.7h.9v.9h-.9zM488.2 116.1h.9v.9h-.9zM482.2 103.5h.9v.9h-.9zM492.3 122.2h.9v.9h-.9zM487.6 115.8h.9v.9h-.9zM492.8 113.7h.9v.9h-.9zM490.9 109.2h.9v.9h-.9zM489.3 121.2h.9v.9h-.9zM494 121.7h.9v.9h-.9zM486.1 113.8h.9v.9h-.9zM486.7 104h.9v.9h-.9zM497 111.1h.9v.9h-.9zM492.6 103.3h.9v.9h-.9zM489.3 112.2h.9v.9h-.9zM488.4 119.9h.9v.9h-.9zM494.1 113.9h.9v.9h-.9zM492.5 110h.9v.9h-.9zM486.2 111.1h.9v.9h-.9zM484.1 111.8h.9v.9h-.9zM490.2 120.7h.9v.9h-.9zM488.1 126.5h.9v.9h-.9zM487.5 113.9h.9v.9h-.9zM490.8 108.8h.9v.9h-.9zM490.6 100.9h.9v.9h-.9zM498.5 109.1h.9v.9h-.9zM490.8 100.6h.9v.9h-.9zM494.8 104.2h.9v.9h-.9zM500.1 105.9h.9v.9h-.9zM486 117.5h.9v.9h-.9zM499.6 99.5h.9v.9h-.9zM479.6 124h.9v.9h-.9zM493.9 102.6h.9v.9h-.9zM488 117.8h.9v.9h-.9zM488.4 123.3h.9v.9h-.9zM486.2 114.1h.9v.9h-.9zM498.7 123.1h.9v.9h-.9zM492.6 117h.9v.9h-.9zM488.7 112.5h.9v.9h-.9zM487.1 115.7h.9v.9h-.9zM496.6 106.1h.9v.9h-.9zM483.1 113.3h.9v.9h-.9zM504.4 114.6h.9v.9h-.9zM491.8 112.7h.9v.9h-.9zM479.7 108.1h.9v.9h-.9zM501.1 98.6h.9v.9h-.9zM503 104.8h.9v.9h-.9zM504.6 126.5h.9v.9h-.9zM501 112h.9v.9h-.9zM494.9 109.2h.9v.9h-.9zM487.9 114.4h.9v.9h-.9zM469.8 116.8h.9v.9h-.9zM488.8 105.5h.9v.9h-.9zM489.1 117.4h.9v.9h-.9zM485.8 115.5h.9v.9h-.9zM481.9 113.6h.9v.9h-.9zM483.2 118.3h.9v.9h-.9zM484 117.2h.9v.9h-.9zM477.6 114.2h.9v.9h-.9zM498.3 107.3h.9v.9h-.9zM491.3 107.1h.9v.9h-.9zM494.2 118.2h.9v.9h-.9zM498.7 122.1h.9v.9h-.9zM499.7 108h.9v.9h-.9zM491.7 116.6h.9v.9h-.9zM492.2 103.9h.9v.9h-.9zM504.5 126.5h.9v.9h-.9zM491.3 95.1h.9v.9h-.9zM503.2 111.7h.9v.9h-.9zM506.1 105.8h.9v.9h-.9zM494.5 118.4h.9v.9h-.9zM481.3 110.7h.9v.9h-.9zM494.2 117.5h.9v.9h-.9zM493.5 94.9h.9v.9h-.9zM474.9 115.5h.9v.9h-.9zM501.6 102.4h.9v.9h-.9zM493.6 119.4h.9v.9h-.9zM484.4 102h.9v.9h-.9zM492.7 109.9h.9v.9h-.9zM490.3 111.6h.9v.9h-.9zM490.1 115.1h.9v.9h-.9zM487.4 112.7h.9v.9h-.9zM487.1 107h.9v.9h-.9zM493.3 107.2h.9v.9h-.9zM494.5 112.8h.9v.9h-.9zM498.2 117.1h.9v.9h-.9zM477.5 112.8h.9v.9h-.9zM495.4 113.7h.9v.9h-.9zM491.2 120.5h.9v.9h-.9zM495.5 103.7h.9v.9h-.9zM491.6 119.9h.9v.9h-.9zM492 104.1h.9v.9h-.9zM496.2 117.2h.9v.9h-.9zM498.6 114.2h.9v.9h-.9zM491.7 118.9h.9v.9h-.9zM483.5 124.9h.9v.9h-.9zM493.6 114.5h.9v.9h-.9zM496 118.4h.9v.9h-.9zM476.1 119.4h.9v.9h-.9zM490.2 107.5h.9v.9h-.9zM497 119.5h.9v.9h-.9zM493.5 108.7h.9v.9h-.9zM491.6 106.4h.9v.9h-.9zM507.8 108.4h.9v.9h-.9zM496.8 124.3h.9v.9h-.9zM485.2 109.3h.9v.9h-.9zM475.9 111.3h.9v.9h-.9zM482 114.1h.9v.9h-.9zM489.4 113.1h.9v.9h-.9zM491.2 109.7h.9v.9h-.9zM491.7 112.5h.9v.9h-.9zM486.1 110.8h.9v.9h-.9zM487.1 104h.9v.9h-.9zM490.7 100h.9v.9h-.9zM494.5 112.7h.9v.9h-.9zM492 121h.9v.9h-.9zM497.3 109.9h.9v.9h-.9zM493.3 121.2h.9v.9h-.9zM489.9 115.6h.9v.9h-.9zM493.7 105.8h.9v.9h-.9zM492.8 110.3h.9v.9h-.9zM489.2 116h.9v.9h-.9zM495.3 106.7h.9v.9h-.9zM489.2 111.6h.9v.9h-.9zM484.5 115.5h.9v.9h-.9zM489.5 108.1h.9v.9h-.9zM497.2 112.4h.9v.9h-.9zM483.1 112.3h.9v.9h-.9zM489.7 115h.9v.9h-.9zM506 116.8h.9v.9h-.9zM500.6 111.8h.9v.9h-.9zM494.1 116.4h.9v.9h-.9zM490.2 114.7h.9v.9h-.9zM487.9 117.8h.9v.9h-.9zM484.8 124.8h.9v.9h-.9zM466 103.4h.9v.9h-.9zM490.1 115.5h.9v.9h-.9zM491.9 101.7h.9v.9h-.9zM493.8 106.8h.9v.9h-.9zM492.3 110.1h.9v.9h-.9zM489.1 102.4h.9v.9h-.9zM482.1 109.1h.9v.9h-.9zM483.8 114.7h.9v.9h-.9zM481.5 114.5h.9v.9h-.9zM494.6 107.8h.9v.9h-.9zM484.5 110.6h.9v.9h-.9zM496.2 122.6h.9v.9h-.9zM505.4 113.6h.9v.9h-.9zM495.1 114.3h.9v.9h-.9zM490.8 105.5h.9v.9h-.9zM488.5 120.7h.9v.9h-.9zM500.2 108.8h.9v.9h-.9zM480.1 126.1h.9v.9h-.9zM491.1 116.1h.9v.9h-.9zM489.7 100.4h.9v.9h-.9zM493 106.3h.9v.9h-.9zM489 108.6h.9v.9h-.9zM489.1 126.5h.9v.9h-.9zM501 99.4h.9v.9h-.9zM480.6 109.5h.9v.9h-.9zM486.4 118.4h.9v.9h-.9zM501.4 107.9h.9v.9h-.9zM494.7 111.5h.9v.9h-.9zM477.6 121.1h.9v.9h-.9zM502.6 107.3h.9v.9h-.9zM495.1 109.4h.9v.9h-.9zM490.3 109.8h.9v.9h-.9zM490 113.3h.9v.9h-.9zM486.8 114.9h.9v.9h-.9zM482.2 118.6h.9v.9h-.9zM484.5 100.1h.9v.9h-.9zM496.5 110.6h.9v.9h-.9zM487.3 119.3h.9v.9h-.9zM490.7 126.5h.9v.9h-.9zM493.8 103h.9v.9h-.9zM487.5 108.3h.9v.9h-.9zM489 124.7h.9v.9h-.9zM509.1 124.9h.9v.9h-.9zM493.9 116.8h.9v.9h-.9zM492 97.6h.9v.9h-.9zM500.2 126.5h.9v.9h-.9zM487.4 112.8h.9v.9h-.9zM486.1 111.5h.9v.9h-.9zM485.1 105.1h.9v.9h-.9zM499 99.5h.9v.9h-.9zM497.8 105h.9v.9h-.9zM489.2 99h.9v.9h-.9zM495.3 106h.9v.9h-.9zM507.6 106.5h.9v.9h-.9zM492.6 117.6h.9v.9h-.9zM484.4 107.2h.9v.9h-.9zM483.7 116.8h.9v.9h-.9zM492.9 120h.9v.9h-.9zM481.3 106.5h.9v.9h-.9zM490.1 109.9h.9v.9h-.9zM493 120.8h.9v.9h-.9zM491.8 107.4h.9v.9h-.9zM490.6 108h.9v.9h-.9zM486.5 125.9h.9v.9h-.9zM495.4 125.7h.9v.9h-.9zM489.5 112.5h.9v.9h-.9zM482.4 114.6h.9v.9h-.9zM495.8 117.8h.9v.9h-.9zM483.1 113.7h.9v.9h-.9zM497.1 109.7h.9v.9h-.9zM495.6 109.5h.9v.9h-.9zM490.9 108.9h.9v.9h-.9zM481 107.2h.9v.9h-.9zM492.1 111h.9v.9h-.9zM490.8 109h.9v.9h-.9zM496.8 111.7h.9v.9h-.9zM493.5 109.7h.9v.9h-.9zM499.7 112.3h.9v.9h-.9zM493.8 126.5h.9v.9h-.9zM493.8 102.1h.9v.9h-.9zM486.4 115.2h.9v.9h-.9zM482.1 102.7h.9v.9h-.9zM456.7 122.1h.9v.9h-.9zM456.2 98h.9v.9h-.9zM457.3 109h.9v.9h-.9zM456.3 121.6h.9v.9h-.9zM457.1 96.8h.9v.9h-.9zM456.7 126.5h.9v.9h-.9zM456.9 100h.9v.9h-.9zM456.3 124.5h.9v.9h-.9zM457.7 118.2h.9v.9h-.9zM456.3 119.5h.9v.9h-.9zM456.3 107.6h.9v.9h-.9zM456.5 121.7h.9v.9h-.9zM457.1 117.2h.9v.9h-.9zM456.5 107.5h.9v.9h-.9zM457.4 106.6h.9v.9h-.9zM456.6 117.1h.9v.9h-.9zM456.7 120.9h.9v.9h-.9zM457.1 117.8h.9v.9h-.9zM458.2 107.2h.9v.9h-.9zM458 100.5h.9v.9h-.9zM456.3 89.7h.9v.9h-.9zM456.4 104.9h.9v.9h-.9zM457.2 123.4h.9v.9h-.9zM458.2 107.3h.9v.9h-.9zM457.4 110.4h.9v.9h-.9zM456.3 74.5h.9v.9h-.9zM456.6 94.6h.9v.9h-.9zM457.3 103.6h.9v.9h-.9zM457.2 106h.9v.9h-.9zM457.1 103.5h.9v.9h-.9zM457 126.5h.9v.9h-.9zM457 99.7h.9v.9h-.9zM456.3 113.3h.9v.9h-.9zM457.3 100.9h.9v.9h-.9zM456.3 97.4h.9v.9h-.9zM457.9 114.7h.9v.9h-.9zM457 108.1h.9v.9h-.9zM457.9 117.3h.9v.9h-.9zM456.7 123.1h.9v.9h-.9zM457.2 109.5h.9v.9h-.9z" fill="#c21e1e" fill-opacity=".7"/><path d="M487 122.5h.9v.9h-.9zM493.5 109.6h.9v.9h-.9zM493.3 115.8h.9v.9h-.9zM486.8 118.7h.9v.9h-.9zM487.6 113.6h.9v.9h-.9zM490.2 116h.9v.9h-.9zM488.3 116.4h.9v.9h-.9zM490.1 115.9h.9v.9h-.9zM491.7 112.1h.9v.9h-.9zM484.5 114.7h.9v.9h-.9zM495.1 116.5h.9v.9h-.9zM491 111.6h.9v.9h-.9zM485.4 109.3h.9v.9h-.9zM486.3 113.3h.9v.9h-.9zM483.8 114.5h.9v.9h-.9zM483.7 118h.9v.9h-.9zM490 107h.9v.9h-.9zM487.8 116.1h.9v.9h-.9zM491.6 118.6h.9v.9h-.9zM488.6 114.4h.9v.9h-.9zM489.1 117.5h.9v.9h-.9zM487.3 114.3h.9v.9h-.9zM490.7 113.4h.9v.9h-.9zM485.7 121.2h.9v.9h-.9zM492.1 110.9h.9v.9h-.9zM498.1 111.5h.9v.9h-.9zM486.5 113.4h.9v.9h-.9zM492.3 121.9h.9v.9h-.9zM495.7 117.6h.9v.9h-.9zM490.3 118.1h.9v.9h-.9zM486.9 111.8h.9v.9h-.9zM492.2 115.9h.9v.9h-.9zM491 110.4h.9v.9h-.9zM491.1 108.5h.9v.9h-.9zM493.8 115.1h.9v.9h-.9zM487.5 112.9h.9v.9h-.9zM501.4 126.5h.9v.9h-.9zM487.2 121.3h.9v.9h-.9zM478.3 120.2h.9v.9h-.9zM490.2 116.2h.9v.9h-.9zM486.2 109h.9v.9h-.9zM491 113h.9v.9h-.9zM492.1 119.9h.9v.9h-.9zM489.6 117.5h.9v.9h-.9zM490.8 116.1h.9v.9h-.9zM488 116.1h.9v.9h-.9zM491.8 115.4h.9v.9h-.9zM488.2 108.4h.9v.9h-.9zM485.7 122.2h.9v.9h-.9zM494.2 116.4h.9v.9h-.9zM491.3 114.4h.9v.9h-.9zM492.8 119.4h.9v.9h-.9zM489.1 116.5h.9v.9h-.9zM494 107.8h.9v.9h-.9zM486.3 112.4h.9v.9h-.9zM485.4 113h.9v.9h-.9zM486.6 113.2h.9v.9h-.9zM492 109.7h.9v.9h-.9zM490.5 121.3h.9v.9h-.9zM490.9 109.4h.9v.9h-.9zM487.6 120.4h.9v.9h-.9zM489 112.2h.9v.9h-.9zM493.3 111.8h.9v.9h-.9zM485.6 117.8h.9v.9h-.9zM490.2 112.1h.9v.9h-.9zM492 120.1h.9v.9h-.9zM494.5 115.5h.9v.9h-.9zM491.9 117.3h.9v.9h-.9zM484.1 122.6h.9v.9h-.9zM487.4 112.5h.9v.9h-.9zM486.8 110.6h.9v.9h-.9zM494.5 115.1h.9v.9h-.9zM487.7 106.7h.9v.9h-.9zM490.8 114.8h.9v.9h-.9zM485.9 114.6h.9v.9h-.9zM482.7 118h.9v.9h-.9zM485.2 117.3h.9v.9h-.9zM490.5 105.3h.9v.9h-.9zM485.6 112h.9v.9h-.9zM493.3 117.8h.9v.9h-.9zM492.6 122.7h.9v.9h-.9zM488.9 112.7h.9v.9h-.9zM482.5 110.3h.9v.9h-.9zM492.4 111.2h.9v.9h-.9zM486.5 119.4h.9v.9h-.9zM480.1 121.4h.9v.9h-.9zM495.3 106.8h.9v.9h-.9zM492 115h.9v.9h-.9zM493.8 113.5h.9v.9h-.9zM489.6 121.5h.9v.9h-.9zM487.7 117h.9v.9h-.9zM492.6 114.5h.9v.9h-.9zM493.6 117.4h.9v.9h-.9zM493.4 107.3h.9v.9h-.9zM485.9 116.4h.9v.9h-.9zM494.8 121.6h.9v.9h-.9zM490.1 111.6h.9v.9h-.9zM485.7 106.1h.9v.9h-.9zM488.1 117.7h.9v.9h-.9zM489.8 108.3h.9v.9h-.9zM489.7 115.3h.9v.9h-.9zM487.1 121.7h.9v.9h-.9zM491.9 120.1h.9v.9h-.9zM490.5 110.6h.9v.9h-.9zM494.5 120.1h.9v.9h-.9zM487.7 109h.9v.9h-.9zM493.4 112.5h.9v.9h-.9zM485.4 114.7h.9v.9h-.9zM492.3 111.6h.9v.9h-.9zM490.2 119.6h.9v.9h-.9zM493.1 107.9h.9v.9h-.9zM493 123.2h.9v.9h-.9zM493.8 114.7h.9v.9h-.9zM491.6 107.8h.9v.9h-.9zM487.7 112.7h.9v.9h-.9zM498.5 115.1h.9v.9h-.9zM486.2 122.8h.9v.9h-.9zM495 107.5h.9v.9h-.9zM489.3 107.3h.9v.9h-.9zM494.3 104.6h.9v.9h-.9zM497.6 110.2h.9v.9h-.9zM485.9 124.7h.9v.9h-.9zM492.2 116.7h.9v.9h-.9zM493.5 110.5h.9v.9h-.9zM493.6 113.8h.9v.9h-.9zM492.2 116.1h.9v.9h-.9zM495.7 109.2h.9v.9h-.9zM484.5 118h.9v.9h-.9zM499.6 117.5h.9v.9h-.9zM489.4 118.1h.9v.9h-.9zM485.2 115.5h.9v.9h-.9zM483.3 115.6h.9v.9h-.9zM493 122.8h.9v.9h-.9zM488.1 119.3h.9v.9h-.9zM495.5 110.3h.9v.9h-.9zM489 106.6h.9v.9h-.9zM486.6 117.1h.9v.9h-.9zM481.9 113.7h.9v.9h-.9zM493 121.6h.9v.9h-.9zM480 116.8h.9v.9h-.9zM487.6 104.5h.9v.9h-.9zM486 117.8h.9v.9h-.9zM490 118.3h.9v.9h-.9zM488.9 118.1h.9v.9h-.9zM486.2 110.6h.9v.9h-.9zM489.4 107h.9v.9h-.9zM495.1 113.9h.9v.9h-.9zM486.1 111.1h.9v.9h-.9zM486.2 115.6h.9v.9h-.9zM488.6 119h.9v.9h-.9zM485.5 114.7h.9v.9h-.9zM484 112.9h.9v.9h-.9zM495.5 114.5h.9v.9h-.9zM493.7 114.8h.9v.9h-.9zM485.7 111h.9v.9h-.9zM485.6 116.6h.9v.9h-.9zM491 126.5h.9v.9h-.9zM496.8 118.9h.9v.9h-.9zM486.2 115.6h.9v.9h-.9zM486.4 125.9h.9v.9h-.9zM487.2 120.4h.9v.9h-.9zM484.7 118.6h.9v.9h-.9zM485.2 112.9h.9v.9h-.9zM490.8 115.7h.9v.9h-.9zM489.8 114.8h.9v.9h-.9zM486.6 114.5h.9v.9h-.9zM489.8 110.8h.9v.9h-.9zM492.4 115.9h.9v.9h-.9zM487 121h.9v.9h-.9zM487.8 106.3h.9v.9h-.9zM495.2 113.3h.9v.9h-.9zM496 117h.9v.9h-.9zM486.5 120.2h.9v.9h-.9zM491.9 119.3h.9v.9h-.9zM490.2 122.2h.9v.9h-.9zM493.8 113.5h.9v.9h-.9zM484 114.8h.9v.9h-.9zM490.3 110.5h.9v.9h-.9zM489.3 122h.9v.9h-.9zM488.2 120.2h.9v.9h-.9zM486.3 110.6h.9v.9h-.9zM493.8 114.3h.9v.9h-.9zM490.9 119.8h.9v.9h-.9zM496.6 109.3h.9v.9h-.9zM492.4 116.1h.9v.9h-.9zM490.6 123.3h.9v.9h-.9zM489.1 112.3h.9v.9h-.9zM492.1 105.7h.9v.9h-.9zM491.5 110.9h.9v.9h-.9zM491.4 111.6h.9v.9h-.9zM492.1 113.9h.9v.9h-.9zM487.2 117.5h.9v.9h-.9zM493.1 107.6h.9v.9h-.9zM484.9 113.8h.9v.9h-.9zM488.5 121.2h.9v.9h-.9zM496.4 117.2h.9v.9h-.9zM494.5 113.5h.9v.9h-.9zM484.6 116.4h.9v.9h-.9zM483 122.6h.9v.9h-.9zM491.1 120.4h.9v.9h-.9zM487.5 107.6h.9v.9h-.9zM489.3 117.3h.9v.9h-.9zM489.2 112.7h.9v.9h-.9zM490.4 114.2h.9v.9h-.9zM495.6 109h.9v.9h-.9zM481.2 114.6h.9v.9h-.9zM491.1 107.9h.9v.9h-.9zM489.9 117.1h.9v.9h-.9zM491.4 116.4h.9v.9h-.9zM487 108.4h.9v.9h-.9zM493.9 113.4h.9v.9h-.9zM484.5 122.2h.9v.9h-.9zM493 102.1h.9v.9h-.9zM500.4 115.7h.9v.9h-.9zM483.6 119.5h.9v.9h-.9zM491.4 120.8h.9v.9h-.9zM490.1 107.3h.9v.9h-.9zM489.4 113.1h.9v.9h-.9zM491.2 114.2h.9v.9h-.9zM492.3 109.4h.9v.9h-.9zM487.9 112.6h.9v.9h-.9zM491.7 107.1h.9v.9h-.9zM490.1 126.1h.9v.9h-.9zM482.8 119.8h.9v.9h-.9zM490.4 119.6h.9v.9h-.9zM490.3 116.2h.9v.9h-.9zM491.5 117.2h.9v.9h-.9zM485.2 114.4h.9v.9h-.9zM497.4 121.6h.9v.9h-.9zM486.6 110.7h.9v.9h-.9zM489.4 119.9h.9v.9h-.9zM493.7 112.3h.9v.9h-.9zM480.5 114.8h.9v.9h-.9zM483.4 120.6h.9v.9h-.9zM496 118.1h.9v.9h-.9zM492.4 117.6h.9v.9h-.9zM497.4 120.1h.9v.9h-.9zM495.8 109.7h.9v.9h-.9zM488 115h.9v.9h-.9zM481.1 113.7h.9v.9h-.9zM490 114.7h.9v.9h-.9zM500.2 114.1h.9v.9h-.9zM489.2 114.5h.9v.9h-.9zM488.7 108.5h.9v.9h-.9zM494.5 115.1h.9v.9h-.9zM491.5 115.2h.9v.9h-.9zM486.9 107.6h.9v.9h-.9zM488.9 117.5h.9v.9h-.9zM489.5 118.4h.9v.9h-.9zM486.9 113.7h.9v.9h-.9z" fill="#c81212" fill-opacity=".8"/></g><path d="M455.8 74H518.6V127.8" fill="none" stroke="#5a5a5a" stroke-width="1"/><path d="M455.8 74V127.8H518.6" fill="none" stroke="#1a1a1a" stroke-width="1.3"/><path d="M454.5 124h1.3M460.3 127.8v1.3M454.5 120.1h1.3M464.8 127.8v1.3M454.5 116.3h1.3M469.3 127.8v1.3M454.5 112.4h1.3M473.7 127.8v1.3M454.5 108.6h1.3M478.2 127.8v1.3M454.5 104.7h1.3M482.7 127.8v1.3M454.5 100.9h1.3M487.2 127.8v1.3M454.5 97.1h1.3M491.7 127.8v1.3M454.5 93.2h1.3M496.2 127.8v1.3M454.5 89.4h1.3M500.7 127.8v1.3M454.5 85.5h1.3M505.1 127.8v1.3M454.5 81.7h1.3M509.6 127.8v1.3M454.5 77.8h1.3M514.1 127.8v1.3" stroke="#222" stroke-width=".6"/><line x1="477.2" y1="74" x2="477.2" y2="127.8" stroke="#303030" stroke-width="1.05"/><line x1="455.8" y1="100.9" x2="518.6" y2="100.9" stroke="#303030" stroke-width="1.05"/><text x="505.8" y="79.5" font-size="6.1" fill="#151515" stroke="#151515" stroke-width=".15" textLength="10.4" lengthAdjust="spacingAndGlyphs">3.65</text><g filter="url(#bl)"><path d="M224.5 163.3h.9v.9h-.9zM231.9 161.5h.9v.9h-.9zM235.7 160.5h.9v.9h-.9zM235.5 172.7h.9v.9h-.9zM225.4 152.3h.9v.9h-.9zM237.6 162.7h.9v.9h-.9zM248.2 155.5h.9v.9h-.9zM237.4 156h.9v.9h-.9zM227.2 155.7h.9v.9h-.9zM224.4 153.3h.9v.9h-.9zM228.6 158.8h.9v.9h-.9zM231.8 165.7h.9v.9h-.9zM223.7 159.3h.9v.9h-.9zM224 165.8h.9v.9h-.9zM223.6 157.4h.9v.9h-.9zM224.7 167.5h.9v.9h-.9zM221.1 151.9h.9v.9h-.9zM228 157.4h.9v.9h-.9zM223.6 167.9h.9v.9h-.9zM226.7 145.2h.9v.9h-.9zM229.6 150.6h.9v.9h-.9zM225.8 156.4h.9v.9h-.9zM223.8 157h.9v.9h-.9zM228 164.3h.9v.9h-.9zM252.4 155h.9v.9h-.9zM227.5 167.9h.9v.9h-.9zM245.5 165.4h.9v.9h-.9zM229.1 173.6h.9v.9h-.9zM232 168.4h.9v.9h-.9zM226.8 151.2h.9v.9h-.9zM242.5 153.7h.9v.9h-.9zM222.6 160.9h.9v.9h-.9zM223.6 164.7h.9v.9h-.9zM232 158.5h.9v.9h-.9zM226.6 170.2h.9v.9h-.9zM242.8 167.9h.9v.9h-.9zM220.4 171.6h.9v.9h-.9zM232.2 172h.9v.9h-.9zM235.7 155.2h.9v.9h-.9zM217.5 155.2h.9v.9h-.9zM241.4 156.8h.9v.9h-.9zM245 150.9h.9v.9h-.9zM236.7 159.1h.9v.9h-.9zM219.7 162.6h.9v.9h-.9zM228 157.9h.9v.9h-.9zM214 152.9h.9v.9h-.9zM225.8 158.9h.9v.9h-.9zM224.4 174.3h.9v.9h-.9zM227.9 161.4h.9v.9h-.9zM228.6 168.9h.9v.9h-.9zM236.1 167h.9v.9h-.9zM218.5 161.1h.9v.9h-.9zM230.1 164.5h.9v.9h-.9zM225.7 161h.9v.9h-.9zM223.1 157.4h.9v.9h-.9zM234.2 156.4h.9v.9h-.9zM224.2 159h.9v.9h-.9zM234 162.9h.9v.9h-.9zM221.4 156.9h.9v.9h-.9zM221.6 152.8h.9v.9h-.9zM251 168.5h.9v.9h-.9zM237.1 157.9h.9v.9h-.9zM238.4 170.9h.9v.9h-.9zM241.5 165.1h.9v.9h-.9zM223 176.9h.9v.9h-.9zM237.6 166.1h.9v.9h-.9zM234.1 162.6h.9v.9h-.9zM227.9 148h.9v.9h-.9zM246 178.3h.9v.9h-.9zM235.2 164.7h.9v.9h-.9zM207 158.9h.9v.9h-.9zM206.2 156.8h.9v.9h-.9zM210.8 152.7h.9v.9h-.9zM215.3 156h.9v.9h-.9zM210.3 158.5h.9v.9h-.9zM216.5 161.2h.9v.9h-.9zM199.5 154.6h.9v.9h-.9zM208.1 152.9h.9v.9h-.9zM210.7 156.7h.9v.9h-.9zM202.5 159.1h.9v.9h-.9zM201.6 155.1h.9v.9h-.9zM207 159.2h.9v.9h-.9zM205.9 156.1h.9v.9h-.9zM208.2 156.1h.9v.9h-.9zM196.7 159.3h.9v.9h-.9zM209.9 159.8h.9v.9h-.9zM207.8 158.2h.9v.9h-.9zM197.2 153.5h.9v.9h-.9zM196.7 160h.9v.9h-.9zM202.9 160.4h.9v.9h-.9zM209.5 155.9h.9v.9h-.9zM206.4 155h.9v.9h-.9zM204.3 157.8h.9v.9h-.9zM211 155.8h.9v.9h-.9zM197.6 159.9h.9v.9h-.9zM200.4 158.8h.9v.9h-.9zM198 154.7h.9v.9h-.9zM196.7 158.6h.9v.9h-.9zM209.5 164.8h.9v.9h-.9zM218 157.3h.9v.9h-.9zM196.7 156.4h.9v.9h-.9zM208.4 157.9h.9v.9h-.9zM207.8 154.4h.9v.9h-.9zM205.1 161.8h.9v.9h-.9zM203.7 156h.9v.9h-.9zM199.8 155.4h.9v.9h-.9zM214 157.9h.9v.9h-.9zM203.8 156.1h.9v.9h-.9zM211.7 155.5h.9v.9h-.9zM202.1 156.2h.9v.9h-.9zM196.7 159.9h.9v.9h-.9zM202 158.9h.9v.9h-.9zM206.8 159.6h.9v.9h-.9zM203.7 163.2h.9v.9h-.9zM210.1 156.5h.9v.9h-.9zM208.7 151.7h.9v.9h-.9zM200.1 151.8h.9v.9h-.9zM205.2 162.5h.9v.9h-.9zM208.8 153.3h.9v.9h-.9zM197.6 157.9h.9v.9h-.9zM210.5 156.5h.9v.9h-.9zM215.4 157.6h.9v.9h-.9zM218.8 159.1h.9v.9h-.9zM219 150.3h.9v.9h-.9zM211.3 159h.9v.9h-.9zM215.6 158.5h.9v.9h-.9zM209.2 157.8h.9v.9h-.9zM208 158.4h.9v.9h-.9zM216.3 152.9h.9v.9h-.9zM204.2 153.3h.9v.9h-.9zM203.3 157.7h.9v.9h-.9zM207.9 158h.9v.9h-.9zM211.1 158.1h.9v.9h-.9zM204.8 156.7h.9v.9h-.9zM200.5 155.9h.9v.9h-.9zM206.2 158h.9v.9h-.9zM197.4 159.8h.9v.9h-.9zM206.3 153.1h.9v.9h-.9zM205.8 158.5h.9v.9h-.9zM207.3 156h.9v.9h-.9zM201.6 183.6h.9v.9h-.9zM228.1 179.4h.9v.9h-.9zM216.9 190.5h.9v.9h-.9zM237.2 192.5h.9v.9h-.9zM238.2 182.4h.9v.9h-.9zM205.1 175.4h.9v.9h-.9zM236.3 192.5h.9v.9h-.9zM238.4 188.3h.9v.9h-.9zM221.1 176h.9v.9h-.9zM223.5 177.5h.9v.9h-.9zM214.4 191.8h.9v.9h-.9zM231.6 194.7h.9v.9h-.9zM247.8 190.9h.9v.9h-.9zM252.2 178.4h.9v.9h-.9zM240.7 188.9h.9v.9h-.9zM229.5 177.7h.9v.9h-.9zM226.5 194.9h.9v.9h-.9zM239.1 195.5h.9v.9h-.9zM243 176.5h.9v.9h-.9zM220.6 193.6h.9v.9h-.9zM239.5 185.8h.9v.9h-.9zM223.8 183.6h.9v.9h-.9zM218.7 182.8h.9v.9h-.9zM224.8 188h.9v.9h-.9zM206.1 178.7h.9v.9h-.9zM234.2 187.6h.9v.9h-.9zM225.9 186.4h.9v.9h-.9zM217.9 196.9h.9v.9h-.9zM214.6 186.7h.9v.9h-.9zM214.6 188.2h.9v.9h-.9zM215 184.3h.9v.9h-.9zM199.9 182.5h.9v.9h-.9zM223.8 188.6h.9v.9h-.9zM242.6 176.1h.9v.9h-.9zM216 180.3h.9v.9h-.9zM224.2 195h.9v.9h-.9zM251.9 190.9h.9v.9h-.9zM252.2 186h.9v.9h-.9zM233.5 178h.9v.9h-.9zM239.7 180.8h.9v.9h-.9zM229.7 180.1h.9v.9h-.9zM227.2 183.7h.9v.9h-.9zM248.8 186.5h.9v.9h-.9zM242.2 180.7h.9v.9h-.9zM226.8 186.6h.9v.9h-.9zM215.3 184.1h.9v.9h-.9zM198.2 178.3h.9v.9h-.9zM216.5 190h.9v.9h-.9zM231.3 190.7h.9v.9h-.9zM202.4 179.8h.9v.9h-.9zM251.7 178h.9v.9h-.9zM207.2 187.2h.9v.9h-.9zM224.2 194.2h.9v.9h-.9zM247.5 187.8h.9v.9h-.9zM223.5 184.8h.9v.9h-.9zM255.2 177.4h.9v.9h-.9zM225.5 191.8h.9v.9h-.9zM236.6 177.1h.9v.9h-.9zM244.9 195.4h.9v.9h-.9zM241 178.8h.9v.9h-.9zM249.9 178.2h.9v.9h-.9zM197.9 190.4h.9v.9h-.9zM237.8 192.2h.9v.9h-.9zM228.2 176.5h.9v.9h-.9zM199.2 189.2h.9v.9h-.9zM226.2 188.2h.9v.9h-.9zM226.2 188.1h.9v.9h-.9zM222.3 190.8h.9v.9h-.9zM224.6 187.3h.9v.9h-.9zM228.5 192.3h.9v.9h-.9zM226.8 186.7h.9v.9h-.9zM223.7 188h.9v.9h-.9zM226.3 196.6h.9v.9h-.9zM227.9 189.7h.9v.9h-.9zM223.7 187.2h.9v.9h-.9zM224 190.3h.9v.9h-.9zM225.1 190.9h.9v.9h-.9zM227 187.7h.9v.9h-.9zM227.7 190h.9v.9h-.9zM229.6 189.7h.9v.9h-.9zM224.9 189.7h.9v.9h-.9zM228.7 191h.9v.9h-.9zM228.6 192h.9v.9h-.9zM226.5 194.5h.9v.9h-.9zM225.5 189.5h.9v.9h-.9zM228.4 187.7h.9v.9h-.9zM226.5 191.9h.9v.9h-.9zM223.6 186.2h.9v.9h-.9zM222.3 192.2h.9v.9h-.9zM231.7 188.2h.9v.9h-.9zM233.5 167.3h.9v.9h-.9zM201.4 164.5h.9v.9h-.9zM247.3 155h.9v.9h-.9zM247.1 155.1h.9v.9h-.9zM246.2 154.6h.9v.9h-.9zM229.7 162.2h.9v.9h-.9zM204.1 148.2h.9v.9h-.9zM217.6 157.2h.9v.9h-.9zM234.7 171h.9v.9h-.9zM252.6 149.3h.9v.9h-.9zM238.8 149h.9v.9h-.9zM200.9 148.6h.9v.9h-.9zM249.8 164.4h.9v.9h-.9zM227.7 161h.9v.9h-.9zM233.9 148.7h.9v.9h-.9zM225.1 169.6h.9v.9h-.9zM198.9 164.5h.9v.9h-.9zM201.3 159.9h.9v.9h-.9zM207.5 147.9h.9v.9h-.9zM200.7 157.1h.9v.9h-.9z" fill="#b8382a" fill-opacity=".55"/><path d="M232.8 154.2h.9v.9h-.9zM225.1 168.1h.9v.9h-.9zM231.4 166.2h.9v.9h-.9zM236.2 156.4h.9v.9h-.9zM233.2 154.2h.9v.9h-.9zM235.2 158.1h.9v.9h-.9zM236.1 165.4h.9v.9h-.9zM228.8 163.1h.9v.9h-.9zM234.2 156.2h.9v.9h-.9zM233.4 165.3h.9v.9h-.9zM232.8 164h.9v.9h-.9zM233.7 165.5h.9v.9h-.9zM231.2 157.2h.9v.9h-.9zM235.3 147.1h.9v.9h-.9zM229.2 166.9h.9v.9h-.9zM228 168.5h.9v.9h-.9zM240.5 156.3h.9v.9h-.9zM227.9 161h.9v.9h-.9zM236.7 168h.9v.9h-.9zM240.1 155.2h.9v.9h-.9zM236.5 156.3h.9v.9h-.9zM237.7 161.3h.9v.9h-.9zM239.6 158.5h.9v.9h-.9zM236.3 152.3h.9v.9h-.9zM226.8 161.5h.9v.9h-.9zM232.5 163.5h.9v.9h-.9zM244.2 155.7h.9v.9h-.9zM225.7 153.4h.9v.9h-.9zM228.7 164.9h.9v.9h-.9zM234 157.3h.9v.9h-.9zM235.5 158h.9v.9h-.9zM233.3 158.8h.9v.9h-.9zM224.8 163.1h.9v.9h-.9zM232.9 170.5h.9v.9h-.9zM232.5 155.8h.9v.9h-.9zM232.9 155.1h.9v.9h-.9zM231.8 156.9h.9v.9h-.9zM233.8 154.1h.9v.9h-.9zM231.4 156.7h.9v.9h-.9zM226.8 158.5h.9v.9h-.9zM235.7 162.7h.9v.9h-.9zM233.7 158.3h.9v.9h-.9zM237.1 157.4h.9v.9h-.9zM235.6 149.9h.9v.9h-.9zM225.6 155.1h.9v.9h-.9zM238.1 157.5h.9v.9h-.9zM234.5 153.1h.9v.9h-.9zM223.9 173.4h.9v.9h-.9zM240.8 168h.9v.9h-.9zM232.1 155.4h.9v.9h-.9zM233.4 157.6h.9v.9h-.9zM229.5 145.9h.9v.9h-.9zM233.2 147.3h.9v.9h-.9zM229.3 150.9h.9v.9h-.9zM242.7 152.2h.9v.9h-.9zM229.9 160.8h.9v.9h-.9zM230.3 160.1h.9v.9h-.9zM237 155.5h.9v.9h-.9zM234.8 158.2h.9v.9h-.9zM225 160.3h.9v.9h-.9zM226.3 164.2h.9v.9h-.9zM232.1 159.7h.9v.9h-.9zM237.4 154.5h.9v.9h-.9zM227.8 166.3h.9v.9h-.9zM235.9 161.1h.9v.9h-.9zM221.4 158.9h.9v.9h-.9zM227 155.6h.9v.9h-.9zM223.3 150.2h.9v.9h-.9zM229.7 160.8h.9v.9h-.9zM229.3 157.9h.9v.9h-.9zM232.5 165.8h.9v.9h-.9zM228.9 159.5h.9v.9h-.9zM246.9 158.6h.9v.9h-.9zM236.5 152.6h.9v.9h-.9zM226.3 156.4h.9v.9h-.9zM248.7 155.5h.9v.9h-.9zM239.7 156.2h.9v.9h-.9zM225.3 149h.9v.9h-.9zM233 164.3h.9v.9h-.9zM227.8 156.7h.9v.9h-.9zM226.1 155h.9v.9h-.9zM237.6 155.9h.9v.9h-.9zM226.4 162h.9v.9h-.9zM233.5 158.5h.9v.9h-.9zM243.3 160.3h.9v.9h-.9zM238.4 152.3h.9v.9h-.9zM231.7 165.4h.9v.9h-.9zM236.2 163.5h.9v.9h-.9zM224 157.3h.9v.9h-.9zM241.3 166.4h.9v.9h-.9zM215.2 148.9h.9v.9h-.9zM239.6 162.9h.9v.9h-.9zM239.4 144.8h.9v.9h-.9zM232.6 162.9h.9v.9h-.9zM238.9 153.7h.9v.9h-.9zM237.9 162.9h.9v.9h-.9zM229.3 167.1h.9v.9h-.9zM239.1 163.4h.9v.9h-.9zM229.6 160.2h.9v.9h-.9zM232 167.5h.9v.9h-.9zM245.7 154.2h.9v.9h-.9zM243.2 161h.9v.9h-.9zM228.4 154.9h.9v.9h-.9zM240.7 160.4h.9v.9h-.9zM228.5 157.7h.9v.9h-.9zM230 158.1h.9v.9h-.9zM242.2 155.1h.9v.9h-.9zM230.4 144.8h.9v.9h-.9zM235 163.7h.9v.9h-.9zM243.6 155.5h.9v.9h-.9zM230.5 156.6h.9v.9h-.9zM225.2 158.7h.9v.9h-.9zM227.8 157.5h.9v.9h-.9zM233 162.7h.9v.9h-.9zM232.5 171.3h.9v.9h-.9zM234 161.5h.9v.9h-.9zM235.1 158.2h.9v.9h-.9zM237.6 159.5h.9v.9h-.9zM224.7 155.9h.9v.9h-.9zM240.5 150.3h.9v.9h-.9zM242 159.3h.9v.9h-.9zM233.6 165.2h.9v.9h-.9zM233.5 156.2h.9v.9h-.9zM219.9 155.5h.9v.9h-.9zM225.6 162.4h.9v.9h-.9zM232.7 153.8h.9v.9h-.9zM238.8 163.3h.9v.9h-.9zM244.7 160.1h.9v.9h-.9zM225.3 159.2h.9v.9h-.9zM236.5 163.3h.9v.9h-.9zM224.8 161.2h.9v.9h-.9zM236 160.8h.9v.9h-.9zM223 156.3h.9v.9h-.9zM231.5 157.5h.9v.9h-.9zM237.3 156.7h.9v.9h-.9zM221.8 147.6h.9v.9h-.9zM234.9 154.5h.9v.9h-.9zM232 164.5h.9v.9h-.9zM229.2 158.5h.9v.9h-.9zM224.1 152.4h.9v.9h-.9zM235.5 164.7h.9v.9h-.9zM228.5 157.7h.9v.9h-.9zM234.1 156.4h.9v.9h-.9zM232.6 156.6h.9v.9h-.9zM235.6 156h.9v.9h-.9zM229.5 151.5h.9v.9h-.9zM227.8 150.9h.9v.9h-.9zM231.4 163.8h.9v.9h-.9zM224.9 154.2h.9v.9h-.9zM227.9 161h.9v.9h-.9zM230.5 156.9h.9v.9h-.9zM226.8 157.2h.9v.9h-.9zM230.2 154.4h.9v.9h-.9zM240.2 161.2h.9v.9h-.9zM231.3 160.2h.9v.9h-.9zM245.2 161.8h.9v.9h-.9zM229.2 158.4h.9v.9h-.9zM238.7 161h.9v.9h-.9zM230.7 159.1h.9v.9h-.9zM225.9 156.9h.9v.9h-.9zM229.9 157.3h.9v.9h-.9zM239.9 158.8h.9v.9h-.9zM238.8 158.6h.9v.9h-.9zM223.7 164.9h.9v.9h-.9zM229.1 158h.9v.9h-.9zM238.4 165.8h.9v.9h-.9zM233.1 165.2h.9v.9h-.9zM229.4 161.9h.9v.9h-.9zM227.1 163.7h.9v.9h-.9zM229 162h.9v.9h-.9zM225.4 166h.9v.9h-.9zM241.4 157.2h.9v.9h-.9zM232.6 153.6h.9v.9h-.9zM231.1 151.1h.9v.9h-.9zM236.3 158.2h.9v.9h-.9zM238.8 158.6h.9v.9h-.9zM230.9 154.3h.9v.9h-.9zM235.8 157.9h.9v.9h-.9zM225.5 150.9h.9v.9h-.9zM237.6 158h.9v.9h-.9zM231.8 155.7h.9v.9h-.9zM229.2 158.5h.9v.9h-.9zM233.3 152.4h.9v.9h-.9zM246.2 163.3h.9v.9h-.9zM221.4 158.9h.9v.9h-.9zM238.6 155.2h.9v.9h-.9zM224.5 161.3h.9v.9h-.9zM228.7 158.5h.9v.9h-.9zM241.5 158.6h.9v.9h-.9zM239.7 154.5h.9v.9h-.9zM221.9 156.6h.9v.9h-.9zM230 162h.9v.9h-.9zM234.7 148.4h.9v.9h-.9zM225.9 156.3h.9v.9h-.9zM228.1 155.2h.9v.9h-.9zM230.3 159.4h.9v.9h-.9zM223.7 153.8h.9v.9h-.9zM227.1 164.7h.9v.9h-.9zM231.2 150.9h.9v.9h-.9zM235 163.3h.9v.9h-.9zM223.1 152.3h.9v.9h-.9zM234.7 158.8h.9v.9h-.9zM235.6 166.8h.9v.9h-.9zM236 163.7h.9v.9h-.9zM229.5 165.8h.9v.9h-.9zM228.3 160.3h.9v.9h-.9zM220.8 156.4h.9v.9h-.9zM236.6 153.8h.9v.9h-.9zM229.6 147.4h.9v.9h-.9zM230.3 151.8h.9v.9h-.9zM232.5 156.1h.9v.9h-.9zM228.3 156.8h.9v.9h-.9zM229.9 158.5h.9v.9h-.9zM230.7 164.4h.9v.9h-.9zM238.2 145.7h.9v.9h-.9zM239.8 157.4h.9v.9h-.9zM234.2 153.9h.9v.9h-.9zM235.6 161.5h.9v.9h-.9zM229 152.7h.9v.9h-.9zM235.1 160.8h.9v.9h-.9zM227.1 147.6h.9v.9h-.9zM225.9 160.5h.9v.9h-.9zM239.4 153.5h.9v.9h-.9zM229 153h.9v.9h-.9zM234.2 154.5h.9v.9h-.9zM241.7 161.5h.9v.9h-.9zM231.1 156.4h.9v.9h-.9zM237.9 156.5h.9v.9h-.9zM230.1 159h.9v.9h-.9zM238.1 165.8h.9v.9h-.9zM230.3 152.2h.9v.9h-.9zM227.1 157.6h.9v.9h-.9zM235.8 145.1h.9v.9h-.9zM235.9 160.6h.9v.9h-.9zM233.4 150.9h.9v.9h-.9zM232.8 155.8h.9v.9h-.9zM227 161.6h.9v.9h-.9zM239.2 159.4h.9v.9h-.9zM235.5 163.6h.9v.9h-.9zM232.5 156.3h.9v.9h-.9zM240.6 155.3h.9v.9h-.9zM230.6 160.2h.9v.9h-.9zM230 153.6h.9v.9h-.9zM238.4 158.4h.9v.9h-.9zM228.4 155.5h.9v.9h-.9zM235.6 162.6h.9v.9h-.9zM233.4 164.3h.9v.9h-.9zM232.2 166.5h.9v.9h-.9zM237.4 152.6h.9v.9h-.9zM231.8 160.1h.9v.9h-.9zM232.2 153.4h.9v.9h-.9zM235 158.1h.9v.9h-.9zM224.1 152h.9v.9h-.9zM230.2 163.2h.9v.9h-.9zM232.1 159.4h.9v.9h-.9zM237.6 157.3h.9v.9h-.9zM232.4 158.1h.9v.9h-.9zM237.4 155.1h.9v.9h-.9zM234.5 154.8h.9v.9h-.9zM232.8 164h.9v.9h-.9zM196.9 159.8h.9v.9h-.9zM197.6 160.4h.9v.9h-.9zM197.2 167.9h.9v.9h-.9zM196.7 157.9h.9v.9h-.9zM196.7 144.8h.9v.9h-.9zM197.6 164.7h.9v.9h-.9zM197.3 161.6h.9v.9h-.9zM197.3 167.3h.9v.9h-.9zM197.1 162.3h.9v.9h-.9zM197.7 145.3h.9v.9h-.9zM198.3 153.3h.9v.9h-.9zM196.7 152.7h.9v.9h-.9zM198.1 154.7h.9v.9h-.9zM198 150.4h.9v.9h-.9zM197.6 144.8h.9v.9h-.9zM197.3 168.4h.9v.9h-.9zM197.1 159.4h.9v.9h-.9zM196.7 171.3h.9v.9h-.9zM197.3 161.6h.9v.9h-.9zM197.2 149.7h.9v.9h-.9zM197.2 155.3h.9v.9h-.9zM196.7 156.7h.9v.9h-.9zM196.8 154h.9v.9h-.9zM196.7 150.1h.9v.9h-.9zM197.7 159.7h.9v.9h-.9zM197.3 161.3h.9v.9h-.9zM198.6 160.8h.9v.9h-.9zM197.5 157.3h.9v.9h-.9zM197.7 163.1h.9v.9h-.9zM196.7 174.8h.9v.9h-.9z" fill="#c21e1e" fill-opacity=".7"/><path d="M231.2 158.4h.9v.9h-.9zM237.1 153.8h.9v.9h-.9zM226.8 160.6h.9v.9h-.9zM236 163.1h.9v.9h-.9zM234.4 153.6h.9v.9h-.9zM235.2 159h.9v.9h-.9zM229 153.2h.9v.9h-.9zM227.2 158.6h.9v.9h-.9zM228.1 159.6h.9v.9h-.9zM231.9 160.5h.9v.9h-.9zM235.4 155.5h.9v.9h-.9zM231.2 160.8h.9v.9h-.9zM230.3 161.7h.9v.9h-.9zM234.4 161.3h.9v.9h-.9zM230.4 161h.9v.9h-.9zM231.7 159.1h.9v.9h-.9zM234.6 156.6h.9v.9h-.9zM232.3 150.7h.9v.9h-.9zM230.1 160.4h.9v.9h-.9zM228.8 151.5h.9v.9h-.9zM227.6 157.4h.9v.9h-.9zM234.7 160.1h.9v.9h-.9zM227.7 159.7h.9v.9h-.9zM228.3 161.9h.9v.9h-.9zM233.7 156.3h.9v.9h-.9zM230.9 158.2h.9v.9h-.9zM230.5 162.2h.9v.9h-.9zM233.5 156.6h.9v.9h-.9zM234 153.9h.9v.9h-.9zM233 157.3h.9v.9h-.9zM230.5 158.2h.9v.9h-.9zM233.2 153.6h.9v.9h-.9zM233.7 168h.9v.9h-.9zM235.1 156.5h.9v.9h-.9zM233.6 163.8h.9v.9h-.9zM228.8 163.8h.9v.9h-.9zM231.2 164.6h.9v.9h-.9zM229.7 161.8h.9v.9h-.9zM230.5 162.5h.9v.9h-.9zM235.4 159.5h.9v.9h-.9zM229.6 161.8h.9v.9h-.9zM233.7 154.9h.9v.9h-.9zM234.3 157.8h.9v.9h-.9zM232 155.2h.9v.9h-.9zM233.1 161.2h.9v.9h-.9zM229.6 161h.9v.9h-.9zM226.4 158.8h.9v.9h-.9zM233.3 155.3h.9v.9h-.9zM232.9 154.1h.9v.9h-.9zM238.6 159.7h.9v.9h-.9zM236 155.4h.9v.9h-.9zM225 158.1h.9v.9h-.9zM236.9 157.9h.9v.9h-.9zM236.3 159.7h.9v.9h-.9zM233.5 161.8h.9v.9h-.9zM230.5 157.1h.9v.9h-.9zM236 159.9h.9v.9h-.9zM230.6 154.9h.9v.9h-.9zM237.3 147.8h.9v.9h-.9zM235.4 157.9h.9v.9h-.9zM228.2 159.7h.9v.9h-.9zM234 165.8h.9v.9h-.9zM233.4 150.2h.9v.9h-.9zM229.4 160.9h.9v.9h-.9zM230.8 158.2h.9v.9h-.9zM232.2 163.1h.9v.9h-.9zM233.5 157.9h.9v.9h-.9zM230.3 161.7h.9v.9h-.9zM230.2 159.7h.9v.9h-.9zM233.8 160.8h.9v.9h-.9zM235 159.3h.9v.9h-.9zM238.9 161h.9v.9h-.9zM230 155.4h.9v.9h-.9zM230.2 162.7h.9v.9h-.9zM228.9 163.5h.9v.9h-.9zM233.8 156.5h.9v.9h-.9zM229.2 158.1h.9v.9h-.9zM234.9 158.2h.9v.9h-.9zM234.7 158.9h.9v.9h-.9zM236.8 156.8h.9v.9h-.9zM232 154.7h.9v.9h-.9zM231.4 155.1h.9v.9h-.9zM227.5 157.7h.9v.9h-.9zM234.6 151.1h.9v.9h-.9zM228.3 153.8h.9v.9h-.9zM233.6 160.2h.9v.9h-.9zM233.5 157.8h.9v.9h-.9zM229.9 159h.9v.9h-.9zM229.6 157.6h.9v.9h-.9zM233.7 157.6h.9v.9h-.9zM236.3 151.3h.9v.9h-.9zM227.3 161.6h.9v.9h-.9zM230.6 156.9h.9v.9h-.9zM230.6 158.2h.9v.9h-.9zM231.9 159.6h.9v.9h-.9zM235.4 164.4h.9v.9h-.9zM225.6 158h.9v.9h-.9zM229.6 159.1h.9v.9h-.9zM229.2 158.6h.9v.9h-.9zM233.3 158.3h.9v.9h-.9zM233.2 160.5h.9v.9h-.9zM229 158.2h.9v.9h-.9zM235.8 161.4h.9v.9h-.9zM235.6 155.7h.9v.9h-.9zM230.3 161.6h.9v.9h-.9zM232.4 159.3h.9v.9h-.9zM231.3 161.4h.9v.9h-.9zM233 155.2h.9v.9h-.9zM233.6 157.3h.9v.9h-.9zM231.6 160.2h.9v.9h-.9zM232.9 156.5h.9v.9h-.9zM228.7 156.9h.9v.9h-.9zM232 154.5h.9v.9h-.9zM230.4 166h.9v.9h-.9zM230.4 158.6h.9v.9h-.9zM228.5 157.3h.9v.9h-.9zM233.2 158.9h.9v.9h-.9zM227 158.5h.9v.9h-.9zM229.3 161.9h.9v.9h-.9zM232.1 163.5h.9v.9h-.9zM233.6 154.6h.9v.9h-.9zM235.4 156.8h.9v.9h-.9zM232.1 158.7h.9v.9h-.9zM228.3 162.2h.9v.9h-.9zM232.9 155h.9v.9h-.9zM228 159.9h.9v.9h-.9zM236.3 159.7h.9v.9h-.9zM233.4 157h.9v.9h-.9zM235.9 160.2h.9v.9h-.9zM229.9 156.4h.9v.9h-.9zM225.5 162.1h.9v.9h-.9zM242 158h.9v.9h-.9zM233.8 160.9h.9v.9h-.9zM231.7 165.4h.9v.9h-.9zM229.2 155.7h.9v.9h-.9zM237.6 161.4h.9v.9h-.9zM234.8 158.1h.9v.9h-.9zM232.3 158.9h.9v.9h-.9zM233.8 156.4h.9v.9h-.9zM235.7 164.1h.9v.9h-.9zM230.7 155.3h.9v.9h-.9zM232.8 166.4h.9v.9h-.9zM229.3 162.8h.9v.9h-.9zM230.3 156h.9v.9h-.9zM235.9 157.9h.9v.9h-.9zM232.3 160.7h.9v.9h-.9zM236 159.2h.9v.9h-.9zM237.4 156.2h.9v.9h-.9zM230.7 160.6h.9v.9h-.9zM234.5 152.8h.9v.9h-.9zM231.4 160.6h.9v.9h-.9zM231.9 164.2h.9v.9h-.9zM227.4 159.1h.9v.9h-.9zM229.7 153.3h.9v.9h-.9zM231.7 158.2h.9v.9h-.9zM231.1 156.4h.9v.9h-.9zM235.2 155h.9v.9h-.9zM230.4 153.9h.9v.9h-.9zM236.1 153.7h.9v.9h-.9zM237.9 155.4h.9v.9h-.9zM232.3 163.7h.9v.9h-.9zM229 162.7h.9v.9h-.9zM228.2 156.9h.9v.9h-.9zM234.2 159.5h.9v.9h-.9zM233.5 159.4h.9v.9h-.9zM237.4 153.2h.9v.9h-.9zM230.2 161.3h.9v.9h-.9zM227.7 156.2h.9v.9h-.9zM240.2 162.8h.9v.9h-.9zM234 158.7h.9v.9h-.9zM231.9 155.6h.9v.9h-.9zM229.6 155.3h.9v.9h-.9zM228.3 158.9h.9v.9h-.9zM233.8 155.4h.9v.9h-.9zM232.8 154.2h.9v.9h-.9zM233.6 157.4h.9v.9h-.9zM232.2 159.1h.9v.9h-.9zM236.6 159.1h.9v.9h-.9zM230.3 159h.9v.9h-.9zM233.7 160.2h.9v.9h-.9zM235.8 155.8h.9v.9h-.9zM228.6 160.5h.9v.9h-.9zM228.8 159.9h.9v.9h-.9zM241.1 162.5h.9v.9h-.9zM227.7 155.8h.9v.9h-.9zM233.7 157.5h.9v.9h-.9zM234.6 159.2h.9v.9h-.9zM233.5 160.3h.9v.9h-.9zM227.4 162.2h.9v.9h-.9zM227.9 155.6h.9v.9h-.9zM224.7 158.5h.9v.9h-.9zM233.7 157.2h.9v.9h-.9zM228.6 151.4h.9v.9h-.9zM234.2 154.7h.9v.9h-.9zM231.2 159.2h.9v.9h-.9zM232.2 159.8h.9v.9h-.9zM237.7 160.8h.9v.9h-.9zM229.1 158.3h.9v.9h-.9zM231.7 155.7h.9v.9h-.9zM234.5 157.2h.9v.9h-.9zM233.2 160.5h.9v.9h-.9zM239.2 156.5h.9v.9h-.9zM234.7 165.4h.9v.9h-.9zM237.5 159.4h.9v.9h-.9zM230 159h.9v.9h-.9zM230.4 157.1h.9v.9h-.9zM226.9 157.5h.9v.9h-.9zM225.9 161.7h.9v.9h-.9zM234.1 157.1h.9v.9h-.9zM232.5 158.9h.9v.9h-.9zM231.6 159.4h.9v.9h-.9zM231.8 159.9h.9v.9h-.9zM229.8 158.7h.9v.9h-.9zM237.8 155.9h.9v.9h-.9zM229.8 161.5h.9v.9h-.9zM233.4 159h.9v.9h-.9zM233 157.2h.9v.9h-.9zM230.7 160.1h.9v.9h-.9zM233 160.6h.9v.9h-.9zM233.9 165.7h.9v.9h-.9zM232.7 163h.9v.9h-.9zM232.9 165.8h.9v.9h-.9zM235.6 156h.9v.9h-.9zM237.5 156.7h.9v.9h-.9zM235.7 156h.9v.9h-.9zM233.6 159h.9v.9h-.9zM237 151.5h.9v.9h-.9zM226.2 161.7h.9v.9h-.9zM234.9 156.9h.9v.9h-.9zM232.7 152.9h.9v.9h-.9zM231.2 156.4h.9v.9h-.9zM235.3 159.3h.9v.9h-.9zM231.9 162.3h.9v.9h-.9zM230.3 161h.9v.9h-.9zM231.7 160h.9v.9h-.9zM231.5 163.1h.9v.9h-.9zM231 165.1h.9v.9h-.9zM235 155.8h.9v.9h-.9zM231 162.9h.9v.9h-.9zM237.2 154.6h.9v.9h-.9zM233 160.5h.9v.9h-.9zM240.1 160.7h.9v.9h-.9zM231.8 161.5h.9v.9h-.9zM232.7 155.8h.9v.9h-.9zM232.3 157.8h.9v.9h-.9zM231.7 158.8h.9v.9h-.9zM233.6 156h.9v.9h-.9zM234.6 153.5h.9v.9h-.9zM234.6 160.1h.9v.9h-.9zM233.8 153.7h.9v.9h-.9zM230.8 159.2h.9v.9h-.9zM233.9 161h.9v.9h-.9zM227.5 158.6h.9v.9h-.9zM235.9 154.8h.9v.9h-.9zM228.5 157.1h.9v.9h-.9zM231.6 157.7h.9v.9h-.9zM236.5 159.5h.9v.9h-.9zM226.2 161.1h.9v.9h-.9zM232.7 161.3h.9v.9h-.9zM232.3 163.1h.9v.9h-.9zM232.9 157h.9v.9h-.9zM228.5 161.6h.9v.9h-.9zM232 152.9h.9v.9h-.9zM235.2 162.8h.9v.9h-.9zM225.6 160.4h.9v.9h-.9zM234.6 164.2h.9v.9h-.9zM236.4 156.2h.9v.9h-.9zM233.9 161h.9v.9h-.9zM227.6 163.3h.9v.9h-.9zM234 161.3h.9v.9h-.9zM229.6 161.3h.9v.9h-.9zM232.3 157.6h.9v.9h-.9zM232.5 159.7h.9v.9h-.9zM227.5 158.6h.9v.9h-.9zM233.6 153.4h.9v.9h-.9zM238 166.9h.9v.9h-.9zM234.6 158.6h.9v.9h-.9zM229.1 155h.9v.9h-.9zM228.4 161.5h.9v.9h-.9zM229.6 159.2h.9v.9h-.9zM231 161.5h.9v.9h-.9zM236.6 161.6h.9v.9h-.9zM234.6 162.1h.9v.9h-.9zM238 155.8h.9v.9h-.9zM233.3 156.5h.9v.9h-.9zM232.6 157.9h.9v.9h-.9zM232.8 160.9h.9v.9h-.9zM228.2 150.2h.9v.9h-.9zM233.3 162.1h.9v.9h-.9zM231.1 163.4h.9v.9h-.9zM239.8 158.9h.9v.9h-.9zM231.7 160.3h.9v.9h-.9zM234.9 153.8h.9v.9h-.9zM234.1 152h.9v.9h-.9zM228.9 159.4h.9v.9h-.9zM233.4 154.8h.9v.9h-.9zM232.6 162.8h.9v.9h-.9zM227.1 160.5h.9v.9h-.9zM236.6 154.3h.9v.9h-.9zM236.3 160.1h.9v.9h-.9zM231.4 158.7h.9v.9h-.9zM232.3 158.8h.9v.9h-.9zM231.8 156.3h.9v.9h-.9zM235.4 164.2h.9v.9h-.9zM231.8 163.2h.9v.9h-.9zM229.9 154.5h.9v.9h-.9zM234.5 159.4h.9v.9h-.9zM233.9 155.6h.9v.9h-.9zM231.1 162h.9v.9h-.9zM237.6 159.5h.9v.9h-.9zM233.7 150.1h.9v.9h-.9zM230.3 162.9h.9v.9h-.9zM238.6 156h.9v.9h-.9zM224.2 160.3h.9v.9h-.9zM228.2 157.3h.9v.9h-.9zM230.5 157.5h.9v.9h-.9zM229.3 160.8h.9v.9h-.9zM233.4 154.4h.9v.9h-.9zM227.3 165.4h.9v.9h-.9zM234.3 159.3h.9v.9h-.9zM226.9 165.7h.9v.9h-.9zM229 159.1h.9v.9h-.9zM233.5 156.3h.9v.9h-.9zM232.8 157.2h.9v.9h-.9zM225.7 154.2h.9v.9h-.9zM230.4 157h.9v.9h-.9zM233.8 164h.9v.9h-.9zM231.6 165.7h.9v.9h-.9zM231 159h.9v.9h-.9zM231.7 153.2h.9v.9h-.9zM232.2 158h.9v.9h-.9zM229.7 161.1h.9v.9h-.9zM233.7 157.7h.9v.9h-.9zM229.5 159.6h.9v.9h-.9zM229.8 155.9h.9v.9h-.9zM230.8 161.7h.9v.9h-.9zM231.5 158.2h.9v.9h-.9zM231.3 160.6h.9v.9h-.9zM231.9 161.4h.9v.9h-.9zM231.9 161.4h.9v.9h-.9zM231.4 156.3h.9v.9h-.9zM233.7 158h.9v.9h-.9zM230.9 163.4h.9v.9h-.9zM230.8 156.1h.9v.9h-.9zM231.3 163.4h.9v.9h-.9zM228 162.5h.9v.9h-.9zM234 157.4h.9v.9h-.9zM231.3 156.3h.9v.9h-.9zM225.8 155.7h.9v.9h-.9zM227.8 153.5h.9v.9h-.9zM230.9 160.6h.9v.9h-.9zM229.3 157.6h.9v.9h-.9zM229.8 158h.9v.9h-.9zM233.6 162.6h.9v.9h-.9zM234.3 159.9h.9v.9h-.9zM236.8 161h.9v.9h-.9zM233.9 160.5h.9v.9h-.9zM235 155.4h.9v.9h-.9zM229.4 159h.9v.9h-.9zM226.5 157.8h.9v.9h-.9zM231.2 159.7h.9v.9h-.9zM234.5 162.9h.9v.9h-.9zM224.6 159.4h.9v.9h-.9zM233.4 163.4h.9v.9h-.9zM230.3 160.1h.9v.9h-.9zM231.8 155.6h.9v.9h-.9zM233.1 161.8h.9v.9h-.9zM231.1 159h.9v.9h-.9zM235.8 158.1h.9v.9h-.9zM231.2 159.7h.9v.9h-.9zM233.7 160h.9v.9h-.9zM236.3 160.1h.9v.9h-.9zM228.4 153.4h.9v.9h-.9zM232 164.2h.9v.9h-.9zM232.4 157.3h.9v.9h-.9zM233.1 160.4h.9v.9h-.9zM236.3 154.6h.9v.9h-.9zM234.7 159.3h.9v.9h-.9zM234.9 162.2h.9v.9h-.9zM225 161.7h.9v.9h-.9zM233.9 156.2h.9v.9h-.9zM231.8 162.1h.9v.9h-.9zM227.4 161.6h.9v.9h-.9zM234.8 164.4h.9v.9h-.9zM229.5 156.7h.9v.9h-.9zM235.5 157.8h.9v.9h-.9zM233.6 150.2h.9v.9h-.9zM240 152.7h.9v.9h-.9zM226.9 160.3h.9v.9h-.9zM233.8 156.1h.9v.9h-.9zM225.1 160.5h.9v.9h-.9zM233 155.7h.9v.9h-.9zM232.7 156.8h.9v.9h-.9zM228.9 161h.9v.9h-.9zM232.2 158.8h.9v.9h-.9zM228.2 156.4h.9v.9h-.9zM231.3 156.8h.9v.9h-.9zM233.3 158.8h.9v.9h-.9zM231.5 158.2h.9v.9h-.9zM233.5 162h.9v.9h-.9zM228.7 161.8h.9v.9h-.9zM235.1 161.3h.9v.9h-.9zM230.4 159.4h.9v.9h-.9zM239 154.4h.9v.9h-.9zM234.9 157.9h.9v.9h-.9zM237.6 159.2h.9v.9h-.9zM235 156.7h.9v.9h-.9zM230.6 163.9h.9v.9h-.9zM228.1 157h.9v.9h-.9zM231.4 154.6h.9v.9h-.9zM234.2 154.7h.9v.9h-.9zM232.4 157.9h.9v.9h-.9zM225.1 159.2h.9v.9h-.9zM227.2 158.8h.9v.9h-.9zM224.7 157h.9v.9h-.9zM234.9 159.6h.9v.9h-.9zM235.8 164h.9v.9h-.9zM234.6 158.1h.9v.9h-.9zM231.8 160.7h.9v.9h-.9zM228.2 155.3h.9v.9h-.9zM232.2 164.4h.9v.9h-.9zM228.6 159.5h.9v.9h-.9zM229.9 161h.9v.9h-.9zM233.3 158.6h.9v.9h-.9zM235.1 157.9h.9v.9h-.9zM226.8 165.6h.9v.9h-.9zM231.8 159.7h.9v.9h-.9zM234.7 156h.9v.9h-.9zM230.7 156.2h.9v.9h-.9zM234.1 160h.9v.9h-.9zM232.8 154.4h.9v.9h-.9zM229.5 154h.9v.9h-.9zM227.8 156.3h.9v.9h-.9zM233.2 160.3h.9v.9h-.9zM226.4 160.8h.9v.9h-.9zM233.4 163.9h.9v.9h-.9zM235 153.8h.9v.9h-.9zM233.8 159.5h.9v.9h-.9zM233.3 156.3h.9v.9h-.9zM236.9 159h.9v.9h-.9zM230.3 152.8h.9v.9h-.9zM231.4 154.2h.9v.9h-.9zM227.4 164h.9v.9h-.9zM232 161.9h.9v.9h-.9zM235.8 161.1h.9v.9h-.9zM230.8 154.8h.9v.9h-.9zM231.7 159.1h.9v.9h-.9zM231.7 157.7h.9v.9h-.9zM232.7 154h.9v.9h-.9zM235.6 154.8h.9v.9h-.9zM232.6 155.8h.9v.9h-.9zM236.6 156.9h.9v.9h-.9zM229.2 157.5h.9v.9h-.9zM235.1 154.6h.9v.9h-.9zM228 156.9h.9v.9h-.9zM234.7 149h.9v.9h-.9zM235.2 166.1h.9v.9h-.9zM231.6 161.7h.9v.9h-.9zM231.8 152.6h.9v.9h-.9zM230.8 160.7h.9v.9h-.9zM228.6 157.7h.9v.9h-.9zM230.1 160h.9v.9h-.9zM240.3 158.9h.9v.9h-.9zM228 164.2h.9v.9h-.9zM231.3 157.3h.9v.9h-.9zM233.8 161.2h.9v.9h-.9zM232.9 159.8h.9v.9h-.9zM232.8 154.7h.9v.9h-.9zM234.8 161.6h.9v.9h-.9zM229.7 152.9h.9v.9h-.9zM230.2 159.3h.9v.9h-.9zM236.8 159.4h.9v.9h-.9zM221.6 156.6h.9v.9h-.9zM232.4 159.5h.9v.9h-.9zM227.3 157.5h.9v.9h-.9zM232.7 161h.9v.9h-.9zM234.9 164.1h.9v.9h-.9zM230 157.2h.9v.9h-.9zM230.7 160.3h.9v.9h-.9zM238.7 159.3h.9v.9h-.9z" fill="#c81212" fill-opacity=".8"/></g><path d="M196.2 144.3H257.1V198.2" fill="none" stroke="#5a5a5a" stroke-width="1"/><path d="M196.2 144.3V198.2H257.1" fill="none" stroke="#1a1a1a" stroke-width="1.3"/><path d="M194.9 194.3h1.3M200.5 198.2v1.3M194.9 190.5h1.3M204.9 198.2v1.3M194.9 186.7h1.3M209.2 198.2v1.3M194.9 182.8h1.3M213.6 198.2v1.3M194.9 178.9h1.3M217.9 198.2v1.3M194.9 175.1h1.3M222.3 198.2v1.3M194.9 171.2h1.3M226.7 198.2v1.3M194.9 167.4h1.3M231 198.2v1.3M194.9 163.6h1.3M235.4 198.2v1.3M194.9 159.7h1.3M239.7 198.2v1.3M194.9 155.9h1.3M244.1 198.2v1.3M194.9 152h1.3M248.4 198.2v1.3M194.9 148.2h1.3M252.8 198.2v1.3" stroke="#222" stroke-width=".6"/><line x1="216.4" y1="144.3" x2="216.4" y2="198.2" stroke="#303030" stroke-width="1.05"/><line x1="196.2" y1="173.9" x2="257.1" y2="173.9" stroke="#303030" stroke-width="1.05"/><text x="242.6" y="149.5" font-size="6.1" fill="#151515" stroke="#151515" stroke-width=".15" textLength="13.2" lengthAdjust="spacingAndGlyphs">78.56</text><g filter="url(#bl)"><path d="M293.1 162.5h.9v.9h-.9zM284.6 159h.9v.9h-.9zM288.6 160.5h.9v.9h-.9zM290.1 158.8h.9v.9h-.9zM291.5 164.2h.9v.9h-.9zM290 166.3h.9v.9h-.9zM292.8 165.3h.9v.9h-.9zM288.4 163.5h.9v.9h-.9zM286.3 158.3h.9v.9h-.9zM285 162h.9v.9h-.9zM292.9 168.3h.9v.9h-.9zM293.2 162.1h.9v.9h-.9zM296.1 163.3h.9v.9h-.9zM292 163.3h.9v.9h-.9zM295.9 167h.9v.9h-.9zM286.3 163.2h.9v.9h-.9zM290.1 163h.9v.9h-.9zM301.4 162.4h.9v.9h-.9zM282.2 165.1h.9v.9h-.9zM290.1 160.7h.9v.9h-.9zM300.8 168h.9v.9h-.9zM296 163.6h.9v.9h-.9zM289.1 166.6h.9v.9h-.9zM291 163.6h.9v.9h-.9zM291.3 163.4h.9v.9h-.9zM284.1 159.9h.9v.9h-.9zM286.8 157.6h.9v.9h-.9zM287.3 161.7h.9v.9h-.9zM291.2 162.8h.9v.9h-.9zM290.2 165.6h.9v.9h-.9zM283.7 161.7h.9v.9h-.9zM291 160.8h.9v.9h-.9zM297.5 162.7h.9v.9h-.9zM296.4 164.3h.9v.9h-.9zM290.9 165.4h.9v.9h-.9zM286.1 159.9h.9v.9h-.9zM290.4 157h.9v.9h-.9zM290.2 162.5h.9v.9h-.9zM285 160.4h.9v.9h-.9zM286.7 168.9h.9v.9h-.9zM330.8 154h.9v.9h-.9zM334 158.4h.9v.9h-.9zM326.4 158.2h.9v.9h-.9zM332.2 158.5h.9v.9h-.9zM333.6 155.5h.9v.9h-.9zM333.3 157.9h.9v.9h-.9zM323.4 156.1h.9v.9h-.9zM317.6 156.7h.9v.9h-.9zM329.2 156.2h.9v.9h-.9zM337.9 158.8h.9v.9h-.9zM340.5 158.8h.9v.9h-.9zM330.8 153.8h.9v.9h-.9zM341.9 154.1h.9v.9h-.9zM329.9 157.3h.9v.9h-.9zM327.1 156.5h.9v.9h-.9zM333.3 154.5h.9v.9h-.9zM325.9 156.2h.9v.9h-.9zM334.6 153.2h.9v.9h-.9zM332.8 156.4h.9v.9h-.9zM326.7 157.3h.9v.9h-.9zM323.9 158.7h.9v.9h-.9zM327.8 159h.9v.9h-.9zM332.6 156.2h.9v.9h-.9zM324.1 158.3h.9v.9h-.9zM325.5 162.5h.9v.9h-.9zM334.6 156.7h.9v.9h-.9zM332.2 158.1h.9v.9h-.9zM334.7 157.2h.9v.9h-.9zM337.2 155.6h.9v.9h-.9zM341.6 151.7h.9v.9h-.9zM322.2 157.8h.9v.9h-.9zM331.9 151.7h.9v.9h-.9zM324.9 154h.9v.9h-.9zM339.6 158h.9v.9h-.9zM322.2 152.2h.9v.9h-.9zM332.8 152.5h.9v.9h-.9zM328.4 154.4h.9v.9h-.9zM332.3 157.8h.9v.9h-.9zM327.8 154.6h.9v.9h-.9zM333.6 160.8h.9v.9h-.9zM334.5 155h.9v.9h-.9zM337.6 155.7h.9v.9h-.9zM323.9 158h.9v.9h-.9zM341.8 152.9h.9v.9h-.9zM336.6 152.6h.9v.9h-.9zM331.5 155.7h.9v.9h-.9zM329.9 155.8h.9v.9h-.9zM336.1 154.6h.9v.9h-.9zM330.7 155.2h.9v.9h-.9zM333.6 154.2h.9v.9h-.9zM301.5 184h.9v.9h-.9zM290.3 178.2h.9v.9h-.9zM299.4 190.7h.9v.9h-.9zM299.9 182.6h.9v.9h-.9zM311 188.2h.9v.9h-.9zM304 191h.9v.9h-.9zM294.8 182.7h.9v.9h-.9zM291.7 172.6h.9v.9h-.9zM295.5 181.1h.9v.9h-.9zM304.8 184.1h.9v.9h-.9zM302.3 177.6h.9v.9h-.9zM304 181.3h.9v.9h-.9zM300.7 185.2h.9v.9h-.9zM294.7 192.6h.9v.9h-.9zM297.3 189h.9v.9h-.9zM293.6 178.5h.9v.9h-.9zM296.8 186.6h.9v.9h-.9zM301.5 194.7h.9v.9h-.9zM302.6 181.7h.9v.9h-.9zM300.4 193.4h.9v.9h-.9zM301.2 190.8h.9v.9h-.9zM284.6 175.9h.9v.9h-.9zM303.5 187.6h.9v.9h-.9zM295.8 183.5h.9v.9h-.9zM300.9 186h.9v.9h-.9zM296.9 184.4h.9v.9h-.9zM301.7 189.8h.9v.9h-.9zM291.5 167.3h.9v.9h-.9zM297.6 181.5h.9v.9h-.9zM304.2 185.6h.9v.9h-.9zM294.6 184.9h.9v.9h-.9zM286.7 189.1h.9v.9h-.9zM292.8 187.5h.9v.9h-.9zM298.2 193.1h.9v.9h-.9zM301.5 178.8h.9v.9h-.9zM297.7 193.9h.9v.9h-.9zM290.1 185.4h.9v.9h-.9zM296.3 186.5h.9v.9h-.9zM294.3 178.6h.9v.9h-.9zM302.1 184.1h.9v.9h-.9zM303.8 192.5h.9v.9h-.9zM306 180.9h.9v.9h-.9zM294.4 183.5h.9v.9h-.9zM293 178.1h.9v.9h-.9zM292.4 182.8h.9v.9h-.9zM301.8 187.1h.9v.9h-.9zM282 180.8h.9v.9h-.9zM290.8 179.3h.9v.9h-.9zM291 173.9h.9v.9h-.9zM296.8 185.8h.9v.9h-.9zM297.3 180.6h.9v.9h-.9zM301.4 187.4h.9v.9h-.9zM292 178.8h.9v.9h-.9zM295.9 187.1h.9v.9h-.9zM292.6 173.5h.9v.9h-.9zM285.2 178.4h.9v.9h-.9zM306.3 182.1h.9v.9h-.9zM293.9 176.7h.9v.9h-.9zM294.8 196.9h.9v.9h-.9zM291.4 168.1h.9v.9h-.9zM305.3 182.4h.9v.9h-.9zM297.7 185.7h.9v.9h-.9zM294.2 170.2h.9v.9h-.9zM294 175.9h.9v.9h-.9zM294.6 183.9h.9v.9h-.9zM292.7 180.8h.9v.9h-.9zM296.5 181.3h.9v.9h-.9zM300.7 187.8h.9v.9h-.9zM292.7 185.1h.9v.9h-.9zM296.1 191h.9v.9h-.9zM303.7 188.2h.9v.9h-.9zM302 182.1h.9v.9h-.9zM290.2 182.1h.9v.9h-.9zM302.7 181.8h.9v.9h-.9zM298.6 178.7h.9v.9h-.9zM302.6 195.9h.9v.9h-.9zM295.9 172.4h.9v.9h-.9zM294.6 186.6h.9v.9h-.9zM304.8 187.1h.9v.9h-.9zM304.9 189.1h.9v.9h-.9zM324.9 189.8h.9v.9h-.9zM313.9 175.9h.9v.9h-.9zM316.5 192.6h.9v.9h-.9zM329.4 176.8h.9v.9h-.9zM318.1 184.6h.9v.9h-.9zM324 186.3h.9v.9h-.9zM330.4 185.9h.9v.9h-.9zM318.5 182.4h.9v.9h-.9zM327.6 182.4h.9v.9h-.9zM323.7 181.3h.9v.9h-.9zM311.9 169.7h.9v.9h-.9zM318 178.7h.9v.9h-.9zM325.7 181.6h.9v.9h-.9zM313.6 189h.9v.9h-.9zM317.1 196.9h.9v.9h-.9zM316.9 184.6h.9v.9h-.9zM314.6 194.4h.9v.9h-.9zM322 182.5h.9v.9h-.9zM319.4 170.1h.9v.9h-.9zM328.8 184.1h.9v.9h-.9zM328.1 178.4h.9v.9h-.9zM330.1 179.7h.9v.9h-.9zM320.3 196.9h.9v.9h-.9zM316.5 184.2h.9v.9h-.9zM318.9 184.8h.9v.9h-.9zM321.1 183.1h.9v.9h-.9zM323.1 181.2h.9v.9h-.9zM329.3 188.7h.9v.9h-.9zM312.1 180.5h.9v.9h-.9zM317.8 190.5h.9v.9h-.9zM306.6 191.6h.9v.9h-.9zM306.4 179.9h.9v.9h-.9zM314.1 181.8h.9v.9h-.9zM325.5 190.3h.9v.9h-.9zM319.3 182.7h.9v.9h-.9zM313.2 192h.9v.9h-.9zM316.6 196.9h.9v.9h-.9zM309.1 179.6h.9v.9h-.9zM324.8 196.4h.9v.9h-.9zM317.9 187h.9v.9h-.9zM315.7 185.5h.9v.9h-.9zM305.3 188.4h.9v.9h-.9zM316.3 187h.9v.9h-.9zM319.1 177.6h.9v.9h-.9zM309.2 177.4h.9v.9h-.9zM319.7 189h.9v.9h-.9zM327.8 190.6h.9v.9h-.9zM334.3 190.8h.9v.9h-.9zM332.5 189.4h.9v.9h-.9zM322.2 172.5h.9v.9h-.9zM326.8 183.2h.9v.9h-.9zM317.3 175.1h.9v.9h-.9zM328.8 184h.9v.9h-.9zM317 178.8h.9v.9h-.9zM319.4 187.1h.9v.9h-.9zM324.2 184.8h.9v.9h-.9zM321.5 184.5h.9v.9h-.9zM317.1 191.8h.9v.9h-.9zM319.1 180.2h.9v.9h-.9zM332 177.8h.9v.9h-.9zM316.9 184.9h.9v.9h-.9zM318.8 183.5h.9v.9h-.9zM326.7 190.9h.9v.9h-.9zM310.7 196.7h.9v.9h-.9zM311.8 177.2h.9v.9h-.9zM324.7 177.3h.9v.9h-.9zM311.7 189.7h.9v.9h-.9zM323.5 186.7h.9v.9h-.9zM329.8 191.1h.9v.9h-.9zM316.8 180.9h.9v.9h-.9zM322.9 181.3h.9v.9h-.9zM321.8 190h.9v.9h-.9zM321.8 174.6h.9v.9h-.9zM331.5 183.7h.9v.9h-.9zM322.4 173.1h.9v.9h-.9zM319.7 175.4h.9v.9h-.9zM331 180.9h.9v.9h-.9zM310.4 183.3h.9v.9h-.9zM313.6 184.5h.9v.9h-.9zM313.5 172.5h.9v.9h-.9zM318.7 182.1h.9v.9h-.9zM314.4 188.7h.9v.9h-.9zM325.9 183.4h.9v.9h-.9zM319.4 186.5h.9v.9h-.9zM326.4 185.3h.9v.9h-.9zM312.2 188.4h.9v.9h-.9zM336.5 188.4h.9v.9h-.9zM322.2 180.3h.9v.9h-.9zM309.3 187.5h.9v.9h-.9zM324 187.1h.9v.9h-.9zM321.1 192.7h.9v.9h-.9zM319.2 171.4h.9v.9h-.9zM319 185.2h.9v.9h-.9zM325.4 187.9h.9v.9h-.9zM324.8 187.2h.9v.9h-.9zM322.1 176.3h.9v.9h-.9zM317.8 190.9h.9v.9h-.9zM331.4 166.2h.9v.9h-.9zM319 181.2h.9v.9h-.9zM326 170.9h.9v.9h-.9zM316.1 185.3h.9v.9h-.9zM314.4 172.5h.9v.9h-.9zM332.9 182.4h.9v.9h-.9zM320.4 188.2h.9v.9h-.9zM333.2 179.3h.9v.9h-.9zM318.9 181.8h.9v.9h-.9zM326.6 190.4h.9v.9h-.9zM331 181.1h.9v.9h-.9zM311.6 179.8h.9v.9h-.9zM306.7 186.4h.9v.9h-.9zM310.1 191.2h.9v.9h-.9zM308.5 170.1h.9v.9h-.9zM340.4 179.7h.9v.9h-.9zM308.9 146.6h.9v.9h-.9zM307.4 157.6h.9v.9h-.9zM306.8 148.3h.9v.9h-.9zM306.8 165.1h.9v.9h-.9zM330 162.4h.9v.9h-.9zM326 175.9h.9v.9h-.9zM317.9 186.3h.9v.9h-.9zM334.1 152.9h.9v.9h-.9zM299.3 147.9h.9v.9h-.9zM316.8 148.8h.9v.9h-.9zM300 192.1h.9v.9h-.9zM306.2 166.5h.9v.9h-.9zM298.8 186.2h.9v.9h-.9zM312.6 170.7h.9v.9h-.9zM332.9 154.2h.9v.9h-.9zM284.1 191.7h.9v.9h-.9zM328.7 183.8h.9v.9h-.9zM329.6 172.6h.9v.9h-.9zM288.4 155.9h.9v.9h-.9zM324.2 153.1h.9v.9h-.9zM317.9 166.6h.9v.9h-.9zM336.7 185.1h.9v.9h-.9zM303.6 152.3h.9v.9h-.9zM314.6 178.4h.9v.9h-.9zM285 170.6h.9v.9h-.9zM291.4 162.5h.9v.9h-.9zM326.3 193h.9v.9h-.9zM288.9 163.7h.9v.9h-.9zM312.8 194h.9v.9h-.9zM334.8 186.5h.9v.9h-.9zM292.1 184.5h.9v.9h-.9zM322.2 148h.9v.9h-.9z" fill="#b8382a" fill-opacity=".55"/><path d="M302 162.8h.9v.9h-.9zM296.9 167.5h.9v.9h-.9zM298.8 167.4h.9v.9h-.9zM293.4 175.6h.9v.9h-.9zM307.8 166.3h.9v.9h-.9zM299.1 160.2h.9v.9h-.9zM295.6 161.8h.9v.9h-.9zM301.2 163.6h.9v.9h-.9zM296.7 158.2h.9v.9h-.9zM289.1 161.1h.9v.9h-.9zM306.3 162.7h.9v.9h-.9zM299 163.2h.9v.9h-.9zM291.2 167.7h.9v.9h-.9zM296.1 162.8h.9v.9h-.9zM299.9 155.6h.9v.9h-.9zM301.7 166.7h.9v.9h-.9zM300.1 157.7h.9v.9h-.9zM290.3 175.8h.9v.9h-.9zM305.2 160.5h.9v.9h-.9zM299 166.3h.9v.9h-.9zM304.3 162.3h.9v.9h-.9zM298.5 166h.9v.9h-.9zM305 170.2h.9v.9h-.9zM297.9 161.5h.9v.9h-.9zM310.4 164.7h.9v.9h-.9zM304 157.8h.9v.9h-.9zM294.5 161.5h.9v.9h-.9zM301.5 169.1h.9v.9h-.9zM303.6 162.3h.9v.9h-.9zM301.5 165.5h.9v.9h-.9zM297 161.4h.9v.9h-.9zM299.7 171.5h.9v.9h-.9zM293.5 163.1h.9v.9h-.9zM301.4 162h.9v.9h-.9zM298.4 165.8h.9v.9h-.9zM296 159.4h.9v.9h-.9zM304 162.8h.9v.9h-.9zM308.5 163h.9v.9h-.9zM296.4 164.5h.9v.9h-.9zM292.5 159.1h.9v.9h-.9zM301.5 160.5h.9v.9h-.9zM304.2 162.6h.9v.9h-.9zM302.2 170h.9v.9h-.9zM298.9 172.4h.9v.9h-.9zM302.1 172.3h.9v.9h-.9zM303.6 159.9h.9v.9h-.9zM308 161.5h.9v.9h-.9zM300.4 162.3h.9v.9h-.9zM298.7 163.2h.9v.9h-.9zM299.7 167.8h.9v.9h-.9zM305.5 166.4h.9v.9h-.9zM304.7 161.2h.9v.9h-.9zM302.5 161.8h.9v.9h-.9zM303.4 165h.9v.9h-.9zM299.9 160.9h.9v.9h-.9zM297.9 172.9h.9v.9h-.9zM295.2 164.4h.9v.9h-.9zM300.7 162.2h.9v.9h-.9zM304.1 167.8h.9v.9h-.9zM293.4 168.5h.9v.9h-.9zM299.7 158.4h.9v.9h-.9zM305.7 167.4h.9v.9h-.9zM300.8 165.9h.9v.9h-.9zM300.4 168.3h.9v.9h-.9zM297.6 165.7h.9v.9h-.9zM295.6 163.7h.9v.9h-.9zM304.6 161.4h.9v.9h-.9zM300.6 157.1h.9v.9h-.9zM293 164.4h.9v.9h-.9zM310.1 163.5h.9v.9h-.9zM308.5 157.5h.9v.9h-.9zM303.1 164.1h.9v.9h-.9zM299.8 167h.9v.9h-.9zM300.6 166h.9v.9h-.9zM290.3 165.4h.9v.9h-.9zM298.7 172.3h.9v.9h-.9zM301.8 159.1h.9v.9h-.9zM300.9 161.3h.9v.9h-.9zM293.3 164.2h.9v.9h-.9zM312.7 157.4h.9v.9h-.9zM301.7 168.7h.9v.9h-.9zM298.9 160.1h.9v.9h-.9zM313.1 166.2h.9v.9h-.9zM301.6 159.7h.9v.9h-.9zM299.8 164.9h.9v.9h-.9zM300 175.7h.9v.9h-.9zM298.8 162.6h.9v.9h-.9zM298.1 164h.9v.9h-.9zM289.3 171.1h.9v.9h-.9zM305.2 162.2h.9v.9h-.9zM301.6 163.1h.9v.9h-.9zM293.5 170.6h.9v.9h-.9zM300.8 159.4h.9v.9h-.9zM293.9 165.3h.9v.9h-.9zM289.6 159.6h.9v.9h-.9zM297 163.5h.9v.9h-.9zM302.6 168h.9v.9h-.9zM293.1 161.6h.9v.9h-.9zM300.6 166.9h.9v.9h-.9zM307.7 163.9h.9v.9h-.9zM300.5 164.2h.9v.9h-.9zM293.7 170.9h.9v.9h-.9zM303 162.2h.9v.9h-.9zM299.3 166.5h.9v.9h-.9zM302.7 165h.9v.9h-.9zM298.8 158.5h.9v.9h-.9zM294.4 160.4h.9v.9h-.9zM308 170.8h.9v.9h-.9zM296.2 165.9h.9v.9h-.9zM299.6 161.5h.9v.9h-.9zM307.4 160.9h.9v.9h-.9zM313.2 166.5h.9v.9h-.9zM300.5 160.8h.9v.9h-.9zM304.9 160.3h.9v.9h-.9zM296 165.7h.9v.9h-.9zM303.1 159.1h.9v.9h-.9zM300.5 167.8h.9v.9h-.9zM300.2 168h.9v.9h-.9zM304.1 159.8h.9v.9h-.9zM292.6 163.5h.9v.9h-.9zM306.2 163.1h.9v.9h-.9zM299.4 163h.9v.9h-.9zM303.4 160.3h.9v.9h-.9zM312 158.8h.9v.9h-.9zM294.9 171.8h.9v.9h-.9zM300.9 163.7h.9v.9h-.9zM301.2 168.7h.9v.9h-.9zM300.6 170.6h.9v.9h-.9zM298.2 169.2h.9v.9h-.9zM295.2 171.2h.9v.9h-.9zM295.2 166h.9v.9h-.9zM301.5 160.1h.9v.9h-.9zM302 163.1h.9v.9h-.9zM307 164.1h.9v.9h-.9zM300.5 163.2h.9v.9h-.9zM298.6 171.2h.9v.9h-.9zM296.4 161h.9v.9h-.9zM292.8 160.3h.9v.9h-.9zM295.2 165.1h.9v.9h-.9zM302.5 166.8h.9v.9h-.9zM299.9 156.5h.9v.9h-.9zM298.8 167.5h.9v.9h-.9zM301.1 163.5h.9v.9h-.9zM297.7 168.6h.9v.9h-.9zM298.9 163.8h.9v.9h-.9zM298.8 164h.9v.9h-.9zM303 167.2h.9v.9h-.9zM298.8 162.2h.9v.9h-.9zM298.9 164.2h.9v.9h-.9zM303.2 165.7h.9v.9h-.9zM308.4 163.2h.9v.9h-.9zM290.9 165.9h.9v.9h-.9zM294.9 168.5h.9v.9h-.9zM310.5 160.1h.9v.9h-.9zM299.9 170.2h.9v.9h-.9zM300.8 160.3h.9v.9h-.9zM298.3 171.5h.9v.9h-.9zM299.1 155.9h.9v.9h-.9zM297.5 168.1h.9v.9h-.9zM293.9 167.7h.9v.9h-.9zM292.8 161.2h.9v.9h-.9zM296.5 164h.9v.9h-.9zM297.7 158.2h.9v.9h-.9zM300.1 162.6h.9v.9h-.9zM295.1 172.2h.9v.9h-.9zM298.5 166.9h.9v.9h-.9zM307.1 161.9h.9v.9h-.9zM304 162.8h.9v.9h-.9zM297.5 166.5h.9v.9h-.9zM293.8 169.9h.9v.9h-.9zM304 163.8h.9v.9h-.9zM294.5 162.2h.9v.9h-.9zM295.9 165.4h.9v.9h-.9zM297.1 174.1h.9v.9h-.9zM296.4 166.9h.9v.9h-.9zM297.9 166h.9v.9h-.9zM288.5 166.5h.9v.9h-.9zM299.4 164.4h.9v.9h-.9zM300.3 161.8h.9v.9h-.9zM303.6 163.1h.9v.9h-.9zM299.5 164.6h.9v.9h-.9zM304.1 161.7h.9v.9h-.9zM306.5 161h.9v.9h-.9zM300.7 163.9h.9v.9h-.9zM301.8 165.2h.9v.9h-.9zM298.4 168.5h.9v.9h-.9zM311.6 159.8h.9v.9h-.9zM298.6 161.6h.9v.9h-.9zM294.8 163.7h.9v.9h-.9zM299.5 161.6h.9v.9h-.9zM305.7 159.1h.9v.9h-.9zM294.1 163.8h.9v.9h-.9zM298.9 164.2h.9v.9h-.9zM302.3 159.8h.9v.9h-.9zM302.8 166.7h.9v.9h-.9zM295.2 159.6h.9v.9h-.9zM302.5 167.2h.9v.9h-.9zM301.3 163.5h.9v.9h-.9zM294.3 174.4h.9v.9h-.9zM296.6 161.1h.9v.9h-.9zM298.5 165.8h.9v.9h-.9zM298.1 161.5h.9v.9h-.9zM312.2 162.5h.9v.9h-.9zM305.1 164h.9v.9h-.9zM295.7 161.7h.9v.9h-.9zM296.1 171.1h.9v.9h-.9zM303 169.5h.9v.9h-.9zM292.3 174.3h.9v.9h-.9zM300.6 161.6h.9v.9h-.9zM302.2 160.2h.9v.9h-.9zM299.4 166.8h.9v.9h-.9zM300.8 165h.9v.9h-.9zM302.4 167.2h.9v.9h-.9zM292.2 160.2h.9v.9h-.9zM291.2 159h.9v.9h-.9zM306.7 157.5h.9v.9h-.9zM300 165.6h.9v.9h-.9zM295.3 164.8h.9v.9h-.9zM300.7 163.9h.9v.9h-.9zM302.6 161.7h.9v.9h-.9zM294 161.5h.9v.9h-.9zM292.8 169.5h.9v.9h-.9zM300.2 162.4h.9v.9h-.9zM299.8 152.8h.9v.9h-.9zM300.1 159.1h.9v.9h-.9zM297.7 164.6h.9v.9h-.9zM295.8 165.4h.9v.9h-.9zM305.2 171.4h.9v.9h-.9zM300.9 166.8h.9v.9h-.9zM301.4 159.4h.9v.9h-.9zM300.9 162h.9v.9h-.9zM302.3 160.4h.9v.9h-.9zM302.5 158.9h.9v.9h-.9zM299.1 168.4h.9v.9h-.9zM305.6 164.7h.9v.9h-.9zM310 162.8h.9v.9h-.9zM301.3 167.5h.9v.9h-.9zM297.5 169.1h.9v.9h-.9zM301 163h.9v.9h-.9zM298.4 169.7h.9v.9h-.9zM290.6 168.9h.9v.9h-.9zM292.9 166.9h.9v.9h-.9zM296.2 162.9h.9v.9h-.9zM297.5 166.9h.9v.9h-.9zM311.3 165.2h.9v.9h-.9zM298 163.6h.9v.9h-.9zM300.7 160.3h.9v.9h-.9zM295 171.3h.9v.9h-.9zM300.6 170.4h.9v.9h-.9zM298.3 159h.9v.9h-.9zM301.7 165.3h.9v.9h-.9zM297.3 159.9h.9v.9h-.9zM296.6 174.2h.9v.9h-.9zM285.7 168.3h.9v.9h-.9zM306.4 168.3h.9v.9h-.9zM302.3 162.8h.9v.9h-.9zM303.3 167.2h.9v.9h-.9zM299.7 169.9h.9v.9h-.9zM301 164.5h.9v.9h-.9zM302.1 164.4h.9v.9h-.9zM298.5 171.8h.9v.9h-.9zM297 164.8h.9v.9h-.9zM286.4 165h.9v.9h-.9zM301.8 162.8h.9v.9h-.9zM298.5 163.5h.9v.9h-.9zM301 160.8h.9v.9h-.9zM290.2 162.9h.9v.9h-.9zM296.7 167.5h.9v.9h-.9zM306.8 162.7h.9v.9h-.9zM294.2 161.9h.9v.9h-.9zM304.1 164h.9v.9h-.9zM300.5 166.6h.9v.9h-.9zM303.1 164.6h.9v.9h-.9zM302.4 156.2h.9v.9h-.9zM295.8 164.4h.9v.9h-.9zM299 173.3h.9v.9h-.9zM301.9 164.9h.9v.9h-.9zM302.6 161.7h.9v.9h-.9zM302.8 161.7h.9v.9h-.9zM303.9 164.4h.9v.9h-.9zM302.4 156.3h.9v.9h-.9zM294.2 164.3h.9v.9h-.9zM296.7 167.8h.9v.9h-.9zM303.1 160.9h.9v.9h-.9zM305.9 164.7h.9v.9h-.9zM298.3 168.1h.9v.9h-.9zM304.9 159.4h.9v.9h-.9zM291.2 171.7h.9v.9h-.9zM302 165.8h.9v.9h-.9zM301.7 163h.9v.9h-.9zM338.8 164.7h.9v.9h-.9zM331.4 169.8h.9v.9h-.9zM330.5 169.6h.9v.9h-.9zM337.4 172.4h.9v.9h-.9zM336.2 159.6h.9v.9h-.9zM334.3 168.2h.9v.9h-.9zM335.8 173.1h.9v.9h-.9zM330.3 161.5h.9v.9h-.9zM336.5 167.9h.9v.9h-.9zM328.9 166.4h.9v.9h-.9zM329.8 165h.9v.9h-.9zM330.9 161.5h.9v.9h-.9zM334.6 164.4h.9v.9h-.9zM341.9 162.5h.9v.9h-.9zM328.1 158h.9v.9h-.9zM341.9 159.1h.9v.9h-.9zM324.2 163.5h.9v.9h-.9zM328.4 163.5h.9v.9h-.9zM341.2 158.9h.9v.9h-.9zM326.2 162.2h.9v.9h-.9zM331.6 155.3h.9v.9h-.9zM335.9 160.6h.9v.9h-.9zM318.8 173.2h.9v.9h-.9zM318.8 169.4h.9v.9h-.9zM327.9 160.8h.9v.9h-.9zM314.8 163.4h.9v.9h-.9zM334.3 162.3h.9v.9h-.9zM324.9 169.4h.9v.9h-.9zM328.8 164.2h.9v.9h-.9zM320.3 158.9h.9v.9h-.9zM325.1 166h.9v.9h-.9zM325.5 166.1h.9v.9h-.9zM326.2 163.2h.9v.9h-.9zM328.4 165.6h.9v.9h-.9zM310.9 167.6h.9v.9h-.9zM326.4 162.2h.9v.9h-.9zM337.2 167.7h.9v.9h-.9zM338.1 165.4h.9v.9h-.9zM332.1 163.8h.9v.9h-.9zM333.7 159.6h.9v.9h-.9zM327.7 165.6h.9v.9h-.9zM326 158.3h.9v.9h-.9zM327.3 162.1h.9v.9h-.9zM324 167.8h.9v.9h-.9zM336.9 162.5h.9v.9h-.9zM319.2 165h.9v.9h-.9zM325.9 159.3h.9v.9h-.9zM323.8 165.6h.9v.9h-.9zM324.2 166.9h.9v.9h-.9zM318.8 169.1h.9v.9h-.9zM323 165.6h.9v.9h-.9zM328 161.5h.9v.9h-.9zM334.8 153.8h.9v.9h-.9zM330.5 166.5h.9v.9h-.9zM326.4 164h.9v.9h-.9zM319.4 165.5h.9v.9h-.9zM329.1 160.8h.9v.9h-.9zM328.1 162.1h.9v.9h-.9zM320.3 165.2h.9v.9h-.9zM323.1 169.2h.9v.9h-.9zM323.5 171.6h.9v.9h-.9zM328.1 163.7h.9v.9h-.9zM323 167h.9v.9h-.9zM318.7 158.4h.9v.9h-.9zM329.6 153.4h.9v.9h-.9zM336.7 159.5h.9v.9h-.9zM340.9 162.3h.9v.9h-.9zM339.7 154.3h.9v.9h-.9zM325.1 165.8h.9v.9h-.9zM324 165.1h.9v.9h-.9zM327.7 167.1h.9v.9h-.9zM337.4 151.4h.9v.9h-.9zM332.1 157.4h.9v.9h-.9zM339.7 154.2h.9v.9h-.9zM322.2 167.6h.9v.9h-.9zM327.6 167.2h.9v.9h-.9zM330.5 159.6h.9v.9h-.9zM316.6 171.9h.9v.9h-.9zM326.5 163.7h.9v.9h-.9zM325.6 163.1h.9v.9h-.9zM322.6 165.3h.9v.9h-.9zM329 157.6h.9v.9h-.9zM316.4 169h.9v.9h-.9zM334.6 159.8h.9v.9h-.9zM326.5 161.8h.9v.9h-.9zM331.4 162.8h.9v.9h-.9zM323.2 161.2h.9v.9h-.9zM332.1 164.7h.9v.9h-.9zM325.3 166.4h.9v.9h-.9zM303.4 167h.9v.9h-.9zM327.7 154.1h.9v.9h-.9zM323.9 165.9h.9v.9h-.9zM338.6 163.5h.9v.9h-.9zM319.4 169.9h.9v.9h-.9zM326.9 168.1h.9v.9h-.9zM315.7 158.6h.9v.9h-.9zM316.3 169.2h.9v.9h-.9zM337.9 162.9h.9v.9h-.9zM329.6 163h.9v.9h-.9zM328.8 158.7h.9v.9h-.9zM338.8 165.4h.9v.9h-.9zM335.8 161.8h.9v.9h-.9zM335.9 166.9h.9v.9h-.9zM341.9 164.5h.9v.9h-.9zM321.6 161.4h.9v.9h-.9zM335.7 164.6h.9v.9h-.9zM332.7 163.1h.9v.9h-.9zM322 165.8h.9v.9h-.9zM317 167.5h.9v.9h-.9zM341.9 163.3h.9v.9h-.9zM320.7 161.2h.9v.9h-.9zM341.9 162.7h.9v.9h-.9zM324.8 167.3h.9v.9h-.9zM324.7 159.5h.9v.9h-.9zM329.9 165.9h.9v.9h-.9zM337.4 155.8h.9v.9h-.9zM339.8 160.2h.9v.9h-.9zM313.5 171.7h.9v.9h-.9zM336.8 164.6h.9v.9h-.9zM334 158.3h.9v.9h-.9zM330.8 155.4h.9v.9h-.9zM325.6 176.5h.9v.9h-.9zM341.9 162.8h.9v.9h-.9zM332.4 163.3h.9v.9h-.9zM333.6 163.6h.9v.9h-.9zM320.6 163.7h.9v.9h-.9zM312.3 163h.9v.9h-.9zM327.4 165.8h.9v.9h-.9zM341.9 152.5h.9v.9h-.9zM341.9 158.3h.9v.9h-.9zM324.9 164.1h.9v.9h-.9zM341.9 155.1h.9v.9h-.9zM325.9 166.9h.9v.9h-.9zM336.4 164h.9v.9h-.9zM330.3 168.1h.9v.9h-.9zM322.1 172.7h.9v.9h-.9zM324.8 166.4h.9v.9h-.9zM320.4 162.5h.9v.9h-.9zM336.9 164.7h.9v.9h-.9zM327.7 167.8h.9v.9h-.9zM341.9 147.1h.9v.9h-.9zM312.1 168.1h.9v.9h-.9zM315.7 171.4h.9v.9h-.9zM321.8 165.2h.9v.9h-.9zM323.7 174.7h.9v.9h-.9zM338.9 153.4h.9v.9h-.9zM333.4 161.3h.9v.9h-.9zM340.5 162.8h.9v.9h-.9zM322 163.1h.9v.9h-.9zM330.5 171.5h.9v.9h-.9zM328.6 161.2h.9v.9h-.9zM326 168.4h.9v.9h-.9zM327.6 172.4h.9v.9h-.9zM335.6 163h.9v.9h-.9zM328.9 162.1h.9v.9h-.9zM310.6 173.2h.9v.9h-.9zM340.3 160.3h.9v.9h-.9zM329.3 157.1h.9v.9h-.9zM327 165h.9v.9h-.9zM327.8 164.2h.9v.9h-.9zM337.1 165.4h.9v.9h-.9zM334.2 159.8h.9v.9h-.9zM324.3 164.7h.9v.9h-.9zM314.2 159.9h.9v.9h-.9zM331.1 163.3h.9v.9h-.9zM330.2 169.1h.9v.9h-.9zM311.7 169.3h.9v.9h-.9zM325.3 158.2h.9v.9h-.9zM335.1 169.1h.9v.9h-.9zM316.6 166.5h.9v.9h-.9zM336.2 162.4h.9v.9h-.9zM325.8 169h.9v.9h-.9zM314.6 166.5h.9v.9h-.9zM323.1 164.6h.9v.9h-.9zM318.5 166.8h.9v.9h-.9zM338.8 163.8h.9v.9h-.9zM317.6 163.7h.9v.9h-.9zM320.9 158.3h.9v.9h-.9zM334.8 164.9h.9v.9h-.9zM328.4 170.9h.9v.9h-.9zM333.6 159.9h.9v.9h-.9zM328.6 163.1h.9v.9h-.9zM329.6 169.9h.9v.9h-.9zM337.6 157.2h.9v.9h-.9zM341.9 153.1h.9v.9h-.9zM328.7 175.5h.9v.9h-.9zM335.1 168.1h.9v.9h-.9zM330.1 165.9h.9v.9h-.9zM324.6 171.7h.9v.9h-.9zM326.3 161.8h.9v.9h-.9zM318.7 176.4h.9v.9h-.9zM315.5 161.7h.9v.9h-.9zM332.4 163.2h.9v.9h-.9zM341.9 163.8h.9v.9h-.9zM330.4 159.7h.9v.9h-.9zM331.4 156.3h.9v.9h-.9zM323.7 171.5h.9v.9h-.9zM329.5 158.1h.9v.9h-.9zM323.2 164.3h.9v.9h-.9zM331.2 164.2h.9v.9h-.9zM332.1 148.8h.9v.9h-.9zM332.5 154h.9v.9h-.9zM324.9 165.2h.9v.9h-.9zM336.3 159.2h.9v.9h-.9zM317 162.3h.9v.9h-.9zM332.9 174.5h.9v.9h-.9zM318.1 163.6h.9v.9h-.9zM323.9 170.3h.9v.9h-.9zM332.9 162.2h.9v.9h-.9zM332.5 170.6h.9v.9h-.9zM325.1 159.2h.9v.9h-.9zM327.5 158.2h.9v.9h-.9zM331.2 167.5h.9v.9h-.9zM326.5 168.8h.9v.9h-.9zM340 170.3h.9v.9h-.9zM326.2 167.2h.9v.9h-.9zM335.8 166.2h.9v.9h-.9zM336.6 164.5h.9v.9h-.9zM335 166.9h.9v.9h-.9zM333 165.7h.9v.9h-.9zM330.8 163.1h.9v.9h-.9zM313.9 166.7h.9v.9h-.9zM328.3 161.3h.9v.9h-.9zM326.2 170.4h.9v.9h-.9zM324.3 154h.9v.9h-.9zM324.2 164.3h.9v.9h-.9zM338.7 163.2h.9v.9h-.9zM332.2 160.5h.9v.9h-.9zM322.5 157.6h.9v.9h-.9zM333.6 163h.9v.9h-.9zM322.9 165.4h.9v.9h-.9zM338.3 166.3h.9v.9h-.9zM336.1 167.9h.9v.9h-.9zM330.5 163.5h.9v.9h-.9zM329 166.2h.9v.9h-.9zM315.3 168.1h.9v.9h-.9zM328 159.8h.9v.9h-.9zM325.2 170.2h.9v.9h-.9zM325.4 164.2h.9v.9h-.9zM339.5 157h.9v.9h-.9zM327.8 162.1h.9v.9h-.9zM324.3 164h.9v.9h-.9zM332.7 161.8h.9v.9h-.9zM336.8 165.7h.9v.9h-.9zM320.1 166h.9v.9h-.9zM325.9 158.3h.9v.9h-.9zM315.4 171.6h.9v.9h-.9zM332.1 169h.9v.9h-.9zM341.8 164.8h.9v.9h-.9zM332.7 169.2h.9v.9h-.9zM327.2 162.4h.9v.9h-.9zM337 165.3h.9v.9h-.9zM324.1 162.9h.9v.9h-.9zM320.5 175.6h.9v.9h-.9zM325.1 162.3h.9v.9h-.9zM323.3 162.6h.9v.9h-.9zM329.6 163.9h.9v.9h-.9zM332.4 151.2h.9v.9h-.9zM331.3 171.3h.9v.9h-.9zM328.4 161.1h.9v.9h-.9zM341.9 158.2h.9v.9h-.9zM334.2 163.9h.9v.9h-.9zM326.4 159.6h.9v.9h-.9zM330 164.6h.9v.9h-.9zM341.5 153.9h.9v.9h-.9zM316.8 169.1h.9v.9h-.9zM313.9 153.5h.9v.9h-.9zM327 169.7h.9v.9h-.9zM312.6 160.1h.9v.9h-.9zM339.5 157.4h.9v.9h-.9zM321.4 164.7h.9v.9h-.9zM341.1 160.3h.9v.9h-.9zM334.6 161.8h.9v.9h-.9zM320.3 166.9h.9v.9h-.9zM315.2 171.6h.9v.9h-.9zM315.9 167.3h.9v.9h-.9zM311.4 167.1h.9v.9h-.9zM331 159.8h.9v.9h-.9zM341.9 160.6h.9v.9h-.9zM330.6 156.5h.9v.9h-.9zM324.7 165.8h.9v.9h-.9zM335 165.3h.9v.9h-.9zM316 159.5h.9v.9h-.9zM320.7 170.9h.9v.9h-.9zM313.4 161.2h.9v.9h-.9zM329.4 163.5h.9v.9h-.9zM327.1 160.2h.9v.9h-.9zM331.1 162.8h.9v.9h-.9zM327.2 165.2h.9v.9h-.9zM326.5 163.4h.9v.9h-.9zM338.1 165.2h.9v.9h-.9zM329.2 164.4h.9v.9h-.9zM338 155.5h.9v.9h-.9zM313.3 167.3h.9v.9h-.9zM313.8 161.9h.9v.9h-.9zM330.4 164.4h.9v.9h-.9zM325 161h.9v.9h-.9zM316.2 163.1h.9v.9h-.9zM321.9 165.1h.9v.9h-.9zM335.5 161h.9v.9h-.9zM319.9 167.7h.9v.9h-.9zM338.3 163.3h.9v.9h-.9zM324.5 162.9h.9v.9h-.9zM324.9 159.6h.9v.9h-.9zM335.4 160.9h.9v.9h-.9zM341.9 166.2h.9v.9h-.9zM327.1 176.4h.9v.9h-.9zM323.9 161.1h.9v.9h-.9zM314.4 166.9h.9v.9h-.9zM331.1 161.6h.9v.9h-.9zM328 166.2h.9v.9h-.9zM322.2 165h.9v.9h-.9zM327.8 171.2h.9v.9h-.9zM333.6 162.3h.9v.9h-.9zM320.2 165h.9v.9h-.9zM321.8 163.6h.9v.9h-.9zM332 167h.9v.9h-.9zM335.8 159.6h.9v.9h-.9zM329.9 163.4h.9v.9h-.9zM337.2 172.4h.9v.9h-.9zM337.3 166.3h.9v.9h-.9zM330.9 165.9h.9v.9h-.9zM313.1 168.7h.9v.9h-.9zM327.2 164h.9v.9h-.9zM337.1 177h.9v.9h-.9zM329.4 158h.9v.9h-.9zM326.2 168.3h.9v.9h-.9zM334.2 163.6h.9v.9h-.9zM332 159.4h.9v.9h-.9zM338.2 152.1h.9v.9h-.9zM325 161h.9v.9h-.9zM325 165.7h.9v.9h-.9zM330.3 168.1h.9v.9h-.9zM341.9 163.1h.9v.9h-.9zM321.2 165.5h.9v.9h-.9zM321.6 161.6h.9v.9h-.9zM326.2 168.9h.9v.9h-.9zM322.5 166.7h.9v.9h-.9zM323.4 169.1h.9v.9h-.9zM336.1 155.5h.9v.9h-.9zM333.4 158.8h.9v.9h-.9zM331 163h.9v.9h-.9zM333.9 156.8h.9v.9h-.9zM341.9 162.3h.9v.9h-.9zM324.7 170.7h.9v.9h-.9zM339.6 164.1h.9v.9h-.9zM323.8 161.1h.9v.9h-.9zM323 172.7h.9v.9h-.9zM328.9 163.7h.9v.9h-.9zM326.8 170.1h.9v.9h-.9zM326.5 168.4h.9v.9h-.9zM313.8 163.4h.9v.9h-.9zM330.2 159.1h.9v.9h-.9zM341.5 151.5h.9v.9h-.9zM332 165.7h.9v.9h-.9zM331.9 162.9h.9v.9h-.9zM331 180.1h.9v.9h-.9zM330 160.7h.9v.9h-.9zM309.1 176.9h.9v.9h-.9zM330 172.1h.9v.9h-.9zM329.4 169h.9v.9h-.9zM338.6 159.2h.9v.9h-.9zM311.6 173.1h.9v.9h-.9zM341.9 154h.9v.9h-.9zM324.5 164.4h.9v.9h-.9zM327 167.1h.9v.9h-.9zM328.2 166.8h.9v.9h-.9zM320.6 158.2h.9v.9h-.9zM341.9 162.1h.9v.9h-.9zM330.5 158.1h.9v.9h-.9zM332 163h.9v.9h-.9zM332.4 163.7h.9v.9h-.9zM338 168.6h.9v.9h-.9zM325.4 162.8h.9v.9h-.9zM332.8 156.2h.9v.9h-.9zM322.6 163.5h.9v.9h-.9zM313.9 176.1h.9v.9h-.9zM326.2 163.5h.9v.9h-.9zM319.8 168.4h.9v.9h-.9zM323.8 159.3h.9v.9h-.9zM332.6 170.3h.9v.9h-.9zM316.8 166.3h.9v.9h-.9zM341.9 159.5h.9v.9h-.9zM324.5 172.4h.9v.9h-.9zM331.2 167.8h.9v.9h-.9zM342 164.2h.9v.9h-.9zM332.9 172.2h.9v.9h-.9zM315.7 161.3h.9v.9h-.9zM326.2 161.6h.9v.9h-.9zM325.4 155.7h.9v.9h-.9zM316.6 169.9h.9v.9h-.9zM327.4 166.2h.9v.9h-.9zM325.5 164.5h.9v.9h-.9zM318.4 174.5h.9v.9h-.9zM335.4 156.2h.9v.9h-.9zM325.3 166.4h.9v.9h-.9zM325.2 164.5h.9v.9h-.9zM328.4 155.3h.9v.9h-.9zM334.8 164.9h.9v.9h-.9zM320.7 164.8h.9v.9h-.9zM327.5 162.9h.9v.9h-.9zM327.4 157h.9v.9h-.9zM329.4 165.8h.9v.9h-.9zM332 165.4h.9v.9h-.9zM324.2 165.6h.9v.9h-.9zM336.1 162.7h.9v.9h-.9zM330.3 163.9h.9v.9h-.9zM331.4 157.3h.9v.9h-.9zM328.9 167.9h.9v.9h-.9zM322 168.1h.9v.9h-.9zM324.5 162.8h.9v.9h-.9zM318.9 161.7h.9v.9h-.9zM336.3 155.4h.9v.9h-.9zM328.3 157.6h.9v.9h-.9zM341.9 163.8h.9v.9h-.9zM321.2 160.1h.9v.9h-.9zM326.7 166h.9v.9h-.9zM341.9 167.8h.9v.9h-.9zM321.1 166.7h.9v.9h-.9zM335 159.2h.9v.9h-.9zM325.7 169h.9v.9h-.9zM317.7 166.5h.9v.9h-.9zM327.7 162.8h.9v.9h-.9zM327.1 156.6h.9v.9h-.9zM334.5 160.6h.9v.9h-.9zM341.9 169.8h.9v.9h-.9zM326.8 173.6h.9v.9h-.9zM338.8 158h.9v.9h-.9zM327.6 169.9h.9v.9h-.9zM322.5 163.6h.9v.9h-.9zM307.5 161.8h.9v.9h-.9zM318.7 162.7h.9v.9h-.9zM323.1 166.4h.9v.9h-.9zM330.1 161.9h.9v.9h-.9zM318.1 167.4h.9v.9h-.9zM333.2 162.7h.9v.9h-.9zM338.8 159.7h.9v.9h-.9zM335.3 163.8h.9v.9h-.9zM340.4 169.2h.9v.9h-.9zM317.7 157.7h.9v.9h-.9z" fill="#c21e1e" fill-opacity=".7"/><path d="M299.9 163.4h.9v.9h-.9zM304.6 168h.9v.9h-.9zM299.6 163.3h.9v.9h-.9zM301 168.1h.9v.9h-.9zM300 163.3h.9v.9h-.9zM302.2 165.4h.9v.9h-.9zM298 164.5h.9v.9h-.9zM300.3 162.8h.9v.9h-.9zM300.6 167.5h.9v.9h-.9zM302.4 167.4h.9v.9h-.9zM301.7 164.8h.9v.9h-.9zM301.4 167.4h.9v.9h-.9zM300 166h.9v.9h-.9zM298.5 165h.9v.9h-.9zM298.8 162.9h.9v.9h-.9zM300.9 169.3h.9v.9h-.9zM295.9 164h.9v.9h-.9zM300.4 163.5h.9v.9h-.9zM300.3 166.6h.9v.9h-.9zM296.1 164.8h.9v.9h-.9zM301.3 166.1h.9v.9h-.9zM304.3 165.4h.9v.9h-.9zM302.9 163.9h.9v.9h-.9zM297.8 163.9h.9v.9h-.9zM298.9 166.7h.9v.9h-.9zM301.7 165h.9v.9h-.9zM297.8 165.3h.9v.9h-.9zM299 164.2h.9v.9h-.9zM295.8 168h.9v.9h-.9zM301.3 170.8h.9v.9h-.9zM306.3 165.1h.9v.9h-.9zM305.2 164.2h.9v.9h-.9zM306.6 164.9h.9v.9h-.9zM295.6 165h.9v.9h-.9zM301.9 168.3h.9v.9h-.9zM302.3 168.5h.9v.9h-.9zM300.4 162h.9v.9h-.9zM300.3 163.2h.9v.9h-.9zM302 160.8h.9v.9h-.9zM297.6 162.7h.9v.9h-.9zM300.2 167h.9v.9h-.9zM299.3 162.4h.9v.9h-.9zM298.8 164.7h.9v.9h-.9zM302.7 165.2h.9v.9h-.9zM303.3 159.4h.9v.9h-.9zM304.2 169.3h.9v.9h-.9zM298.7 170.3h.9v.9h-.9zM296.3 166.8h.9v.9h-.9zM296.9 163.8h.9v.9h-.9zM301.2 165.4h.9v.9h-.9zM332.6 165.8h.9v.9h-.9zM329.9 163.9h.9v.9h-.9zM325.5 168h.9v.9h-.9zM330.4 163.6h.9v.9h-.9zM328.7 165.7h.9v.9h-.9zM323.3 163.4h.9v.9h-.9zM330.5 165.4h.9v.9h-.9zM323 165.8h.9v.9h-.9zM336.4 166.6h.9v.9h-.9zM323.2 163.8h.9v.9h-.9zM326 163h.9v.9h-.9zM325.2 163.5h.9v.9h-.9zM328.1 161.9h.9v.9h-.9zM332.2 165.8h.9v.9h-.9zM336.3 167.1h.9v.9h-.9zM332.3 166.3h.9v.9h-.9zM328.1 162.3h.9v.9h-.9zM331.2 165.3h.9v.9h-.9zM325.9 166h.9v.9h-.9zM329.8 163.4h.9v.9h-.9zM334.3 163.8h.9v.9h-.9zM329 167.7h.9v.9h-.9zM326.4 164.2h.9v.9h-.9zM330.3 164.2h.9v.9h-.9zM326.5 162.2h.9v.9h-.9zM329.4 164.1h.9v.9h-.9zM331.8 167.6h.9v.9h-.9zM328.4 167h.9v.9h-.9zM325.7 169h.9v.9h-.9zM326.3 164.7h.9v.9h-.9zM327 163.8h.9v.9h-.9zM331.7 165h.9v.9h-.9zM325 167h.9v.9h-.9zM328.7 166.5h.9v.9h-.9zM329.4 163.9h.9v.9h-.9zM321.3 164.3h.9v.9h-.9zM325 168.1h.9v.9h-.9zM327.6 168.7h.9v.9h-.9zM337.7 167.9h.9v.9h-.9zM338 162.7h.9v.9h-.9zM326.5 162.4h.9v.9h-.9zM323.2 161.8h.9v.9h-.9zM332.1 163h.9v.9h-.9zM327.2 166.5h.9v.9h-.9zM326.9 168.9h.9v.9h-.9zM333.2 166.8h.9v.9h-.9zM335.1 166.4h.9v.9h-.9zM329.3 167.8h.9v.9h-.9zM332.7 161.7h.9v.9h-.9zM332.9 167.6h.9v.9h-.9zM319.6 170.2h.9v.9h-.9zM329.2 168.6h.9v.9h-.9zM323.9 165.6h.9v.9h-.9zM325.8 163h.9v.9h-.9zM329.6 161.4h.9v.9h-.9zM328.4 166.8h.9v.9h-.9zM325.5 162.3h.9v.9h-.9zM330.8 167.3h.9v.9h-.9zM332.1 163.7h.9v.9h-.9zM326.9 168.5h.9v.9h-.9zM332 165.9h.9v.9h-.9zM329.4 164.7h.9v.9h-.9zM330.9 166.8h.9v.9h-.9zM328.7 165.7h.9v.9h-.9zM323 164.7h.9v.9h-.9zM334.8 165.6h.9v.9h-.9zM323.1 163.9h.9v.9h-.9zM328.9 168.7h.9v.9h-.9zM337 165h.9v.9h-.9zM327.9 165.4h.9v.9h-.9zM324.1 168.4h.9v.9h-.9zM323.8 166.9h.9v.9h-.9zM326.7 162.5h.9v.9h-.9zM329.8 169.2h.9v.9h-.9zM323.7 165.6h.9v.9h-.9zM325.8 167.7h.9v.9h-.9zM322.7 161.9h.9v.9h-.9zM327 161.8h.9v.9h-.9zM332.4 161.4h.9v.9h-.9zM328.8 163.8h.9v.9h-.9zM332.4 163.7h.9v.9h-.9zM327.8 169.3h.9v.9h-.9zM331.1 168.2h.9v.9h-.9zM334.1 166.3h.9v.9h-.9zM329.8 160.9h.9v.9h-.9zM321.7 164.1h.9v.9h-.9zM329.7 167.9h.9v.9h-.9zM325.5 164.3h.9v.9h-.9zM336.8 162.3h.9v.9h-.9zM327.8 164.8h.9v.9h-.9zM325.8 168.8h.9v.9h-.9zM322.2 164.3h.9v.9h-.9zM321.9 163.3h.9v.9h-.9zM334.7 160.1h.9v.9h-.9zM321.9 165.1h.9v.9h-.9zM329.9 163.2h.9v.9h-.9zM330.3 164.6h.9v.9h-.9zM327 165.3h.9v.9h-.9zM333.4 162.1h.9v.9h-.9zM331.9 165.8h.9v.9h-.9z" fill="#c81212" fill-opacity=".8"/></g><path d="M281.5 144.4H343.2V198.2" fill="none" stroke="#5a5a5a" stroke-width="1"/><path d="M281.5 144.4V198.2H343.2" fill="none" stroke="#1a1a1a" stroke-width="1.3"/><path d="M280.2 194.4h1.3M285.9 198.2v1.3M280.2 190.5h1.3M290.3 198.2v1.3M280.2 186.7h1.3M294.7 198.2v1.3M280.2 182.8h1.3M299.1 198.2v1.3M280.2 179h1.3M303.5 198.2v1.3M280.2 175.1h1.3M307.9 198.2v1.3M280.2 171.3h1.3M312.4 198.2v1.3M280.2 167.5h1.3M316.8 198.2v1.3M280.2 163.6h1.3M321.2 198.2v1.3M280.2 159.8h1.3M325.6 198.2v1.3M280.2 155.9h1.3M330 198.2v1.3M280.2 152.1h1.3M334.4 198.2v1.3M280.2 148.2h1.3M338.8 198.2v1.3" stroke="#222" stroke-width=".6"/><line x1="310.4" y1="144.4" x2="310.4" y2="198.2" stroke="#303030" stroke-width="1.05"/><line x1="281.5" y1="171.9" x2="343.2" y2="171.9" stroke="#303030" stroke-width="1.05"/><text x="331.3" y="150.6" font-size="6.1" fill="#151515" stroke="#151515" stroke-width=".15" textLength="10.7" lengthAdjust="spacingAndGlyphs">59.0</text><g filter="url(#bl)"><path d="M406.3 194.4h.9v.9h-.9zM412.7 195.4h.9v.9h-.9zM393.8 175.4h.9v.9h-.9zM402.4 195.4h.9v.9h-.9zM392.6 187.1h.9v.9h-.9zM396.9 192.2h.9v.9h-.9zM410.3 183.8h.9v.9h-.9zM412.2 191.9h.9v.9h-.9zM403.1 197.1h.9v.9h-.9zM416.9 185.3h.9v.9h-.9zM405.6 188.7h.9v.9h-.9zM409 182.8h.9v.9h-.9zM402.7 195.4h.9v.9h-.9zM403.3 196.6h.9v.9h-.9zM405.7 197.1h.9v.9h-.9zM413 176.9h.9v.9h-.9zM408.3 184.1h.9v.9h-.9zM400.5 193h.9v.9h-.9zM410.5 190.2h.9v.9h-.9zM410.7 197.1h.9v.9h-.9zM406.3 191h.9v.9h-.9zM407.1 197.1h.9v.9h-.9zM398.9 185.5h.9v.9h-.9zM396.9 181.7h.9v.9h-.9zM406.3 183.3h.9v.9h-.9zM399.6 184.2h.9v.9h-.9zM410.9 197.1h.9v.9h-.9zM404.9 180.3h.9v.9h-.9zM405.3 181.2h.9v.9h-.9zM406.1 191.6h.9v.9h-.9zM415.8 180.2h.9v.9h-.9zM403.4 179.5h.9v.9h-.9zM410.6 178.6h.9v.9h-.9zM412 197.1h.9v.9h-.9zM393.9 194.8h.9v.9h-.9zM418 187h.9v.9h-.9zM403.8 197.1h.9v.9h-.9zM402.9 185.4h.9v.9h-.9zM398.7 191.3h.9v.9h-.9zM412.1 180h.9v.9h-.9zM409.2 190.2h.9v.9h-.9zM413.6 185.4h.9v.9h-.9zM399.6 188h.9v.9h-.9zM407 184h.9v.9h-.9zM398.6 191.3h.9v.9h-.9zM394.6 177h.9v.9h-.9zM403.5 175.4h.9v.9h-.9zM407.2 173.4h.9v.9h-.9zM403 189.5h.9v.9h-.9zM412.3 179.5h.9v.9h-.9zM405.9 195.7h.9v.9h-.9zM399.3 189.2h.9v.9h-.9zM411 195.1h.9v.9h-.9zM403.8 189.1h.9v.9h-.9zM399.9 190.6h.9v.9h-.9zM406.8 182.1h.9v.9h-.9zM418.6 191.4h.9v.9h-.9zM399.2 186.5h.9v.9h-.9zM407.2 177.9h.9v.9h-.9zM398.8 192.2h.9v.9h-.9zM381.1 174h.9v.9h-.9zM387.4 184.5h.9v.9h-.9zM380.8 192.6h.9v.9h-.9zM381.7 174.5h.9v.9h-.9zM382.4 181.9h.9v.9h-.9zM379.4 192h.9v.9h-.9zM371.7 177.2h.9v.9h-.9zM373.9 196.8h.9v.9h-.9zM380.3 186.9h.9v.9h-.9zM383.7 195.6h.9v.9h-.9zM387.7 179.5h.9v.9h-.9zM387.9 196.9h.9v.9h-.9zM377.8 174.1h.9v.9h-.9zM382.6 178.7h.9v.9h-.9zM370.9 185.6h.9v.9h-.9zM386.3 176h.9v.9h-.9zM379.7 193.4h.9v.9h-.9zM379.8 195.4h.9v.9h-.9zM386.4 176.2h.9v.9h-.9zM374.3 190.7h.9v.9h-.9zM373 185.5h.9v.9h-.9zM381.3 176h.9v.9h-.9zM376.6 194.1h.9v.9h-.9zM387.9 185.4h.9v.9h-.9zM371.5 177.4h.9v.9h-.9zM371 189.5h.9v.9h-.9zM383.3 183.4h.9v.9h-.9zM381.2 196.9h.9v.9h-.9zM375 186.3h.9v.9h-.9zM379.9 179.3h.9v.9h-.9zM373.4 192.1h.9v.9h-.9zM379.1 195.5h.9v.9h-.9zM376 182.5h.9v.9h-.9zM382.9 192.1h.9v.9h-.9zM380.8 196.6h.9v.9h-.9zM382.5 184.7h.9v.9h-.9zM376.2 195.8h.9v.9h-.9zM379.6 189.9h.9v.9h-.9zM370 186.3h.9v.9h-.9zM379 194.1h.9v.9h-.9zM374.5 187.9h.9v.9h-.9zM382.1 191.8h.9v.9h-.9zM382.5 185.4h.9v.9h-.9zM373.6 178.9h.9v.9h-.9zM380.6 174.1h.9v.9h-.9zM381.4 192.8h.9v.9h-.9zM373.9 189h.9v.9h-.9zM373.6 196.2h.9v.9h-.9zM382.2 195.5h.9v.9h-.9zM374.9 174.9h.9v.9h-.9zM382.3 194.3h.9v.9h-.9zM385.3 195.5h.9v.9h-.9zM372.9 183h.9v.9h-.9zM387.9 187.6h.9v.9h-.9zM387.3 182.8h.9v.9h-.9zM373 189.9h.9v.9h-.9zM383.5 191.9h.9v.9h-.9zM383.9 196.8h.9v.9h-.9zM386.8 190h.9v.9h-.9zM375.9 185.1h.9v.9h-.9zM371.5 183.5h.9v.9h-.9zM376.4 182.1h.9v.9h-.9zM384.6 175.6h.9v.9h-.9zM377.4 182.2h.9v.9h-.9zM376 189.8h.9v.9h-.9zM380.4 194.3h.9v.9h-.9zM383.8 191.7h.9v.9h-.9zM386.2 195.6h.9v.9h-.9zM380.7 179.6h.9v.9h-.9zM374.1 188.5h.9v.9h-.9zM381.5 178.6h.9v.9h-.9zM388 187.3h.9v.9h-.9zM370.2 180.2h.9v.9h-.9zM381.5 180.4h.9v.9h-.9zM380.9 186.9h.9v.9h-.9zM387.3 174.4h.9v.9h-.9zM370.4 180.5h.9v.9h-.9zM384.8 182.6h.9v.9h-.9zM377.4 193.5h.9v.9h-.9zM387.5 192.8h.9v.9h-.9zM385.7 186.5h.9v.9h-.9zM377.8 183.1h.9v.9h-.9zM371.7 183.7h.9v.9h-.9zM370.2 184.9h.9v.9h-.9zM377.3 174.3h.9v.9h-.9zM380.1 182.6h.9v.9h-.9zM380.7 194.2h.9v.9h-.9zM386.3 182.6h.9v.9h-.9zM380.3 196.2h.9v.9h-.9zM387.8 180.3h.9v.9h-.9zM374.9 177.7h.9v.9h-.9zM387.3 186h.9v.9h-.9zM374.2 194h.9v.9h-.9zM385.9 180.6h.9v.9h-.9zM380.4 182.6h.9v.9h-.9zM385 195.6h.9v.9h-.9zM386.3 179.9h.9v.9h-.9zM370.8 178.7h.9v.9h-.9zM379.8 191.4h.9v.9h-.9zM379.2 194.1h.9v.9h-.9zM394.8 176.9h.9v.9h-.9zM411.4 183h.9v.9h-.9zM396.6 180.8h.9v.9h-.9zM398.5 182.7h.9v.9h-.9zM407.2 196.3h.9v.9h-.9zM406.2 196.4h.9v.9h-.9zM413.3 186.9h.9v.9h-.9zM406.2 177.4h.9v.9h-.9zM406.8 181.1h.9v.9h-.9zM391 182.8h.9v.9h-.9zM392.8 185.2h.9v.9h-.9zM404.8 177h.9v.9h-.9zM417.5 184.4h.9v.9h-.9zM400.5 188.4h.9v.9h-.9zM394 184.1h.9v.9h-.9zM407 177.4h.9v.9h-.9zM394.7 177.5h.9v.9h-.9zM415.9 188.6h.9v.9h-.9zM416.1 187.8h.9v.9h-.9zM407.6 184.3h.9v.9h-.9zM400.4 185.6h.9v.9h-.9zM395.8 195.9h.9v.9h-.9zM404.5 179.2h.9v.9h-.9zM415.8 194.9h.9v.9h-.9zM396.4 194.3h.9v.9h-.9z" fill="#b8382a" fill-opacity=".55"/><path d="M406.4 185.3h.9v.9h-.9zM402.7 181.8h.9v.9h-.9zM398.8 187.1h.9v.9h-.9zM406.3 189.8h.9v.9h-.9zM402 188.6h.9v.9h-.9zM401 175.4h.9v.9h-.9zM406.5 177.7h.9v.9h-.9zM399.9 183.8h.9v.9h-.9zM403.4 195.9h.9v.9h-.9zM407.8 197.1h.9v.9h-.9zM405 175.4h.9v.9h-.9zM400.3 187.7h.9v.9h-.9zM400 188.7h.9v.9h-.9zM407.8 189.7h.9v.9h-.9zM398.9 193.1h.9v.9h-.9zM410 192.6h.9v.9h-.9zM412.1 180.7h.9v.9h-.9zM404 191.4h.9v.9h-.9zM407.7 195.5h.9v.9h-.9zM403.9 181.5h.9v.9h-.9zM403.8 181.3h.9v.9h-.9zM404.7 183.7h.9v.9h-.9zM407 181.4h.9v.9h-.9zM407.4 180.9h.9v.9h-.9zM408.4 193.8h.9v.9h-.9zM404.4 184.5h.9v.9h-.9zM405.6 188.8h.9v.9h-.9zM401.1 190.5h.9v.9h-.9zM398.4 178.3h.9v.9h-.9zM400.5 187.2h.9v.9h-.9zM401.7 170.7h.9v.9h-.9zM408 182.2h.9v.9h-.9zM403.4 188.1h.9v.9h-.9zM405.6 189.7h.9v.9h-.9zM400.3 188h.9v.9h-.9zM407.6 190.8h.9v.9h-.9zM409.2 176.5h.9v.9h-.9zM408.4 176.6h.9v.9h-.9zM400.8 187.2h.9v.9h-.9zM412.1 193.7h.9v.9h-.9zM404 186.5h.9v.9h-.9zM408 178h.9v.9h-.9zM403.3 182.1h.9v.9h-.9zM408.4 189.6h.9v.9h-.9zM405.5 193.8h.9v.9h-.9zM403.6 180h.9v.9h-.9zM407.4 174.1h.9v.9h-.9zM405.4 185.8h.9v.9h-.9zM399.2 187.2h.9v.9h-.9zM401.6 194.8h.9v.9h-.9zM407 191.8h.9v.9h-.9zM407.7 185.9h.9v.9h-.9zM408.1 189.9h.9v.9h-.9zM406.3 192.9h.9v.9h-.9zM410.9 175.1h.9v.9h-.9zM403 176.5h.9v.9h-.9zM400.4 190.4h.9v.9h-.9zM401.3 184.6h.9v.9h-.9zM402.6 192.3h.9v.9h-.9zM409.7 186.7h.9v.9h-.9zM402.2 182.3h.9v.9h-.9zM403.9 175.4h.9v.9h-.9zM400.5 187.2h.9v.9h-.9zM405.3 187.1h.9v.9h-.9zM405.6 181.2h.9v.9h-.9zM404.1 179.4h.9v.9h-.9zM405.3 173h.9v.9h-.9zM406.2 187.5h.9v.9h-.9zM403.1 186.9h.9v.9h-.9zM407.8 186.4h.9v.9h-.9zM410.7 193.8h.9v.9h-.9zM404.9 184.7h.9v.9h-.9zM400.7 179h.9v.9h-.9zM405.1 186.8h.9v.9h-.9zM405.6 196.8h.9v.9h-.9zM405.8 188.5h.9v.9h-.9zM403.8 178.9h.9v.9h-.9zM403 185.4h.9v.9h-.9zM406.8 190.4h.9v.9h-.9zM401.2 185.3h.9v.9h-.9zM406.9 176.8h.9v.9h-.9zM403.7 176.6h.9v.9h-.9zM402.3 193.4h.9v.9h-.9zM405.7 197.1h.9v.9h-.9zM401.2 191.9h.9v.9h-.9zM404 175.7h.9v.9h-.9zM405.1 187.4h.9v.9h-.9zM403.6 193.8h.9v.9h-.9zM403.5 190.7h.9v.9h-.9zM404.5 182.6h.9v.9h-.9zM369.3 187.3h.9v.9h-.9zM369.3 182.3h.9v.9h-.9zM369.2 176h.9v.9h-.9zM369.3 194.8h.9v.9h-.9zM369.7 180.6h.9v.9h-.9zM371.2 166.1h.9v.9h-.9zM369.7 172.5h.9v.9h-.9zM369.6 176.7h.9v.9h-.9zM370.1 186h.9v.9h-.9zM369.8 189.5h.9v.9h-.9zM369.6 169.7h.9v.9h-.9zM369.3 186.8h.9v.9h-.9zM369.6 183.8h.9v.9h-.9zM370.2 172.7h.9v.9h-.9zM370.6 185.9h.9v.9h-.9zM370.8 185.7h.9v.9h-.9zM369.3 184.6h.9v.9h-.9zM369.9 168.5h.9v.9h-.9zM370.3 178h.9v.9h-.9zM370.1 193.2h.9v.9h-.9zM370.6 176.7h.9v.9h-.9zM370.2 188.3h.9v.9h-.9zM369.9 188.7h.9v.9h-.9zM370.2 176.4h.9v.9h-.9zM370.7 178.1h.9v.9h-.9zM369.5 177h.9v.9h-.9zM369.3 188.5h.9v.9h-.9zM369.3 165.4h.9v.9h-.9zM370 162.4h.9v.9h-.9zM369.6 186h.9v.9h-.9z" fill="#c21e1e" fill-opacity=".7"/><path d="M400.9 195.4h.9v.9h-.9zM405.9 195.2h.9v.9h-.9zM404.7 194.1h.9v.9h-.9zM402.6 196.3h.9v.9h-.9zM404.4 196.6h.9v.9h-.9zM408.5 192.5h.9v.9h-.9zM400.5 196.2h.9v.9h-.9zM406.5 193.3h.9v.9h-.9zM409.1 189.8h.9v.9h-.9zM407.2 193.3h.9v.9h-.9zM407.9 192.8h.9v.9h-.9zM403.1 195.5h.9v.9h-.9zM406.4 191h.9v.9h-.9zM407 195.5h.9v.9h-.9zM398.4 192h.9v.9h-.9zM400.4 191.9h.9v.9h-.9zM402.2 197.1h.9v.9h-.9zM400.9 192h.9v.9h-.9zM403.9 196.8h.9v.9h-.9zM403.3 196h.9v.9h-.9zM409 193.1h.9v.9h-.9zM406.5 196.1h.9v.9h-.9zM405.8 197.1h.9v.9h-.9zM406.5 197.1h.9v.9h-.9zM401 194.5h.9v.9h-.9zM395.4 191h.9v.9h-.9zM402.7 193.2h.9v.9h-.9zM404 195.1h.9v.9h-.9zM399.2 190.4h.9v.9h-.9zM407.9 194.7h.9v.9h-.9zM408.7 195.8h.9v.9h-.9zM406.2 192.9h.9v.9h-.9zM406.9 192h.9v.9h-.9zM399.7 193.3h.9v.9h-.9zM413.8 192h.9v.9h-.9zM410.2 193.6h.9v.9h-.9zM411.8 193h.9v.9h-.9zM400.2 192.6h.9v.9h-.9zM404.1 195.2h.9v.9h-.9zM402.1 194.4h.9v.9h-.9zM414.3 194.1h.9v.9h-.9zM407.5 197.1h.9v.9h-.9zM401.9 194h.9v.9h-.9zM403.6 194.6h.9v.9h-.9zM401.7 193.4h.9v.9h-.9zM407.8 194h.9v.9h-.9zM397.2 196.4h.9v.9h-.9zM406.4 197.1h.9v.9h-.9zM401.6 194.8h.9v.9h-.9zM401.3 195.7h.9v.9h-.9zM402.6 196.7h.9v.9h-.9zM405.3 189.4h.9v.9h-.9zM400.4 195.4h.9v.9h-.9zM407.9 196.1h.9v.9h-.9zM406.9 193h.9v.9h-.9zM405.4 194.1h.9v.9h-.9zM405 196.1h.9v.9h-.9zM401.2 193.4h.9v.9h-.9zM410.1 193.7h.9v.9h-.9zM407.1 192.9h.9v.9h-.9zM405.1 196.7h.9v.9h-.9zM411.3 194.1h.9v.9h-.9zM402.4 197.2h.9v.9h-.9zM397.4 193.6h.9v.9h-.9zM407.8 197.1h.9v.9h-.9zM409.1 193.7h.9v.9h-.9zM404.6 193.9h.9v.9h-.9zM401.1 193.1h.9v.9h-.9zM406.2 190.4h.9v.9h-.9zM401.7 187.7h.9v.9h-.9zM408.6 194.2h.9v.9h-.9zM398.3 190.9h.9v.9h-.9zM402.1 197.1h.9v.9h-.9zM406.8 191.7h.9v.9h-.9zM402.9 190.5h.9v.9h-.9zM401.1 190.4h.9v.9h-.9zM412.1 195.5h.9v.9h-.9zM410.1 195h.9v.9h-.9zM401.9 196.1h.9v.9h-.9zM406.8 192.5h.9v.9h-.9zM398.3 193.9h.9v.9h-.9zM400 193.4h.9v.9h-.9zM396.7 190.1h.9v.9h-.9zM408.7 195.1h.9v.9h-.9zM405.4 193.4h.9v.9h-.9zM405.7 192h.9v.9h-.9zM408 197.1h.9v.9h-.9zM402.5 190.7h.9v.9h-.9zM404.9 190.3h.9v.9h-.9zM412.8 193.8h.9v.9h-.9zM406.5 194.4h.9v.9h-.9zM402.8 192.4h.9v.9h-.9zM400.6 197.1h.9v.9h-.9zM405.2 196.3h.9v.9h-.9zM410.9 193.4h.9v.9h-.9zM402.8 193.1h.9v.9h-.9zM406.4 191.9h.9v.9h-.9zM408.7 193.5h.9v.9h-.9zM401.8 195.5h.9v.9h-.9zM410.6 192.1h.9v.9h-.9zM404.1 193.6h.9v.9h-.9zM407 195.7h.9v.9h-.9zM404.4 192h.9v.9h-.9zM402.5 195.8h.9v.9h-.9zM412.3 194.4h.9v.9h-.9zM401.6 197.1h.9v.9h-.9zM409.5 192.4h.9v.9h-.9zM399.8 192h.9v.9h-.9zM416.8 196.6h.9v.9h-.9zM400.9 192.3h.9v.9h-.9zM403.4 191.2h.9v.9h-.9zM407.2 191.6h.9v.9h-.9zM403.9 195.2h.9v.9h-.9zM403.9 196.1h.9v.9h-.9zM402.8 196.5h.9v.9h-.9zM402.2 192.7h.9v.9h-.9zM399 194.7h.9v.9h-.9zM407.6 194h.9v.9h-.9zM410.6 195.3h.9v.9h-.9zM406.3 190.4h.9v.9h-.9zM404.2 194.7h.9v.9h-.9zM400.1 197.1h.9v.9h-.9zM406.2 197.2h.9v.9h-.9zM399.9 197.1h.9v.9h-.9zM410.4 194.3h.9v.9h-.9zM403.5 197.1h.9v.9h-.9zM400.9 193.5h.9v.9h-.9zM409.4 193.8h.9v.9h-.9zM401.6 191.5h.9v.9h-.9zM402.9 196.7h.9v.9h-.9zM415.9 191.9h.9v.9h-.9zM400 195.3h.9v.9h-.9zM404.2 193.1h.9v.9h-.9zM404.3 196.8h.9v.9h-.9zM408 192.3h.9v.9h-.9zM406.9 191.3h.9v.9h-.9zM409.4 189.6h.9v.9h-.9zM403.1 195.9h.9v.9h-.9zM411.8 195.1h.9v.9h-.9zM396.9 193.5h.9v.9h-.9zM408.6 195.3h.9v.9h-.9zM406.4 192.7h.9v.9h-.9zM397.1 192.9h.9v.9h-.9zM405.5 192.5h.9v.9h-.9zM401.4 194.8h.9v.9h-.9zM403.5 194.4h.9v.9h-.9zM409.2 192.4h.9v.9h-.9zM408.9 191.5h.9v.9h-.9zM408.4 194.8h.9v.9h-.9zM406.9 195.5h.9v.9h-.9zM405.8 190.2h.9v.9h-.9zM411.7 194.4h.9v.9h-.9zM405.7 194.1h.9v.9h-.9zM406.5 193.5h.9v.9h-.9zM399.4 191.4h.9v.9h-.9zM412.1 195.3h.9v.9h-.9zM400.5 197.1h.9v.9h-.9zM406 191.6h.9v.9h-.9zM401.7 192.5h.9v.9h-.9zM409.5 195.6h.9v.9h-.9zM403.9 193.4h.9v.9h-.9zM402 194.2h.9v.9h-.9zM400.7 195.9h.9v.9h-.9zM404.5 196h.9v.9h-.9zM411.2 194.6h.9v.9h-.9zM408.4 187.4h.9v.9h-.9zM401.1 194.5h.9v.9h-.9zM401.3 196.3h.9v.9h-.9zM403.6 193.6h.9v.9h-.9zM396.3 195.4h.9v.9h-.9zM402.8 196.8h.9v.9h-.9zM407 193.8h.9v.9h-.9zM408.4 193.4h.9v.9h-.9zM401.6 193.9h.9v.9h-.9zM403.9 196.3h.9v.9h-.9zM402.1 191.6h.9v.9h-.9zM410.4 195.9h.9v.9h-.9zM403.4 194.2h.9v.9h-.9zM398.3 197.1h.9v.9h-.9zM402.7 189.3h.9v.9h-.9zM404.4 195.1h.9v.9h-.9zM407.6 194.5h.9v.9h-.9zM405.9 193.6h.9v.9h-.9zM404.6 193.5h.9v.9h-.9zM415 194.1h.9v.9h-.9zM405.5 189.5h.9v.9h-.9zM404.8 195.2h.9v.9h-.9zM407.8 190.6h.9v.9h-.9zM404.6 197.1h.9v.9h-.9zM404.1 193.5h.9v.9h-.9z" fill="#c81212" fill-opacity=".8"/></g><path d="M368.8 144.5H429.4V198.4" fill="none" stroke="#5a5a5a" stroke-width="1"/><path d="M368.8 144.5V198.4H429.4" fill="none" stroke="#1a1a1a" stroke-width="1.3"/><path d="M367.5 194.6h1.3M373.1 198.4v1.3M367.5 190.7h1.3M377.5 198.4v1.3M367.5 186.8h1.3M381.8 198.4v1.3M367.5 183h1.3M386.1 198.4v1.3M367.5 179.2h1.3M390.4 198.4v1.3M367.5 175.3h1.3M394.8 198.4v1.3M367.5 171.4h1.3M399.1 198.4v1.3M367.5 167.6h1.3M403.4 198.4v1.3M367.5 163.8h1.3M407.8 198.4v1.3M367.5 159.9h1.3M412.1 198.4v1.3M367.5 156.1h1.3M416.4 198.4v1.3M367.5 152.2h1.3M420.7 198.4v1.3M367.5 148.3h1.3M425.1 198.4v1.3" stroke="#222" stroke-width=".6"/><line x1="389" y1="144.5" x2="389" y2="198.4" stroke="#303030" stroke-width="1.05"/><line x1="368.8" y1="172.4" x2="429.4" y2="172.4" stroke="#303030" stroke-width="1.05"/><text x="417.3" y="150.4" font-size="6.1" fill="#151515" stroke="#151515" stroke-width=".15" textLength="10.9" lengthAdjust="spacingAndGlyphs">0.44</text><g filter="url(#bl)"><path d="M496.8 197.1h.9v.9h-.9zM501.8 179.4h.9v.9h-.9zM479.6 191.3h.9v.9h-.9zM485.4 178.5h.9v.9h-.9zM509.8 178.4h.9v.9h-.9zM490.3 197.1h.9v.9h-.9zM506 160.3h.9v.9h-.9zM498.6 179.9h.9v.9h-.9zM493.6 176.5h.9v.9h-.9zM494.6 188.2h.9v.9h-.9zM489.7 189.6h.9v.9h-.9zM498.3 171.4h.9v.9h-.9zM506.8 183.7h.9v.9h-.9zM499.2 195.5h.9v.9h-.9zM492 197.1h.9v.9h-.9zM485 172.4h.9v.9h-.9zM489.3 197.1h.9v.9h-.9zM505.3 189.8h.9v.9h-.9zM484.4 178.6h.9v.9h-.9zM490.6 183.1h.9v.9h-.9zM482.9 182.5h.9v.9h-.9zM488.3 186.3h.9v.9h-.9zM484.4 177.1h.9v.9h-.9zM493.2 188.3h.9v.9h-.9zM492.8 183.7h.9v.9h-.9zM490.9 176.4h.9v.9h-.9zM488.7 174.1h.9v.9h-.9zM496.5 185.8h.9v.9h-.9zM490.8 174.1h.9v.9h-.9zM488.9 180.6h.9v.9h-.9zM500.4 178.9h.9v.9h-.9zM493.8 176h.9v.9h-.9zM497.4 179.6h.9v.9h-.9zM485.2 164.4h.9v.9h-.9zM489.4 178.8h.9v.9h-.9zM501.5 170.5h.9v.9h-.9zM487.3 170.7h.9v.9h-.9zM498.4 184.6h.9v.9h-.9zM489.1 187.7h.9v.9h-.9zM493.4 177.6h.9v.9h-.9zM491.6 187.6h.9v.9h-.9zM499.6 197.1h.9v.9h-.9zM494.4 182.7h.9v.9h-.9zM492.9 174.5h.9v.9h-.9zM490.8 187.2h.9v.9h-.9zM488.9 179.3h.9v.9h-.9zM481.8 187.6h.9v.9h-.9zM500.6 182.1h.9v.9h-.9zM493.5 183.9h.9v.9h-.9zM492.5 180.1h.9v.9h-.9zM459.3 195.9h.9v.9h-.9zM456.8 183.5h.9v.9h-.9zM468.7 186.6h.9v.9h-.9zM473.5 183.3h.9v.9h-.9zM471.9 179.3h.9v.9h-.9zM463 196.9h.9v.9h-.9zM463.7 187.4h.9v.9h-.9zM471.3 194h.9v.9h-.9zM472.5 173.6h.9v.9h-.9zM462.5 195.5h.9v.9h-.9zM462.6 178.5h.9v.9h-.9zM460.4 193.2h.9v.9h-.9zM466.2 182.2h.9v.9h-.9zM459.4 179.4h.9v.9h-.9zM460.5 184.8h.9v.9h-.9zM457 185.9h.9v.9h-.9zM466.8 191h.9v.9h-.9zM465.8 191.3h.9v.9h-.9zM459.1 193h.9v.9h-.9zM459.8 181.3h.9v.9h-.9zM466.9 175.5h.9v.9h-.9zM470.7 192.5h.9v.9h-.9zM468.9 180.9h.9v.9h-.9zM459.3 177.6h.9v.9h-.9zM460.1 188.1h.9v.9h-.9zM460.3 186.6h.9v.9h-.9zM469.8 194.2h.9v.9h-.9zM469.4 180.9h.9v.9h-.9zM469.1 195.8h.9v.9h-.9zM467.8 175h.9v.9h-.9zM465.6 184.4h.9v.9h-.9zM456.3 180h.9v.9h-.9zM471.4 184.3h.9v.9h-.9zM472.6 193.5h.9v.9h-.9zM464.5 185.9h.9v.9h-.9zM459.3 188.7h.9v.9h-.9zM458.6 185.9h.9v.9h-.9zM464.6 189.7h.9v.9h-.9zM468.7 195.1h.9v.9h-.9zM472.1 193.2h.9v.9h-.9zM458.6 183.7h.9v.9h-.9zM468.7 183.1h.9v.9h-.9zM456 187.1h.9v.9h-.9zM457.9 173.6h.9v.9h-.9zM459.1 178.5h.9v.9h-.9zM460 182.7h.9v.9h-.9zM469.4 187.5h.9v.9h-.9zM463.2 182.1h.9v.9h-.9zM464.3 181.3h.9v.9h-.9zM472 182.5h.9v.9h-.9zM469.4 186.3h.9v.9h-.9zM463.9 187.2h.9v.9h-.9zM470.1 184.4h.9v.9h-.9zM467.9 179.8h.9v.9h-.9zM468.2 178.5h.9v.9h-.9zM461.1 195.4h.9v.9h-.9zM468.5 188.4h.9v.9h-.9zM461.4 186.8h.9v.9h-.9zM461.4 178.2h.9v.9h-.9zM467.6 176.2h.9v.9h-.9zM456.5 188.9h.9v.9h-.9zM462.4 181.2h.9v.9h-.9zM467.4 194.1h.9v.9h-.9zM467.8 176h.9v.9h-.9zM469.7 186.1h.9v.9h-.9zM472.7 175.5h.9v.9h-.9zM462.4 175h.9v.9h-.9zM461.4 184.1h.9v.9h-.9zM464 181.3h.9v.9h-.9zM469.3 195.4h.9v.9h-.9zM466.4 184h.9v.9h-.9zM470.4 187.7h.9v.9h-.9zM467 179.1h.9v.9h-.9zM466 189.6h.9v.9h-.9zM458.2 187.1h.9v.9h-.9zM466.9 186.7h.9v.9h-.9zM468.6 195.3h.9v.9h-.9zM473 195.5h.9v.9h-.9zM471 176.8h.9v.9h-.9zM468.9 190.2h.9v.9h-.9zM465.5 183.8h.9v.9h-.9zM462.8 182h.9v.9h-.9zM463.3 177.9h.9v.9h-.9zM470.6 187h.9v.9h-.9zM473.5 185.3h.9v.9h-.9zM473.3 195.9h.9v.9h-.9zM457.8 185.7h.9v.9h-.9zM467.3 194.9h.9v.9h-.9zM463.5 191.3h.9v.9h-.9zM460.5 181.5h.9v.9h-.9zM459.1 164.7h.9v.9h-.9zM467.6 164.3h.9v.9h-.9zM472.8 163.2h.9v.9h-.9zM478.7 159.9h.9v.9h-.9zM464.9 165.3h.9v.9h-.9zM459.6 164.6h.9v.9h-.9zM468.2 163.6h.9v.9h-.9zM455.5 161h.9v.9h-.9zM473.3 160.3h.9v.9h-.9zM474.1 164.6h.9v.9h-.9zM455.5 163.2h.9v.9h-.9zM458.8 160.6h.9v.9h-.9zM455.5 163.6h.9v.9h-.9zM477.8 168.6h.9v.9h-.9zM479.3 161.9h.9v.9h-.9zM455.5 165.3h.9v.9h-.9zM474 163.1h.9v.9h-.9zM456.8 160.3h.9v.9h-.9zM465.8 166.3h.9v.9h-.9zM480 160.9h.9v.9h-.9zM455.5 162.7h.9v.9h-.9zM474.3 161.3h.9v.9h-.9zM468.7 165h.9v.9h-.9zM455.5 167.1h.9v.9h-.9zM479.2 163.1h.9v.9h-.9zM470.1 164.2h.9v.9h-.9zM462.1 164.7h.9v.9h-.9zM468.5 161.3h.9v.9h-.9zM467 162.4h.9v.9h-.9zM464 164.6h.9v.9h-.9zM482.6 160.5h.9v.9h-.9zM490.6 155.8h.9v.9h-.9zM487.8 165.5h.9v.9h-.9zM491.8 163.7h.9v.9h-.9zM504.3 166.3h.9v.9h-.9zM509.3 163.7h.9v.9h-.9zM497 156.7h.9v.9h-.9zM514.1 151.6h.9v.9h-.9zM481 152.1h.9v.9h-.9zM492.5 167.8h.9v.9h-.9zM513.5 163.7h.9v.9h-.9zM513.4 154.7h.9v.9h-.9z" fill="#b8382a" fill-opacity=".55"/><path d="M489.7 187.5h.9v.9h-.9zM486 184.3h.9v.9h-.9zM479.6 183.4h.9v.9h-.9zM491.8 178.2h.9v.9h-.9zM485.8 177.3h.9v.9h-.9zM488.8 193.2h.9v.9h-.9zM492.1 180.6h.9v.9h-.9zM489 191.2h.9v.9h-.9zM488 178.5h.9v.9h-.9zM495.5 185.2h.9v.9h-.9zM498.3 183.4h.9v.9h-.9zM489.9 188.5h.9v.9h-.9zM492.5 185.5h.9v.9h-.9zM486.6 180.2h.9v.9h-.9zM487.6 181.5h.9v.9h-.9zM498.2 178.4h.9v.9h-.9zM493.9 188.5h.9v.9h-.9zM483.5 192.9h.9v.9h-.9zM492.7 188h.9v.9h-.9zM492.5 192.7h.9v.9h-.9zM493.5 180.3h.9v.9h-.9zM488.3 178.7h.9v.9h-.9zM487.5 178.8h.9v.9h-.9zM492.7 192.5h.9v.9h-.9zM490.5 193h.9v.9h-.9zM497.3 190.4h.9v.9h-.9zM483 165.7h.9v.9h-.9zM497.1 188.9h.9v.9h-.9zM484.2 179.6h.9v.9h-.9zM492.7 185.1h.9v.9h-.9zM484.8 184.8h.9v.9h-.9zM483.9 183.3h.9v.9h-.9zM494.7 187.2h.9v.9h-.9zM488.5 189.9h.9v.9h-.9zM501.5 183.1h.9v.9h-.9zM492.2 174.4h.9v.9h-.9zM495.6 173h.9v.9h-.9zM490.4 192h.9v.9h-.9zM494.6 160.6h.9v.9h-.9zM487.3 166.9h.9v.9h-.9zM490 174.1h.9v.9h-.9zM503.1 194.1h.9v.9h-.9zM486.4 182.8h.9v.9h-.9zM491.8 192.5h.9v.9h-.9zM498.7 190.2h.9v.9h-.9zM484.9 161.3h.9v.9h-.9zM483.5 176.4h.9v.9h-.9zM495.5 175.1h.9v.9h-.9zM498.2 191.1h.9v.9h-.9zM491.9 191.4h.9v.9h-.9zM487.8 193h.9v.9h-.9zM492 180.7h.9v.9h-.9zM487.4 169.4h.9v.9h-.9zM489.8 189.1h.9v.9h-.9zM489.4 181.7h.9v.9h-.9zM500.4 197.1h.9v.9h-.9zM484.5 194.5h.9v.9h-.9zM491.4 185h.9v.9h-.9zM487.2 183.1h.9v.9h-.9zM493.1 188.3h.9v.9h-.9zM488.5 181h.9v.9h-.9zM494.9 196.5h.9v.9h-.9zM489.3 189h.9v.9h-.9zM495.3 187.8h.9v.9h-.9zM486.7 185.3h.9v.9h-.9zM491.9 176.6h.9v.9h-.9zM491.8 185h.9v.9h-.9zM487.9 197.1h.9v.9h-.9zM493.1 178.6h.9v.9h-.9zM497.7 182.9h.9v.9h-.9zM486.3 176h.9v.9h-.9zM497.1 176.1h.9v.9h-.9zM493.2 188.6h.9v.9h-.9zM488.6 190.7h.9v.9h-.9zM496.9 184.6h.9v.9h-.9zM491.5 190.2h.9v.9h-.9zM491.9 195.1h.9v.9h-.9zM495.5 185.8h.9v.9h-.9zM492.7 182.1h.9v.9h-.9zM495 179.6h.9v.9h-.9zM491.3 175.6h.9v.9h-.9zM503.9 187.4h.9v.9h-.9zM491.8 188.6h.9v.9h-.9zM482.9 196.1h.9v.9h-.9zM483 189.9h.9v.9h-.9zM489.5 190.8h.9v.9h-.9zM494.9 187.1h.9v.9h-.9zM496.8 182.7h.9v.9h-.9zM492.8 182.7h.9v.9h-.9zM488 176.9h.9v.9h-.9zM493.5 197.1h.9v.9h-.9zM487.1 181.4h.9v.9h-.9zM487.9 188.1h.9v.9h-.9zM481.1 186.3h.9v.9h-.9zM487.7 177.5h.9v.9h-.9zM492.8 186.6h.9v.9h-.9zM493.1 194.4h.9v.9h-.9zM484.2 193.5h.9v.9h-.9zM494.3 197.1h.9v.9h-.9zM498.7 189h.9v.9h-.9zM481.4 187h.9v.9h-.9zM499.5 191.4h.9v.9h-.9zM491.2 175.7h.9v.9h-.9zM491.8 173.9h.9v.9h-.9zM487.4 182h.9v.9h-.9zM493.7 180.2h.9v.9h-.9zM491.2 184.9h.9v.9h-.9zM492.9 189.7h.9v.9h-.9zM494 182.9h.9v.9h-.9zM492.4 180.3h.9v.9h-.9zM485.2 180.7h.9v.9h-.9zM491.4 169.6h.9v.9h-.9zM495.6 187.8h.9v.9h-.9zM483.3 177.2h.9v.9h-.9zM486.9 167.6h.9v.9h-.9zM482.4 188.3h.9v.9h-.9zM481.1 197.1h.9v.9h-.9zM498.9 197h.9v.9h-.9zM494.1 194h.9v.9h-.9zM498.5 177.6h.9v.9h-.9zM499.8 179h.9v.9h-.9zM489.7 164.9h.9v.9h-.9zM489.8 171.9h.9v.9h-.9zM503.4 187.9h.9v.9h-.9zM496.2 181.3h.9v.9h-.9zM496.4 189.2h.9v.9h-.9zM489.5 189.2h.9v.9h-.9zM489.3 175.1h.9v.9h-.9zM480.9 172.5h.9v.9h-.9zM494.6 197.1h.9v.9h-.9zM489.1 180.4h.9v.9h-.9zM498.4 183.8h.9v.9h-.9zM493.3 185.2h.9v.9h-.9zM478.7 174.6h.9v.9h-.9zM493.2 185.8h.9v.9h-.9zM490 174.7h.9v.9h-.9zM492.2 182.8h.9v.9h-.9zM486.3 183.2h.9v.9h-.9zM492.8 197.1h.9v.9h-.9zM497.3 178h.9v.9h-.9zM495.7 172.9h.9v.9h-.9zM479.1 178.9h.9v.9h-.9zM501.7 190.7h.9v.9h-.9zM487.8 188.2h.9v.9h-.9zM480.5 183.5h.9v.9h-.9zM486.3 175.3h.9v.9h-.9zM489.4 178.8h.9v.9h-.9zM493.2 175.2h.9v.9h-.9zM493.5 188.5h.9v.9h-.9zM495.8 190h.9v.9h-.9zM495.2 193.2h.9v.9h-.9zM498.2 193.3h.9v.9h-.9zM497.8 174.8h.9v.9h-.9zM490.2 196.4h.9v.9h-.9zM488.3 190.8h.9v.9h-.9zM497.2 195.5h.9v.9h-.9zM488.3 186.9h.9v.9h-.9zM490.8 190.1h.9v.9h-.9zM481.4 184.4h.9v.9h-.9zM497.8 184.9h.9v.9h-.9zM496.9 196.1h.9v.9h-.9zM492.3 181.8h.9v.9h-.9zM488.6 175.7h.9v.9h-.9zM489.2 183.6h.9v.9h-.9zM496.6 179.7h.9v.9h-.9zM487.9 184.6h.9v.9h-.9zM490.4 194.9h.9v.9h-.9zM491.7 196.1h.9v.9h-.9zM492 164.7h.9v.9h-.9zM490.6 176.4h.9v.9h-.9zM491.6 177.8h.9v.9h-.9zM496.4 182.8h.9v.9h-.9zM489.6 197.1h.9v.9h-.9zM489.8 181.4h.9v.9h-.9zM489.7 190.8h.9v.9h-.9zM492.9 185.3h.9v.9h-.9zM497.8 180.3h.9v.9h-.9zM495.5 191.5h.9v.9h-.9zM493.2 181.1h.9v.9h-.9zM490.8 193.7h.9v.9h-.9zM477.1 196.8h.9v.9h-.9zM486.6 192.4h.9v.9h-.9zM494.4 188.4h.9v.9h-.9zM494.3 181.3h.9v.9h-.9zM500.2 185.5h.9v.9h-.9zM495.9 183.5h.9v.9h-.9zM489.8 193.5h.9v.9h-.9zM486.4 184.8h.9v.9h-.9zM487.1 172.6h.9v.9h-.9zM496.8 185.2h.9v.9h-.9zM481.8 184.5h.9v.9h-.9zM504 193.3h.9v.9h-.9zM490.4 187.9h.9v.9h-.9zM490.1 186.9h.9v.9h-.9zM490.9 186.6h.9v.9h-.9zM489.1 191.7h.9v.9h-.9zM485.3 171.7h.9v.9h-.9zM482.6 179.8h.9v.9h-.9zM492.2 189.5h.9v.9h-.9zM495.7 173.1h.9v.9h-.9zM483.2 189.9h.9v.9h-.9zM501 189.9h.9v.9h-.9zM490.9 193.1h.9v.9h-.9zM500.3 192.8h.9v.9h-.9zM492.7 182.7h.9v.9h-.9zM488.7 181.6h.9v.9h-.9zM485.2 187.8h.9v.9h-.9zM497 182.8h.9v.9h-.9zM495.7 190.3h.9v.9h-.9zM490.9 184.6h.9v.9h-.9zM499.5 179.2h.9v.9h-.9zM487.9 181.8h.9v.9h-.9zM487.6 189.5h.9v.9h-.9zM494.8 182.9h.9v.9h-.9zM495 171.1h.9v.9h-.9zM492.1 197.1h.9v.9h-.9zM496.7 177.1h.9v.9h-.9zM496.3 180h.9v.9h-.9zM494.8 190.5h.9v.9h-.9zM484 197.1h.9v.9h-.9zM484.3 181.6h.9v.9h-.9zM495.2 189.9h.9v.9h-.9zM492.8 182.6h.9v.9h-.9zM495.9 188h.9v.9h-.9zM489.9 193.9h.9v.9h-.9zM499.9 180.5h.9v.9h-.9zM489.5 176.9h.9v.9h-.9zM485.2 186.5h.9v.9h-.9zM496.7 173.9h.9v.9h-.9zM490.4 187.7h.9v.9h-.9zM488.5 191.9h.9v.9h-.9zM494.8 184.7h.9v.9h-.9zM497.9 187.9h.9v.9h-.9zM497.5 189.9h.9v.9h-.9zM490.3 197h.9v.9h-.9zM488 188.1h.9v.9h-.9zM489.9 178.7h.9v.9h-.9zM484.8 194.3h.9v.9h-.9zM498.8 193.8h.9v.9h-.9zM481.2 190.3h.9v.9h-.9zM492.2 189.9h.9v.9h-.9zM493.1 189.9h.9v.9h-.9zM494.1 193.7h.9v.9h-.9zM492.5 181h.9v.9h-.9zM480 187.6h.9v.9h-.9zM480.5 180.6h.9v.9h-.9zM491.5 184.2h.9v.9h-.9zM487.7 197.1h.9v.9h-.9zM484.1 194.6h.9v.9h-.9zM490.1 184.2h.9v.9h-.9zM492 188.8h.9v.9h-.9zM482.4 189.1h.9v.9h-.9zM490.8 185h.9v.9h-.9zM491.8 184.2h.9v.9h-.9zM497.4 178.3h.9v.9h-.9zM487.6 189.1h.9v.9h-.9zM490.6 192.4h.9v.9h-.9zM476.5 183.3h.9v.9h-.9zM492 197.1h.9v.9h-.9zM497 177.9h.9v.9h-.9zM497.3 178.6h.9v.9h-.9zM493.3 182.3h.9v.9h-.9zM484.3 191.5h.9v.9h-.9zM494.6 182.7h.9v.9h-.9zM487.1 179.2h.9v.9h-.9zM490.9 193.8h.9v.9h-.9zM489.3 184.7h.9v.9h-.9zM489.5 175.6h.9v.9h-.9zM489.6 180.2h.9v.9h-.9zM497.9 186.5h.9v.9h-.9zM498.4 184.6h.9v.9h-.9zM492.5 196h.9v.9h-.9zM494 185.8h.9v.9h-.9zM494.2 187.8h.9v.9h-.9zM497.6 180.4h.9v.9h-.9zM489.2 178.2h.9v.9h-.9zM498 190.2h.9v.9h-.9zM490 189.6h.9v.9h-.9zM501.7 191.3h.9v.9h-.9zM491.2 177.8h.9v.9h-.9zM455.5 182.7h.9v.9h-.9zM455.5 179.8h.9v.9h-.9zM456.2 193.1h.9v.9h-.9zM456.1 186.9h.9v.9h-.9zM455.5 192.8h.9v.9h-.9zM456.9 187.8h.9v.9h-.9zM456.8 186h.9v.9h-.9zM455.6 192.3h.9v.9h-.9zM455.9 183.1h.9v.9h-.9zM455.5 186.1h.9v.9h-.9zM455.8 172h.9v.9h-.9zM456.1 197.1h.9v.9h-.9zM456 188.8h.9v.9h-.9zM456.1 192.2h.9v.9h-.9zM456.2 182.4h.9v.9h-.9zM455.5 188.7h.9v.9h-.9zM456 180.6h.9v.9h-.9zM455.6 188.8h.9v.9h-.9zM456.7 180.2h.9v.9h-.9zM455.5 184.9h.9v.9h-.9zM455.5 181.1h.9v.9h-.9zM455.5 194.5h.9v.9h-.9zM456.1 186.5h.9v.9h-.9zM456.7 197.1h.9v.9h-.9zM456.1 192h.9v.9h-.9zM455.5 189.7h.9v.9h-.9zM455.4 173h.9v.9h-.9zM456 180.5h.9v.9h-.9zM456.7 183h.9v.9h-.9zM455.6 178.2h.9v.9h-.9z" fill="#c21e1e" fill-opacity=".7"/><path d="M494.9 181.9h.9v.9h-.9zM491.2 186.8h.9v.9h-.9zM489.2 180.3h.9v.9h-.9zM495.5 181.2h.9v.9h-.9zM495.2 180.1h.9v.9h-.9zM488.8 173.4h.9v.9h-.9zM482.8 196.3h.9v.9h-.9zM489.3 183.9h.9v.9h-.9zM494.5 178h.9v.9h-.9zM491.5 192.3h.9v.9h-.9zM494.3 194.2h.9v.9h-.9zM491.1 177.6h.9v.9h-.9zM491.6 188.9h.9v.9h-.9zM487.9 184.3h.9v.9h-.9zM491.4 197.1h.9v.9h-.9zM489.2 181.6h.9v.9h-.9zM490.8 182.5h.9v.9h-.9zM491.7 183.1h.9v.9h-.9zM487.2 182.1h.9v.9h-.9zM484.9 195.4h.9v.9h-.9zM496.3 185.4h.9v.9h-.9zM492.3 189.8h.9v.9h-.9zM492.6 181.1h.9v.9h-.9zM488.5 190.5h.9v.9h-.9zM490.6 188.4h.9v.9h-.9zM490.1 190.9h.9v.9h-.9zM491 187.4h.9v.9h-.9zM493.5 174.8h.9v.9h-.9zM494.7 193.4h.9v.9h-.9zM489.9 177h.9v.9h-.9zM492.9 181.1h.9v.9h-.9zM488.1 194.7h.9v.9h-.9zM491.1 180h.9v.9h-.9zM487 188.2h.9v.9h-.9zM492.7 188.2h.9v.9h-.9zM487.6 182.2h.9v.9h-.9zM491.4 183.8h.9v.9h-.9zM491.8 184.1h.9v.9h-.9zM491.3 187h.9v.9h-.9zM493.7 193.1h.9v.9h-.9zM491.4 174.7h.9v.9h-.9zM496.5 177.6h.9v.9h-.9zM492.4 192.6h.9v.9h-.9zM493.7 193.3h.9v.9h-.9zM491.6 197.1h.9v.9h-.9zM493.4 176.9h.9v.9h-.9zM494 184.2h.9v.9h-.9zM495.3 182.1h.9v.9h-.9zM494.5 178.8h.9v.9h-.9zM490.6 185.4h.9v.9h-.9zM495.5 181.5h.9v.9h-.9zM492.7 192.2h.9v.9h-.9zM485.3 194.6h.9v.9h-.9zM491.2 187.2h.9v.9h-.9zM498.2 185.7h.9v.9h-.9zM494 193h.9v.9h-.9zM496.6 192.8h.9v.9h-.9zM489.4 188.1h.9v.9h-.9zM486.6 179.2h.9v.9h-.9zM490.5 184.3h.9v.9h-.9zM489.6 181.7h.9v.9h-.9zM497.4 178.7h.9v.9h-.9zM493.3 179h.9v.9h-.9zM492.6 181.3h.9v.9h-.9zM485.7 174.8h.9v.9h-.9zM495.6 192.9h.9v.9h-.9zM490.5 185h.9v.9h-.9zM492.7 177.4h.9v.9h-.9zM493.7 197.1h.9v.9h-.9zM490 176.8h.9v.9h-.9zM489.5 186h.9v.9h-.9zM490.4 195.7h.9v.9h-.9zM493.7 182.8h.9v.9h-.9zM492.3 183.5h.9v.9h-.9zM488.8 194.5h.9v.9h-.9zM490.9 182.8h.9v.9h-.9zM496.4 184.4h.9v.9h-.9zM495 171.3h.9v.9h-.9zM493.9 179.7h.9v.9h-.9zM490.2 191h.9v.9h-.9zM497.6 173.2h.9v.9h-.9zM496.1 184.3h.9v.9h-.9zM489.9 191.8h.9v.9h-.9zM491.1 182.8h.9v.9h-.9zM490.7 184.7h.9v.9h-.9zM489.8 192h.9v.9h-.9zM497.2 180.9h.9v.9h-.9zM489.2 185.2h.9v.9h-.9zM488.9 186.5h.9v.9h-.9zM492 185.9h.9v.9h-.9zM489 187.7h.9v.9h-.9zM487.1 183.8h.9v.9h-.9zM491 186.2h.9v.9h-.9zM494.4 184.9h.9v.9h-.9zM488.1 188.3h.9v.9h-.9zM491 190.3h.9v.9h-.9zM497.2 194.5h.9v.9h-.9zM491.4 180.5h.9v.9h-.9zM492.3 184.9h.9v.9h-.9zM488.9 177.4h.9v.9h-.9zM495.5 180.5h.9v.9h-.9zM495 191.9h.9v.9h-.9zM488.3 188.2h.9v.9h-.9zM491.2 177.8h.9v.9h-.9zM489.3 186.7h.9v.9h-.9zM494.8 181.9h.9v.9h-.9zM490.8 191.8h.9v.9h-.9zM490.1 182.2h.9v.9h-.9zM486.3 188.4h.9v.9h-.9zM489.1 180.5h.9v.9h-.9zM489.9 181.8h.9v.9h-.9zM501.5 182.8h.9v.9h-.9zM494.1 178.8h.9v.9h-.9zM494.4 187.9h.9v.9h-.9zM490.2 197.1h.9v.9h-.9zM488.2 179.8h.9v.9h-.9zM481.6 172.9h.9v.9h-.9zM489 185.6h.9v.9h-.9zM494.2 185.5h.9v.9h-.9zM488.8 180.5h.9v.9h-.9zM497.1 183.4h.9v.9h-.9zM497.5 185.4h.9v.9h-.9zM490.2 183.8h.9v.9h-.9zM493.2 190.4h.9v.9h-.9zM490.2 188.8h.9v.9h-.9zM487.1 176.8h.9v.9h-.9zM486 183.3h.9v.9h-.9zM489.2 189.9h.9v.9h-.9zM490.3 183.5h.9v.9h-.9zM490.4 177.7h.9v.9h-.9zM487.2 196.7h.9v.9h-.9zM493.4 177.9h.9v.9h-.9zM487.3 187.9h.9v.9h-.9zM483.9 173h.9v.9h-.9zM489.8 182.7h.9v.9h-.9zM494.1 179.9h.9v.9h-.9zM487.1 188.4h.9v.9h-.9zM488.1 186.7h.9v.9h-.9zM485 183.8h.9v.9h-.9zM497.7 177.9h.9v.9h-.9zM491.2 185.3h.9v.9h-.9zM491.9 185.1h.9v.9h-.9zM494 182.1h.9v.9h-.9zM488.2 187h.9v.9h-.9zM492.2 175.8h.9v.9h-.9zM494 183.8h.9v.9h-.9zM494.8 185.9h.9v.9h-.9zM487.2 183.8h.9v.9h-.9zM493.8 191.7h.9v.9h-.9zM490.9 189.5h.9v.9h-.9zM496 187.6h.9v.9h-.9zM496.4 189.6h.9v.9h-.9zM488.2 179h.9v.9h-.9zM488.6 195.5h.9v.9h-.9zM495.5 180.9h.9v.9h-.9zM491.4 197.1h.9v.9h-.9zM488.7 186h.9v.9h-.9zM490.3 190.7h.9v.9h-.9zM485 187.8h.9v.9h-.9zM492.1 192.4h.9v.9h-.9zM492.9 188.1h.9v.9h-.9zM488.2 187.5h.9v.9h-.9zM489.7 196.1h.9v.9h-.9zM492.6 186.2h.9v.9h-.9zM492 186.4h.9v.9h-.9zM490.1 189.6h.9v.9h-.9zM491.4 181h.9v.9h-.9zM494.5 190.2h.9v.9h-.9zM495.4 183.7h.9v.9h-.9zM494.7 194.5h.9v.9h-.9zM493.7 188.3h.9v.9h-.9zM491.3 177.3h.9v.9h-.9zM488 185.7h.9v.9h-.9zM495.1 189h.9v.9h-.9zM489.7 187.2h.9v.9h-.9zM491.1 182h.9v.9h-.9zM491.4 190.8h.9v.9h-.9zM487.6 183.7h.9v.9h-.9zM491.4 180.4h.9v.9h-.9zM488.3 188.5h.9v.9h-.9zM498.8 186.5h.9v.9h-.9zM489.7 194.9h.9v.9h-.9zM492 175.5h.9v.9h-.9zM489.6 175.2h.9v.9h-.9zM490.4 194.2h.9v.9h-.9zM498.4 197.1h.9v.9h-.9zM494.9 184.2h.9v.9h-.9zM489.3 183.9h.9v.9h-.9zM487.8 180.9h.9v.9h-.9zM492.7 186.8h.9v.9h-.9zM492.2 185.2h.9v.9h-.9zM486.5 189.2h.9v.9h-.9zM491.6 190.6h.9v.9h-.9zM492.1 180.5h.9v.9h-.9zM494.7 190.5h.9v.9h-.9zM490.6 190.1h.9v.9h-.9zM493.1 183.4h.9v.9h-.9zM492.3 181.9h.9v.9h-.9zM496.1 183.6h.9v.9h-.9zM494.8 196.1h.9v.9h-.9zM491.7 189.9h.9v.9h-.9zM496.5 175.6h.9v.9h-.9zM498.8 189.5h.9v.9h-.9zM487.4 187h.9v.9h-.9zM498.9 186.7h.9v.9h-.9zM496.2 192.1h.9v.9h-.9zM489.4 188.2h.9v.9h-.9zM497.5 181.8h.9v.9h-.9zM491.9 183.1h.9v.9h-.9zM489.7 185h.9v.9h-.9zM484.3 182.6h.9v.9h-.9zM485.7 180.8h.9v.9h-.9zM489.6 191.9h.9v.9h-.9zM487.8 191h.9v.9h-.9zM490.1 181.8h.9v.9h-.9zM485.8 187h.9v.9h-.9zM491.3 190.6h.9v.9h-.9zM489.4 174.6h.9v.9h-.9zM493.4 193.6h.9v.9h-.9zM491.6 186.9h.9v.9h-.9zM493.2 187.6h.9v.9h-.9zM500.3 185.6h.9v.9h-.9zM493.3 191.2h.9v.9h-.9zM493.4 176.7h.9v.9h-.9zM492.9 184.3h.9v.9h-.9zM488.2 191.4h.9v.9h-.9zM489.3 188.4h.9v.9h-.9zM489.2 189.5h.9v.9h-.9zM496.1 181.4h.9v.9h-.9zM488.9 191.4h.9v.9h-.9zM488.5 192.1h.9v.9h-.9zM492.8 181.1h.9v.9h-.9zM489.6 193.6h.9v.9h-.9zM494.4 187h.9v.9h-.9zM492.3 192.3h.9v.9h-.9zM489.5 188.1h.9v.9h-.9zM493.1 193.6h.9v.9h-.9zM490.3 185.2h.9v.9h-.9zM492.5 185h.9v.9h-.9zM490.7 189.3h.9v.9h-.9zM489.9 184.7h.9v.9h-.9zM492.4 186.9h.9v.9h-.9zM490.3 185.8h.9v.9h-.9zM487.5 182.1h.9v.9h-.9zM489.1 180.2h.9v.9h-.9zM496.7 197.1h.9v.9h-.9zM490.7 185.7h.9v.9h-.9zM491.1 184.2h.9v.9h-.9zM489.6 191.3h.9v.9h-.9zM493.3 179.1h.9v.9h-.9zM492.3 181.6h.9v.9h-.9zM493.7 182h.9v.9h-.9zM492.6 182.1h.9v.9h-.9zM490.9 188.3h.9v.9h-.9zM493.9 178.6h.9v.9h-.9zM489.7 181.7h.9v.9h-.9zM485.8 187.6h.9v.9h-.9zM490.8 184.6h.9v.9h-.9zM488.8 196.1h.9v.9h-.9zM488.5 171.7h.9v.9h-.9z" fill="#c81212" fill-opacity=".8"/></g><path d="M455 144.7H518.6V198.4" fill="none" stroke="#5a5a5a" stroke-width="1"/><path d="M455 144.7V198.4H518.6" fill="none" stroke="#1a1a1a" stroke-width="1.3"/><path d="M453.7 194.6h1.3M459.5 198.4v1.3M453.7 190.7h1.3M464.1 198.4v1.3M453.7 186.9h1.3M468.6 198.4v1.3M453.7 183.1h1.3M473.2 198.4v1.3M453.7 179.2h1.3M477.7 198.4v1.3M453.7 175.4h1.3M482.3 198.4v1.3M453.7 171.6h1.3M486.8 198.4v1.3M453.7 167.7h1.3M491.3 198.4v1.3M453.7 163.9h1.3M495.9 198.4v1.3M453.7 160h1.3M500.4 198.4v1.3M453.7 156.2h1.3M505 198.4v1.3M453.7 152.4h1.3M509.5 198.4v1.3M453.7 148.5h1.3M514.1 198.4v1.3" stroke="#222" stroke-width=".6"/><line x1="475.8" y1="144.7" x2="475.8" y2="198.4" stroke="#303030" stroke-width="1.05"/><line x1="455" y1="171.6" x2="518.6" y2="171.6" stroke="#303030" stroke-width="1.05"/><text x="506.6" y="150.4" font-size="6.1" fill="#151515" stroke="#151515" stroke-width=".15" textLength="10.1" lengthAdjust="spacingAndGlyphs">1.61</text><text x="1.2" y="248.6" font-size="11" text-anchor="start" font-weight="bold" fill="#000" >B</text><line x1="53.7" y1="240.3" x2="53.7" y2="337.5" stroke="#111" stroke-width="1.3"/><line x1="53" y1="336.7" x2="207.6" y2="336.7" stroke="#111" stroke-width="1.3"/><line x1="50.2" y1="336.7" x2="53.7" y2="336.7" stroke="#111" stroke-width="1.1"/><text x="49.6" y="339" font-size="6.6" text-anchor="end" font-weight="normal" fill="#222" stroke="#222" stroke-width=".15">0</text><line x1="50.2" y1="304.9" x2="53.7" y2="304.9" stroke="#111" stroke-width="1.1"/><text x="49.6" y="307.2" font-size="6.6" text-anchor="end" font-weight="normal" fill="#222" stroke="#222" stroke-width=".15">50</text><line x1="50.2" y1="273.1" x2="53.7" y2="273.1" stroke="#111" stroke-width="1.1"/><text x="49.6" y="275.4" font-size="6.6" text-anchor="end" font-weight="normal" fill="#222" stroke="#222" stroke-width=".15">100</text><line x1="50.2" y1="241.3" x2="53.7" y2="241.3" stroke="#111" stroke-width="1.1"/><text x="49.6" y="243.6" font-size="6.6" text-anchor="end" font-weight="normal" fill="#222" stroke="#222" stroke-width=".15">150</text><line x1="53.7" y1="336.7" x2="53.7" y2="339.2" stroke="#111" stroke-width="1.1"/><text x="53.7" y="346" font-size="6.6" text-anchor="middle" font-weight="normal" fill="#222" stroke="#222" stroke-width=".15">0</text><line x1="70.7" y1="336.7" x2="70.7" y2="339.2" stroke="#111" stroke-width="1.1"/><text x="70.7" y="346" font-size="6.6" text-anchor="middle" font-weight="normal" fill="#222" stroke="#222" stroke-width=".15">20</text><line x1="87.7" y1="336.7" x2="87.7" y2="339.2" stroke="#111" stroke-width="1.1"/><text x="87.7" y="346" font-size="6.6" text-anchor="middle" font-weight="normal" fill="#222" stroke="#222" stroke-width=".15">40</text><line x1="104.7" y1="336.7" x2="104.7" y2="339.2" stroke="#111" stroke-width="1.1"/><text x="104.7" y="346" font-size="6.6" text-anchor="middle" font-weight="normal" fill="#222" stroke="#222" stroke-width=".15">60</text><line x1="121.7" y1="336.7" x2="121.7" y2="339.2" stroke="#111" stroke-width="1.1"/><text x="121.7" y="346" font-size="6.6" text-anchor="middle" font-weight="normal" fill="#222" stroke="#222" stroke-width=".15">80</text><line x1="138.8" y1="336.7" x2="138.8" y2="339.2" stroke="#111" stroke-width="1.1"/><text x="138.8" y="346" font-size="6.6" text-anchor="middle" font-weight="normal" fill="#222" stroke="#222" stroke-width=".15">100</text><line x1="155.8" y1="336.7" x2="155.8" y2="339.2" stroke="#111" stroke-width="1.1"/><text x="155.8" y="346" font-size="6.6" text-anchor="middle" font-weight="normal" fill="#222" stroke="#222" stroke-width=".15">120</text><line x1="172.8" y1="336.7" x2="172.8" y2="339.2" stroke="#111" stroke-width="1.1"/><text x="172.8" y="346" font-size="6.6" text-anchor="middle" font-weight="normal" fill="#222" stroke="#222" stroke-width=".15">140</text><line x1="189.8" y1="336.7" x2="189.8" y2="339.2" stroke="#111" stroke-width="1.1"/><text x="189.8" y="346" font-size="6.6" text-anchor="middle" font-weight="normal" fill="#222" stroke="#222" stroke-width=".15">160</text><line x1="206.8" y1="336.7" x2="206.8" y2="339.2" stroke="#111" stroke-width="1.1"/><text x="206.8" y="346" font-size="6.6" text-anchor="middle" font-weight="normal" fill="#222" stroke="#222" stroke-width=".15">180</text><text transform="translate(31.6 322) rotate(-90)" font-size="9" fill="#111" stroke="#111" stroke-width=".22">Percent Survival</text><text x="98.8" y="358.6" font-size="9" text-anchor="start" font-weight="normal" fill="#222" stroke="#222" stroke-width=".22">Days After BMT</text><path d="M53.7 273.1L137.5 273.1L137.5 294.3L151.4 294.3L151.4 304.4L158.7 304.4L158.7 315.1L178.1 315.1L178.1 326L204.3 326L204.3 336.7" fill="none" stroke="#c23c4c" stroke-width="1.1"/><path d="M86.3 273.1L86.3 285.8L101.8 285.8L101.8 298.5L103.8 298.5L103.8 311.3L105.9 311.3L105.9 324L107.1 324L107.1 336.7" fill="none" stroke="#4a8a45" stroke-width="1.1"/><path d="M83.3 280.2L86.3 274.8L89.3 280.2Z" fill="#000"/><path d="M98.8 292.9L101.8 287.5L104.8 292.9Z" fill="#000"/><rect x="102.3" y="301.6" width="4.6" height="4.6" fill="#000"/><rect x="103.7" y="314.7" width="4.6" height="4.6" fill="#000"/><rect x="104.6" y="326.7" width="4.6" height="4.6" fill="#000"/><path d="M134.4 280.9L137.4 275.5L140.4 280.9Z" fill="#000"/><path d="M134.4 289.8L137.4 284.3L140.4 289.8Z" fill="#000"/><path d="M148.6 301.8L151.6 296.3L154.6 301.8Z" fill="#000"/><path d="M155.6 311.2L158.6 305.8L161.6 311.2Z" fill="#000"/><path d="M175 321.9L178 316.5L181 321.9Z" fill="#000"/><ellipse cx="204.3" cy="330.6" rx="2.9" ry="2.4" fill="#000"/><line x1="136.9" y1="249.4" x2="143.3" y2="249.4" stroke="#4a8a45" stroke-width="1"/><line x1="136.9" y1="255.7" x2="143.3" y2="255.7" stroke="#c23c4c" stroke-width="1"/><text x="147" y="251.6" font-size="6.6" text-anchor="start" font-weight="normal" fill="#222" >BCR/ABL (n=5)</text><text x="148.4" y="257.8" font-size="6.6" fill="#222"><tspan font-size="6.2">&#916;</tspan>UBD</text><text x="178.2" y="257.8" font-size="6.6" text-anchor="start" font-weight="normal" fill="#222" >(n=6)</text><text x="148.4" y="264.6" font-size="6.6" text-anchor="start" font-weight="normal" fill="#222" >p=0.0007</text><path d="M201.3 251.6L204 246.6L206.7 251.6Z" fill="#000"/><rect x="201.5" y="254" width="3.8" height="3.8" fill="#000"/><text x="208.9" y="251.6" font-size="6.6" text-anchor="start" font-weight="normal" fill="#222" >CML</text><text x="208.9" y="257.8" font-size="6.6" text-anchor="start" font-weight="normal" fill="#222" >B-ALL</text></g></svg></body></html>
